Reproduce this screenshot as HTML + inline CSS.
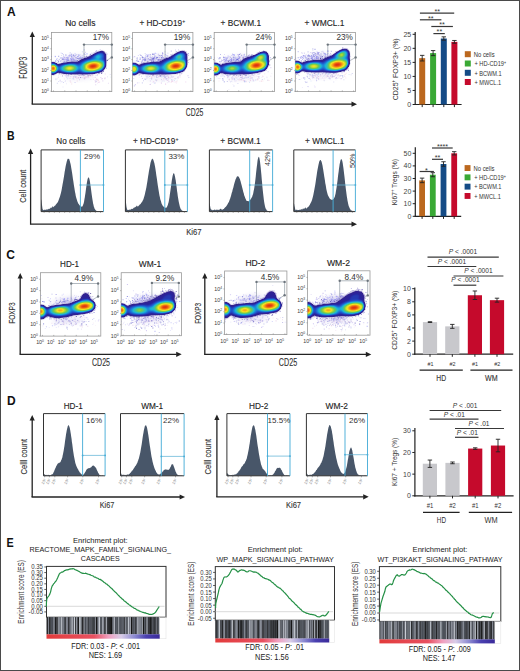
<!DOCTYPE html>
<html><head><meta charset="utf-8"><title>Figure</title>
<style>html,body{margin:0;padding:0;background:#fff;}body{width:520px;height:671px;overflow:hidden;font-family:"Liberation Sans",sans-serif;}svg{display:block;}</style>
</head><body>
<svg width="520" height="671" viewBox="0 0 520 671" font-family='"Liberation Sans", sans-serif'>
<defs>
<filter id="jet" x="-20%" y="-20%" width="140%" height="140%" color-interpolation-filters="sRGB">
<feGaussianBlur stdDeviation="1.1"/>
<feColorMatrix type="matrix" values="1 0 0 0 0 0 1 0 0 0 0 0 1 0 0 1 0 0 0 0"/>
<feComponentTransfer>
<feFuncR type="table" tableValues="1 0.2 0.16 0.12 0.1 0.45 0.97 0.96 0.86"/>
<feFuncG type="table" tableValues="1 0.13 0.14 0.35 0.72 0.8 0.9 0.5 0.14"/>
<feFuncB type="table" tableValues="1 0.56 0.62 0.82 0.86 0.3 0.12 0.08 0.06"/>
<feFuncA type="table" tableValues="0 1 1 1 1 1 1 1 1"/>
</feComponentTransfer>
</filter>
<filter id="soft" color-interpolation-filters="sRGB"><feGaussianBlur stdDeviation="0.35"/></filter>
<filter id="hz" x="-50%" y="-50%" width="200%" height="200%"><feGaussianBlur stdDeviation="2.5"/></filter>
<linearGradient id="rb" x1="0" x2="1" y1="0" y2="0">
<stop offset="0" stop-color="#e23b3b"/>
<stop offset="0.42" stop-color="#e85060"/>
<stop offset="0.55" stop-color="#f0a0c0"/>
<stop offset="0.66" stop-color="#d8cce8"/>
<stop offset="0.78" stop-color="#8a88d0"/>
<stop offset="0.88" stop-color="#4a40b0"/>
<stop offset="1" stop-color="#3a2a9a"/>
</linearGradient>
</defs>
<rect x="0" y="0" width="520" height="671" fill="#fff"/>
<text x="7" y="16.2" font-size="12" text-anchor="start" fill="#111" font-weight="bold">A</text>
<line x1="32.3" y1="104.2" x2="32.3" y2="36.5" stroke="#222" stroke-width="1.3"/>
<polygon points="32.3,31.5 29.7,37 34.9,37" fill="#222"/>
<line x1="31.65" y1="104.2" x2="352" y2="104.2" stroke="#222" stroke-width="1.3"/>
<polygon points="357,104.2 351.5,101.6 351.5,106.8" fill="#222"/>
<text x="26.6" y="67.7" font-size="10" text-anchor="middle" fill="#333" transform="rotate(-90 26.6 67.7)" textLength="22" lengthAdjust="spacingAndGlyphs" stroke="#333" stroke-width="0.12">FOXP3</text>
<text x="194.5" y="115.9" font-size="10.1" text-anchor="middle" fill="#333" textLength="17.6" lengthAdjust="spacingAndGlyphs" stroke="#333" stroke-width="0.12">CD25</text>
<rect x="51.5" y="32.4" width="60.3" height="59.2" fill="none" stroke="#9a9a9a" stroke-width="0.8"/>
<text x="48.9" y="40.2" font-size="5.3" text-anchor="end" fill="#3a3a3a">10<tspan font-size="3.29" dy="-2">5</tspan></text>
<line x1="50.3" y1="38.5" x2="51.5" y2="38.5" stroke="#888" stroke-width="0.6"/>
<text x="48.9" y="50.5" font-size="5.3" text-anchor="end" fill="#3a3a3a">10<tspan font-size="3.29" dy="-2">4</tspan></text>
<line x1="50.3" y1="48.8" x2="51.5" y2="48.8" stroke="#888" stroke-width="0.6"/>
<text x="48.9" y="61.3" font-size="5.3" text-anchor="end" fill="#3a3a3a">10<tspan font-size="3.29" dy="-2">3</tspan></text>
<line x1="50.3" y1="59.6" x2="51.5" y2="59.6" stroke="#888" stroke-width="0.6"/>
<text x="48.9" y="72.1" font-size="5.3" text-anchor="end" fill="#3a3a3a">10<tspan font-size="3.29" dy="-2">2</tspan></text>
<line x1="50.3" y1="70.4" x2="51.5" y2="70.4" stroke="#888" stroke-width="0.6"/>
<text x="48.9" y="82.7" font-size="5.3" text-anchor="end" fill="#3a3a3a">10<tspan font-size="3.29" dy="-2">1</tspan></text>
<line x1="50.3" y1="81" x2="51.5" y2="81" stroke="#888" stroke-width="0.6"/>
<text x="48.9" y="92.9" font-size="5.3" text-anchor="end" fill="#3a3a3a">10<tspan font-size="3.29" dy="-2">0</tspan></text>
<line x1="50.3" y1="91.2" x2="51.5" y2="91.2" stroke="#888" stroke-width="0.6"/>
<line x1="53.5" y1="91.6" x2="53.5" y2="90.4" stroke="#888" stroke-width="0.6"/>
<line x1="64.76" y1="91.6" x2="64.76" y2="90.4" stroke="#888" stroke-width="0.6"/>
<line x1="76.02" y1="91.6" x2="76.02" y2="90.4" stroke="#888" stroke-width="0.6"/>
<line x1="87.28" y1="91.6" x2="87.28" y2="90.4" stroke="#888" stroke-width="0.6"/>
<line x1="98.54" y1="91.6" x2="98.54" y2="90.4" stroke="#888" stroke-width="0.6"/>
<line x1="109.8" y1="91.6" x2="109.8" y2="90.4" stroke="#888" stroke-width="0.6"/>
<polyline points="84,62 84,44.6 111.8,44.6 111.8,57.4" fill="none" stroke="#a4acb4" stroke-width="0.85"/>
<line x1="111.8" y1="57.4" x2="105.8" y2="60.9" stroke="#a4acb4" stroke-width="0.8"/>
<circle cx="84" cy="44.6" r="1.2" fill="#6c747c"/>
<circle cx="111.8" cy="44.6" r="1.2" fill="#6c747c"/>
<circle cx="111.8" cy="57.4" r="1.2" fill="#6c747c"/>
<text x="109.1" y="40.2" font-size="8.2" text-anchor="end" fill="#333">17%</text>
<text x="80.3" y="26.2" font-size="8.8" text-anchor="middle" fill="#222" textLength="30.3" lengthAdjust="spacingAndGlyphs" stroke="#222" stroke-width="0.12">No cells</text>
<clipPath id="ca0"><rect x="51.5" y="32.4" width="60.3" height="59.2"/></clipPath>
<clipPath id="ca0e"><polygon points="48.5,62.8 54.5,63.3 57.8,65.6 60.5,64.4 69.7,63.1 77.7,62.6 81.1,59.9 88.1,57.7 93.1,55.5 98.1,52.8 102.6,51.5 105.1,53.8 105.3,59 104.9,66.2 102.1,70.7 93.1,72.7 81.7,73.5 69.7,73.2 60.5,72.2 57.8,71.2 54.5,73.5 48.5,74.2"/></clipPath>
<g clip-path="url(#ca0)">
<ellipse cx="73.5" cy="60.2" rx="13" ry="4" fill="#b8b0e0" opacity="0.45" filter="url(#hz)" transform="rotate(-8 73.5 60.2)"/>
<ellipse cx="79.5" cy="76.7" rx="15" ry="3" fill="#d0c8ec" opacity="0.35" filter="url(#hz)" transform="rotate(-3 79.5 76.7)"/>
<path d="M70.4 60.8h1.0v1.0h-1.0zM50.7 56.1h1.0v1.0h-1.0zM67.3 58.4h0.7v0.7h-0.7zM60.3 65.5h0.9v0.9h-0.9zM64.1 62.1h1.2v1.2h-1.2zM70.8 59.0h1.0v1.0h-1.0zM44.1 60.2h1.0v1.0h-1.0zM65.7 62.6h0.8v0.8h-0.8zM76.9 58.1h0.8v0.8h-0.8zM70.1 64.6h1.0v1.0h-1.0zM76.4 60.5h0.9v0.9h-0.9zM83.8 49.6h0.7v0.7h-0.7zM66.4 60.9h1.0v1.0h-1.0zM73.2 55.0h1.1v1.1h-1.1zM90.8 59.3h1.1v1.1h-1.1zM88.0 61.4h0.8v0.8h-0.8zM64.5 61.6h1.0v1.0h-1.0zM56.0 63.8h1.2v1.2h-1.2zM60.8 63.6h0.8v0.8h-0.8zM73.2 59.2h0.8v0.8h-0.8zM61.8 53.0h0.8v0.8h-0.8zM71.2 56.3h0.9v0.9h-0.9zM71.3 56.6h0.8v0.8h-0.8zM68.9 61.7h0.9v0.9h-0.9zM68.5 60.4h0.9v0.9h-0.9zM65.3 54.4h1.1v1.1h-1.1zM71.8 64.7h1.2v1.2h-1.2zM63.0 61.7h1.0v1.0h-1.0zM69.8 52.6h0.7v0.7h-0.7zM71.2 53.7h1.0v1.0h-1.0zM84.4 56.3h1.1v1.1h-1.1zM77.8 58.0h1.1v1.1h-1.1zM70.5 61.3h1.0v1.0h-1.0zM74.7 59.9h0.7v0.7h-0.7zM74.5 60.8h0.7v0.7h-0.7zM67.5 57.4h0.7v0.7h-0.7zM69.6 55.5h0.8v0.8h-0.8zM84.1 62.2h0.7v0.7h-0.7z" fill="#5a5ad0" opacity="0.6"/>
<path d="M83.9 61.5h1.2v1.2h-1.2zM51.4 64.6h0.7v0.7h-0.7zM76.2 60.5h0.9v0.9h-0.9zM76.7 60.9h0.8v0.8h-0.8zM76.2 57.5h0.8v0.8h-0.8zM64.0 61.5h0.9v0.9h-0.9zM68.4 61.0h0.8v0.8h-0.8zM76.4 54.0h0.9v0.9h-0.9zM72.9 58.0h0.8v0.8h-0.8zM72.3 57.7h1.1v1.1h-1.1zM75.2 54.8h1.1v1.1h-1.1zM82.0 63.4h1.0v1.0h-1.0zM61.2 55.0h0.7v0.7h-0.7zM66.4 58.8h0.9v0.9h-0.9zM70.9 55.6h0.8v0.8h-0.8zM54.7 55.8h1.0v1.0h-1.0zM72.2 60.1h1.2v1.2h-1.2zM58.8 59.0h1.1v1.1h-1.1zM75.9 60.0h1.0v1.0h-1.0zM72.3 55.5h0.8v0.8h-0.8zM75.5 61.6h0.8v0.8h-0.8zM95.2 51.1h0.9v0.9h-0.9zM53.3 63.5h0.9v0.9h-0.9zM66.1 57.1h1.0v1.0h-1.0zM68.1 57.8h0.9v0.9h-0.9zM78.5 58.6h0.9v0.9h-0.9zM62.0 60.7h0.7v0.7h-0.7zM89.2 59.0h1.1v1.1h-1.1zM79.3 57.6h1.1v1.1h-1.1zM84.2 58.4h1.0v1.0h-1.0zM66.3 61.5h0.9v0.9h-0.9zM85.0 65.3h0.8v0.8h-0.8zM63.5 65.1h0.9v0.9h-0.9zM74.3 60.1h0.8v0.8h-0.8z" fill="#8080e0" opacity="0.4"/>
<path d="M69.6 59.8h0.7v0.7h-0.7zM66.5 68.0h0.8v0.8h-0.8zM71.2 58.2h1.1v1.1h-1.1zM61.9 62.5h0.7v0.7h-0.7zM90.0 53.5h1.0v1.0h-1.0zM79.9 54.5h0.8v0.8h-0.8zM81.7 55.2h1.2v1.2h-1.2zM66.9 58.6h0.9v0.9h-0.9zM68.2 55.1h0.8v0.8h-0.8zM71.2 63.9h1.0v1.0h-1.0zM64.9 58.5h0.7v0.7h-0.7zM68.7 56.2h1.1v1.1h-1.1zM64.4 60.0h1.1v1.1h-1.1zM64.2 60.9h1.0v1.0h-1.0zM74.5 53.3h1.2v1.2h-1.2zM70.4 54.6h1.1v1.1h-1.1zM63.1 56.0h1.1v1.1h-1.1zM60.7 52.6h0.8v0.8h-0.8zM81.2 58.1h0.8v0.8h-0.8zM66.6 64.7h0.7v0.7h-0.7zM62.6 58.4h0.9v0.9h-0.9zM88.8 56.3h0.8v0.8h-0.8zM84.5 60.0h0.9v0.9h-0.9zM88.6 60.8h1.1v1.1h-1.1zM75.3 60.1h0.8v0.8h-0.8zM94.3 61.2h0.9v0.9h-0.9zM72.9 57.0h0.8v0.8h-0.8zM61.1 57.2h1.0v1.0h-1.0zM75.5 58.7h1.0v1.0h-1.0zM72.6 55.6h1.1v1.1h-1.1zM84.8 58.1h1.0v1.0h-1.0z" fill="#9090ff" opacity="0.4"/>
<path d="M64.4 56.7h1.0v1.0h-1.0zM73.5 63.4h1.0v1.0h-1.0zM54.8 56.4h0.9v0.9h-0.9zM63.3 57.4h1.1v1.1h-1.1zM75.5 62.2h1.0v1.0h-1.0zM70.8 60.8h1.1v1.1h-1.1zM57.2 60.1h1.0v1.0h-1.0zM80.8 58.8h0.8v0.8h-0.8zM87.0 60.9h0.9v0.9h-0.9zM72.0 58.4h0.8v0.8h-0.8zM70.6 58.3h0.8v0.8h-0.8zM65.4 65.0h0.7v0.7h-0.7zM91.5 65.1h0.8v0.8h-0.8zM70.9 61.8h0.8v0.8h-0.8zM68.6 62.1h0.9v0.9h-0.9zM70.3 61.5h0.9v0.9h-0.9zM79.3 59.8h0.8v0.8h-0.8zM64.3 58.8h1.2v1.2h-1.2zM82.5 59.4h0.8v0.8h-0.8zM65.9 60.7h0.8v0.8h-0.8zM72.9 59.7h1.0v1.0h-1.0zM74.7 54.9h0.9v0.9h-0.9zM70.5 62.6h1.0v1.0h-1.0zM84.9 51.8h1.0v1.0h-1.0z" fill="#b0a0e8" opacity="0.6"/>
<path d="M81.5 57.9h0.8v0.8h-0.8zM72.4 62.4h0.8v0.8h-0.8zM74.7 56.5h0.8v0.8h-0.8zM82.2 57.4h1.0v1.0h-1.0zM61.2 60.4h0.9v0.9h-0.9zM90.1 53.9h0.8v0.8h-0.8zM42.7 59.9h1.1v1.1h-1.1zM89.9 60.7h0.8v0.8h-0.8zM70.6 61.4h0.8v0.8h-0.8zM80.0 60.5h1.0v1.0h-1.0zM59.9 57.6h1.0v1.0h-1.0zM80.6 62.1h1.2v1.2h-1.2zM78.3 54.9h1.2v1.2h-1.2zM88.5 60.8h0.9v0.9h-0.9zM71.4 61.9h1.1v1.1h-1.1zM55.6 60.6h0.7v0.7h-0.7zM78.3 54.2h1.1v1.1h-1.1zM81.2 60.0h0.8v0.8h-0.8zM76.2 57.5h0.7v0.7h-0.7zM75.2 61.6h1.0v1.0h-1.0zM81.9 51.4h0.8v0.8h-0.8zM69.3 54.4h1.1v1.1h-1.1zM59.8 60.6h1.1v1.1h-1.1zM79.2 57.4h1.1v1.1h-1.1zM67.6 59.4h1.2v1.2h-1.2zM89.0 55.8h0.8v0.8h-0.8zM72.0 59.3h0.7v0.7h-0.7zM82.9 64.1h1.2v1.2h-1.2z" fill="#8080e0" opacity="0.6"/>
<path d="M64.1 56.9h0.8v0.8h-0.8zM68.8 55.7h0.8v0.8h-0.8zM75.4 59.4h0.8v0.8h-0.8zM86.1 55.0h0.8v0.8h-0.8zM83.2 59.1h0.9v0.9h-0.9zM73.9 58.7h1.0v1.0h-1.0zM70.8 67.3h1.2v1.2h-1.2zM67.6 57.4h0.8v0.8h-0.8zM89.6 64.2h1.1v1.1h-1.1zM65.7 55.4h0.8v0.8h-0.8zM66.1 60.6h0.8v0.8h-0.8zM73.2 55.4h1.0v1.0h-1.0zM73.6 61.5h1.2v1.2h-1.2zM76.2 57.2h0.8v0.8h-0.8zM68.1 56.6h0.9v0.9h-0.9zM70.8 56.5h0.7v0.7h-0.7zM77.4 56.3h0.9v0.9h-0.9zM66.5 60.6h1.2v1.2h-1.2zM70.0 60.0h0.9v0.9h-0.9zM71.7 56.9h1.1v1.1h-1.1zM69.7 59.7h0.8v0.8h-0.8zM62.9 58.0h1.1v1.1h-1.1zM72.7 58.0h1.0v1.0h-1.0zM68.0 57.1h0.9v0.9h-0.9zM70.2 60.8h1.1v1.1h-1.1z" fill="#b0a0e8" opacity="0.4"/>
<path d="M73.1 62.3h1.1v1.1h-1.1zM74.6 61.1h0.9v0.9h-0.9zM61.6 57.5h1.2v1.2h-1.2zM61.7 58.5h1.1v1.1h-1.1zM80.3 61.9h1.1v1.1h-1.1zM64.1 61.8h0.8v0.8h-0.8zM79.2 58.0h1.1v1.1h-1.1zM84.3 57.2h1.1v1.1h-1.1zM81.5 58.7h0.9v0.9h-0.9zM82.1 60.4h1.1v1.1h-1.1zM65.9 60.5h0.7v0.7h-0.7zM73.8 62.9h1.0v1.0h-1.0zM74.6 60.6h0.9v0.9h-0.9zM84.9 54.1h0.7v0.7h-0.7zM80.1 65.4h1.0v1.0h-1.0zM86.4 59.9h0.9v0.9h-0.9zM57.5 62.3h1.1v1.1h-1.1zM80.4 57.5h0.8v0.8h-0.8zM58.0 55.8h1.2v1.2h-1.2zM74.1 55.9h0.8v0.8h-0.8zM71.0 60.0h0.9v0.9h-0.9zM80.8 59.1h1.0v1.0h-1.0zM72.9 54.2h1.1v1.1h-1.1zM92.2 56.4h0.7v0.7h-0.7zM83.2 59.9h0.9v0.9h-0.9zM66.8 61.8h0.9v0.9h-0.9zM82.4 62.3h1.0v1.0h-1.0z" fill="#5a5ad0" opacity="0.4"/>
<path d="M66.5 60.8h0.8v0.8h-0.8zM68.1 59.5h0.9v0.9h-0.9zM70.1 58.1h1.2v1.2h-1.2zM63.6 57.3h1.0v1.0h-1.0zM56.1 59.2h0.9v0.9h-0.9zM88.2 61.1h1.1v1.1h-1.1zM72.7 58.6h1.0v1.0h-1.0zM81.0 59.4h0.7v0.7h-0.7zM56.6 58.2h1.0v1.0h-1.0zM86.7 60.3h1.2v1.2h-1.2zM74.7 64.6h0.8v0.8h-0.8zM66.1 64.2h1.1v1.1h-1.1zM76.5 61.0h1.2v1.2h-1.2zM71.4 60.9h0.8v0.8h-0.8zM74.1 62.7h1.2v1.2h-1.2zM79.2 59.0h0.8v0.8h-0.8zM77.3 56.2h1.1v1.1h-1.1zM76.4 61.0h0.7v0.7h-0.7zM71.0 59.5h1.0v1.0h-1.0zM91.8 61.0h1.2v1.2h-1.2zM55.0 56.1h0.8v0.8h-0.8zM77.3 63.4h1.0v1.0h-1.0zM71.2 55.6h1.0v1.0h-1.0zM86.4 53.3h1.2v1.2h-1.2zM74.0 59.2h0.9v0.9h-0.9z" fill="#9090ff" opacity="0.6"/>
<path d="M71.2 62.5h0.9v0.9h-0.9zM80.2 56.6h0.9v0.9h-0.9zM77.5 56.1h0.9v0.9h-0.9zM55.0 60.6h1.2v1.2h-1.2zM80.8 57.3h1.0v1.0h-1.0zM55.2 63.8h1.1v1.1h-1.1zM76.3 60.1h0.7v0.7h-0.7zM72.7 60.7h0.7v0.7h-0.7zM65.7 59.0h1.1v1.1h-1.1zM82.0 61.3h1.1v1.1h-1.1zM67.2 56.8h0.9v0.9h-0.9z" fill="#9090ff" opacity="0.8"/>
<path d="M65.7 57.3h1.1v1.1h-1.1zM74.9 57.2h1.1v1.1h-1.1zM69.2 54.9h0.9v0.9h-0.9zM75.4 63.6h0.7v0.7h-0.7zM78.5 58.2h0.7v0.7h-0.7zM72.6 61.8h1.1v1.1h-1.1z" fill="#b0a0e8" opacity="0.8"/>
<path d="M62.9 54.6h0.7v0.7h-0.7zM66.8 60.2h0.9v0.9h-0.9zM61.9 58.9h0.9v0.9h-0.9zM82.4 57.1h0.7v0.7h-0.7zM73.2 60.8h0.8v0.8h-0.8zM58.1 60.8h0.9v0.9h-0.9zM67.4 58.7h0.9v0.9h-0.9zM77.0 61.7h0.9v0.9h-0.9z" fill="#5a5ad0" opacity="0.8"/>
<path d="M72.4 60.9h1.0v1.0h-1.0zM83.8 53.4h1.0v1.0h-1.0zM63.2 59.1h1.1v1.1h-1.1z" fill="#8080e0" opacity="0.8"/>
<path d="M63.8 78.6h1.0v1.0h-1.0zM80.3 72.7h0.9v0.9h-0.9zM66.1 76.7h0.9v0.9h-0.9zM76.1 76.2h1.1v1.1h-1.1zM97.3 82.8h0.7v0.7h-0.7zM70.7 72.5h0.9v0.9h-0.9zM76.5 78.4h0.9v0.9h-0.9zM97.9 82.0h1.1v1.1h-1.1zM98.5 74.2h0.8v0.8h-0.8zM73.5 76.7h1.0v1.0h-1.0zM94.8 77.0h1.0v1.0h-1.0zM96.2 81.0h0.9v0.9h-0.9zM98.9 81.5h1.2v1.2h-1.2zM96.3 79.3h1.1v1.1h-1.1zM76.2 77.2h1.2v1.2h-1.2zM100.8 78.4h1.0v1.0h-1.0zM104.7 77.3h0.9v0.9h-0.9zM94.6 80.1h1.0v1.0h-1.0zM85.2 76.5h1.2v1.2h-1.2zM91.9 73.1h0.9v0.9h-0.9zM77.6 77.6h1.0v1.0h-1.0z" fill="#e0b0e0" opacity="0.4"/>
<path d="M71.5 73.1h1.0v1.0h-1.0zM75.7 72.9h0.9v0.9h-0.9zM75.0 75.8h1.2v1.2h-1.2zM90.4 71.7h0.9v0.9h-0.9zM66.4 77.2h0.7v0.7h-0.7zM112.5 77.2h1.0v1.0h-1.0zM58.1 74.6h0.8v0.8h-0.8zM62.5 72.8h1.1v1.1h-1.1zM95.3 80.6h1.2v1.2h-1.2zM66.8 78.3h0.9v0.9h-0.9zM81.2 77.2h0.7v0.7h-0.7zM83.7 78.2h0.9v0.9h-0.9zM110.4 76.7h0.7v0.7h-0.7zM90.2 69.8h0.8v0.8h-0.8zM97.0 78.9h0.9v0.9h-0.9zM78.3 72.9h1.1v1.1h-1.1zM84.4 78.7h0.8v0.8h-0.8z" fill="#a0c0f0" opacity="0.4"/>
<path d="M76.4 71.3h0.8v0.8h-0.8zM78.8 75.2h0.8v0.8h-0.8zM92.1 73.9h1.0v1.0h-1.0zM78.2 77.4h1.0v1.0h-1.0zM81.3 74.5h1.1v1.1h-1.1zM69.7 80.4h1.0v1.0h-1.0zM96.1 78.6h1.1v1.1h-1.1zM92.9 79.2h0.8v0.8h-0.8zM104.8 73.5h0.9v0.9h-0.9zM94.8 81.4h1.2v1.2h-1.2zM90.2 75.6h1.0v1.0h-1.0zM69.5 78.0h0.8v0.8h-0.8zM104.5 77.7h0.8v0.8h-0.8z" fill="#e0b0e0" opacity="0.6"/>
<path d="M95.1 84.2h1.1v1.1h-1.1zM81.8 73.6h0.8v0.8h-0.8zM107.9 82.8h0.9v0.9h-0.9zM92.6 73.0h0.8v0.8h-0.8zM83.7 78.4h0.9v0.9h-0.9zM101.7 78.0h1.2v1.2h-1.2zM84.3 77.4h1.1v1.1h-1.1zM100.3 77.0h1.1v1.1h-1.1zM79.0 78.9h0.8v0.8h-0.8zM77.1 68.4h0.9v0.9h-0.9zM78.0 77.0h1.1v1.1h-1.1zM75.0 76.7h0.8v0.8h-0.8zM96.0 69.8h0.8v0.8h-0.8zM94.8 76.7h0.7v0.7h-0.7zM65.7 71.5h1.1v1.1h-1.1zM90.5 79.3h0.8v0.8h-0.8zM102.3 80.3h1.1v1.1h-1.1z" fill="#c0a0e0" opacity="0.4"/>
<path d="M93.2 74.6h0.7v0.7h-0.7zM83.0 76.5h0.8v0.8h-0.8zM75.3 70.7h0.8v0.8h-0.8zM95.6 79.0h1.0v1.0h-1.0zM80.0 77.6h0.7v0.7h-0.7zM96.7 75.4h0.8v0.8h-0.8zM62.4 74.0h0.8v0.8h-0.8zM83.8 76.4h1.1v1.1h-1.1zM73.0 76.8h0.9v0.9h-0.9zM57.6 77.5h0.7v0.7h-0.7zM61.9 74.9h0.8v0.8h-0.8zM84.8 73.6h1.0v1.0h-1.0zM97.5 78.8h1.1v1.1h-1.1zM76.7 80.4h1.2v1.2h-1.2zM71.1 83.4h1.1v1.1h-1.1zM54.8 72.6h0.8v0.8h-0.8zM95.9 72.3h1.0v1.0h-1.0zM88.5 74.9h1.2v1.2h-1.2zM90.0 74.7h1.1v1.1h-1.1zM91.1 75.3h0.8v0.8h-0.8z" fill="#f0c0d0" opacity="0.4"/>
<path d="M68.2 74.4h1.1v1.1h-1.1zM47.9 79.2h0.8v0.8h-0.8zM79.2 79.6h0.7v0.7h-0.7zM70.6 69.2h0.7v0.7h-0.7zM96.9 74.5h1.0v1.0h-1.0zM56.9 71.5h1.1v1.1h-1.1zM109.8 74.3h0.7v0.7h-0.7zM95.7 81.6h0.7v0.7h-0.7z" fill="#a0a0e0" opacity="0.6"/>
<path d="M76.8 75.1h0.9v0.9h-0.9zM88.4 75.2h0.8v0.8h-0.8zM84.9 75.9h1.1v1.1h-1.1zM88.9 74.5h0.8v0.8h-0.8zM92.4 74.2h0.7v0.7h-0.7z" fill="#f0c0d0" opacity="0.2"/>
<path d="M82.1 77.0h1.1v1.1h-1.1zM87.6 76.4h1.0v1.0h-1.0zM103.6 72.6h0.7v0.7h-0.7zM92.6 77.2h1.0v1.0h-1.0zM67.4 77.5h1.1v1.1h-1.1z" fill="#c0a0e0" opacity="0.2"/>
<path d="M68.6 72.4h1.0v1.0h-1.0zM70.4 81.8h0.9v0.9h-0.9zM88.0 76.4h1.2v1.2h-1.2zM79.6 74.0h1.0v1.0h-1.0zM91.8 75.7h0.7v0.7h-0.7zM97.2 74.1h0.8v0.8h-0.8zM97.6 80.0h1.2v1.2h-1.2zM84.3 77.7h1.1v1.1h-1.1z" fill="#f0c0d0" opacity="0.6"/>
<path d="M75.9 73.3h0.8v0.8h-0.8zM93.4 72.1h0.9v0.9h-0.9zM92.3 72.0h1.0v1.0h-1.0zM72.6 78.1h1.1v1.1h-1.1zM95.6 74.9h0.9v0.9h-0.9z" fill="#a0c0f0" opacity="0.6"/>
<path d="M84.3 75.0h1.1v1.1h-1.1zM87.2 75.0h1.0v1.0h-1.0zM69.9 77.7h0.8v0.8h-0.8zM74.5 76.5h0.8v0.8h-0.8zM73.3 78.7h1.1v1.1h-1.1z" fill="#a0a0e0" opacity="0.2"/>
<path d="M85.9 74.2h0.9v0.9h-0.9zM94.5 74.4h0.7v0.7h-0.7zM78.4 74.8h1.0v1.0h-1.0z" fill="#a0c0f0" opacity="0.2"/>
<path d="M104.4 78.3h0.9v0.9h-0.9zM86.7 76.3h1.0v1.0h-1.0zM74.3 74.6h0.7v0.7h-0.7zM75.1 77.2h0.8v0.8h-0.8zM92.0 74.2h1.2v1.2h-1.2zM88.1 75.7h0.9v0.9h-0.9zM65.3 74.6h0.8v0.8h-0.8z" fill="#c0a0e0" opacity="0.6"/>
<path d="M85.9 77.1h1.0v1.0h-1.0z" fill="#e0b0e0" opacity="0.2"/>
<path d="M84.4 77.6h0.7v0.7h-0.7zM74.0 75.8h0.7v0.7h-0.7zM60.5 73.6h1.1v1.1h-1.1zM107.0 76.4h0.9v0.9h-0.9zM67.1 74.9h1.2v1.2h-1.2z" fill="#a0a0e0" opacity="0.4"/>
<path d="M65.0 75.7h0.9v0.9h-0.9zM64.2 74.6h1.0v1.0h-1.0zM65.9 83.4h0.9v0.9h-0.9zM47.8 72.2h0.9v0.9h-0.9zM68.1 74.7h0.9v0.9h-0.9zM53.2 75.0h1.1v1.1h-1.1zM73.2 76.1h1.0v1.0h-1.0zM58.5 72.9h0.9v0.9h-0.9zM59.7 79.6h1.0v1.0h-1.0zM72.8 76.2h1.2v1.2h-1.2zM65.2 79.9h0.8v0.8h-0.8zM62.6 86.6h0.8v0.8h-0.8zM70.3 75.9h1.0v1.0h-1.0zM60.4 75.6h0.9v0.9h-0.9zM66.2 74.7h0.8v0.8h-0.8zM55.1 78.4h1.2v1.2h-1.2zM66.4 70.7h0.8v0.8h-0.8zM70.8 62.1h1.1v1.1h-1.1z" fill="#c0b0f0" opacity="0.4"/>
<path d="M59.6 80.4h1.2v1.2h-1.2zM72.5 69.1h0.7v0.7h-0.7zM58.6 73.0h1.0v1.0h-1.0zM61.5 73.6h0.8v0.8h-0.8zM57.2 70.7h1.1v1.1h-1.1zM66.4 75.7h1.1v1.1h-1.1zM63.0 73.8h0.9v0.9h-0.9z" fill="#c0b0f0" opacity="0.6"/>
<path d="M55.6 79.3h0.9v0.9h-0.9zM64.7 80.9h1.2v1.2h-1.2z" fill="#9090e0" opacity="0.2"/>
<path d="M56.7 78.5h0.7v0.7h-0.7zM56.9 70.9h1.1v1.1h-1.1zM63.0 82.0h0.9v0.9h-0.9zM61.4 81.2h1.0v1.0h-1.0zM58.0 76.8h0.8v0.8h-0.8zM68.0 75.5h1.1v1.1h-1.1zM56.8 82.7h1.0v1.0h-1.0zM58.0 81.2h0.9v0.9h-0.9z" fill="#9090e0" opacity="0.4"/>
<path d="M46.5 86.4h0.9v0.9h-0.9zM51.3 69.7h0.9v0.9h-0.9zM69.9 72.7h0.8v0.8h-0.8zM74.6 81.9h0.9v0.9h-0.9z" fill="#9090e0" opacity="0.6"/>
<path d="M60.2 82.8h0.8v0.8h-0.8z" fill="#c0b0f0" opacity="0.2"/>
<path d="M103.7 68.2h1.0v1.0h-1.0zM64.7 61.5h0.7v0.7h-0.7zM76.4 74.1h0.9v0.9h-0.9zM72.5 60.6h0.9v0.9h-0.9zM87.5 56.7h0.8v0.8h-0.8zM105.8 52.2h0.7v0.7h-0.7zM74.2 61.2h0.7v0.7h-0.7zM80.7 74.5h0.9v0.9h-0.9zM66.0 61.4h0.6v0.6h-0.6zM94.1 52.4h0.9v0.9h-0.9zM81.8 73.9h0.8v0.8h-0.8z" fill="#6a60c8" opacity="0.4"/>
<path d="M89.4 73.6h0.8v0.8h-0.8zM80.6 75.4h0.6v0.6h-0.6zM63.5 61.7h0.7v0.7h-0.7zM53.7 64.1h0.6v0.6h-0.6zM91.6 52.7h0.7v0.7h-0.7zM92.7 53.7h0.8v0.8h-0.8zM87.0 74.5h0.7v0.7h-0.7zM63.2 62.8h0.9v0.9h-0.9zM87.6 56.6h0.7v0.7h-0.7zM68.1 62.3h0.9v0.9h-0.9zM91.5 55.0h0.7v0.7h-0.7zM77.5 73.5h0.9v0.9h-0.9z" fill="#5040b0" opacity="0.6"/>
<path d="M89.3 73.3h0.6v0.6h-0.6zM76.7 73.5h0.7v0.7h-0.7zM56.7 70.6h0.7v0.7h-0.7zM101.1 72.3h0.9v0.9h-0.9zM80.0 77.2h0.8v0.8h-0.8zM60.8 63.1h0.8v0.8h-0.8zM70.8 73.9h0.6v0.6h-0.6z" fill="#2a1a8a" opacity="0.6"/>
<path d="M61.4 63.3h0.7v0.7h-0.7zM61.6 63.2h0.7v0.7h-0.7zM107.2 60.2h0.9v0.9h-0.9zM65.7 62.3h0.9v0.9h-0.9zM90.9 73.9h0.9v0.9h-0.9zM106.4 61.4h0.8v0.8h-0.8zM57.6 61.8h0.7v0.7h-0.7zM76.0 61.3h0.8v0.8h-0.8zM91.9 73.0h0.9v0.9h-0.9zM102.6 70.8h0.7v0.7h-0.7z" fill="#8078d8" opacity="0.6"/>
<path d="M54.9 72.0h1.0v1.0h-1.0zM98.1 73.3h0.6v0.6h-0.6zM55.8 66.0h0.8v0.8h-0.8zM106.5 53.6h0.8v0.8h-0.8zM101.1 71.2h0.7v0.7h-0.7z" fill="#8078d8" opacity="0.8"/>
<path d="M97.6 72.2h0.7v0.7h-0.7zM56.0 66.6h0.9v0.9h-0.9zM78.2 58.9h0.8v0.8h-0.8zM74.3 60.1h1.0v1.0h-1.0zM95.4 52.5h0.7v0.7h-0.7zM76.7 73.3h1.0v1.0h-1.0zM106.3 53.9h0.9v0.9h-0.9zM53.9 63.7h0.8v0.8h-0.8zM96.8 71.8h0.8v0.8h-0.8zM69.1 60.8h0.7v0.7h-0.7z" fill="#8078d8" opacity="0.4"/>
<path d="M77.0 74.3h0.7v0.7h-0.7zM89.7 54.8h0.9v0.9h-0.9zM86.1 56.7h0.6v0.6h-0.6zM97.6 50.8h0.9v0.9h-0.9zM90.0 72.9h0.7v0.7h-0.7zM62.0 75.6h0.8v0.8h-0.8zM60.2 63.7h0.6v0.6h-0.6zM66.9 62.7h0.6v0.6h-0.6z" fill="#3a2a9a" opacity="0.4"/>
<path d="M89.8 74.9h0.6v0.6h-0.6zM95.7 53.2h0.7v0.7h-0.7zM58.9 73.3h0.9v0.9h-0.9zM54.0 63.9h0.6v0.6h-0.6zM70.9 74.3h0.8v0.8h-0.8zM82.6 73.8h0.9v0.9h-0.9zM99.4 73.1h0.7v0.7h-0.7zM80.6 58.3h0.7v0.7h-0.7zM57.7 64.2h0.7v0.7h-0.7zM86.1 56.0h0.9v0.9h-0.9zM89.5 56.0h0.8v0.8h-0.8zM98.2 73.4h0.6v0.6h-0.6zM68.4 60.4h0.7v0.7h-0.7zM95.4 52.8h0.9v0.9h-0.9z" fill="#3a2a9a" opacity="0.6"/>
<path d="M99.8 49.1h0.6v0.6h-0.6zM87.5 56.4h0.8v0.8h-0.8zM105.9 65.6h0.7v0.7h-0.7zM78.7 75.1h0.8v0.8h-0.8zM91.6 73.0h0.7v0.7h-0.7zM93.5 52.5h0.8v0.8h-0.8zM63.4 62.6h0.7v0.7h-0.7zM105.8 56.6h0.6v0.6h-0.6zM96.9 72.4h0.8v0.8h-0.8zM95.5 72.8h0.7v0.7h-0.7zM92.4 54.6h0.9v0.9h-0.9zM66.1 74.7h0.6v0.6h-0.6zM95.5 53.0h0.7v0.7h-0.7z" fill="#6a60c8" opacity="0.6"/>
<path d="M95.8 72.7h0.7v0.7h-0.7zM71.6 61.2h0.8v0.8h-0.8zM53.8 71.5h0.8v0.8h-0.8zM78.2 61.0h0.7v0.7h-0.7zM68.1 73.9h0.7v0.7h-0.7zM101.2 72.9h0.8v0.8h-0.8zM107.0 60.2h0.9v0.9h-0.9zM54.9 64.4h0.9v0.9h-0.9z" fill="#2a1a8a" opacity="0.8"/>
<path d="M62.3 72.8h1.0v1.0h-1.0zM86.3 73.2h1.0v1.0h-1.0zM59.4 63.6h0.9v0.9h-0.9zM89.8 75.5h0.6v0.6h-0.6zM71.5 61.4h0.8v0.8h-0.8zM62.5 62.9h0.9v0.9h-0.9zM63.3 73.2h0.9v0.9h-0.9zM71.5 62.1h0.7v0.7h-0.7z" fill="#6a60c8" opacity="0.8"/>
<path d="M77.0 60.1h0.8v0.8h-0.8zM105.7 55.4h0.6v0.6h-0.6zM82.0 74.4h0.9v0.9h-0.9zM88.4 74.7h0.7v0.7h-0.7zM75.2 74.4h0.7v0.7h-0.7zM105.9 67.7h0.8v0.8h-0.8zM95.9 50.6h0.8v0.8h-0.8zM54.2 71.0h0.8v0.8h-0.8zM66.0 73.6h0.8v0.8h-0.8z" fill="#5040b0" opacity="0.8"/>
<path d="M103.0 51.4h0.8v0.8h-0.8zM103.3 50.9h1.0v1.0h-1.0zM89.5 73.0h1.0v1.0h-1.0zM101.8 72.4h0.8v0.8h-0.8zM89.8 54.5h0.9v0.9h-0.9zM103.2 71.1h0.8v0.8h-0.8zM98.7 72.4h0.9v0.9h-0.9zM83.5 74.9h0.8v0.8h-0.8zM70.5 73.7h1.0v1.0h-1.0zM54.5 69.5h0.7v0.7h-0.7z" fill="#3a2a9a" opacity="0.8"/>
<path d="M59.1 62.9h0.7v0.7h-0.7zM71.4 61.9h0.7v0.7h-0.7zM86.2 73.1h0.7v0.7h-0.7zM88.9 73.4h0.9v0.9h-0.9zM94.3 53.6h0.9v0.9h-0.9zM94.0 52.9h0.9v0.9h-0.9zM75.5 61.7h0.8v0.8h-0.8zM85.0 57.7h0.7v0.7h-0.7zM82.4 73.6h0.8v0.8h-0.8zM88.3 55.9h1.0v1.0h-1.0z" fill="#2a1a8a" opacity="0.4"/>
<path d="M87.3 74.4h0.9v0.9h-0.9zM101.5 50.1h0.7v0.7h-0.7zM105.2 60.1h1.0v1.0h-1.0zM95.8 72.4h0.7v0.7h-0.7zM91.7 72.8h0.9v0.9h-0.9zM77.9 74.0h0.7v0.7h-0.7zM89.3 56.1h0.8v0.8h-0.8z" fill="#5040b0" opacity="0.4"/>
<g filter="url(#jet)">
<rect x="47.5" y="28.4" width="68.3" height="67.2" fill="#000"/>
<polygon points="48.5,62.8 54.5,63.3 57.8,65.6 60.5,64.4 69.7,63.1 77.7,62.6 81.1,59.9 88.1,57.7 93.1,55.5 98.1,52.8 102.6,51.5 105.1,53.8 105.3,59 104.9,66.2 102.1,70.7 93.1,72.7 81.7,73.5 69.7,73.2 60.5,72.2 57.8,71.2 54.5,73.5 48.5,74.2" fill="rgb(51,51,51)" stroke="rgb(51,51,51)" stroke-width="1" stroke-linejoin="round"/>
<g clip-path="url(#ca0e)">
<ellipse cx="53.2" cy="68.4" rx="6.14" ry="6.33" fill="rgb(76,76,76)" transform="rotate(0 53.2 68.4)"/>
<ellipse cx="69.7" cy="68.2" rx="13.78" ry="6.05" fill="rgb(76,76,76)" transform="rotate(-2 69.7 68.2)"/>
<ellipse cx="82.4" cy="67.2" rx="9.44" ry="4.15" fill="rgb(76,76,76)" transform="rotate(-6 82.4 67.2)"/>
<ellipse cx="93.1" cy="66.2" rx="17.69" ry="8.57" fill="rgb(76,76,76)" transform="rotate(-8 93.1 66.2)"/>
<ellipse cx="98.1" cy="57" rx="8.31" ry="5.9" fill="rgb(76,76,76)" transform="rotate(-18 98.1 57)"/>
<ellipse cx="53.2" cy="68.4" rx="5.22" ry="5.37" fill="rgb(107,107,107)" transform="rotate(0 53.2 68.4)"/>
<ellipse cx="69.7" cy="68.2" rx="11.17" ry="4.9" fill="rgb(107,107,107)" transform="rotate(-2 69.7 68.2)"/>
<ellipse cx="82.4" cy="67.2" rx="5.88" ry="2.59" fill="rgb(107,107,107)" transform="rotate(-6 82.4 67.2)"/>
<ellipse cx="93.1" cy="66.2" rx="15.02" ry="7.27" fill="rgb(107,107,107)" transform="rotate(-8 93.1 66.2)"/>
<ellipse cx="98.1" cy="57" rx="5.64" ry="4.01" fill="rgb(107,107,107)" transform="rotate(-18 98.1 57)"/>
<ellipse cx="53.2" cy="68.4" rx="4.33" ry="4.46" fill="rgb(140,140,140)" transform="rotate(0 53.2 68.4)"/>
<ellipse cx="69.7" cy="68.2" rx="8.52" ry="3.74" fill="rgb(140,140,140)" transform="rotate(-2 69.7 68.2)"/>
<ellipse cx="93.1" cy="66.2" rx="12.47" ry="6.04" fill="rgb(140,140,140)" transform="rotate(-8 93.1 66.2)"/>
<ellipse cx="53.2" cy="68.4" rx="3.48" ry="3.58" fill="rgb(173,173,173)" transform="rotate(0 53.2 68.4)"/>
<ellipse cx="69.7" cy="68.2" rx="5.61" ry="2.46" fill="rgb(173,173,173)" transform="rotate(-2 69.7 68.2)"/>
<ellipse cx="93.1" cy="66.2" rx="10.01" ry="4.85" fill="rgb(173,173,173)" transform="rotate(-8 93.1 66.2)"/>
<ellipse cx="53.2" cy="68.4" rx="2.65" ry="2.73" fill="rgb(204,204,204)" transform="rotate(0 53.2 68.4)"/>
<ellipse cx="93.1" cy="66.2" rx="7.62" ry="3.69" fill="rgb(204,204,204)" transform="rotate(-8 93.1 66.2)"/>
<ellipse cx="53.2" cy="68.4" rx="1.62" ry="1.67" fill="rgb(235,235,235)" transform="rotate(0 53.2 68.4)"/>
<ellipse cx="93.1" cy="66.2" rx="4.66" ry="2.25" fill="rgb(235,235,235)" transform="rotate(-8 93.1 66.2)"/>
<ellipse cx="53.2" cy="68.4" rx="1.19" ry="1.22" fill="rgb(255,255,255)" transform="rotate(0 53.2 68.4)"/>
<ellipse cx="69.7" cy="68.2" rx="2.95" ry="1.3" fill="rgb(204,204,204)" transform="rotate(-2 69.7 68.2)"/>
<ellipse cx="82.4" cy="67.2" rx="2.7" ry="1.19" fill="rgb(133,133,133)" transform="rotate(-6 82.4 67.2)"/>
<ellipse cx="93.1" cy="66.2" rx="3.42" ry="1.66" fill="rgb(255,255,255)" transform="rotate(-8 93.1 66.2)"/>
<ellipse cx="98.1" cy="57" rx="2.23" ry="1.58" fill="rgb(143,143,143)" transform="rotate(-18 98.1 57)"/>
</g>
</g>
</g>
<rect x="132.6" y="32.4" width="60.3" height="59.2" fill="none" stroke="#9a9a9a" stroke-width="0.8"/>
<text x="130" y="40.2" font-size="5.3" text-anchor="end" fill="#3a3a3a">10<tspan font-size="3.29" dy="-2">5</tspan></text>
<line x1="131.4" y1="38.5" x2="132.6" y2="38.5" stroke="#888" stroke-width="0.6"/>
<text x="130" y="50.5" font-size="5.3" text-anchor="end" fill="#3a3a3a">10<tspan font-size="3.29" dy="-2">4</tspan></text>
<line x1="131.4" y1="48.8" x2="132.6" y2="48.8" stroke="#888" stroke-width="0.6"/>
<text x="130" y="61.3" font-size="5.3" text-anchor="end" fill="#3a3a3a">10<tspan font-size="3.29" dy="-2">3</tspan></text>
<line x1="131.4" y1="59.6" x2="132.6" y2="59.6" stroke="#888" stroke-width="0.6"/>
<text x="130" y="72.1" font-size="5.3" text-anchor="end" fill="#3a3a3a">10<tspan font-size="3.29" dy="-2">2</tspan></text>
<line x1="131.4" y1="70.4" x2="132.6" y2="70.4" stroke="#888" stroke-width="0.6"/>
<text x="130" y="82.7" font-size="5.3" text-anchor="end" fill="#3a3a3a">10<tspan font-size="3.29" dy="-2">1</tspan></text>
<line x1="131.4" y1="81" x2="132.6" y2="81" stroke="#888" stroke-width="0.6"/>
<text x="130" y="92.9" font-size="5.3" text-anchor="end" fill="#3a3a3a">10<tspan font-size="3.29" dy="-2">0</tspan></text>
<line x1="131.4" y1="91.2" x2="132.6" y2="91.2" stroke="#888" stroke-width="0.6"/>
<line x1="134.6" y1="91.6" x2="134.6" y2="90.4" stroke="#888" stroke-width="0.6"/>
<line x1="145.86" y1="91.6" x2="145.86" y2="90.4" stroke="#888" stroke-width="0.6"/>
<line x1="157.12" y1="91.6" x2="157.12" y2="90.4" stroke="#888" stroke-width="0.6"/>
<line x1="168.38" y1="91.6" x2="168.38" y2="90.4" stroke="#888" stroke-width="0.6"/>
<line x1="179.64" y1="91.6" x2="179.64" y2="90.4" stroke="#888" stroke-width="0.6"/>
<line x1="190.9" y1="91.6" x2="190.9" y2="90.4" stroke="#888" stroke-width="0.6"/>
<polyline points="165.1,62 165.1,44.6 192.9,44.6 192.9,57.4" fill="none" stroke="#a4acb4" stroke-width="0.85"/>
<line x1="192.9" y1="57.4" x2="186.9" y2="60.9" stroke="#a4acb4" stroke-width="0.8"/>
<circle cx="165.1" cy="44.6" r="1.2" fill="#6c747c"/>
<circle cx="192.9" cy="44.6" r="1.2" fill="#6c747c"/>
<circle cx="192.9" cy="57.4" r="1.2" fill="#6c747c"/>
<text x="190.2" y="40.2" font-size="8.2" text-anchor="end" fill="#333">19%</text>
<text x="162.3" y="26.2" font-size="8.8" text-anchor="middle" fill="#222" textLength="45.8" lengthAdjust="spacingAndGlyphs" stroke="#222" stroke-width="0.12">+ HD-CD19<tspan font-size="5.5" dy="-3">+</tspan></text>
<clipPath id="ca1"><rect x="132.6" y="32.4" width="60.3" height="59.2"/></clipPath>
<clipPath id="ca1e"><polygon points="129.6,63.4 135.6,63.9 138.9,66.2 141.6,64.6 150.9,63.3 158.9,62.8 163.8,59.7 170.8,57.5 174.1,55.4 179.1,52.7 183.6,51.4 186.1,53.7 186.3,58.9 185.9,66 183.1,70.5 175.8,72.5 162.9,73.7 150.9,73.4 141.6,72.8 138.9,71.8 135.6,74.1 129.6,74.8"/></clipPath>
<g clip-path="url(#ca1)">
<ellipse cx="154.6" cy="60.4" rx="13" ry="4" fill="#b8b0e0" opacity="0.45" filter="url(#hz)" transform="rotate(-8 154.6 60.4)"/>
<ellipse cx="160.6" cy="76.9" rx="15" ry="3" fill="#d0c8ec" opacity="0.35" filter="url(#hz)" transform="rotate(-3 160.6 76.9)"/>
<path d="M153.0 59.1h0.8v0.8h-0.8zM167.6 52.7h0.7v0.7h-0.7zM152.4 59.4h1.1v1.1h-1.1zM147.3 55.2h0.8v0.8h-0.8zM155.5 60.9h0.7v0.7h-0.7zM153.0 66.3h1.0v1.0h-1.0zM163.7 60.0h1.0v1.0h-1.0zM137.3 60.4h1.1v1.1h-1.1zM153.9 61.0h0.8v0.8h-0.8zM149.3 59.1h0.9v0.9h-0.9zM178.0 60.2h0.9v0.9h-0.9zM162.4 60.8h0.7v0.7h-0.7zM151.1 61.0h0.8v0.8h-0.8zM173.8 59.9h0.8v0.8h-0.8zM145.0 59.3h1.1v1.1h-1.1zM145.8 53.9h0.8v0.8h-0.8zM160.3 55.2h1.1v1.1h-1.1zM143.5 59.2h0.8v0.8h-0.8zM139.7 54.0h0.8v0.8h-0.8zM158.2 59.6h0.8v0.8h-0.8zM160.4 59.3h0.9v0.9h-0.9zM170.9 62.9h1.0v1.0h-1.0zM161.0 61.0h0.9v0.9h-0.9zM141.7 63.2h0.8v0.8h-0.8zM165.6 58.1h0.8v0.8h-0.8z" fill="#8080e0" opacity="0.6"/>
<path d="M149.1 54.6h0.7v0.7h-0.7zM141.9 58.3h1.0v1.0h-1.0zM179.3 62.9h0.8v0.8h-0.8zM158.3 54.8h1.2v1.2h-1.2zM134.2 56.0h0.8v0.8h-0.8zM143.8 59.3h0.7v0.7h-0.7zM146.3 61.8h1.0v1.0h-1.0zM152.6 57.6h1.2v1.2h-1.2zM165.4 57.6h0.7v0.7h-0.7zM168.0 57.9h0.7v0.7h-0.7zM161.4 60.0h1.2v1.2h-1.2zM165.9 56.6h0.7v0.7h-0.7zM151.5 60.9h1.2v1.2h-1.2zM154.4 58.4h1.1v1.1h-1.1zM135.3 64.0h1.1v1.1h-1.1zM152.8 58.2h1.1v1.1h-1.1zM145.2 56.5h0.9v0.9h-0.9zM165.6 54.5h0.8v0.8h-0.8zM154.0 62.2h0.9v0.9h-0.9zM149.4 59.0h1.1v1.1h-1.1zM153.4 57.9h1.2v1.2h-1.2zM151.4 66.7h1.2v1.2h-1.2zM153.1 57.6h1.1v1.1h-1.1zM158.7 59.5h0.9v0.9h-0.9zM151.0 60.0h0.8v0.8h-0.8zM155.3 63.1h1.0v1.0h-1.0zM165.2 59.5h0.8v0.8h-0.8zM141.7 60.1h0.9v0.9h-0.9z" fill="#b0a0e8" opacity="0.4"/>
<path d="M173.3 64.4h1.2v1.2h-1.2zM127.1 53.8h0.8v0.8h-0.8zM141.2 64.3h0.9v0.9h-0.9zM160.0 65.6h0.7v0.7h-0.7zM132.5 56.5h1.1v1.1h-1.1zM133.4 60.6h0.9v0.9h-0.9zM156.4 56.8h1.1v1.1h-1.1zM159.0 58.7h0.8v0.8h-0.8zM152.0 58.4h0.7v0.7h-0.7zM157.6 61.9h1.2v1.2h-1.2zM153.3 58.4h0.7v0.7h-0.7zM158.9 59.5h1.1v1.1h-1.1zM137.9 55.1h0.9v0.9h-0.9zM155.4 58.3h1.0v1.0h-1.0zM138.2 61.0h1.1v1.1h-1.1zM143.1 57.3h0.7v0.7h-0.7zM162.9 57.1h1.0v1.0h-1.0zM150.2 56.7h0.9v0.9h-0.9zM160.2 56.8h0.7v0.7h-0.7zM142.9 57.2h0.7v0.7h-0.7zM145.4 57.8h1.0v1.0h-1.0zM153.1 57.5h1.1v1.1h-1.1zM161.0 59.6h1.0v1.0h-1.0zM148.6 59.6h1.2v1.2h-1.2zM159.8 58.4h0.7v0.7h-0.7zM155.8 61.4h1.0v1.0h-1.0zM152.3 60.5h0.8v0.8h-0.8zM146.9 56.3h1.1v1.1h-1.1zM155.7 53.2h0.8v0.8h-0.8zM147.2 59.6h1.0v1.0h-1.0zM141.9 62.3h0.7v0.7h-0.7zM159.3 66.3h0.8v0.8h-0.8zM160.7 63.1h0.9v0.9h-0.9z" fill="#9090ff" opacity="0.4"/>
<path d="M156.1 63.3h1.0v1.0h-1.0zM145.4 58.5h0.7v0.7h-0.7zM162.5 61.0h1.2v1.2h-1.2zM156.5 57.1h1.0v1.0h-1.0zM168.3 62.2h1.0v1.0h-1.0zM152.0 58.6h1.1v1.1h-1.1zM163.5 64.0h1.1v1.1h-1.1zM151.9 57.9h1.1v1.1h-1.1zM145.3 59.8h0.9v0.9h-0.9zM153.0 60.6h1.0v1.0h-1.0zM147.7 58.3h1.0v1.0h-1.0zM140.4 55.0h1.1v1.1h-1.1zM157.4 59.2h1.1v1.1h-1.1zM144.0 58.4h1.2v1.2h-1.2zM153.1 61.3h1.0v1.0h-1.0zM153.7 57.5h0.9v0.9h-0.9zM161.5 58.6h0.8v0.8h-0.8zM157.2 61.1h1.1v1.1h-1.1zM144.8 52.9h0.7v0.7h-0.7zM154.3 55.6h1.1v1.1h-1.1zM161.0 57.1h1.1v1.1h-1.1zM158.7 60.6h1.1v1.1h-1.1zM160.1 60.0h0.9v0.9h-0.9zM135.8 60.4h0.8v0.8h-0.8zM156.7 62.2h1.1v1.1h-1.1zM156.2 57.6h1.0v1.0h-1.0zM163.5 58.5h1.1v1.1h-1.1zM136.7 57.4h1.0v1.0h-1.0zM146.8 55.7h0.9v0.9h-0.9zM149.8 54.3h1.0v1.0h-1.0zM164.5 61.4h1.0v1.0h-1.0zM152.1 53.6h1.2v1.2h-1.2zM141.6 56.6h0.9v0.9h-0.9zM150.4 59.3h0.7v0.7h-0.7zM156.8 62.4h1.1v1.1h-1.1zM159.0 55.0h0.8v0.8h-0.8zM131.1 60.9h1.0v1.0h-1.0zM165.6 59.1h0.8v0.8h-0.8zM162.2 53.0h1.0v1.0h-1.0z" fill="#5a5ad0" opacity="0.6"/>
<path d="M161.2 59.1h0.7v0.7h-0.7zM136.1 58.5h0.8v0.8h-0.8zM136.3 60.1h1.1v1.1h-1.1zM141.8 61.3h0.8v0.8h-0.8zM154.2 59.0h0.8v0.8h-0.8zM160.7 62.1h0.7v0.7h-0.7zM153.3 57.4h0.8v0.8h-0.8zM155.6 63.7h0.9v0.9h-0.9zM153.6 63.5h0.8v0.8h-0.8zM151.9 57.5h0.8v0.8h-0.8zM149.6 59.3h1.0v1.0h-1.0zM156.1 58.3h1.1v1.1h-1.1zM155.5 57.7h1.0v1.0h-1.0zM153.5 53.3h1.1v1.1h-1.1zM155.8 57.0h1.1v1.1h-1.1zM162.2 65.7h0.9v0.9h-0.9zM152.9 58.5h1.1v1.1h-1.1zM166.7 55.4h1.0v1.0h-1.0zM130.1 54.5h1.0v1.0h-1.0zM171.2 58.5h0.9v0.9h-0.9zM139.3 58.7h1.2v1.2h-1.2zM144.7 57.1h1.0v1.0h-1.0zM158.7 55.8h0.7v0.7h-0.7zM149.8 59.9h0.8v0.8h-0.8zM162.7 57.0h1.0v1.0h-1.0zM139.6 57.2h1.1v1.1h-1.1zM136.9 58.7h1.0v1.0h-1.0zM161.4 63.4h1.1v1.1h-1.1zM159.9 61.5h1.1v1.1h-1.1z" fill="#8080e0" opacity="0.4"/>
<path d="M151.1 67.8h0.8v0.8h-0.8zM167.3 55.4h1.1v1.1h-1.1zM150.7 57.6h1.2v1.2h-1.2zM142.5 58.7h1.2v1.2h-1.2zM159.4 61.1h0.7v0.7h-0.7zM176.5 62.6h1.1v1.1h-1.1zM157.7 64.0h1.0v1.0h-1.0zM144.5 63.8h0.9v0.9h-0.9zM152.5 62.1h1.0v1.0h-1.0zM150.2 63.5h0.8v0.8h-0.8zM158.7 60.7h0.9v0.9h-0.9zM141.8 61.6h0.8v0.8h-0.8zM145.4 59.1h0.7v0.7h-0.7zM143.1 57.2h1.1v1.1h-1.1zM152.4 61.1h1.0v1.0h-1.0zM151.0 60.9h1.0v1.0h-1.0zM164.8 57.5h0.8v0.8h-0.8zM145.8 62.5h1.1v1.1h-1.1zM175.4 57.1h1.1v1.1h-1.1zM164.6 51.6h0.7v0.7h-0.7zM153.9 57.1h1.1v1.1h-1.1zM129.2 60.4h1.1v1.1h-1.1zM156.6 61.1h0.7v0.7h-0.7zM146.7 56.1h0.8v0.8h-0.8zM160.7 60.9h1.1v1.1h-1.1z" fill="#5a5ad0" opacity="0.4"/>
<path d="M149.7 62.3h1.2v1.2h-1.2zM168.8 61.0h0.9v0.9h-0.9zM143.6 67.4h0.7v0.7h-0.7zM164.9 54.1h0.9v0.9h-0.9zM153.9 62.0h0.9v0.9h-0.9zM168.7 60.6h1.0v1.0h-1.0zM156.8 62.1h1.1v1.1h-1.1zM165.9 60.7h0.9v0.9h-0.9zM147.6 54.0h0.9v0.9h-0.9zM167.1 58.6h1.1v1.1h-1.1zM160.4 66.1h0.9v0.9h-0.9zM155.8 56.8h0.8v0.8h-0.8zM153.9 64.0h1.0v1.0h-1.0zM156.9 61.8h1.1v1.1h-1.1zM158.8 61.0h0.9v0.9h-0.9zM146.8 55.0h0.8v0.8h-0.8zM156.3 68.9h0.8v0.8h-0.8zM168.9 60.3h1.1v1.1h-1.1zM157.1 60.9h1.2v1.2h-1.2zM154.7 52.7h1.1v1.1h-1.1zM164.8 60.2h0.8v0.8h-0.8zM138.5 60.8h0.7v0.7h-0.7zM142.2 59.9h1.2v1.2h-1.2z" fill="#9090ff" opacity="0.6"/>
<path d="M124.2 59.3h1.0v1.0h-1.0zM163.2 58.6h1.0v1.0h-1.0zM139.9 58.5h1.0v1.0h-1.0zM152.3 60.8h0.9v0.9h-0.9zM145.2 55.5h0.7v0.7h-0.7zM160.3 60.6h0.7v0.7h-0.7z" fill="#9090ff" opacity="0.8"/>
<path d="M161.0 55.3h0.7v0.7h-0.7zM142.0 56.8h1.0v1.0h-1.0zM162.0 55.8h0.8v0.8h-0.8zM156.9 57.2h0.9v0.9h-0.9zM165.2 61.8h1.1v1.1h-1.1zM137.7 60.9h0.9v0.9h-0.9zM154.1 62.6h0.9v0.9h-0.9zM155.6 66.9h0.8v0.8h-0.8zM153.1 58.1h0.9v0.9h-0.9z" fill="#5a5ad0" opacity="0.8"/>
<path d="M157.8 59.4h1.1v1.1h-1.1zM154.1 61.0h0.9v0.9h-0.9zM162.0 62.1h1.0v1.0h-1.0zM164.6 68.0h0.8v0.8h-0.8zM162.5 61.0h1.0v1.0h-1.0zM162.0 54.3h1.1v1.1h-1.1zM157.8 53.8h1.0v1.0h-1.0zM150.5 60.1h1.0v1.0h-1.0zM162.9 57.6h0.9v0.9h-0.9zM149.6 56.5h1.2v1.2h-1.2zM147.7 55.8h0.9v0.9h-0.9zM156.4 63.9h0.9v0.9h-0.9zM155.6 63.4h1.1v1.1h-1.1zM143.7 59.4h0.7v0.7h-0.7zM176.3 51.5h1.1v1.1h-1.1zM147.7 54.9h0.9v0.9h-0.9zM159.1 64.5h1.1v1.1h-1.1zM154.5 59.8h1.1v1.1h-1.1zM162.8 57.1h0.7v0.7h-0.7zM134.2 56.2h1.1v1.1h-1.1zM151.1 61.9h0.9v0.9h-0.9zM167.2 61.0h0.8v0.8h-0.8zM170.7 50.6h1.1v1.1h-1.1zM145.9 64.2h1.1v1.1h-1.1zM157.9 60.0h1.1v1.1h-1.1zM162.0 52.1h1.1v1.1h-1.1zM158.6 62.3h1.1v1.1h-1.1zM155.6 65.6h0.8v0.8h-0.8z" fill="#b0a0e8" opacity="0.6"/>
<path d="M159.9 60.1h1.1v1.1h-1.1zM157.2 62.6h1.1v1.1h-1.1zM152.3 56.5h0.7v0.7h-0.7zM156.4 64.8h0.8v0.8h-0.8zM153.9 57.6h1.1v1.1h-1.1zM151.4 61.1h0.8v0.8h-0.8zM166.5 59.8h0.9v0.9h-0.9zM153.8 54.1h0.8v0.8h-0.8zM147.8 58.5h0.8v0.8h-0.8z" fill="#b0a0e8" opacity="0.8"/>
<path d="M155.7 61.1h0.8v0.8h-0.8zM152.5 54.1h1.0v1.0h-1.0zM144.3 60.3h1.0v1.0h-1.0zM144.0 59.6h0.9v0.9h-0.9zM158.7 57.2h0.9v0.9h-0.9zM172.7 65.1h0.8v0.8h-0.8z" fill="#8080e0" opacity="0.8"/>
<path d="M167.8 76.2h1.1v1.1h-1.1zM178.4 71.9h1.0v1.0h-1.0zM165.0 83.6h1.1v1.1h-1.1zM177.0 72.0h1.1v1.1h-1.1zM168.1 77.3h1.1v1.1h-1.1zM171.4 80.5h1.2v1.2h-1.2zM165.1 74.8h0.8v0.8h-0.8zM151.3 73.6h0.8v0.8h-0.8z" fill="#e0b0e0" opacity="0.6"/>
<path d="M151.1 78.6h1.1v1.1h-1.1zM176.7 79.8h0.8v0.8h-0.8zM164.7 78.2h1.0v1.0h-1.0zM171.3 72.6h1.2v1.2h-1.2zM149.6 72.1h0.8v0.8h-0.8zM163.1 75.5h0.9v0.9h-0.9zM188.2 76.9h1.1v1.1h-1.1zM172.4 79.5h1.0v1.0h-1.0zM161.7 80.5h0.9v0.9h-0.9zM159.2 74.4h1.2v1.2h-1.2zM152.3 75.3h1.1v1.1h-1.1zM165.1 72.9h1.2v1.2h-1.2z" fill="#a0a0e0" opacity="0.4"/>
<path d="M150.8 78.1h1.0v1.0h-1.0zM164.3 71.2h0.9v0.9h-0.9zM174.9 78.2h0.9v0.9h-0.9zM147.0 72.2h0.9v0.9h-0.9zM168.7 73.1h0.7v0.7h-0.7zM161.3 76.1h1.1v1.1h-1.1zM156.3 75.2h0.9v0.9h-0.9zM160.1 74.4h1.1v1.1h-1.1zM156.0 80.3h1.0v1.0h-1.0z" fill="#a0c0f0" opacity="0.6"/>
<path d="M171.9 76.6h0.7v0.7h-0.7zM151.0 73.7h0.8v0.8h-0.8zM176.5 78.2h0.9v0.9h-0.9zM155.0 79.2h1.2v1.2h-1.2zM156.8 75.3h0.7v0.7h-0.7zM168.4 74.5h0.8v0.8h-0.8zM165.4 72.7h1.1v1.1h-1.1zM153.8 82.5h1.2v1.2h-1.2zM169.1 71.1h0.8v0.8h-0.8zM177.2 74.0h0.8v0.8h-0.8zM174.2 80.1h0.8v0.8h-0.8zM171.0 79.1h1.1v1.1h-1.1z" fill="#a0c0f0" opacity="0.4"/>
<path d="M171.9 81.2h0.8v0.8h-0.8zM153.1 81.1h1.2v1.2h-1.2zM167.3 79.8h1.2v1.2h-1.2zM171.0 72.6h1.0v1.0h-1.0zM151.6 73.3h1.2v1.2h-1.2zM185.1 81.4h1.2v1.2h-1.2zM177.9 78.1h0.8v0.8h-0.8zM171.0 73.2h0.9v0.9h-0.9zM173.4 81.4h0.9v0.9h-0.9zM167.2 79.4h0.9v0.9h-0.9zM174.7 81.4h1.0v1.0h-1.0zM156.2 79.5h0.9v0.9h-0.9zM165.5 77.8h1.1v1.1h-1.1zM138.5 74.9h0.7v0.7h-0.7zM202.6 75.3h1.1v1.1h-1.1zM170.4 74.5h1.1v1.1h-1.1z" fill="#e0b0e0" opacity="0.4"/>
<path d="M173.0 76.2h1.1v1.1h-1.1zM146.4 77.6h1.1v1.1h-1.1zM165.6 79.0h0.8v0.8h-0.8zM174.4 73.5h0.8v0.8h-0.8zM171.5 76.9h1.0v1.0h-1.0zM182.2 71.3h1.0v1.0h-1.0zM179.2 74.5h1.0v1.0h-1.0zM161.0 79.0h1.1v1.1h-1.1zM169.6 77.4h1.1v1.1h-1.1zM154.9 82.6h1.0v1.0h-1.0zM157.9 76.3h1.0v1.0h-1.0zM160.8 82.5h1.2v1.2h-1.2zM166.4 77.9h1.1v1.1h-1.1zM158.5 75.0h0.8v0.8h-0.8zM168.2 77.3h0.8v0.8h-0.8zM161.6 75.2h0.9v0.9h-0.9zM180.8 73.6h1.0v1.0h-1.0zM178.0 76.6h1.1v1.1h-1.1z" fill="#c0a0e0" opacity="0.4"/>
<path d="M149.6 83.9h1.2v1.2h-1.2zM165.4 73.8h0.9v0.9h-0.9zM187.5 75.2h1.0v1.0h-1.0zM176.9 76.8h0.9v0.9h-0.9zM141.9 78.1h1.0v1.0h-1.0zM159.0 75.7h1.0v1.0h-1.0zM166.7 80.2h0.8v0.8h-0.8zM156.5 74.0h0.8v0.8h-0.8zM168.4 81.2h1.0v1.0h-1.0z" fill="#c0a0e0" opacity="0.6"/>
<path d="M161.1 74.1h0.9v0.9h-0.9zM150.5 82.9h0.8v0.8h-0.8zM170.8 75.8h0.9v0.9h-0.9zM153.9 76.5h1.1v1.1h-1.1zM174.6 78.9h1.0v1.0h-1.0zM164.4 77.0h0.8v0.8h-0.8zM168.1 79.2h1.0v1.0h-1.0zM163.6 81.0h1.0v1.0h-1.0zM150.1 74.0h1.2v1.2h-1.2zM165.9 75.8h0.9v0.9h-0.9z" fill="#a0c0f0" opacity="0.2"/>
<path d="M176.5 74.1h1.0v1.0h-1.0zM178.9 75.6h0.9v0.9h-0.9zM192.0 77.6h0.8v0.8h-0.8zM162.8 74.9h0.8v0.8h-0.8zM149.5 78.0h0.7v0.7h-0.7zM179.9 75.9h0.8v0.8h-0.8zM167.6 74.8h1.0v1.0h-1.0zM157.5 74.9h0.9v0.9h-0.9zM189.8 76.9h0.7v0.7h-0.7zM156.7 75.6h0.8v0.8h-0.8zM151.2 77.2h1.2v1.2h-1.2zM156.5 79.5h0.9v0.9h-0.9zM171.0 81.5h1.1v1.1h-1.1zM170.8 74.9h0.9v0.9h-0.9zM158.0 76.4h0.8v0.8h-0.8z" fill="#f0c0d0" opacity="0.4"/>
<path d="M153.9 75.2h1.0v1.0h-1.0zM166.8 82.2h1.1v1.1h-1.1zM163.4 80.1h1.0v1.0h-1.0zM158.8 73.8h0.9v0.9h-0.9zM174.5 78.6h0.7v0.7h-0.7z" fill="#c0a0e0" opacity="0.2"/>
<path d="M175.8 82.6h1.1v1.1h-1.1zM157.2 79.4h0.8v0.8h-0.8zM179.5 76.9h1.1v1.1h-1.1zM163.8 76.6h1.0v1.0h-1.0z" fill="#e0b0e0" opacity="0.2"/>
<path d="M174.1 78.2h0.8v0.8h-0.8zM176.4 81.3h0.9v0.9h-0.9zM151.0 76.6h1.1v1.1h-1.1zM182.4 69.8h1.2v1.2h-1.2zM153.3 75.1h1.1v1.1h-1.1zM160.0 72.4h0.8v0.8h-0.8zM162.6 74.1h1.0v1.0h-1.0zM163.1 78.3h1.1v1.1h-1.1z" fill="#f0c0d0" opacity="0.6"/>
<path d="M156.3 76.9h1.2v1.2h-1.2zM166.1 78.4h1.0v1.0h-1.0zM155.0 72.4h1.1v1.1h-1.1zM164.1 76.4h1.1v1.1h-1.1zM171.5 76.1h0.7v0.7h-0.7zM168.7 73.9h0.8v0.8h-0.8zM145.3 72.3h1.1v1.1h-1.1zM155.4 74.0h1.2v1.2h-1.2zM162.3 73.8h1.2v1.2h-1.2z" fill="#a0a0e0" opacity="0.6"/>
<path d="M170.4 81.9h1.1v1.1h-1.1zM155.3 79.8h1.2v1.2h-1.2zM171.8 75.4h0.9v0.9h-0.9z" fill="#f0c0d0" opacity="0.2"/>
<path d="M179.8 74.9h1.1v1.1h-1.1zM165.4 75.8h1.1v1.1h-1.1z" fill="#a0a0e0" opacity="0.2"/>
<path d="M134.6 76.3h0.8v0.8h-0.8zM141.1 69.2h0.8v0.8h-0.8zM134.3 70.0h0.7v0.7h-0.7zM139.1 76.9h0.7v0.7h-0.7zM133.1 77.9h1.2v1.2h-1.2zM148.2 76.6h0.8v0.8h-0.8zM136.9 82.2h1.2v1.2h-1.2zM149.8 80.5h1.1v1.1h-1.1zM145.6 76.2h0.7v0.7h-0.7zM152.5 81.7h0.8v0.8h-0.8zM146.2 72.7h0.7v0.7h-0.7z" fill="#c0b0f0" opacity="0.4"/>
<path d="M134.8 84.0h1.2v1.2h-1.2zM128.0 76.2h0.9v0.9h-0.9zM144.1 72.0h0.8v0.8h-0.8z" fill="#c0b0f0" opacity="0.6"/>
<path d="M150.7 74.3h0.8v0.8h-0.8zM141.1 70.1h0.9v0.9h-0.9zM137.3 73.1h0.9v0.9h-0.9z" fill="#9090e0" opacity="0.6"/>
<path d="M141.8 82.3h1.1v1.1h-1.1zM151.2 68.0h0.8v0.8h-0.8zM146.5 76.2h1.1v1.1h-1.1zM147.7 74.7h0.8v0.8h-0.8zM146.7 72.7h0.8v0.8h-0.8zM145.0 72.1h1.2v1.2h-1.2zM149.1 75.7h1.2v1.2h-1.2zM132.6 73.9h0.9v0.9h-0.9zM133.8 85.2h1.2v1.2h-1.2zM143.0 80.3h1.0v1.0h-1.0zM147.6 74.4h1.2v1.2h-1.2zM140.0 73.2h1.2v1.2h-1.2zM138.8 73.3h0.8v0.8h-0.8zM141.0 75.7h1.1v1.1h-1.1zM160.8 69.0h1.0v1.0h-1.0zM146.7 75.6h0.8v0.8h-0.8zM145.1 78.8h1.1v1.1h-1.1zM142.0 73.4h1.1v1.1h-1.1zM147.9 73.8h0.8v0.8h-0.8zM144.3 78.6h1.2v1.2h-1.2z" fill="#9090e0" opacity="0.4"/>
<path d="M149.5 72.5h1.2v1.2h-1.2zM130.2 86.5h0.7v0.7h-0.7z" fill="#c0b0f0" opacity="0.2"/>
<path d="M138.6 82.3h1.0v1.0h-1.0z" fill="#9090e0" opacity="0.2"/>
<path d="M186.3 54.1h1.0v1.0h-1.0zM186.8 54.2h0.7v0.7h-0.7zM155.7 61.0h0.7v0.7h-0.7zM161.4 73.7h0.7v0.7h-0.7zM175.7 72.4h0.7v0.7h-0.7zM177.1 73.2h0.8v0.8h-0.8zM152.6 74.2h1.0v1.0h-1.0zM143.2 62.5h0.8v0.8h-0.8zM141.8 72.8h0.8v0.8h-0.8zM141.6 63.3h0.7v0.7h-0.7zM133.8 74.3h0.9v0.9h-0.9zM152.8 61.4h0.7v0.7h-0.7zM152.4 74.8h0.7v0.7h-0.7zM149.5 62.5h0.6v0.6h-0.6zM142.8 73.7h0.7v0.7h-0.7z" fill="#2a1a8a" opacity="0.6"/>
<path d="M185.8 64.9h1.0v1.0h-1.0zM188.3 53.3h0.7v0.7h-0.7zM134.8 66.0h0.6v0.6h-0.6zM163.2 73.5h1.0v1.0h-1.0zM166.2 57.1h0.9v0.9h-0.9zM169.9 55.8h0.9v0.9h-0.9zM158.3 60.4h0.7v0.7h-0.7zM136.4 71.9h0.7v0.7h-0.7zM137.2 66.8h0.7v0.7h-0.7zM145.7 74.6h0.6v0.6h-0.6zM142.9 73.0h0.7v0.7h-0.7zM175.1 72.5h0.8v0.8h-0.8zM161.9 59.7h0.9v0.9h-0.9z" fill="#8078d8" opacity="0.8"/>
<path d="M156.6 62.0h0.9v0.9h-0.9zM184.2 68.9h0.9v0.9h-0.9zM183.6 70.7h0.6v0.6h-0.6zM146.8 62.3h1.0v1.0h-1.0zM154.9 62.0h0.6v0.6h-0.6zM164.8 76.7h0.9v0.9h-0.9zM157.2 60.8h1.0v1.0h-1.0zM152.5 74.7h0.9v0.9h-0.9zM174.7 72.9h0.9v0.9h-0.9zM160.0 59.7h0.8v0.8h-0.8zM185.4 51.2h1.0v1.0h-1.0zM181.5 73.2h0.7v0.7h-0.7zM187.4 53.5h0.9v0.9h-0.9z" fill="#5040b0" opacity="0.6"/>
<path d="M186.5 56.8h0.8v0.8h-0.8zM144.6 62.1h0.6v0.6h-0.6zM175.8 51.5h0.7v0.7h-0.7zM179.8 50.9h0.8v0.8h-0.8zM146.1 73.3h0.8v0.8h-0.8zM148.2 61.7h0.8v0.8h-0.8z" fill="#2a1a8a" opacity="0.8"/>
<path d="M157.9 74.2h0.9v0.9h-0.9zM186.3 57.8h0.7v0.7h-0.7zM168.8 56.6h1.0v1.0h-1.0zM178.8 51.5h0.7v0.7h-0.7zM179.7 74.0h0.6v0.6h-0.6zM186.5 55.8h0.7v0.7h-0.7zM154.5 61.9h0.6v0.6h-0.6zM184.1 69.2h0.7v0.7h-0.7zM157.4 74.4h0.7v0.7h-0.7z" fill="#6a60c8" opacity="0.4"/>
<path d="M159.5 60.7h0.6v0.6h-0.6zM169.7 73.6h0.7v0.7h-0.7zM173.6 72.9h1.0v1.0h-1.0zM184.8 68.6h0.6v0.6h-0.6zM160.1 75.6h0.9v0.9h-0.9zM133.9 66.2h0.8v0.8h-0.8z" fill="#5040b0" opacity="0.8"/>
<path d="M174.2 53.9h0.7v0.7h-0.7zM171.9 53.8h0.9v0.9h-0.9zM141.5 73.3h0.8v0.8h-0.8zM170.2 54.0h0.7v0.7h-0.7zM177.0 72.4h0.8v0.8h-0.8zM178.5 50.5h0.8v0.8h-0.8zM152.7 59.5h1.0v1.0h-1.0zM151.3 60.9h1.0v1.0h-1.0z" fill="#5040b0" opacity="0.4"/>
<path d="M184.0 50.6h0.7v0.7h-0.7zM134.7 72.5h0.9v0.9h-0.9zM159.6 74.9h0.9v0.9h-0.9zM161.9 74.3h0.9v0.9h-0.9zM146.9 61.2h0.6v0.6h-0.6zM187.6 55.3h0.7v0.7h-0.7zM136.2 64.5h0.7v0.7h-0.7zM161.7 58.8h0.9v0.9h-0.9zM185.0 67.4h0.6v0.6h-0.6zM181.6 70.9h0.8v0.8h-0.8z" fill="#2a1a8a" opacity="0.4"/>
<path d="M137.2 67.4h0.6v0.6h-0.6zM160.4 60.4h0.9v0.9h-0.9zM135.8 66.0h0.8v0.8h-0.8zM164.4 74.8h0.6v0.6h-0.6zM186.8 64.2h0.7v0.7h-0.7zM141.0 62.4h0.8v0.8h-0.8zM150.9 59.6h1.0v1.0h-1.0zM170.1 56.3h0.9v0.9h-0.9zM151.3 62.1h0.8v0.8h-0.8zM185.9 65.0h1.0v1.0h-1.0zM156.9 74.5h0.7v0.7h-0.7zM136.4 66.0h0.8v0.8h-0.8zM179.6 72.7h0.8v0.8h-0.8zM164.9 73.7h0.8v0.8h-0.8z" fill="#3a2a9a" opacity="0.6"/>
<path d="M186.4 55.4h0.8v0.8h-0.8zM155.9 75.8h0.7v0.7h-0.7zM158.5 61.8h0.7v0.7h-0.7zM182.0 71.0h0.9v0.9h-0.9zM143.1 62.8h0.7v0.7h-0.7zM183.7 70.5h0.8v0.8h-0.8zM150.2 62.5h1.0v1.0h-1.0zM141.7 63.2h1.0v1.0h-1.0zM153.2 74.3h0.8v0.8h-0.8zM186.2 61.1h0.7v0.7h-0.7zM166.8 75.6h0.6v0.6h-0.6zM167.5 73.4h0.7v0.7h-0.7z" fill="#6a60c8" opacity="0.8"/>
<path d="M139.6 63.3h0.7v0.7h-0.7zM161.8 57.2h1.0v1.0h-1.0zM148.2 73.8h0.7v0.7h-0.7zM158.3 61.3h0.7v0.7h-0.7zM147.2 73.6h0.7v0.7h-0.7zM168.8 73.3h0.6v0.6h-0.6zM141.9 63.5h0.8v0.8h-0.8z" fill="#8078d8" opacity="0.6"/>
<path d="M175.2 49.6h0.8v0.8h-0.8zM150.1 74.7h0.7v0.7h-0.7zM166.0 55.2h0.7v0.7h-0.7zM179.0 73.0h0.7v0.7h-0.7z" fill="#8078d8" opacity="0.4"/>
<path d="M159.1 74.1h0.7v0.7h-0.7zM171.1 54.8h1.0v1.0h-1.0zM153.2 61.1h1.0v1.0h-1.0zM164.4 58.5h0.9v0.9h-0.9zM159.6 58.9h0.8v0.8h-0.8zM159.0 61.4h0.9v0.9h-0.9zM138.8 74.4h0.8v0.8h-0.8zM147.3 61.6h0.8v0.8h-0.8zM174.7 73.1h1.0v1.0h-1.0zM136.4 71.7h0.8v0.8h-0.8z" fill="#3a2a9a" opacity="0.8"/>
<path d="M133.8 74.9h0.8v0.8h-0.8zM163.6 75.6h0.8v0.8h-0.8zM178.1 72.6h0.6v0.6h-0.6zM187.3 58.0h0.7v0.7h-0.7zM187.2 56.7h0.8v0.8h-0.8zM188.2 62.2h0.8v0.8h-0.8zM161.1 74.6h0.8v0.8h-0.8z" fill="#3a2a9a" opacity="0.4"/>
<path d="M140.9 61.5h0.7v0.7h-0.7zM158.0 59.2h1.0v1.0h-1.0zM178.2 49.5h0.6v0.6h-0.6zM188.1 54.9h0.7v0.7h-0.7zM169.7 73.2h0.6v0.6h-0.6zM180.2 51.0h0.9v0.9h-0.9zM186.1 55.7h0.9v0.9h-0.9zM158.2 74.2h0.6v0.6h-0.6zM135.0 64.4h0.7v0.7h-0.7zM140.6 73.3h0.9v0.9h-0.9z" fill="#6a60c8" opacity="0.6"/>
<g filter="url(#jet)">
<rect x="128.6" y="28.4" width="68.3" height="67.2" fill="#000"/>
<polygon points="129.6,63.4 135.6,63.9 138.9,66.2 141.6,64.6 150.9,63.3 158.9,62.8 163.8,59.7 170.8,57.5 174.1,55.4 179.1,52.7 183.6,51.4 186.1,53.7 186.3,58.9 185.9,66 183.1,70.5 175.8,72.5 162.9,73.7 150.9,73.4 141.6,72.8 138.9,71.8 135.6,74.1 129.6,74.8" fill="rgb(51,51,51)" stroke="rgb(51,51,51)" stroke-width="1" stroke-linejoin="round"/>
<g clip-path="url(#ca1e)">
<ellipse cx="134" cy="69" rx="5.81" ry="5.99" fill="rgb(76,76,76)" transform="rotate(0 134 69)"/>
<ellipse cx="150.9" cy="68.4" rx="13.6" ry="5.97" fill="rgb(76,76,76)" transform="rotate(-2 150.9 68.4)"/>
<ellipse cx="164.35" cy="67.2" rx="9.44" ry="4.15" fill="rgb(76,76,76)" transform="rotate(-6 164.35 67.2)"/>
<ellipse cx="175.8" cy="66" rx="17.69" ry="8.57" fill="rgb(76,76,76)" transform="rotate(-8 175.8 66)"/>
<ellipse cx="179.1" cy="56.9" rx="8.76" ry="6.22" fill="rgb(76,76,76)" transform="rotate(-18 179.1 56.9)"/>
<ellipse cx="134" cy="69" rx="4.82" ry="4.96" fill="rgb(107,107,107)" transform="rotate(0 134 69)"/>
<ellipse cx="150.9" cy="68.4" rx="10.95" ry="4.81" fill="rgb(107,107,107)" transform="rotate(-2 150.9 68.4)"/>
<ellipse cx="164.35" cy="67.2" rx="5.88" ry="2.59" fill="rgb(107,107,107)" transform="rotate(-6 164.35 67.2)"/>
<ellipse cx="175.8" cy="66" rx="15.02" ry="7.27" fill="rgb(107,107,107)" transform="rotate(-8 175.8 66)"/>
<ellipse cx="179.1" cy="56.9" rx="6.28" ry="4.46" fill="rgb(107,107,107)" transform="rotate(-18 179.1 56.9)"/>
<ellipse cx="134" cy="69" rx="3.84" ry="3.96" fill="rgb(140,140,140)" transform="rotate(0 134 69)"/>
<ellipse cx="150.9" cy="68.4" rx="8.23" ry="3.61" fill="rgb(140,140,140)" transform="rotate(-2 150.9 68.4)"/>
<ellipse cx="175.8" cy="66" rx="12.47" ry="6.04" fill="rgb(140,140,140)" transform="rotate(-8 175.8 66)"/>
<ellipse cx="179.1" cy="56.9" rx="3.1" ry="2.2" fill="rgb(140,140,140)" transform="rotate(-18 179.1 56.9)"/>
<ellipse cx="134" cy="69" rx="2.84" ry="2.93" fill="rgb(173,173,173)" transform="rotate(0 134 69)"/>
<ellipse cx="150.9" cy="68.4" rx="5.15" ry="2.26" fill="rgb(173,173,173)" transform="rotate(-2 150.9 68.4)"/>
<ellipse cx="175.8" cy="66" rx="10.01" ry="4.85" fill="rgb(173,173,173)" transform="rotate(-8 175.8 66)"/>
<ellipse cx="134" cy="69" rx="1.73" ry="1.78" fill="rgb(204,204,204)" transform="rotate(0 134 69)"/>
<ellipse cx="175.8" cy="66" rx="7.62" ry="3.69" fill="rgb(204,204,204)" transform="rotate(-8 175.8 66)"/>
<ellipse cx="175.8" cy="66" rx="4.66" ry="2.25" fill="rgb(235,235,235)" transform="rotate(-8 175.8 66)"/>
<ellipse cx="134" cy="69" rx="1.19" ry="1.22" fill="rgb(224,224,224)" transform="rotate(0 134 69)"/>
<ellipse cx="150.9" cy="68.4" rx="2.95" ry="1.3" fill="rgb(199,199,199)" transform="rotate(-2 150.9 68.4)"/>
<ellipse cx="164.35" cy="67.2" rx="2.7" ry="1.19" fill="rgb(133,133,133)" transform="rotate(-6 164.35 67.2)"/>
<ellipse cx="175.8" cy="66" rx="3.42" ry="1.66" fill="rgb(255,255,255)" transform="rotate(-8 175.8 66)"/>
<ellipse cx="179.1" cy="56.9" rx="2.23" ry="1.58" fill="rgb(153,153,153)" transform="rotate(-18 179.1 56.9)"/>
</g>
</g>
</g>
<rect x="214.2" y="32.4" width="60.3" height="59.2" fill="none" stroke="#9a9a9a" stroke-width="0.8"/>
<text x="211.6" y="40.2" font-size="5.3" text-anchor="end" fill="#3a3a3a">10<tspan font-size="3.29" dy="-2">5</tspan></text>
<line x1="213" y1="38.5" x2="214.2" y2="38.5" stroke="#888" stroke-width="0.6"/>
<text x="211.6" y="50.5" font-size="5.3" text-anchor="end" fill="#3a3a3a">10<tspan font-size="3.29" dy="-2">4</tspan></text>
<line x1="213" y1="48.8" x2="214.2" y2="48.8" stroke="#888" stroke-width="0.6"/>
<text x="211.6" y="61.3" font-size="5.3" text-anchor="end" fill="#3a3a3a">10<tspan font-size="3.29" dy="-2">3</tspan></text>
<line x1="213" y1="59.6" x2="214.2" y2="59.6" stroke="#888" stroke-width="0.6"/>
<text x="211.6" y="72.1" font-size="5.3" text-anchor="end" fill="#3a3a3a">10<tspan font-size="3.29" dy="-2">2</tspan></text>
<line x1="213" y1="70.4" x2="214.2" y2="70.4" stroke="#888" stroke-width="0.6"/>
<text x="211.6" y="82.7" font-size="5.3" text-anchor="end" fill="#3a3a3a">10<tspan font-size="3.29" dy="-2">1</tspan></text>
<line x1="213" y1="81" x2="214.2" y2="81" stroke="#888" stroke-width="0.6"/>
<text x="211.6" y="92.9" font-size="5.3" text-anchor="end" fill="#3a3a3a">10<tspan font-size="3.29" dy="-2">0</tspan></text>
<line x1="213" y1="91.2" x2="214.2" y2="91.2" stroke="#888" stroke-width="0.6"/>
<line x1="216.2" y1="91.6" x2="216.2" y2="90.4" stroke="#888" stroke-width="0.6"/>
<line x1="227.46" y1="91.6" x2="227.46" y2="90.4" stroke="#888" stroke-width="0.6"/>
<line x1="238.72" y1="91.6" x2="238.72" y2="90.4" stroke="#888" stroke-width="0.6"/>
<line x1="249.98" y1="91.6" x2="249.98" y2="90.4" stroke="#888" stroke-width="0.6"/>
<line x1="261.24" y1="91.6" x2="261.24" y2="90.4" stroke="#888" stroke-width="0.6"/>
<line x1="272.5" y1="91.6" x2="272.5" y2="90.4" stroke="#888" stroke-width="0.6"/>
<polyline points="246.7,62 246.7,44.6 274.5,44.6 274.5,57.4" fill="none" stroke="#a4acb4" stroke-width="0.85"/>
<line x1="274.5" y1="57.4" x2="268.5" y2="60.9" stroke="#a4acb4" stroke-width="0.8"/>
<circle cx="246.7" cy="44.6" r="1.2" fill="#6c747c"/>
<circle cx="274.5" cy="44.6" r="1.2" fill="#6c747c"/>
<circle cx="274.5" cy="57.4" r="1.2" fill="#6c747c"/>
<text x="271.8" y="40.2" font-size="8.2" text-anchor="end" fill="#333">24%</text>
<text x="240.8" y="26.2" font-size="8.8" text-anchor="middle" fill="#222" textLength="40.5" lengthAdjust="spacingAndGlyphs" stroke="#222" stroke-width="0.12">+ BCWM.1</text>
<clipPath id="ca2"><rect x="214.2" y="32.4" width="60.3" height="59.2"/></clipPath>
<clipPath id="ca2e"><polygon points="211.2,63.4 217.2,63.9 220.5,66.2 223.2,64.6 232.2,63.3 240.2,62.8 244.4,59 251.4,56.8 255.5,56.1 260.5,53.4 265,52.1 267.5,54.4 267.7,59.6 267.3,65.3 264.5,69.8 256.4,71.8 244.2,73.7 232.2,73.4 223.2,72.8 220.5,71.8 217.2,74.1 211.2,74.8"/></clipPath>
<g clip-path="url(#ca2)">
<ellipse cx="236.2" cy="60.4" rx="13" ry="4" fill="#b8b0e0" opacity="0.45" filter="url(#hz)" transform="rotate(-8 236.2 60.4)"/>
<ellipse cx="242.2" cy="76.9" rx="15" ry="3" fill="#d0c8ec" opacity="0.35" filter="url(#hz)" transform="rotate(-3 242.2 76.9)"/>
<path d="M239.0 65.6h0.9v0.9h-0.9zM237.9 57.7h1.0v1.0h-1.0zM251.8 56.6h1.0v1.0h-1.0zM237.8 60.2h0.9v0.9h-0.9zM254.3 58.1h1.0v1.0h-1.0zM236.6 66.5h0.8v0.8h-0.8zM213.9 57.4h0.7v0.7h-0.7zM235.7 59.5h1.1v1.1h-1.1zM226.6 61.4h0.7v0.7h-0.7zM234.1 57.9h0.9v0.9h-0.9zM236.0 59.7h1.1v1.1h-1.1zM227.3 56.6h1.2v1.2h-1.2zM236.7 60.5h0.8v0.8h-0.8zM241.9 60.5h0.9v0.9h-0.9zM237.0 60.9h0.8v0.8h-0.8zM233.0 59.4h1.1v1.1h-1.1zM229.3 59.4h1.2v1.2h-1.2zM232.2 64.6h1.0v1.0h-1.0zM259.6 57.0h0.7v0.7h-0.7zM239.1 53.9h0.8v0.8h-0.8zM240.3 57.2h0.7v0.7h-0.7zM239.5 61.1h1.0v1.0h-1.0zM222.2 63.3h0.9v0.9h-0.9zM245.2 57.8h1.0v1.0h-1.0zM249.6 64.3h0.9v0.9h-0.9zM240.4 60.7h1.1v1.1h-1.1zM241.2 62.1h0.7v0.7h-0.7zM231.2 58.4h1.0v1.0h-1.0zM233.2 56.2h0.7v0.7h-0.7zM254.4 57.5h1.0v1.0h-1.0zM235.8 61.3h1.0v1.0h-1.0zM247.2 65.0h1.0v1.0h-1.0zM240.5 56.1h0.8v0.8h-0.8zM222.9 62.8h1.2v1.2h-1.2zM232.1 55.0h0.7v0.7h-0.7zM249.0 62.3h0.8v0.8h-0.8z" fill="#b0a0e8" opacity="0.4"/>
<path d="M234.7 62.7h0.7v0.7h-0.7zM222.9 61.8h0.7v0.7h-0.7zM225.4 59.7h1.2v1.2h-1.2zM225.9 59.1h0.9v0.9h-0.9zM234.4 61.0h0.9v0.9h-0.9zM237.9 59.3h1.1v1.1h-1.1zM242.8 59.1h0.9v0.9h-0.9zM227.7 55.3h0.9v0.9h-0.9zM226.4 59.8h1.0v1.0h-1.0zM230.4 59.1h1.0v1.0h-1.0zM227.6 56.7h0.8v0.8h-0.8zM239.2 64.8h0.9v0.9h-0.9zM237.1 64.2h0.9v0.9h-0.9zM217.5 56.9h0.7v0.7h-0.7zM223.1 59.6h1.1v1.1h-1.1zM231.3 58.3h0.9v0.9h-0.9zM227.8 62.6h1.0v1.0h-1.0zM234.5 59.3h0.9v0.9h-0.9zM235.1 65.5h0.7v0.7h-0.7zM237.8 58.5h1.1v1.1h-1.1zM248.7 61.9h0.9v0.9h-0.9zM248.8 64.3h0.9v0.9h-0.9zM243.9 53.7h1.0v1.0h-1.0zM261.9 57.3h1.1v1.1h-1.1zM236.7 58.9h1.0v1.0h-1.0zM254.1 60.7h1.0v1.0h-1.0z" fill="#9090ff" opacity="0.4"/>
<path d="M225.2 60.1h1.0v1.0h-1.0zM246.0 60.8h0.7v0.7h-0.7zM225.7 59.6h1.0v1.0h-1.0zM231.1 59.7h1.0v1.0h-1.0zM213.6 57.4h1.0v1.0h-1.0zM247.0 63.8h1.1v1.1h-1.1zM236.8 58.5h0.8v0.8h-0.8zM231.3 58.1h0.8v0.8h-0.8zM233.6 54.5h1.0v1.0h-1.0zM223.8 58.6h0.7v0.7h-0.7zM241.3 61.6h0.9v0.9h-0.9zM254.2 63.6h1.1v1.1h-1.1zM242.1 59.1h1.1v1.1h-1.1zM210.6 61.5h0.8v0.8h-0.8zM233.6 59.2h0.9v0.9h-0.9zM258.1 60.8h0.8v0.8h-0.8zM247.4 59.1h1.0v1.0h-1.0zM241.9 60.8h0.8v0.8h-0.8zM225.8 57.4h1.1v1.1h-1.1zM240.5 61.5h0.8v0.8h-0.8zM229.1 60.2h1.1v1.1h-1.1zM235.1 58.2h1.1v1.1h-1.1zM246.7 56.4h0.8v0.8h-0.8zM243.3 59.1h1.1v1.1h-1.1zM235.0 60.7h1.2v1.2h-1.2zM225.7 58.6h1.0v1.0h-1.0zM241.0 54.7h1.2v1.2h-1.2zM230.3 64.3h0.9v0.9h-0.9zM236.2 60.2h0.8v0.8h-0.8zM235.3 60.1h0.7v0.7h-0.7zM254.8 60.5h0.9v0.9h-0.9zM231.2 57.7h0.8v0.8h-0.8zM220.0 54.0h1.0v1.0h-1.0zM251.5 57.9h1.1v1.1h-1.1zM231.5 63.5h1.1v1.1h-1.1zM233.3 66.6h1.0v1.0h-1.0z" fill="#5a5ad0" opacity="0.4"/>
<path d="M245.4 58.4h0.8v0.8h-0.8zM245.1 58.7h1.2v1.2h-1.2zM229.9 61.1h1.0v1.0h-1.0zM231.2 59.3h0.7v0.7h-0.7zM244.4 59.6h1.1v1.1h-1.1zM219.5 57.3h1.2v1.2h-1.2zM218.9 64.5h1.0v1.0h-1.0zM231.5 60.4h0.9v0.9h-0.9zM230.6 61.4h0.8v0.8h-0.8zM225.4 62.4h0.9v0.9h-0.9zM239.5 63.1h1.2v1.2h-1.2zM221.9 64.7h0.9v0.9h-0.9zM237.9 55.6h1.0v1.0h-1.0zM226.9 57.7h0.8v0.8h-0.8zM243.6 54.4h1.0v1.0h-1.0zM239.0 53.9h1.0v1.0h-1.0zM232.8 59.5h1.1v1.1h-1.1zM230.3 65.4h1.0v1.0h-1.0zM243.2 60.8h1.2v1.2h-1.2zM218.5 58.2h1.0v1.0h-1.0zM239.2 56.8h0.9v0.9h-0.9zM249.2 55.7h0.9v0.9h-0.9zM250.3 59.4h0.7v0.7h-0.7zM229.5 63.5h1.0v1.0h-1.0zM232.1 53.7h0.8v0.8h-0.8zM232.8 56.7h0.8v0.8h-0.8zM219.3 56.9h0.7v0.7h-0.7zM236.1 59.2h0.9v0.9h-0.9z" fill="#5a5ad0" opacity="0.6"/>
<path d="M223.9 57.0h1.0v1.0h-1.0zM248.8 57.5h1.0v1.0h-1.0zM254.6 60.4h1.1v1.1h-1.1zM225.0 61.1h0.7v0.7h-0.7zM252.6 59.1h0.7v0.7h-0.7zM240.1 60.9h1.1v1.1h-1.1zM234.2 60.8h0.8v0.8h-0.8zM225.4 58.7h0.7v0.7h-0.7zM226.7 57.7h0.9v0.9h-0.9zM245.1 56.0h0.9v0.9h-0.9zM240.1 60.4h0.7v0.7h-0.7zM245.8 62.6h1.1v1.1h-1.1zM231.5 63.1h0.8v0.8h-0.8zM230.9 65.7h1.1v1.1h-1.1zM238.7 60.2h1.0v1.0h-1.0zM231.1 62.9h0.9v0.9h-0.9zM244.3 56.2h1.1v1.1h-1.1zM252.5 60.7h0.8v0.8h-0.8zM247.1 63.7h0.8v0.8h-0.8zM230.6 64.4h0.8v0.8h-0.8zM246.1 58.8h0.8v0.8h-0.8zM250.9 64.4h1.2v1.2h-1.2zM240.8 60.5h1.2v1.2h-1.2zM229.5 61.6h0.8v0.8h-0.8zM242.6 57.4h1.0v1.0h-1.0zM235.7 64.1h1.2v1.2h-1.2zM232.8 54.0h1.2v1.2h-1.2zM257.0 59.7h1.1v1.1h-1.1zM244.4 61.2h0.8v0.8h-0.8zM223.9 60.7h1.1v1.1h-1.1zM216.1 62.9h1.1v1.1h-1.1zM240.1 58.9h0.9v0.9h-0.9zM233.2 58.4h1.0v1.0h-1.0zM233.8 54.6h1.1v1.1h-1.1zM239.0 56.0h0.8v0.8h-0.8zM237.5 60.7h1.0v1.0h-1.0z" fill="#9090ff" opacity="0.6"/>
<path d="M237.9 60.5h1.2v1.2h-1.2zM224.0 59.5h0.7v0.7h-0.7zM230.4 60.9h1.1v1.1h-1.1zM243.3 56.1h0.8v0.8h-0.8zM231.0 55.0h0.8v0.8h-0.8zM247.5 55.3h1.1v1.1h-1.1zM229.5 58.5h0.8v0.8h-0.8zM255.2 63.2h0.9v0.9h-0.9zM238.2 54.4h0.9v0.9h-0.9zM227.0 60.0h0.8v0.8h-0.8zM240.9 61.0h0.8v0.8h-0.8zM226.4 60.9h0.9v0.9h-0.9zM223.9 61.8h1.0v1.0h-1.0zM227.4 60.4h0.8v0.8h-0.8zM252.4 66.7h0.8v0.8h-0.8zM243.6 58.1h0.8v0.8h-0.8zM241.6 61.6h0.8v0.8h-0.8zM242.2 57.6h0.8v0.8h-0.8zM230.0 56.7h0.7v0.7h-0.7zM243.2 58.9h0.7v0.7h-0.7zM231.9 59.5h0.8v0.8h-0.8zM224.2 54.3h0.8v0.8h-0.8zM242.0 56.7h1.2v1.2h-1.2z" fill="#b0a0e8" opacity="0.6"/>
<path d="M225.2 60.6h1.1v1.1h-1.1zM239.6 64.1h0.8v0.8h-0.8zM209.4 52.8h0.8v0.8h-0.8zM221.7 60.0h1.0v1.0h-1.0zM237.5 53.9h1.0v1.0h-1.0zM239.9 60.1h1.0v1.0h-1.0zM240.2 61.9h1.1v1.1h-1.1zM238.1 57.5h1.1v1.1h-1.1zM226.1 62.2h1.0v1.0h-1.0zM246.9 56.1h0.9v0.9h-0.9zM225.4 56.7h0.9v0.9h-0.9zM237.4 58.4h1.0v1.0h-1.0zM246.8 57.7h0.8v0.8h-0.8z" fill="#b0a0e8" opacity="0.8"/>
<path d="M233.5 57.7h0.8v0.8h-0.8zM231.9 66.4h1.1v1.1h-1.1zM241.4 63.5h0.9v0.9h-0.9zM249.3 57.6h1.0v1.0h-1.0zM230.0 56.8h1.0v1.0h-1.0zM220.5 61.2h1.0v1.0h-1.0zM226.3 62.9h0.9v0.9h-0.9zM221.0 59.6h0.8v0.8h-0.8zM249.2 61.8h1.1v1.1h-1.1zM229.0 59.9h1.1v1.1h-1.1zM223.6 59.0h1.2v1.2h-1.2zM214.8 60.4h1.2v1.2h-1.2zM239.2 58.4h0.8v0.8h-0.8zM237.0 58.9h0.7v0.7h-0.7zM239.8 60.9h0.9v0.9h-0.9zM248.8 57.2h0.8v0.8h-0.8zM219.5 62.9h0.8v0.8h-0.8zM246.8 61.8h1.1v1.1h-1.1zM225.2 57.6h0.8v0.8h-0.8z" fill="#8080e0" opacity="0.4"/>
<path d="M219.0 61.3h1.0v1.0h-1.0zM246.2 56.4h1.0v1.0h-1.0zM248.7 63.4h1.0v1.0h-1.0zM238.3 57.9h1.1v1.1h-1.1zM235.5 62.0h0.8v0.8h-0.8zM243.6 59.2h0.9v0.9h-0.9zM220.6 60.9h0.9v0.9h-0.9zM228.7 56.4h0.9v0.9h-0.9zM232.9 56.9h1.0v1.0h-1.0zM243.9 59.7h1.2v1.2h-1.2zM247.5 56.6h1.0v1.0h-1.0zM257.7 61.0h0.9v0.9h-0.9zM233.5 60.8h0.9v0.9h-0.9zM239.1 61.3h0.8v0.8h-0.8zM236.0 59.1h1.1v1.1h-1.1zM223.5 58.7h0.9v0.9h-0.9zM240.3 60.2h0.9v0.9h-0.9zM230.7 64.3h1.0v1.0h-1.0zM238.1 63.8h1.1v1.1h-1.1zM233.9 60.6h0.8v0.8h-0.8z" fill="#8080e0" opacity="0.6"/>
<path d="M237.7 60.4h1.1v1.1h-1.1zM228.4 63.0h0.8v0.8h-0.8zM252.9 64.3h0.9v0.9h-0.9zM230.9 61.3h0.7v0.7h-0.7zM233.3 63.0h0.9v0.9h-0.9zM223.1 56.7h1.1v1.1h-1.1zM244.0 66.4h0.8v0.8h-0.8zM237.1 59.0h1.1v1.1h-1.1z" fill="#5a5ad0" opacity="0.8"/>
<path d="M239.0 57.4h1.1v1.1h-1.1zM230.2 64.6h0.9v0.9h-0.9zM215.6 64.3h0.9v0.9h-0.9zM211.5 54.2h1.1v1.1h-1.1zM244.3 64.7h0.9v0.9h-0.9zM230.2 59.2h1.2v1.2h-1.2zM236.5 57.6h1.0v1.0h-1.0zM227.8 60.1h0.7v0.7h-0.7zM244.6 59.2h0.9v0.9h-0.9z" fill="#9090ff" opacity="0.8"/>
<path d="M243.4 64.1h0.8v0.8h-0.8zM229.0 62.4h1.0v1.0h-1.0zM234.4 56.7h1.1v1.1h-1.1zM242.2 61.1h0.9v0.9h-0.9zM239.8 53.4h0.9v0.9h-0.9zM236.7 63.6h1.2v1.2h-1.2z" fill="#8080e0" opacity="0.8"/>
<path d="M223.1 77.8h0.7v0.7h-0.7zM256.0 72.7h0.9v0.9h-0.9zM233.4 78.3h1.1v1.1h-1.1zM244.2 81.4h0.9v0.9h-0.9zM240.9 71.8h0.8v0.8h-0.8zM270.4 75.7h0.9v0.9h-0.9zM280.0 81.9h0.8v0.8h-0.8zM241.0 78.7h1.2v1.2h-1.2zM248.8 81.3h0.7v0.7h-0.7zM238.0 75.8h1.0v1.0h-1.0zM250.8 77.8h0.8v0.8h-0.8zM256.9 78.6h1.1v1.1h-1.1zM227.2 77.4h0.9v0.9h-0.9zM232.6 83.9h0.7v0.7h-0.7zM218.5 77.9h1.1v1.1h-1.1zM270.2 67.1h1.2v1.2h-1.2zM232.8 76.8h0.7v0.7h-0.7zM240.2 76.8h0.9v0.9h-0.9z" fill="#c0a0e0" opacity="0.4"/>
<path d="M226.8 80.9h1.0v1.0h-1.0zM252.7 74.8h1.0v1.0h-1.0zM248.4 74.3h0.7v0.7h-0.7zM242.6 77.8h0.7v0.7h-0.7zM257.9 73.0h0.8v0.8h-0.8zM244.0 77.5h0.9v0.9h-0.9zM222.0 78.0h1.2v1.2h-1.2zM227.2 73.0h1.2v1.2h-1.2zM245.4 76.7h0.7v0.7h-0.7zM262.1 79.3h0.8v0.8h-0.8zM245.1 74.5h1.1v1.1h-1.1z" fill="#a0a0e0" opacity="0.6"/>
<path d="M238.9 78.2h1.0v1.0h-1.0zM241.9 77.9h0.8v0.8h-0.8zM263.8 78.3h1.1v1.1h-1.1zM240.3 76.7h1.0v1.0h-1.0zM266.5 77.2h1.0v1.0h-1.0z" fill="#a0a0e0" opacity="0.2"/>
<path d="M258.0 76.5h1.1v1.1h-1.1zM251.7 77.2h1.1v1.1h-1.1zM241.6 76.9h0.9v0.9h-0.9zM237.4 83.1h1.0v1.0h-1.0zM251.8 80.4h0.8v0.8h-0.8zM247.7 76.6h1.0v1.0h-1.0zM242.6 78.3h1.0v1.0h-1.0zM275.1 78.6h1.0v1.0h-1.0zM245.6 77.6h1.0v1.0h-1.0zM237.6 79.1h0.8v0.8h-0.8zM258.5 77.6h1.1v1.1h-1.1zM247.7 73.6h1.2v1.2h-1.2zM236.4 77.5h0.9v0.9h-0.9zM231.3 80.8h0.9v0.9h-0.9zM253.0 69.8h1.1v1.1h-1.1zM267.6 71.2h1.1v1.1h-1.1z" fill="#a0a0e0" opacity="0.4"/>
<path d="M266.3 76.4h1.2v1.2h-1.2zM255.9 79.4h1.0v1.0h-1.0zM271.4 73.2h0.8v0.8h-0.8zM247.5 76.9h1.0v1.0h-1.0zM259.3 80.7h1.0v1.0h-1.0zM252.9 80.5h0.8v0.8h-0.8zM249.9 79.9h1.0v1.0h-1.0z" fill="#c0a0e0" opacity="0.2"/>
<path d="M245.8 74.8h0.9v0.9h-0.9zM249.5 78.4h1.0v1.0h-1.0zM259.2 76.3h0.8v0.8h-0.8zM247.3 77.3h1.0v1.0h-1.0zM248.5 75.3h1.2v1.2h-1.2zM249.1 82.0h0.9v0.9h-0.9zM252.3 78.8h1.0v1.0h-1.0zM261.1 78.9h0.7v0.7h-0.7zM228.8 78.6h0.8v0.8h-0.8zM267.2 79.7h1.0v1.0h-1.0zM255.1 79.9h0.8v0.8h-0.8zM253.4 81.2h0.8v0.8h-0.8zM234.5 79.6h0.7v0.7h-0.7zM245.2 80.6h0.7v0.7h-0.7zM250.7 75.3h0.7v0.7h-0.7zM248.1 77.1h1.0v1.0h-1.0zM261.5 77.3h0.8v0.8h-0.8z" fill="#a0c0f0" opacity="0.4"/>
<path d="M227.1 77.0h1.0v1.0h-1.0zM228.7 79.4h1.1v1.1h-1.1zM234.7 75.8h0.8v0.8h-0.8zM249.6 76.2h1.1v1.1h-1.1zM241.6 77.8h1.1v1.1h-1.1zM250.2 75.6h1.0v1.0h-1.0zM241.6 80.3h0.7v0.7h-0.7zM262.4 75.9h1.0v1.0h-1.0zM255.8 75.6h0.8v0.8h-0.8zM261.6 71.7h0.8v0.8h-0.8zM249.9 80.3h1.0v1.0h-1.0zM240.2 77.3h0.8v0.8h-0.8zM245.6 81.1h1.2v1.2h-1.2zM250.3 71.0h0.8v0.8h-0.8zM240.6 79.6h0.8v0.8h-0.8zM235.7 80.8h0.7v0.7h-0.7zM240.9 72.9h0.9v0.9h-0.9zM251.7 74.9h1.1v1.1h-1.1zM240.0 79.1h1.1v1.1h-1.1z" fill="#e0b0e0" opacity="0.4"/>
<path d="M257.1 72.9h1.0v1.0h-1.0zM257.6 78.5h1.0v1.0h-1.0zM246.2 74.8h1.0v1.0h-1.0zM228.8 79.0h1.1v1.1h-1.1zM250.7 77.4h0.7v0.7h-0.7zM260.8 80.6h1.1v1.1h-1.1zM244.4 74.0h0.9v0.9h-0.9zM235.3 76.8h1.0v1.0h-1.0zM268.6 79.9h0.9v0.9h-0.9z" fill="#f0c0d0" opacity="0.6"/>
<path d="M238.5 79.6h1.2v1.2h-1.2zM257.1 79.4h1.2v1.2h-1.2zM249.8 79.9h0.8v0.8h-0.8zM247.8 78.8h0.9v0.9h-0.9zM218.6 80.6h0.9v0.9h-0.9zM239.4 79.0h1.1v1.1h-1.1zM254.1 75.4h0.9v0.9h-0.9zM250.9 73.7h1.1v1.1h-1.1zM250.3 76.8h0.9v0.9h-0.9zM231.2 78.4h1.2v1.2h-1.2zM243.0 80.1h1.2v1.2h-1.2zM250.3 79.5h0.8v0.8h-0.8zM262.3 80.5h1.1v1.1h-1.1zM267.4 79.7h1.0v1.0h-1.0zM262.2 75.6h0.9v0.9h-0.9z" fill="#f0c0d0" opacity="0.4"/>
<path d="M249.9 78.0h0.8v0.8h-0.8zM246.0 77.2h0.8v0.8h-0.8zM241.7 76.1h1.1v1.1h-1.1zM207.1 73.0h1.0v1.0h-1.0zM257.7 76.1h1.0v1.0h-1.0zM264.4 73.4h0.8v0.8h-0.8zM232.0 76.2h0.8v0.8h-0.8z" fill="#e0b0e0" opacity="0.6"/>
<path d="M252.0 78.7h0.9v0.9h-0.9zM259.1 74.2h0.7v0.7h-0.7zM246.4 80.5h0.8v0.8h-0.8zM236.5 75.6h0.9v0.9h-0.9zM258.4 73.3h1.0v1.0h-1.0z" fill="#e0b0e0" opacity="0.2"/>
<path d="M227.2 75.7h1.0v1.0h-1.0zM243.8 80.2h1.2v1.2h-1.2zM242.8 73.3h0.9v0.9h-0.9zM253.2 79.8h1.0v1.0h-1.0z" fill="#c0a0e0" opacity="0.6"/>
<path d="M232.1 76.7h1.1v1.1h-1.1zM243.4 78.1h0.9v0.9h-0.9zM241.5 77.0h1.1v1.1h-1.1zM251.2 77.8h1.2v1.2h-1.2z" fill="#a0c0f0" opacity="0.2"/>
<path d="M244.2 81.1h1.2v1.2h-1.2zM255.4 79.3h0.8v0.8h-0.8zM245.2 75.1h1.1v1.1h-1.1z" fill="#a0c0f0" opacity="0.6"/>
<path d="M227.9 76.0h0.7v0.7h-0.7zM222.3 74.3h1.2v1.2h-1.2zM217.5 74.5h0.9v0.9h-0.9zM231.9 78.4h1.1v1.1h-1.1zM229.1 73.5h0.9v0.9h-0.9zM226.5 75.1h0.8v0.8h-0.8zM222.3 70.9h0.8v0.8h-0.8zM235.3 72.7h1.0v1.0h-1.0z" fill="#c0b0f0" opacity="0.6"/>
<path d="M217.4 73.5h1.0v1.0h-1.0zM223.8 81.0h0.9v0.9h-0.9zM229.6 71.2h1.2v1.2h-1.2zM233.4 85.5h1.1v1.1h-1.1zM221.9 75.8h0.7v0.7h-0.7zM220.4 75.4h1.2v1.2h-1.2zM240.8 77.0h0.9v0.9h-0.9zM228.2 75.3h0.8v0.8h-0.8zM231.3 77.2h1.0v1.0h-1.0z" fill="#9090e0" opacity="0.4"/>
<path d="M223.3 75.6h0.9v0.9h-0.9zM244.2 75.4h0.7v0.7h-0.7z" fill="#9090e0" opacity="0.2"/>
<path d="M228.6 74.7h1.1v1.1h-1.1zM214.5 72.9h1.0v1.0h-1.0zM222.5 79.6h1.1v1.1h-1.1zM223.8 81.5h0.9v0.9h-0.9zM225.7 72.2h1.1v1.1h-1.1zM234.1 78.4h1.0v1.0h-1.0zM229.9 81.6h0.7v0.7h-0.7z" fill="#9090e0" opacity="0.6"/>
<path d="M220.0 78.0h0.9v0.9h-0.9zM216.6 77.6h1.1v1.1h-1.1zM214.8 71.4h0.8v0.8h-0.8zM236.0 80.3h0.8v0.8h-0.8zM223.8 75.8h1.1v1.1h-1.1z" fill="#c0b0f0" opacity="0.2"/>
<path d="M216.3 75.2h1.1v1.1h-1.1zM222.7 71.4h1.1v1.1h-1.1zM220.8 73.5h1.0v1.0h-1.0zM234.4 80.4h1.1v1.1h-1.1zM219.5 71.3h0.9v0.9h-0.9zM228.1 76.3h1.1v1.1h-1.1zM228.5 88.9h0.8v0.8h-0.8zM224.0 76.3h0.9v0.9h-0.9zM218.6 70.5h1.2v1.2h-1.2z" fill="#c0b0f0" opacity="0.4"/>
<path d="M221.2 72.7h0.9v0.9h-0.9zM243.0 74.3h0.6v0.6h-0.6zM268.4 55.2h0.8v0.8h-0.8zM266.5 52.7h0.7v0.7h-0.7zM268.1 63.0h0.7v0.7h-0.7zM256.7 52.7h0.8v0.8h-0.8zM265.7 51.1h0.6v0.6h-0.6zM260.4 71.5h0.9v0.9h-0.9zM235.5 62.0h0.8v0.8h-0.8z" fill="#6a60c8" opacity="0.8"/>
<path d="M248.8 54.4h0.8v0.8h-0.8zM234.3 73.8h0.9v0.9h-0.9zM239.0 61.0h0.7v0.7h-0.7zM230.4 74.6h0.6v0.6h-0.6zM261.3 70.7h0.9v0.9h-0.9zM220.6 64.6h0.7v0.7h-0.7zM247.1 57.0h0.9v0.9h-0.9zM216.2 65.3h1.0v1.0h-1.0zM225.2 74.1h0.9v0.9h-0.9zM219.9 64.3h0.7v0.7h-0.7zM233.5 74.8h0.9v0.9h-0.9zM233.7 74.5h0.6v0.6h-0.6zM229.8 73.9h0.7v0.7h-0.7z" fill="#3a2a9a" opacity="0.4"/>
<path d="M227.7 61.6h0.6v0.6h-0.6zM231.0 60.5h0.6v0.6h-0.6zM246.3 73.5h0.7v0.7h-0.7zM263.3 51.6h0.7v0.7h-0.7zM257.7 73.9h0.7v0.7h-0.7z" fill="#5040b0" opacity="0.8"/>
<path d="M244.8 73.9h0.8v0.8h-0.8zM233.7 73.6h0.9v0.9h-0.9zM221.6 73.9h0.6v0.6h-0.6zM263.3 71.2h0.7v0.7h-0.7zM240.5 60.2h0.7v0.7h-0.7zM243.1 74.0h0.8v0.8h-0.8zM216.9 72.1h1.0v1.0h-1.0zM238.8 61.1h0.9v0.9h-0.9zM255.0 53.9h0.8v0.8h-0.8zM224.2 73.7h0.9v0.9h-0.9zM266.7 52.7h0.9v0.9h-0.9zM255.8 54.4h0.8v0.8h-0.8z" fill="#8078d8" opacity="0.4"/>
<path d="M258.7 53.4h0.8v0.8h-0.8zM254.3 73.3h1.0v1.0h-1.0zM220.0 64.9h0.9v0.9h-0.9zM256.4 71.8h0.7v0.7h-0.7zM216.1 64.3h0.9v0.9h-0.9zM233.5 75.4h0.7v0.7h-0.7zM259.4 71.3h0.8v0.8h-0.8zM216.6 71.8h0.8v0.8h-0.8zM244.8 75.1h0.7v0.7h-0.7z" fill="#3a2a9a" opacity="0.6"/>
<path d="M232.8 74.6h0.6v0.6h-0.6zM266.7 66.2h0.8v0.8h-0.8zM215.7 63.7h0.9v0.9h-0.9zM231.6 61.9h0.6v0.6h-0.6zM239.6 74.0h0.7v0.7h-0.7zM243.6 58.3h1.0v1.0h-1.0zM244.0 74.0h0.7v0.7h-0.7zM239.8 61.5h0.8v0.8h-0.8zM220.8 64.9h0.8v0.8h-0.8zM247.8 56.5h0.8v0.8h-0.8zM269.3 64.5h0.9v0.9h-0.9zM265.5 51.3h0.8v0.8h-0.8z" fill="#2a1a8a" opacity="0.6"/>
<path d="M250.9 55.3h0.8v0.8h-0.8zM218.2 67.1h0.7v0.7h-0.7zM258.6 52.7h0.7v0.7h-0.7zM242.9 57.6h1.0v1.0h-1.0zM225.6 73.4h0.8v0.8h-0.8zM236.2 74.7h0.9v0.9h-0.9zM239.9 74.2h0.6v0.6h-0.6zM268.3 58.7h0.6v0.6h-0.6zM268.5 61.3h1.0v1.0h-1.0z" fill="#3a2a9a" opacity="0.8"/>
<path d="M221.8 62.9h1.0v1.0h-1.0zM239.9 75.3h0.6v0.6h-0.6zM259.0 73.4h0.9v0.9h-0.9zM242.8 58.5h0.8v0.8h-0.8z" fill="#5040b0" opacity="0.4"/>
<path d="M251.3 54.4h1.0v1.0h-1.0zM226.7 75.0h0.9v0.9h-0.9zM246.0 74.9h0.8v0.8h-0.8zM227.3 73.8h0.7v0.7h-0.7zM218.5 66.3h0.8v0.8h-0.8zM249.6 54.8h0.8v0.8h-0.8zM251.7 73.8h1.0v1.0h-1.0zM252.8 54.9h1.0v1.0h-1.0zM217.8 64.6h0.7v0.7h-0.7zM235.0 74.2h0.9v0.9h-0.9zM247.5 55.9h0.7v0.7h-0.7zM261.0 70.8h0.7v0.7h-0.7zM241.6 75.2h0.8v0.8h-0.8zM216.0 76.5h0.6v0.6h-0.6z" fill="#6a60c8" opacity="0.6"/>
<path d="M260.6 52.4h0.8v0.8h-0.8zM254.0 54.9h0.9v0.9h-0.9zM258.4 51.9h0.7v0.7h-0.7zM258.3 52.8h1.0v1.0h-1.0zM237.8 74.9h0.7v0.7h-0.7zM215.3 71.0h1.0v1.0h-1.0zM224.0 73.0h0.9v0.9h-0.9z" fill="#8078d8" opacity="0.8"/>
<path d="M239.3 61.5h0.7v0.7h-0.7zM220.4 62.8h0.6v0.6h-0.6zM234.4 74.8h0.7v0.7h-0.7zM269.9 57.2h1.0v1.0h-1.0zM259.8 73.1h0.6v0.6h-0.6zM255.6 72.1h0.9v0.9h-0.9zM238.9 60.8h0.6v0.6h-0.6zM225.2 62.4h0.8v0.8h-0.8zM258.5 52.6h0.9v0.9h-0.9zM266.1 67.1h0.9v0.9h-0.9zM227.6 73.6h0.6v0.6h-0.6zM263.3 51.5h0.6v0.6h-0.6z" fill="#8078d8" opacity="0.6"/>
<path d="M256.8 54.2h1.0v1.0h-1.0zM218.1 72.0h0.7v0.7h-0.7zM268.9 61.1h0.6v0.6h-0.6zM243.0 73.7h0.9v0.9h-0.9zM256.4 72.6h0.7v0.7h-0.7zM261.6 52.2h0.6v0.6h-0.6zM251.6 54.2h1.0v1.0h-1.0zM218.6 67.2h0.8v0.8h-0.8zM229.8 74.6h0.7v0.7h-0.7z" fill="#2a1a8a" opacity="0.4"/>
<path d="M232.0 62.4h0.9v0.9h-0.9zM265.7 70.2h0.7v0.7h-0.7zM266.8 67.5h0.8v0.8h-0.8zM259.0 51.4h0.9v0.9h-0.9zM266.6 66.9h0.6v0.6h-0.6zM248.3 55.0h0.7v0.7h-0.7zM235.6 60.8h0.9v0.9h-0.9zM230.3 73.3h1.0v1.0h-1.0z" fill="#5040b0" opacity="0.6"/>
<path d="M239.8 74.9h0.9v0.9h-0.9zM232.3 61.7h0.9v0.9h-0.9zM252.3 72.8h0.8v0.8h-0.8zM228.1 60.8h0.9v0.9h-0.9z" fill="#2a1a8a" opacity="0.8"/>
<path d="M228.3 62.9h0.9v0.9h-0.9zM226.5 74.0h0.7v0.7h-0.7zM267.0 67.2h0.6v0.6h-0.6zM267.9 55.4h0.8v0.8h-0.8zM263.1 49.9h0.8v0.8h-0.8zM257.5 52.3h1.0v1.0h-1.0z" fill="#6a60c8" opacity="0.4"/>
<g filter="url(#jet)">
<rect x="210.2" y="28.4" width="68.3" height="67.2" fill="#000"/>
<polygon points="211.2,63.4 217.2,63.9 220.5,66.2 223.2,64.6 232.2,63.3 240.2,62.8 244.4,59 251.4,56.8 255.5,56.1 260.5,53.4 265,52.1 267.5,54.4 267.7,59.6 267.3,65.3 264.5,69.8 256.4,71.8 244.2,73.7 232.2,73.4 223.2,72.8 220.5,71.8 217.2,74.1 211.2,74.8" fill="rgb(51,51,51)" stroke="rgb(51,51,51)" stroke-width="1" stroke-linejoin="round"/>
<g clip-path="url(#ca2e)">
<ellipse cx="215.4" cy="69" rx="6.14" ry="6.33" fill="rgb(76,76,76)" transform="rotate(0 215.4 69)"/>
<ellipse cx="232.2" cy="68.4" rx="13.02" ry="5.72" fill="rgb(76,76,76)" transform="rotate(-2 232.2 68.4)"/>
<ellipse cx="245.3" cy="66.85" rx="9.44" ry="4.15" fill="rgb(76,76,76)" transform="rotate(-6 245.3 66.85)"/>
<ellipse cx="256.4" cy="65.3" rx="17.69" ry="8.57" fill="rgb(76,76,76)" transform="rotate(-8 256.4 65.3)"/>
<ellipse cx="260.5" cy="57.6" rx="10.07" ry="7.15" fill="rgb(76,76,76)" transform="rotate(-18 260.5 57.6)"/>
<ellipse cx="215.4" cy="69" rx="5.22" ry="5.37" fill="rgb(107,107,107)" transform="rotate(0 215.4 69)"/>
<ellipse cx="232.2" cy="68.4" rx="10.22" ry="4.49" fill="rgb(107,107,107)" transform="rotate(-2 232.2 68.4)"/>
<ellipse cx="245.3" cy="66.85" rx="5.88" ry="2.59" fill="rgb(107,107,107)" transform="rotate(-6 245.3 66.85)"/>
<ellipse cx="256.4" cy="65.3" rx="15.02" ry="7.27" fill="rgb(107,107,107)" transform="rotate(-8 256.4 65.3)"/>
<ellipse cx="260.5" cy="57.6" rx="8.01" ry="5.69" fill="rgb(107,107,107)" transform="rotate(-18 260.5 57.6)"/>
<ellipse cx="215.4" cy="69" rx="4.33" ry="4.46" fill="rgb(140,140,140)" transform="rotate(0 215.4 69)"/>
<ellipse cx="232.2" cy="68.4" rx="7.22" ry="3.17" fill="rgb(140,140,140)" transform="rotate(-2 232.2 68.4)"/>
<ellipse cx="256.4" cy="65.3" rx="12.47" ry="6.04" fill="rgb(140,140,140)" transform="rotate(-8 256.4 65.3)"/>
<ellipse cx="260.5" cy="57.6" rx="5.86" ry="4.16" fill="rgb(140,140,140)" transform="rotate(-18 260.5 57.6)"/>
<ellipse cx="215.4" cy="69" rx="3.48" ry="3.58" fill="rgb(173,173,173)" transform="rotate(0 215.4 69)"/>
<ellipse cx="232.2" cy="68.4" rx="3.33" ry="1.46" fill="rgb(173,173,173)" transform="rotate(-2 232.2 68.4)"/>
<ellipse cx="256.4" cy="65.3" rx="10.01" ry="4.85" fill="rgb(173,173,173)" transform="rotate(-8 256.4 65.3)"/>
<ellipse cx="260.5" cy="57.6" rx="3.29" ry="2.34" fill="rgb(173,173,173)" transform="rotate(-18 260.5 57.6)"/>
<ellipse cx="215.4" cy="69" rx="2.65" ry="2.73" fill="rgb(204,204,204)" transform="rotate(0 215.4 69)"/>
<ellipse cx="256.4" cy="65.3" rx="7.62" ry="3.69" fill="rgb(204,204,204)" transform="rotate(-8 256.4 65.3)"/>
<ellipse cx="215.4" cy="69" rx="1.62" ry="1.67" fill="rgb(235,235,235)" transform="rotate(0 215.4 69)"/>
<ellipse cx="256.4" cy="65.3" rx="4.66" ry="2.25" fill="rgb(235,235,235)" transform="rotate(-8 256.4 65.3)"/>
<ellipse cx="215.4" cy="69" rx="1.19" ry="1.22" fill="rgb(255,255,255)" transform="rotate(0 215.4 69)"/>
<ellipse cx="232.2" cy="68.4" rx="2.95" ry="1.3" fill="rgb(184,184,184)" transform="rotate(-2 232.2 68.4)"/>
<ellipse cx="245.3" cy="66.85" rx="2.7" ry="1.19" fill="rgb(133,133,133)" transform="rotate(-6 245.3 66.85)"/>
<ellipse cx="256.4" cy="65.3" rx="3.42" ry="1.66" fill="rgb(255,255,255)" transform="rotate(-8 256.4 65.3)"/>
<ellipse cx="260.5" cy="57.6" rx="2.23" ry="1.58" fill="rgb(191,191,191)" transform="rotate(-18 260.5 57.6)"/>
</g>
</g>
</g>
<rect x="295.3" y="32.4" width="60.3" height="59.2" fill="none" stroke="#9a9a9a" stroke-width="0.8"/>
<text x="292.7" y="40.2" font-size="5.3" text-anchor="end" fill="#3a3a3a">10<tspan font-size="3.29" dy="-2">5</tspan></text>
<line x1="294.1" y1="38.5" x2="295.3" y2="38.5" stroke="#888" stroke-width="0.6"/>
<text x="292.7" y="50.5" font-size="5.3" text-anchor="end" fill="#3a3a3a">10<tspan font-size="3.29" dy="-2">4</tspan></text>
<line x1="294.1" y1="48.8" x2="295.3" y2="48.8" stroke="#888" stroke-width="0.6"/>
<text x="292.7" y="61.3" font-size="5.3" text-anchor="end" fill="#3a3a3a">10<tspan font-size="3.29" dy="-2">3</tspan></text>
<line x1="294.1" y1="59.6" x2="295.3" y2="59.6" stroke="#888" stroke-width="0.6"/>
<text x="292.7" y="72.1" font-size="5.3" text-anchor="end" fill="#3a3a3a">10<tspan font-size="3.29" dy="-2">2</tspan></text>
<line x1="294.1" y1="70.4" x2="295.3" y2="70.4" stroke="#888" stroke-width="0.6"/>
<text x="292.7" y="82.7" font-size="5.3" text-anchor="end" fill="#3a3a3a">10<tspan font-size="3.29" dy="-2">1</tspan></text>
<line x1="294.1" y1="81" x2="295.3" y2="81" stroke="#888" stroke-width="0.6"/>
<text x="292.7" y="92.9" font-size="5.3" text-anchor="end" fill="#3a3a3a">10<tspan font-size="3.29" dy="-2">0</tspan></text>
<line x1="294.1" y1="91.2" x2="295.3" y2="91.2" stroke="#888" stroke-width="0.6"/>
<line x1="297.3" y1="91.6" x2="297.3" y2="90.4" stroke="#888" stroke-width="0.6"/>
<line x1="308.56" y1="91.6" x2="308.56" y2="90.4" stroke="#888" stroke-width="0.6"/>
<line x1="319.82" y1="91.6" x2="319.82" y2="90.4" stroke="#888" stroke-width="0.6"/>
<line x1="331.08" y1="91.6" x2="331.08" y2="90.4" stroke="#888" stroke-width="0.6"/>
<line x1="342.34" y1="91.6" x2="342.34" y2="90.4" stroke="#888" stroke-width="0.6"/>
<line x1="353.6" y1="91.6" x2="353.6" y2="90.4" stroke="#888" stroke-width="0.6"/>
<polyline points="327.8,62 327.8,44.6 355.6,44.6 355.6,57.4" fill="none" stroke="#a4acb4" stroke-width="0.85"/>
<line x1="355.6" y1="57.4" x2="349.6" y2="60.9" stroke="#a4acb4" stroke-width="0.8"/>
<circle cx="327.8" cy="44.6" r="1.2" fill="#6c747c"/>
<circle cx="355.6" cy="44.6" r="1.2" fill="#6c747c"/>
<circle cx="355.6" cy="57.4" r="1.2" fill="#6c747c"/>
<text x="352.9" y="40.2" font-size="8.2" text-anchor="end" fill="#333">23%</text>
<text x="324.5" y="26.2" font-size="8.8" text-anchor="middle" fill="#222" textLength="40" lengthAdjust="spacingAndGlyphs" stroke="#222" stroke-width="0.12">+ WMCL.1</text>
<clipPath id="ca3"><rect x="295.3" y="32.4" width="60.3" height="59.2"/></clipPath>
<clipPath id="ca3e"><polygon points="292.3,61.4 298.3,61.9 301.6,64.2 304.3,62.5 313.9,61.2 321.9,60.7 325.4,58.4 332.4,56.2 336.5,53.4 341.5,50.7 346,49.4 348.5,51.7 348.7,56.9 348.3,64.7 345.5,69.2 337.4,71.2 325.9,71.6 313.9,71.3 304.3,70.8 301.6,69.8 298.3,72.1 292.3,72.8"/></clipPath>
<g clip-path="url(#ca3)">
<ellipse cx="317.3" cy="58.3" rx="13" ry="4" fill="#b8b0e0" opacity="0.45" filter="url(#hz)" transform="rotate(-8 317.3 58.3)"/>
<ellipse cx="323.3" cy="74.8" rx="15" ry="3" fill="#d0c8ec" opacity="0.35" filter="url(#hz)" transform="rotate(-3 323.3 74.8)"/>
<path d="M312.2 56.6h0.8v0.8h-0.8zM315.4 60.2h1.0v1.0h-1.0zM319.4 61.8h0.9v0.9h-0.9zM305.3 62.4h0.8v0.8h-0.8zM297.7 57.2h1.0v1.0h-1.0zM313.5 56.0h1.0v1.0h-1.0zM320.6 58.7h1.2v1.2h-1.2zM317.6 52.4h0.8v0.8h-0.8zM322.2 61.7h0.8v0.8h-0.8zM314.6 52.8h0.8v0.8h-0.8zM337.0 56.6h0.9v0.9h-0.9zM311.2 57.8h1.1v1.1h-1.1zM313.0 55.5h0.7v0.7h-0.7zM338.5 54.8h0.9v0.9h-0.9zM315.8 57.9h1.0v1.0h-1.0zM326.8 57.5h1.1v1.1h-1.1zM288.3 55.1h1.2v1.2h-1.2zM327.4 50.5h1.0v1.0h-1.0zM320.5 53.4h1.0v1.0h-1.0zM295.4 57.8h0.8v0.8h-0.8zM316.4 60.3h0.9v0.9h-0.9zM317.9 53.5h0.9v0.9h-0.9zM307.5 55.2h1.1v1.1h-1.1zM325.1 55.4h0.8v0.8h-0.8zM302.9 58.0h0.8v0.8h-0.8zM305.6 57.5h0.8v0.8h-0.8zM320.4 55.6h1.1v1.1h-1.1zM323.2 62.0h0.9v0.9h-0.9zM331.2 59.2h1.0v1.0h-1.0zM290.3 60.2h0.9v0.9h-0.9zM319.7 61.7h1.0v1.0h-1.0zM343.9 53.6h1.0v1.0h-1.0z" fill="#5a5ad0" opacity="0.6"/>
<path d="M334.4 55.8h0.7v0.7h-0.7zM312.0 59.6h1.1v1.1h-1.1zM325.6 60.1h1.0v1.0h-1.0zM330.4 56.5h0.9v0.9h-0.9zM313.0 59.4h1.2v1.2h-1.2zM300.5 56.8h0.8v0.8h-0.8zM319.0 54.7h0.8v0.8h-0.8z" fill="#8080e0" opacity="0.8"/>
<path d="M319.0 59.8h0.8v0.8h-0.8zM316.6 51.4h0.9v0.9h-0.9zM311.1 56.7h1.1v1.1h-1.1zM312.5 54.5h1.1v1.1h-1.1zM302.5 56.5h1.1v1.1h-1.1zM339.6 58.8h1.2v1.2h-1.2zM311.1 56.3h1.0v1.0h-1.0zM322.5 60.9h0.9v0.9h-0.9zM334.8 61.0h1.0v1.0h-1.0zM293.2 57.2h0.9v0.9h-0.9zM306.3 57.4h1.1v1.1h-1.1zM313.0 56.6h0.7v0.7h-0.7zM309.3 60.8h0.8v0.8h-0.8zM308.2 61.3h1.2v1.2h-1.2zM298.9 59.0h1.1v1.1h-1.1zM315.0 59.4h0.8v0.8h-0.8zM309.9 56.1h0.9v0.9h-0.9zM325.3 58.5h1.1v1.1h-1.1zM313.4 54.2h1.2v1.2h-1.2zM324.3 53.2h0.8v0.8h-0.8zM317.4 56.6h1.0v1.0h-1.0zM311.5 58.0h0.9v0.9h-0.9zM309.7 61.2h0.9v0.9h-0.9zM302.0 59.0h0.9v0.9h-0.9zM316.2 58.0h1.0v1.0h-1.0zM303.7 60.1h0.8v0.8h-0.8z" fill="#9090ff" opacity="0.6"/>
<path d="M299.7 56.7h1.0v1.0h-1.0zM316.5 53.8h1.1v1.1h-1.1zM315.2 61.8h1.1v1.1h-1.1zM329.5 59.7h0.9v0.9h-0.9zM326.9 54.7h1.1v1.1h-1.1zM316.7 55.9h0.8v0.8h-0.8zM313.8 55.7h0.7v0.7h-0.7zM313.2 59.5h1.1v1.1h-1.1zM307.6 58.7h0.8v0.8h-0.8zM304.0 52.7h0.9v0.9h-0.9zM301.0 52.5h0.7v0.7h-0.7zM336.3 53.6h1.0v1.0h-1.0zM329.1 57.4h0.8v0.8h-0.8zM295.3 59.1h0.8v0.8h-0.8zM325.4 55.9h0.8v0.8h-0.8zM300.1 64.0h0.9v0.9h-0.9zM319.8 58.5h0.9v0.9h-0.9z" fill="#b0a0e8" opacity="0.8"/>
<path d="M317.6 57.1h1.1v1.1h-1.1zM331.3 59.8h0.9v0.9h-0.9zM317.4 53.1h1.2v1.2h-1.2zM318.1 57.0h0.8v0.8h-0.8zM341.7 59.1h1.1v1.1h-1.1zM324.3 56.3h0.8v0.8h-0.8zM306.2 61.1h1.2v1.2h-1.2zM312.4 48.3h0.9v0.9h-0.9zM334.6 57.7h0.9v0.9h-0.9zM313.6 52.1h0.9v0.9h-0.9zM327.0 53.7h0.9v0.9h-0.9zM306.5 59.1h0.8v0.8h-0.8zM312.8 59.6h0.8v0.8h-0.8zM314.2 58.3h1.0v1.0h-1.0zM312.9 54.4h1.1v1.1h-1.1zM327.5 53.2h0.9v0.9h-0.9zM285.3 56.4h1.0v1.0h-1.0zM311.6 57.6h0.7v0.7h-0.7zM319.9 58.0h1.0v1.0h-1.0zM304.9 56.1h0.9v0.9h-0.9zM309.0 58.8h0.9v0.9h-0.9zM329.7 54.8h0.8v0.8h-0.8zM311.0 60.7h1.1v1.1h-1.1zM312.5 59.7h0.8v0.8h-0.8zM317.1 57.8h0.9v0.9h-0.9zM302.3 52.7h0.9v0.9h-0.9zM326.9 57.9h0.9v0.9h-0.9zM306.7 58.5h1.1v1.1h-1.1zM295.9 61.0h0.7v0.7h-0.7zM304.2 55.6h0.8v0.8h-0.8zM308.4 55.2h1.1v1.1h-1.1zM312.0 52.6h1.1v1.1h-1.1zM315.0 54.8h1.0v1.0h-1.0zM307.8 58.8h0.8v0.8h-0.8z" fill="#5a5ad0" opacity="0.4"/>
<path d="M304.9 55.1h1.2v1.2h-1.2zM329.7 55.9h1.1v1.1h-1.1zM315.3 60.4h1.0v1.0h-1.0zM321.0 56.4h1.1v1.1h-1.1zM323.6 60.9h1.1v1.1h-1.1zM310.1 57.9h0.9v0.9h-0.9zM316.4 57.5h1.1v1.1h-1.1zM330.1 58.4h1.1v1.1h-1.1zM316.9 58.3h0.8v0.8h-0.8zM322.4 50.8h1.0v1.0h-1.0zM335.3 55.5h1.2v1.2h-1.2zM313.9 52.2h0.8v0.8h-0.8zM318.3 58.9h1.2v1.2h-1.2zM322.8 51.8h1.0v1.0h-1.0zM327.2 58.1h0.8v0.8h-0.8zM317.9 52.1h1.1v1.1h-1.1zM300.8 61.2h1.0v1.0h-1.0zM329.3 55.4h1.1v1.1h-1.1zM319.8 60.1h0.7v0.7h-0.7zM319.6 56.8h0.7v0.7h-0.7zM304.3 56.0h0.8v0.8h-0.8zM319.4 56.2h1.1v1.1h-1.1zM332.9 55.3h1.0v1.0h-1.0zM323.1 61.2h0.8v0.8h-0.8zM345.4 61.9h1.0v1.0h-1.0zM310.0 61.7h1.0v1.0h-1.0zM324.6 59.4h1.1v1.1h-1.1zM308.4 61.3h0.9v0.9h-0.9zM330.4 55.0h1.2v1.2h-1.2zM323.9 58.9h0.8v0.8h-0.8zM301.7 57.2h1.0v1.0h-1.0zM318.6 58.5h0.8v0.8h-0.8z" fill="#b0a0e8" opacity="0.4"/>
<path d="M325.2 59.6h0.9v0.9h-0.9zM315.3 55.3h0.7v0.7h-0.7zM301.1 66.4h1.1v1.1h-1.1zM302.8 55.4h1.0v1.0h-1.0zM329.6 59.3h0.7v0.7h-0.7zM308.0 62.4h1.2v1.2h-1.2zM300.8 59.9h1.2v1.2h-1.2zM308.8 64.4h0.7v0.7h-0.7zM311.4 52.5h0.8v0.8h-0.8zM336.2 60.0h1.0v1.0h-1.0zM314.1 58.0h0.7v0.7h-0.7zM311.5 58.5h1.1v1.1h-1.1zM323.2 52.7h1.1v1.1h-1.1zM313.4 62.7h0.8v0.8h-0.8zM312.8 63.3h0.9v0.9h-0.9zM317.2 52.5h0.8v0.8h-0.8zM310.2 52.0h0.8v0.8h-0.8zM310.5 56.2h1.1v1.1h-1.1zM327.3 56.8h1.0v1.0h-1.0zM315.9 55.7h1.2v1.2h-1.2zM329.6 58.7h0.7v0.7h-0.7zM304.6 59.5h0.9v0.9h-0.9z" fill="#b0a0e8" opacity="0.6"/>
<path d="M318.1 60.3h0.7v0.7h-0.7zM315.9 59.1h1.2v1.2h-1.2zM291.7 62.0h1.0v1.0h-1.0zM309.3 60.9h1.1v1.1h-1.1zM316.3 56.9h0.8v0.8h-0.8zM319.0 52.1h0.9v0.9h-0.9zM321.8 62.1h1.0v1.0h-1.0zM327.2 50.9h1.2v1.2h-1.2zM305.5 57.5h0.9v0.9h-0.9zM318.4 54.2h1.0v1.0h-1.0zM308.5 58.8h0.9v0.9h-0.9zM303.5 55.0h1.0v1.0h-1.0zM310.4 57.9h0.9v0.9h-0.9zM329.2 60.2h0.9v0.9h-0.9zM312.2 56.8h0.9v0.9h-0.9zM311.7 58.8h1.1v1.1h-1.1zM314.2 57.0h0.8v0.8h-0.8zM330.5 54.9h0.9v0.9h-0.9zM342.1 52.9h1.1v1.1h-1.1zM334.7 57.7h1.1v1.1h-1.1zM326.6 56.5h1.2v1.2h-1.2zM300.1 58.0h0.9v0.9h-0.9zM316.0 57.0h0.9v0.9h-0.9zM296.4 61.6h0.9v0.9h-0.9zM326.4 60.4h0.8v0.8h-0.8zM316.2 60.7h0.7v0.7h-0.7zM323.3 54.8h0.9v0.9h-0.9zM329.1 56.5h1.2v1.2h-1.2zM313.2 59.1h0.8v0.8h-0.8z" fill="#9090ff" opacity="0.4"/>
<path d="M312.4 49.5h0.9v0.9h-0.9zM322.2 56.7h0.8v0.8h-0.8zM343.9 54.5h0.8v0.8h-0.8zM327.5 57.7h0.9v0.9h-0.9zM297.6 51.0h1.2v1.2h-1.2zM308.3 59.4h1.2v1.2h-1.2zM321.4 51.3h0.9v0.9h-0.9zM310.8 55.0h1.0v1.0h-1.0zM317.6 55.8h0.9v0.9h-0.9zM330.8 50.7h1.2v1.2h-1.2zM315.6 56.7h1.0v1.0h-1.0zM321.2 56.7h1.0v1.0h-1.0zM319.4 61.2h0.8v0.8h-0.8zM312.9 52.1h0.8v0.8h-0.8zM321.7 57.6h1.1v1.1h-1.1zM320.5 56.5h1.0v1.0h-1.0zM325.8 55.7h0.7v0.7h-0.7zM307.1 56.0h0.7v0.7h-0.7zM304.6 57.2h1.1v1.1h-1.1zM323.8 52.7h0.9v0.9h-0.9zM333.6 54.8h1.0v1.0h-1.0zM324.5 56.4h0.9v0.9h-0.9zM313.9 56.1h0.9v0.9h-0.9zM304.7 57.1h1.1v1.1h-1.1zM303.0 55.2h0.9v0.9h-0.9zM300.4 56.9h0.9v0.9h-0.9zM307.5 51.3h1.1v1.1h-1.1zM318.2 52.2h0.9v0.9h-0.9zM305.7 54.5h0.8v0.8h-0.8zM330.0 53.0h1.1v1.1h-1.1z" fill="#8080e0" opacity="0.4"/>
<path d="M308.4 56.4h0.8v0.8h-0.8zM307.5 55.6h0.7v0.7h-0.7zM302.8 55.2h1.1v1.1h-1.1zM328.8 61.6h1.2v1.2h-1.2zM314.4 48.8h1.2v1.2h-1.2zM330.8 58.8h1.1v1.1h-1.1zM324.5 53.1h1.2v1.2h-1.2zM311.0 55.3h1.0v1.0h-1.0zM330.9 55.8h0.7v0.7h-0.7zM308.0 54.4h1.0v1.0h-1.0zM317.4 52.3h0.9v0.9h-0.9zM316.2 55.8h1.1v1.1h-1.1zM286.6 60.7h1.1v1.1h-1.1zM309.9 60.6h1.2v1.2h-1.2zM306.1 58.9h0.7v0.7h-0.7zM318.1 58.0h0.9v0.9h-0.9zM301.4 58.1h0.7v0.7h-0.7zM317.5 61.7h0.9v0.9h-0.9zM315.3 53.0h0.9v0.9h-0.9z" fill="#8080e0" opacity="0.6"/>
<path d="M328.5 56.8h1.1v1.1h-1.1zM334.1 56.4h1.1v1.1h-1.1zM315.7 57.0h1.0v1.0h-1.0zM302.3 57.0h0.9v0.9h-0.9zM312.5 58.3h0.7v0.7h-0.7zM325.4 54.0h1.0v1.0h-1.0zM303.6 63.2h1.2v1.2h-1.2zM301.0 56.2h0.9v0.9h-0.9z" fill="#9090ff" opacity="0.8"/>
<path d="M336.3 55.1h1.1v1.1h-1.1zM308.8 55.5h1.0v1.0h-1.0zM327.5 56.6h0.7v0.7h-0.7zM314.5 53.7h0.9v0.9h-0.9z" fill="#5a5ad0" opacity="0.8"/>
<path d="M328.6 77.8h1.1v1.1h-1.1zM331.8 76.7h0.8v0.8h-0.8zM325.4 72.8h1.1v1.1h-1.1zM336.4 78.0h1.0v1.0h-1.0zM302.7 71.0h0.9v0.9h-0.9zM329.5 77.7h1.1v1.1h-1.1zM340.1 75.3h1.0v1.0h-1.0zM342.6 77.2h0.9v0.9h-0.9zM333.4 81.6h0.8v0.8h-0.8zM298.6 78.9h1.0v1.0h-1.0zM340.5 75.0h1.0v1.0h-1.0zM328.4 77.5h1.0v1.0h-1.0zM331.2 74.0h0.8v0.8h-0.8zM320.0 74.1h1.1v1.1h-1.1zM318.0 78.4h0.9v0.9h-0.9zM333.8 75.6h0.7v0.7h-0.7zM324.8 74.0h0.9v0.9h-0.9zM303.3 77.3h1.0v1.0h-1.0zM314.6 74.6h1.0v1.0h-1.0zM325.9 69.7h1.0v1.0h-1.0zM343.4 79.3h1.0v1.0h-1.0zM317.9 73.1h1.0v1.0h-1.0zM323.3 75.7h0.8v0.8h-0.8zM317.1 75.4h0.8v0.8h-0.8zM289.7 74.0h0.9v0.9h-0.9zM333.1 69.1h0.8v0.8h-0.8zM331.6 75.2h1.1v1.1h-1.1z" fill="#a0a0e0" opacity="0.4"/>
<path d="M324.8 72.7h1.0v1.0h-1.0zM309.2 70.4h1.0v1.0h-1.0zM320.6 78.1h1.2v1.2h-1.2zM326.1 75.7h1.1v1.1h-1.1zM310.8 75.8h0.9v0.9h-0.9z" fill="#f0c0d0" opacity="0.2"/>
<path d="M322.0 73.4h1.0v1.0h-1.0zM329.0 77.3h0.7v0.7h-0.7zM332.8 76.1h0.8v0.8h-0.8zM311.4 75.4h0.8v0.8h-0.8zM317.9 76.1h1.0v1.0h-1.0zM306.4 72.7h1.0v1.0h-1.0z" fill="#e0b0e0" opacity="0.6"/>
<path d="M314.7 76.2h0.8v0.8h-0.8zM332.3 70.8h1.1v1.1h-1.1zM322.1 77.4h0.9v0.9h-0.9zM310.1 69.5h0.8v0.8h-0.8zM324.4 77.5h1.0v1.0h-1.0zM315.3 74.5h1.2v1.2h-1.2zM343.6 72.1h0.9v0.9h-0.9zM317.6 76.7h0.8v0.8h-0.8zM315.2 75.7h0.8v0.8h-0.8zM315.8 74.1h0.9v0.9h-0.9zM326.0 69.5h1.0v1.0h-1.0zM316.8 77.1h0.9v0.9h-0.9z" fill="#e0b0e0" opacity="0.4"/>
<path d="M324.1 75.1h0.7v0.7h-0.7zM315.6 76.4h0.7v0.7h-0.7zM326.8 75.8h0.9v0.9h-0.9zM346.1 69.9h1.0v1.0h-1.0zM331.3 70.2h0.9v0.9h-0.9zM317.8 73.7h1.2v1.2h-1.2zM321.0 71.9h1.0v1.0h-1.0zM337.8 74.8h0.8v0.8h-0.8zM322.3 72.5h1.1v1.1h-1.1zM304.1 78.7h1.2v1.2h-1.2zM317.0 74.9h0.7v0.7h-0.7zM320.8 72.2h1.1v1.1h-1.1zM332.5 71.0h1.0v1.0h-1.0zM329.2 72.6h1.1v1.1h-1.1zM348.6 73.9h1.0v1.0h-1.0zM316.5 73.7h1.0v1.0h-1.0zM318.7 73.0h0.8v0.8h-0.8zM323.7 80.2h1.0v1.0h-1.0zM328.2 72.8h0.7v0.7h-0.7zM310.5 80.5h0.9v0.9h-0.9z" fill="#a0c0f0" opacity="0.4"/>
<path d="M335.9 76.9h1.0v1.0h-1.0zM344.5 76.1h0.7v0.7h-0.7zM331.8 74.4h1.2v1.2h-1.2zM313.7 75.1h0.8v0.8h-0.8zM333.8 72.7h1.2v1.2h-1.2zM327.2 75.5h1.2v1.2h-1.2zM313.1 72.8h0.7v0.7h-0.7zM340.6 78.1h1.1v1.1h-1.1zM337.4 68.3h1.0v1.0h-1.0zM334.6 69.8h1.0v1.0h-1.0z" fill="#c0a0e0" opacity="0.6"/>
<path d="M332.2 76.1h1.1v1.1h-1.1zM351.8 73.1h0.8v0.8h-0.8zM342.0 75.5h1.2v1.2h-1.2zM322.1 73.0h0.8v0.8h-0.8zM330.0 75.4h1.2v1.2h-1.2zM350.7 74.4h0.8v0.8h-0.8zM335.2 74.7h0.7v0.7h-0.7z" fill="#a0a0e0" opacity="0.6"/>
<path d="M335.6 79.4h0.8v0.8h-0.8zM317.6 72.7h1.1v1.1h-1.1zM338.8 77.6h0.9v0.9h-0.9z" fill="#a0a0e0" opacity="0.2"/>
<path d="M312.1 74.1h0.8v0.8h-0.8zM326.5 73.4h0.9v0.9h-0.9zM357.5 72.4h1.0v1.0h-1.0zM317.8 70.0h1.2v1.2h-1.2zM316.3 77.3h0.9v0.9h-0.9zM312.9 69.3h0.9v0.9h-0.9zM327.5 73.7h1.0v1.0h-1.0zM309.5 73.8h0.9v0.9h-0.9zM341.7 75.0h1.0v1.0h-1.0z" fill="#a0c0f0" opacity="0.6"/>
<path d="M337.5 77.7h0.8v0.8h-0.8zM324.5 72.2h0.8v0.8h-0.8zM313.6 73.3h0.9v0.9h-0.9z" fill="#c0a0e0" opacity="0.2"/>
<path d="M320.8 72.2h0.9v0.9h-0.9zM317.4 78.1h0.8v0.8h-0.8zM320.3 75.5h0.9v0.9h-0.9zM326.7 75.1h0.8v0.8h-0.8zM338.1 74.3h1.0v1.0h-1.0zM311.6 72.6h0.9v0.9h-0.9zM326.4 76.7h0.7v0.7h-0.7zM325.5 73.7h0.8v0.8h-0.8zM345.9 72.7h0.8v0.8h-0.8zM344.7 73.8h1.0v1.0h-1.0zM313.6 77.2h1.0v1.0h-1.0z" fill="#f0c0d0" opacity="0.6"/>
<path d="M309.8 78.8h1.1v1.1h-1.1zM336.2 74.1h1.2v1.2h-1.2zM337.9 77.5h0.8v0.8h-0.8zM312.7 76.9h1.1v1.1h-1.1zM323.6 79.4h1.1v1.1h-1.1zM324.9 75.6h0.8v0.8h-0.8zM332.8 71.6h1.1v1.1h-1.1zM300.8 69.0h1.0v1.0h-1.0zM331.2 76.3h1.1v1.1h-1.1zM343.7 74.7h1.1v1.1h-1.1zM330.6 76.8h1.0v1.0h-1.0zM315.8 71.9h0.9v0.9h-0.9zM345.3 77.6h1.0v1.0h-1.0z" fill="#f0c0d0" opacity="0.4"/>
<path d="M298.1 74.0h0.9v0.9h-0.9zM339.5 75.3h1.2v1.2h-1.2zM334.1 76.0h0.9v0.9h-0.9zM333.3 73.1h1.1v1.1h-1.1zM337.3 75.5h0.8v0.8h-0.8zM342.2 77.5h0.8v0.8h-0.8zM338.8 75.6h1.0v1.0h-1.0zM318.9 69.6h1.2v1.2h-1.2zM335.1 77.7h1.2v1.2h-1.2zM328.5 76.3h0.7v0.7h-0.7zM329.4 78.2h1.2v1.2h-1.2zM348.8 71.4h0.8v0.8h-0.8z" fill="#c0a0e0" opacity="0.4"/>
<path d="M308.7 74.1h1.0v1.0h-1.0z" fill="#a0c0f0" opacity="0.2"/>
<path d="M322.6 78.0h1.1v1.1h-1.1z" fill="#e0b0e0" opacity="0.2"/>
<path d="M298.6 75.0h0.9v0.9h-0.9zM318.2 78.6h0.8v0.8h-0.8zM306.6 75.7h1.2v1.2h-1.2zM305.0 81.6h1.2v1.2h-1.2zM304.5 77.6h0.9v0.9h-0.9zM307.3 74.4h0.7v0.7h-0.7zM315.9 78.5h0.9v0.9h-0.9zM299.3 79.0h1.0v1.0h-1.0zM316.0 80.1h1.1v1.1h-1.1zM309.4 74.3h1.1v1.1h-1.1z" fill="#9090e0" opacity="0.4"/>
<path d="M312.5 76.8h1.0v1.0h-1.0zM312.2 75.3h1.2v1.2h-1.2zM308.5 77.9h1.2v1.2h-1.2zM306.4 82.1h0.7v0.7h-0.7zM307.2 76.7h0.9v0.9h-0.9zM308.2 72.4h1.0v1.0h-1.0z" fill="#9090e0" opacity="0.6"/>
<path d="M301.0 78.1h0.7v0.7h-0.7zM309.0 76.3h0.9v0.9h-0.9zM305.3 81.8h0.9v0.9h-0.9zM307.5 74.0h1.2v1.2h-1.2zM313.9 85.2h1.1v1.1h-1.1z" fill="#c0b0f0" opacity="0.2"/>
<path d="M301.9 87.2h0.8v0.8h-0.8zM299.9 71.4h0.9v0.9h-0.9zM307.2 85.9h1.0v1.0h-1.0zM315.9 64.7h0.9v0.9h-0.9zM310.4 74.4h1.2v1.2h-1.2zM306.0 68.5h0.8v0.8h-0.8zM312.3 77.9h0.8v0.8h-0.8zM302.8 77.5h0.8v0.8h-0.8zM318.5 78.5h1.0v1.0h-1.0zM291.4 72.5h1.1v1.1h-1.1zM296.2 78.1h0.8v0.8h-0.8z" fill="#c0b0f0" opacity="0.4"/>
<path d="M304.5 81.1h0.7v0.7h-0.7zM307.8 86.1h1.2v1.2h-1.2zM304.5 71.6h0.8v0.8h-0.8zM306.6 81.5h1.2v1.2h-1.2zM303.0 77.8h0.9v0.9h-0.9z" fill="#9090e0" opacity="0.2"/>
<path d="M303.4 77.2h1.2v1.2h-1.2zM314.5 86.4h1.0v1.0h-1.0zM301.2 70.4h0.8v0.8h-0.8z" fill="#c0b0f0" opacity="0.6"/>
<path d="M324.5 54.2h1.0v1.0h-1.0zM329.7 73.1h0.8v0.8h-0.8zM349.1 51.7h0.7v0.7h-0.7zM335.3 51.0h1.0v1.0h-1.0zM349.4 58.7h0.9v0.9h-0.9zM322.5 58.4h0.8v0.8h-0.8z" fill="#6a60c8" opacity="0.4"/>
<path d="M314.9 72.6h1.0v1.0h-1.0zM315.7 58.7h0.6v0.6h-0.6zM329.1 54.7h0.9v0.9h-0.9zM336.3 71.8h0.7v0.7h-0.7zM324.8 72.8h0.9v0.9h-0.9zM332.3 72.1h0.9v0.9h-0.9zM336.8 72.2h0.6v0.6h-0.6zM348.7 59.3h0.9v0.9h-0.9z" fill="#8078d8" opacity="0.4"/>
<path d="M315.4 60.2h0.6v0.6h-0.6zM318.4 59.9h1.0v1.0h-1.0zM297.6 62.0h0.9v0.9h-0.9zM296.0 63.5h0.9v0.9h-0.9zM347.9 67.9h0.7v0.7h-0.7zM339.3 70.8h0.7v0.7h-0.7zM348.3 63.1h0.8v0.8h-0.8zM308.3 58.3h0.8v0.8h-0.8zM319.9 56.9h0.7v0.7h-0.7zM328.3 56.5h0.8v0.8h-0.8zM341.0 49.2h0.9v0.9h-0.9zM301.1 60.9h0.6v0.6h-0.6z" fill="#3a2a9a" opacity="0.6"/>
<path d="M348.9 57.7h0.8v0.8h-0.8zM330.6 54.4h1.0v1.0h-1.0zM343.3 48.2h0.8v0.8h-0.8zM316.5 59.3h0.6v0.6h-0.6zM344.2 48.2h0.6v0.6h-0.6zM348.1 49.8h0.7v0.7h-0.7zM307.3 60.0h0.9v0.9h-0.9zM331.8 72.2h1.0v1.0h-1.0zM324.4 57.7h0.8v0.8h-0.8zM346.8 69.2h0.7v0.7h-0.7zM304.8 61.3h0.8v0.8h-0.8zM298.4 63.0h0.9v0.9h-0.9z" fill="#3a2a9a" opacity="0.4"/>
<path d="M349.3 63.0h0.9v0.9h-0.9zM328.4 72.2h0.9v0.9h-0.9zM329.9 55.4h0.9v0.9h-0.9zM299.4 67.8h0.8v0.8h-0.8zM326.1 72.7h0.9v0.9h-0.9zM330.4 54.9h1.0v1.0h-1.0zM317.4 58.1h0.8v0.8h-0.8zM316.3 57.8h0.6v0.6h-0.6z" fill="#8078d8" opacity="0.6"/>
<path d="M337.4 71.5h1.0v1.0h-1.0zM317.6 59.3h1.0v1.0h-1.0zM307.6 71.1h0.6v0.6h-0.6zM346.1 48.9h0.6v0.6h-0.6zM336.3 54.4h0.7v0.7h-0.7zM305.3 71.0h0.6v0.6h-0.6z" fill="#5040b0" opacity="0.6"/>
<path d="M316.4 60.4h0.7v0.7h-0.7zM335.0 72.4h0.6v0.6h-0.6zM296.5 74.1h0.7v0.7h-0.7zM301.3 63.2h0.7v0.7h-0.7zM304.9 60.2h1.0v1.0h-1.0zM320.0 57.9h0.9v0.9h-0.9zM311.1 72.0h0.7v0.7h-0.7zM333.9 71.4h0.9v0.9h-0.9zM320.7 59.2h0.7v0.7h-0.7zM332.7 72.0h0.6v0.6h-0.6z" fill="#2a1a8a" opacity="0.8"/>
<path d="M336.4 51.5h0.9v0.9h-0.9zM318.3 72.1h0.7v0.7h-0.7zM335.9 72.7h0.9v0.9h-0.9zM323.3 72.5h0.8v0.8h-0.8zM312.1 59.0h1.0v1.0h-1.0zM301.9 70.2h0.7v0.7h-0.7zM296.9 72.3h0.9v0.9h-0.9zM349.4 55.2h0.7v0.7h-0.7z" fill="#2a1a8a" opacity="0.4"/>
<path d="M311.1 60.6h0.8v0.8h-0.8zM320.6 58.8h0.9v0.9h-0.9zM314.2 73.0h0.7v0.7h-0.7zM340.5 70.7h0.6v0.6h-0.6zM340.6 49.7h1.0v1.0h-1.0zM348.7 62.3h0.8v0.8h-0.8zM299.5 69.8h0.9v0.9h-0.9zM323.2 71.5h0.8v0.8h-0.8zM329.1 55.9h0.8v0.8h-0.8zM298.5 69.2h1.0v1.0h-1.0zM296.6 72.3h0.8v0.8h-0.8zM324.0 57.7h1.0v1.0h-1.0zM321.9 59.5h0.7v0.7h-0.7zM342.2 48.2h0.7v0.7h-0.7zM307.5 59.6h0.7v0.7h-0.7z" fill="#5040b0" opacity="0.8"/>
<path d="M308.0 60.2h0.8v0.8h-0.8zM348.9 54.3h0.9v0.9h-0.9zM343.9 70.9h1.0v1.0h-1.0zM337.9 71.1h0.7v0.7h-0.7zM347.7 50.1h0.8v0.8h-0.8zM314.5 72.3h0.8v0.8h-0.8zM304.0 72.4h0.7v0.7h-0.7zM347.9 69.7h1.0v1.0h-1.0zM334.3 71.9h0.9v0.9h-0.9zM325.7 72.1h1.0v1.0h-1.0z" fill="#6a60c8" opacity="0.8"/>
<path d="M348.3 64.7h1.0v1.0h-1.0zM320.1 58.3h0.9v0.9h-0.9zM310.1 60.6h0.8v0.8h-0.8zM348.9 51.5h0.7v0.7h-0.7zM321.9 58.0h0.8v0.8h-0.8zM325.1 57.0h0.9v0.9h-0.9zM333.2 72.5h0.9v0.9h-0.9zM296.8 64.7h0.8v0.8h-0.8zM322.0 56.0h0.8v0.8h-0.8zM342.8 71.2h0.9v0.9h-0.9z" fill="#3a2a9a" opacity="0.8"/>
<path d="M328.5 73.4h0.9v0.9h-0.9zM342.8 70.2h0.9v0.9h-0.9zM341.6 72.4h0.8v0.8h-0.8zM302.7 70.3h0.8v0.8h-0.8zM322.5 58.3h0.7v0.7h-0.7zM296.9 72.9h0.9v0.9h-0.9zM314.5 59.1h0.9v0.9h-0.9zM340.5 50.1h0.7v0.7h-0.7zM311.7 60.3h0.7v0.7h-0.7zM341.9 49.5h0.8v0.8h-0.8zM306.5 72.4h0.7v0.7h-0.7z" fill="#8078d8" opacity="0.8"/>
<path d="M346.6 48.3h0.9v0.9h-0.9zM328.4 55.8h1.0v1.0h-1.0zM346.9 67.5h1.0v1.0h-1.0zM301.6 71.2h0.6v0.6h-0.6zM325.7 56.5h0.6v0.6h-0.6zM303.2 61.5h0.8v0.8h-0.8zM343.5 70.2h1.0v1.0h-1.0zM327.6 73.4h0.7v0.7h-0.7zM295.2 63.1h0.9v0.9h-0.9z" fill="#5040b0" opacity="0.4"/>
<path d="M342.5 47.0h0.7v0.7h-0.7zM302.2 62.7h0.7v0.7h-0.7zM335.2 72.6h0.7v0.7h-0.7zM312.0 60.5h1.0v1.0h-1.0zM336.8 55.0h1.0v1.0h-1.0zM342.6 49.1h0.8v0.8h-0.8z" fill="#2a1a8a" opacity="0.6"/>
<path d="M349.4 56.0h1.0v1.0h-1.0zM305.4 71.1h0.8v0.8h-0.8zM337.8 70.9h1.0v1.0h-1.0zM307.4 72.7h0.9v0.9h-0.9zM328.7 55.9h0.9v0.9h-0.9zM311.4 58.7h0.6v0.6h-0.6z" fill="#6a60c8" opacity="0.6"/>
<g filter="url(#jet)">
<rect x="291.3" y="28.4" width="68.3" height="67.2" fill="#000"/>
<polygon points="292.3,61.4 298.3,61.9 301.6,64.2 304.3,62.5 313.9,61.2 321.9,60.7 325.4,58.4 332.4,56.2 336.5,53.4 341.5,50.7 346,49.4 348.5,51.7 348.7,56.9 348.3,64.7 345.5,69.2 337.4,71.2 325.9,71.6 313.9,71.3 304.3,70.8 301.6,69.8 298.3,72.1 292.3,72.8" fill="rgb(51,51,51)" stroke="rgb(51,51,51)" stroke-width="1" stroke-linejoin="round"/>
<g clip-path="url(#ca3e)">
<ellipse cx="297.7" cy="67" rx="6.14" ry="6.33" fill="rgb(76,76,76)" transform="rotate(0 297.7 67)"/>
<ellipse cx="313.9" cy="66.3" rx="13.6" ry="5.97" fill="rgb(76,76,76)" transform="rotate(-2 313.9 66.3)"/>
<ellipse cx="326.65" cy="65.5" rx="9.44" ry="4.15" fill="rgb(76,76,76)" transform="rotate(-6 326.65 65.5)"/>
<ellipse cx="337.4" cy="64.7" rx="17.69" ry="8.57" fill="rgb(76,76,76)" transform="rotate(-8 337.4 64.7)"/>
<ellipse cx="341.5" cy="54.9" rx="9.84" ry="6.99" fill="rgb(76,76,76)" transform="rotate(-18 341.5 54.9)"/>
<ellipse cx="297.7" cy="67" rx="5.22" ry="5.37" fill="rgb(107,107,107)" transform="rotate(0 297.7 67)"/>
<ellipse cx="313.9" cy="66.3" rx="10.95" ry="4.81" fill="rgb(107,107,107)" transform="rotate(-2 313.9 66.3)"/>
<ellipse cx="326.65" cy="65.5" rx="5.88" ry="2.59" fill="rgb(107,107,107)" transform="rotate(-6 326.65 65.5)"/>
<ellipse cx="337.4" cy="64.7" rx="15.02" ry="7.27" fill="rgb(107,107,107)" transform="rotate(-8 337.4 64.7)"/>
<ellipse cx="341.5" cy="54.9" rx="7.72" ry="5.48" fill="rgb(107,107,107)" transform="rotate(-18 341.5 54.9)"/>
<ellipse cx="297.7" cy="67" rx="4.33" ry="4.46" fill="rgb(140,140,140)" transform="rotate(0 297.7 67)"/>
<ellipse cx="313.9" cy="66.3" rx="8.23" ry="3.61" fill="rgb(140,140,140)" transform="rotate(-2 313.9 66.3)"/>
<ellipse cx="337.4" cy="64.7" rx="12.47" ry="6.04" fill="rgb(140,140,140)" transform="rotate(-8 337.4 64.7)"/>
<ellipse cx="341.5" cy="54.9" rx="5.46" ry="3.88" fill="rgb(140,140,140)" transform="rotate(-18 341.5 54.9)"/>
<ellipse cx="297.7" cy="67" rx="3.48" ry="3.58" fill="rgb(173,173,173)" transform="rotate(0 297.7 67)"/>
<ellipse cx="313.9" cy="66.3" rx="5.15" ry="2.26" fill="rgb(173,173,173)" transform="rotate(-2 313.9 66.3)"/>
<ellipse cx="337.4" cy="64.7" rx="10.01" ry="4.85" fill="rgb(173,173,173)" transform="rotate(-8 337.4 64.7)"/>
<ellipse cx="341.5" cy="54.9" rx="2.52" ry="1.79" fill="rgb(173,173,173)" transform="rotate(-18 341.5 54.9)"/>
<ellipse cx="297.7" cy="67" rx="2.65" ry="2.73" fill="rgb(204,204,204)" transform="rotate(0 297.7 67)"/>
<ellipse cx="337.4" cy="64.7" rx="7.62" ry="3.69" fill="rgb(204,204,204)" transform="rotate(-8 337.4 64.7)"/>
<ellipse cx="297.7" cy="67" rx="1.62" ry="1.67" fill="rgb(235,235,235)" transform="rotate(0 297.7 67)"/>
<ellipse cx="337.4" cy="64.7" rx="4.66" ry="2.25" fill="rgb(235,235,235)" transform="rotate(-8 337.4 64.7)"/>
<ellipse cx="297.7" cy="67" rx="1.19" ry="1.22" fill="rgb(255,255,255)" transform="rotate(0 297.7 67)"/>
<ellipse cx="313.9" cy="66.3" rx="2.95" ry="1.3" fill="rgb(199,199,199)" transform="rotate(-2 313.9 66.3)"/>
<ellipse cx="326.65" cy="65.5" rx="2.7" ry="1.19" fill="rgb(133,133,133)" transform="rotate(-6 326.65 65.5)"/>
<ellipse cx="337.4" cy="64.7" rx="3.42" ry="1.66" fill="rgb(255,255,255)" transform="rotate(-8 337.4 64.7)"/>
<ellipse cx="341.5" cy="54.9" rx="2.23" ry="1.58" fill="rgb(184,184,184)" transform="rotate(-18 341.5 54.9)"/>
</g>
</g>
</g>
<line x1="415.2" y1="32" x2="415.2" y2="105.1" stroke="#222" stroke-width="1.2"/>
<line x1="414.6" y1="104.5" x2="461.6" y2="104.5" stroke="#222" stroke-width="1.2"/>
<line x1="412.6" y1="104.5" x2="415.2" y2="104.5" stroke="#222" stroke-width="1"/>
<text x="411.2" y="107" font-size="7" text-anchor="end" fill="#444">0</text>
<line x1="412.6" y1="90.46" x2="415.2" y2="90.46" stroke="#222" stroke-width="1"/>
<text x="411.2" y="92.96" font-size="7" text-anchor="end" fill="#444">5</text>
<line x1="412.6" y1="76.42" x2="415.2" y2="76.42" stroke="#222" stroke-width="1"/>
<text x="411.2" y="78.92" font-size="7" text-anchor="end" fill="#444">10</text>
<line x1="412.6" y1="62.38" x2="415.2" y2="62.38" stroke="#222" stroke-width="1"/>
<text x="411.2" y="64.88" font-size="7" text-anchor="end" fill="#444">15</text>
<line x1="412.6" y1="48.34" x2="415.2" y2="48.34" stroke="#222" stroke-width="1"/>
<text x="411.2" y="50.84" font-size="7" text-anchor="end" fill="#444">20</text>
<line x1="412.6" y1="34.3" x2="415.2" y2="34.3" stroke="#222" stroke-width="1"/>
<text x="411.2" y="36.8" font-size="7" text-anchor="end" fill="#444">25</text>
<rect x="419.2" y="58.17" width="6" height="46.33" fill="#bb681e" stroke="none" stroke-width="1"/>
<line x1="422.2" y1="55.36" x2="422.2" y2="60.98" stroke="#222" stroke-width="0.9"/>
<line x1="420" y1="55.36" x2="424.4" y2="55.36" stroke="#222" stroke-width="0.9"/>
<line x1="420" y1="60.98" x2="424.4" y2="60.98" stroke="#222" stroke-width="0.9"/>
<line x1="422.2" y1="104.5" x2="422.2" y2="107.1" stroke="#222" stroke-width="1"/>
<rect x="430.1" y="53.11" width="6" height="51.39" fill="#3aa935" stroke="none" stroke-width="1"/>
<line x1="433.1" y1="50.59" x2="433.1" y2="55.64" stroke="#222" stroke-width="0.9"/>
<line x1="430.9" y1="50.59" x2="435.3" y2="50.59" stroke="#222" stroke-width="0.9"/>
<line x1="430.9" y1="55.64" x2="435.3" y2="55.64" stroke="#222" stroke-width="0.9"/>
<line x1="433.1" y1="104.5" x2="433.1" y2="107.1" stroke="#222" stroke-width="1"/>
<rect x="440.8" y="38.51" width="6" height="65.99" fill="#144b86" stroke="none" stroke-width="1"/>
<line x1="443.8" y1="36.83" x2="443.8" y2="40.2" stroke="#222" stroke-width="0.9"/>
<line x1="441.6" y1="36.83" x2="446" y2="36.83" stroke="#222" stroke-width="0.9"/>
<line x1="441.6" y1="40.2" x2="446" y2="40.2" stroke="#222" stroke-width="0.9"/>
<line x1="443.8" y1="104.5" x2="443.8" y2="107.1" stroke="#222" stroke-width="1"/>
<rect x="451.4" y="41.88" width="6" height="62.62" fill="#c50a2c" stroke="none" stroke-width="1"/>
<line x1="454.4" y1="40.48" x2="454.4" y2="43.29" stroke="#222" stroke-width="0.9"/>
<line x1="452.2" y1="40.48" x2="456.6" y2="40.48" stroke="#222" stroke-width="0.9"/>
<line x1="452.2" y1="43.29" x2="456.6" y2="43.29" stroke="#222" stroke-width="0.9"/>
<line x1="454.4" y1="104.5" x2="454.4" y2="107.1" stroke="#222" stroke-width="1"/>
<line x1="419.9" y1="13.1" x2="454.2" y2="13.1" stroke="#383838" stroke-width="1.2"/>
<text x="437.2" y="13.8" font-size="7.2" text-anchor="middle" fill="#333">**</text>
<line x1="419.9" y1="19.8" x2="441.4" y2="19.8" stroke="#383838" stroke-width="1.2"/>
<text x="430.7" y="20.5" font-size="7.2" text-anchor="middle" fill="#333">**</text>
<line x1="431.3" y1="26.5" x2="452.9" y2="26.5" stroke="#383838" stroke-width="1.2"/>
<text x="442.1" y="27.2" font-size="7.2" text-anchor="middle" fill="#333">**</text>
<line x1="433.4" y1="33.6" x2="444.8" y2="33.6" stroke="#383838" stroke-width="1.2"/>
<text x="439.4" y="34.3" font-size="7.2" text-anchor="middle" fill="#333">**</text>
<text x="397.8" y="69.3" font-size="8" text-anchor="middle" fill="#333" transform="rotate(-90 397.8 69.3)" textLength="62" lengthAdjust="spacingAndGlyphs">CD25<tspan font-size="5" dy="-3">+</tspan><tspan dy="3"> FOXP3+ (%)</tspan></text>
<rect x="464.8" y="51.2" width="6" height="6" fill="#bb681e" stroke="none" stroke-width="1"/>
<text x="473.8" y="56.9" font-size="7.2" text-anchor="start" fill="#333" textLength="20.8" lengthAdjust="spacingAndGlyphs">No cells</text>
<rect x="464.8" y="60.5" width="6" height="6" fill="#3aa935" stroke="none" stroke-width="1"/>
<text x="474.4" y="66.2" font-size="7.2" text-anchor="start" fill="#333" textLength="31.7" lengthAdjust="spacingAndGlyphs">+ HD-CD19<tspan font-size="4.5" dy="-2.5">+</tspan></text>
<rect x="464.8" y="69.8" width="6" height="6" fill="#144b86" stroke="none" stroke-width="1"/>
<text x="474.4" y="75.5" font-size="7.2" text-anchor="start" fill="#333" textLength="27.3" lengthAdjust="spacingAndGlyphs">+ BCWM.1</text>
<rect x="464.8" y="79" width="6" height="6" fill="#c50a2c" stroke="none" stroke-width="1"/>
<text x="474.4" y="84.7" font-size="7.2" text-anchor="start" fill="#333" textLength="26.7" lengthAdjust="spacingAndGlyphs">+ MWCL.1</text>
<text x="7" y="139.8" font-size="12" text-anchor="start" fill="#111" font-weight="bold" textLength="7.6" lengthAdjust="spacingAndGlyphs">B</text>
<line x1="30.6" y1="224.2" x2="30.6" y2="153.6" stroke="#222" stroke-width="1.3"/>
<polygon points="30.6,148.6 28,154.1 33.2,154.1" fill="#222"/>
<line x1="29.95" y1="224.2" x2="352" y2="224.2" stroke="#222" stroke-width="1.3"/>
<polygon points="357,224.2 351.5,221.6 351.5,226.8" fill="#222"/>
<text x="26.2" y="186.2" font-size="9.4" text-anchor="middle" fill="#333" transform="rotate(-90 26.2 186.2)" textLength="33.2" lengthAdjust="spacingAndGlyphs" stroke="#333" stroke-width="0.12">Cell count</text>
<text x="193.8" y="235" font-size="9.7" text-anchor="middle" fill="#333" textLength="15.3" lengthAdjust="spacingAndGlyphs" stroke="#333" stroke-width="0.12">Ki67</text>
<polygon points="41.1,211.6 41.1,199.31 41.45,200.26 41.79,203.2 42.14,206.04 42.49,208.8 42.83,209.55 43.18,210.14 43.53,209.85 43.87,210.16 44.22,210.01 44.57,209.47 44.91,209.7 45.26,209.64 45.61,209.65 45.95,209.92 46.3,209.48 46.65,209.19 46.99,209.82 47.34,209.14 47.69,209.44 48.03,209.45 48.38,208.97 48.73,208.68 49.07,209.08 49.42,208.9 49.77,208.49 50.11,208.54 50.46,208.1 50.81,207.51 51.15,208.05 51.5,207.49 51.85,207.42 52.19,207.18 52.54,206.57 52.89,205.99 53.23,207.37 53.58,207.01 53.93,206.6 54.27,206.17 54.62,205.76 54.97,205.78 55.31,205.5 55.66,204.67 56.01,204.44 56.35,203.83 56.7,203.81 57.05,202.91 57.39,202.77 57.74,202.16 58.09,201.52 58.43,200.65 58.78,199.83 59.13,198.81 59.47,197.68 59.82,196.92 60.17,195.67 60.51,194.49 60.86,193.13 61.21,191.7 61.55,190.24 61.9,188.37 62.25,186.27 62.59,184.31 62.94,182.39 63.29,180.47 63.63,178.39 63.98,176.39 64.33,174.23 64.67,171.68 65.02,169.89 65.37,168.04 65.71,166.11 66.06,164.44 66.41,163.03 66.75,161.62 67.1,160.51 67.45,159.36 67.79,158.76 68.14,158.79 68.49,158.63 68.83,159 69.18,159.08 69.53,160.36 69.87,161.2 70.22,162.78 70.57,164.05 70.91,165.78 71.26,167.96 71.61,169.95 71.95,171.93 72.3,174.22 72.65,176.66 72.99,179.17 73.34,181.37 73.69,183.69 74.03,186.12 74.38,188.02 74.73,190.34 75.07,192.13 75.42,193.87 75.77,195.98 76.11,197.23 76.46,198.53 76.81,199.61 77.15,200.82 77.5,201.67 77.85,202.59 78.19,203.55 78.54,203.8 78.89,204.36 79.23,204.97 79.58,205.1 79.93,205.98 80.27,205.77 80.62,206.35 80.97,206.43 81.31,206.4 81.66,206.79 82.01,206.48 82.35,206.49 82.7,206 83.05,204.76 83.39,204.25 83.74,202.9 84.09,201.58 84.43,199.31 84.78,197.52 85.13,195.04 85.47,192.94 85.82,190.28 86.17,187.86 86.51,185.17 86.86,182.81 87.21,180.88 87.55,179.23 87.9,178.21 88.25,177.16 88.59,177.6 88.94,177.94 89.29,178.61 89.63,179.88 89.98,181.83 90.33,184.41 90.67,186.44 91.02,189.33 91.37,191.91 91.71,194.47 92.06,196.97 92.41,199.14 92.75,201.23 93.1,203.45 93.45,204.72 93.79,206.43 94.14,207.35 94.49,208.6 94.83,209.05 95.18,209.83 95.53,209.85 95.87,210.38 96.22,210.8 96.57,210.63 96.91,211.27 97.26,210.98 97.61,211.1 97.95,211.52 98.3,211.28 98.65,211.5 98.99,210.98 99.34,211.53 99.69,211.21 100.03,211.27 100.38,211.52 100.73,211.04 101.07,211.25 101.42,211.23 101.77,211.44 102.11,211.51 102.46,211.4 102.81,211.58 103.15,211.48 103.5,211.3 103.5,211.6" fill="#485669"/>
<polyline points="103.5,211.6 41.1,211.6 41.1,149.9 103.5,149.9" fill="none" stroke="#333" stroke-width="1"/>
<line x1="44.1" y1="211.6" x2="44.1" y2="212.8" stroke="#555" stroke-width="0.5"/>
<line x1="49.23" y1="211.6" x2="49.23" y2="212.8" stroke="#555" stroke-width="0.5"/>
<line x1="54.35" y1="211.6" x2="54.35" y2="212.8" stroke="#555" stroke-width="0.5"/>
<line x1="59.48" y1="211.6" x2="59.48" y2="212.8" stroke="#555" stroke-width="0.5"/>
<line x1="64.61" y1="211.6" x2="64.61" y2="212.8" stroke="#555" stroke-width="0.5"/>
<line x1="69.74" y1="211.6" x2="69.74" y2="212.8" stroke="#555" stroke-width="0.5"/>
<line x1="74.86" y1="211.6" x2="74.86" y2="212.8" stroke="#555" stroke-width="0.5"/>
<line x1="79.99" y1="211.6" x2="79.99" y2="212.8" stroke="#555" stroke-width="0.5"/>
<line x1="85.12" y1="211.6" x2="85.12" y2="212.8" stroke="#555" stroke-width="0.5"/>
<line x1="90.25" y1="211.6" x2="90.25" y2="212.8" stroke="#555" stroke-width="0.5"/>
<line x1="95.37" y1="211.6" x2="95.37" y2="212.8" stroke="#555" stroke-width="0.5"/>
<line x1="100.5" y1="211.6" x2="100.5" y2="212.8" stroke="#555" stroke-width="0.5"/>
<line x1="80.4" y1="149.9" x2="80.4" y2="211.6" stroke="#4aaed8" stroke-width="0.95"/>
<line x1="103.5" y1="149.9" x2="103.5" y2="211.6" stroke="#4aaed8" stroke-width="0.95"/>
<line x1="80.4" y1="185" x2="103.5" y2="185" stroke="#62b4d6" stroke-width="0.75"/>
<circle cx="80.4" cy="185" r="0.9" fill="#4aaed8"/><circle cx="103.5" cy="185" r="0.9" fill="#4aaed8"/>
<text x="100.1" y="158.9" font-size="8" text-anchor="end" fill="#333">29%</text>
<text x="70.8" y="143.8" font-size="8.6" text-anchor="middle" fill="#222" textLength="29" lengthAdjust="spacingAndGlyphs" stroke="#222" stroke-width="0.12">No cells</text>
<polygon points="125.4,211.6 125.4,199.05 125.74,200 126.09,203.45 126.43,206.47 126.78,208.31 127.12,209.22 127.47,209.88 127.81,210.06 128.16,210.12 128.5,209.89 128.84,209.84 129.19,209.46 129.53,209.85 129.88,209.71 130.22,209.31 130.57,209.66 130.91,209.7 131.26,208.86 131.6,208.79 131.94,209.14 132.29,209.03 132.63,208.74 132.98,208.78 133.32,208.14 133.67,207.87 134.01,207.81 134.36,207.84 134.7,207.26 135.04,206.95 135.39,207.3 135.73,206.66 136.08,206.79 136.42,205.87 136.77,205.74 137.11,205.77 137.46,206.57 137.8,206.54 138.14,206.39 138.49,205.82 138.83,205.78 139.18,205.24 139.52,204.68 139.87,204.52 140.21,204.36 140.56,204.02 140.9,203.42 141.24,203.02 141.59,202.31 141.93,202.23 142.28,201.47 142.62,200.83 142.97,200.15 143.31,199.45 143.66,198.41 144,197.3 144.34,196.37 144.69,195.05 145.03,193.55 145.38,191.8 145.72,190.46 146.07,188.8 146.41,187.13 146.76,184.89 147.1,182.95 147.44,180.98 147.79,178.6 148.13,176.33 148.48,174.31 148.82,171.93 149.17,169.9 149.51,168.25 149.86,166.38 150.2,164.38 150.54,162.8 150.89,161.5 151.23,160.61 151.58,159.72 151.92,158.94 152.27,158.87 152.61,158.81 152.96,159.31 153.3,159.68 153.64,160.67 153.99,162.12 154.33,163.08 154.68,164.69 155.02,166.42 155.37,168.46 155.71,170.76 156.06,173.17 156.4,175.64 156.74,177.78 157.09,180.36 157.43,182.82 157.78,185.3 158.12,187.3 158.47,189.45 158.81,191.51 159.16,193.86 159.5,195.67 159.84,197.1 160.19,198.95 160.53,199.89 160.88,201.1 161.22,202.37 161.57,203.55 161.91,204.19 162.26,204.77 162.6,205.62 162.94,205.95 163.29,206.4 163.63,206.58 163.98,206.96 164.32,207.28 164.67,207.55 165.01,207.49 165.36,207.74 165.7,207.7 166.04,207.84 166.39,207.76 166.73,207.16 167.08,206.86 167.42,205.73 167.77,205.29 168.11,203.78 168.46,202.76 168.8,201.25 169.14,199.17 169.49,197.25 169.83,194.58 170.18,192.37 170.52,190.12 170.87,187.39 171.21,184.91 171.56,182.18 171.9,179.84 172.24,177.89 172.59,175.93 172.93,174.71 173.28,173.57 173.62,173.22 173.97,173.54 174.31,173.76 174.66,175.27 175,176.62 175.34,178.59 175.69,180.19 176.03,182.83 176.38,185.2 176.72,187.74 177.07,190.92 177.41,193.01 177.76,196 178.1,197.9 178.44,199.95 178.79,202.1 179.13,203.47 179.48,205 179.82,206.4 180.17,207.57 180.51,208.51 180.86,209.25 181.2,209.53 181.54,209.99 181.89,210.53 182.23,210.58 182.58,211.05 182.92,211.06 183.27,210.95 183.61,211.34 183.96,211.17 184.3,211.44 184.64,211.02 184.99,211.44 185.33,211.02 185.68,211.04 186.02,211.01 186.37,211.43 186.71,211.19 187.06,211.56 187.4,211.02 187.4,211.6" fill="#485669"/>
<polyline points="187.4,211.6 125.4,211.6 125.4,149.9 187.4,149.9" fill="none" stroke="#333" stroke-width="1"/>
<line x1="128.4" y1="211.6" x2="128.4" y2="212.8" stroke="#555" stroke-width="0.5"/>
<line x1="133.49" y1="211.6" x2="133.49" y2="212.8" stroke="#555" stroke-width="0.5"/>
<line x1="138.58" y1="211.6" x2="138.58" y2="212.8" stroke="#555" stroke-width="0.5"/>
<line x1="143.67" y1="211.6" x2="143.67" y2="212.8" stroke="#555" stroke-width="0.5"/>
<line x1="148.76" y1="211.6" x2="148.76" y2="212.8" stroke="#555" stroke-width="0.5"/>
<line x1="153.85" y1="211.6" x2="153.85" y2="212.8" stroke="#555" stroke-width="0.5"/>
<line x1="158.95" y1="211.6" x2="158.95" y2="212.8" stroke="#555" stroke-width="0.5"/>
<line x1="164.04" y1="211.6" x2="164.04" y2="212.8" stroke="#555" stroke-width="0.5"/>
<line x1="169.13" y1="211.6" x2="169.13" y2="212.8" stroke="#555" stroke-width="0.5"/>
<line x1="174.22" y1="211.6" x2="174.22" y2="212.8" stroke="#555" stroke-width="0.5"/>
<line x1="179.31" y1="211.6" x2="179.31" y2="212.8" stroke="#555" stroke-width="0.5"/>
<line x1="184.4" y1="211.6" x2="184.4" y2="212.8" stroke="#555" stroke-width="0.5"/>
<line x1="164.8" y1="149.9" x2="164.8" y2="211.6" stroke="#4aaed8" stroke-width="0.95"/>
<line x1="187.4" y1="149.9" x2="187.4" y2="211.6" stroke="#4aaed8" stroke-width="0.95"/>
<line x1="164.8" y1="185" x2="187.4" y2="185" stroke="#62b4d6" stroke-width="0.75"/>
<circle cx="164.8" cy="185" r="0.9" fill="#4aaed8"/><circle cx="187.4" cy="185" r="0.9" fill="#4aaed8"/>
<text x="184.4" y="158.9" font-size="8" text-anchor="end" fill="#333">33%</text>
<text x="155.7" y="143.8" font-size="8.6" text-anchor="middle" fill="#222" textLength="45.5" lengthAdjust="spacingAndGlyphs" stroke="#222" stroke-width="0.12">+ HD-CD19<tspan font-size="5.5" dy="-3">+</tspan></text>
<polygon points="209.4,211.6 209.4,202.84 209.75,204.2 210.1,206.05 210.45,208.06 210.8,209.18 211.16,209.34 211.51,209.69 211.86,210.12 212.21,209.74 212.56,210.38 212.91,209.95 213.26,210.07 213.61,210.31 213.96,209.63 214.32,209.83 214.67,209.55 215.02,209.82 215.37,209.82 215.72,210.2 216.07,209.9 216.42,209.54 216.77,209.79 217.12,209.69 217.48,209.8 217.83,209.83 218.18,210.06 218.53,209.84 218.88,209.8 219.23,209.81 219.58,209.75 219.93,209.1 220.28,208.81 220.64,208.93 220.99,208.7 221.34,209.06 221.69,209.77 222.04,209.88 222.39,209.42 222.74,209.59 223.09,209.34 223.44,208.97 223.8,208.91 224.15,208.61 224.5,208.04 224.85,207.69 225.2,207.23 225.55,207.06 225.9,206.84 226.25,206.34 226.6,205.8 226.96,205.29 227.31,204.54 227.66,204.16 228.01,203.28 228.36,202.87 228.71,202.14 229.06,201.59 229.41,200.54 229.76,199.52 230.12,198.81 230.47,197.5 230.82,196.59 231.17,195.33 231.52,193.74 231.87,192.46 232.22,191.64 232.57,190.03 232.92,188.75 233.28,187.66 233.63,186.17 233.98,184.72 234.33,183.51 234.68,182.2 235.03,181.36 235.38,179.97 235.73,179.02 236.08,178.45 236.44,177.53 236.79,176.76 237.14,176.39 237.49,176.33 237.84,176.32 238.19,176.3 238.54,176.76 238.89,177.05 239.24,177.86 239.6,178.51 239.95,179.31 240.3,180.42 240.65,181.55 241,182.91 241.35,184.24 241.7,185.42 242.05,186.94 242.4,188.35 242.76,189.8 243.11,191.23 243.46,192.38 243.81,193.51 244.16,195.13 244.51,195.99 244.86,197.09 245.21,197.95 245.56,198.75 245.92,199.6 246.27,200.41 246.62,200.66 246.97,200.91 247.32,201.08 247.67,201.03 248.02,201.22 248.37,201.16 248.72,201.21 249.08,200.73 249.43,200.85 249.78,200.07 250.13,199.93 250.48,199.52 250.83,198.89 251.18,198.44 251.53,197.55 251.88,197.38 252.24,196.59 252.59,195.31 252.94,194.4 253.29,193.06 253.64,191.01 253.99,189.45 254.34,187.47 254.69,185.03 255.04,182.44 255.4,179.51 255.75,176.49 256.1,172.79 256.45,169.73 256.8,166.85 257.15,164.13 257.5,161.09 257.85,159.1 258.2,158.11 258.56,156.85 258.91,156.98 259.26,157.4 259.61,159.15 259.96,161.27 260.31,164.26 260.66,167.16 261.01,170.99 261.36,174.49 261.72,178.9 262.07,182.51 262.42,186.74 262.77,190.15 263.12,193.61 263.47,196.56 263.82,199.5 264.17,201.98 264.52,204.04 264.88,205.72 265.23,207.16 265.58,208.13 265.93,208.97 266.28,209.33 266.63,210.32 266.98,210.4 267.33,210.67 267.68,211.07 268.04,210.89 268.39,211.28 268.74,211.03 269.09,211.42 269.44,211.02 269.79,211.38 270.14,211.52 270.49,211.5 270.84,211.47 271.2,211.52 271.55,211.41 271.9,211.02 272.25,211.37 272.6,211.36 272.6,211.6" fill="#485669"/>
<polyline points="272.6,211.6 209.4,211.6 209.4,149.9 272.6,149.9" fill="none" stroke="#333" stroke-width="1"/>
<line x1="212.4" y1="211.6" x2="212.4" y2="212.8" stroke="#555" stroke-width="0.5"/>
<line x1="217.6" y1="211.6" x2="217.6" y2="212.8" stroke="#555" stroke-width="0.5"/>
<line x1="222.8" y1="211.6" x2="222.8" y2="212.8" stroke="#555" stroke-width="0.5"/>
<line x1="228" y1="211.6" x2="228" y2="212.8" stroke="#555" stroke-width="0.5"/>
<line x1="233.2" y1="211.6" x2="233.2" y2="212.8" stroke="#555" stroke-width="0.5"/>
<line x1="238.4" y1="211.6" x2="238.4" y2="212.8" stroke="#555" stroke-width="0.5"/>
<line x1="243.6" y1="211.6" x2="243.6" y2="212.8" stroke="#555" stroke-width="0.5"/>
<line x1="248.8" y1="211.6" x2="248.8" y2="212.8" stroke="#555" stroke-width="0.5"/>
<line x1="254" y1="211.6" x2="254" y2="212.8" stroke="#555" stroke-width="0.5"/>
<line x1="259.2" y1="211.6" x2="259.2" y2="212.8" stroke="#555" stroke-width="0.5"/>
<line x1="264.4" y1="211.6" x2="264.4" y2="212.8" stroke="#555" stroke-width="0.5"/>
<line x1="269.6" y1="211.6" x2="269.6" y2="212.8" stroke="#555" stroke-width="0.5"/>
<line x1="249.7" y1="149.9" x2="249.7" y2="211.6" stroke="#4aaed8" stroke-width="0.95"/>
<line x1="272.6" y1="149.9" x2="272.6" y2="211.6" stroke="#4aaed8" stroke-width="0.95"/>
<line x1="249.7" y1="185" x2="272.6" y2="185" stroke="#62b4d6" stroke-width="0.75"/>
<circle cx="249.7" cy="185" r="0.9" fill="#4aaed8"/><circle cx="272.6" cy="185" r="0.9" fill="#4aaed8"/>
<text x="269.9" y="165.9" font-size="8.1" text-anchor="start" fill="#333" transform="rotate(-90 269.9 165.9)" textLength="14.4" lengthAdjust="spacingAndGlyphs">42%</text>
<text x="240.5" y="143.8" font-size="8.6" text-anchor="middle" fill="#222" textLength="40.5" lengthAdjust="spacingAndGlyphs" stroke="#222" stroke-width="0.12">+ BCWM.1</text>
<polygon points="293.8,211.6 293.8,202.79 294.14,204.12 294.48,205.98 294.83,207.3 295.17,209.08 295.51,209.88 295.85,210.13 296.2,209.75 296.54,209.57 296.88,210.02 297.22,209.76 297.56,209.94 297.91,210.13 298.25,210.02 298.59,209.98 298.93,210.02 299.28,209.55 299.62,210.07 299.96,209.79 300.3,209.46 300.64,209.96 300.99,209.15 301.33,209.35 301.67,209.23 302.01,209.51 302.36,209.39 302.7,208.77 303.04,208.53 303.38,209.16 303.72,208.37 304.07,208.7 304.41,208.63 304.75,208.03 305.09,208.23 305.44,207.42 305.78,207.2 306.12,208.66 306.46,208.5 306.8,208.01 307.15,207.59 307.49,207.72 307.83,207 308.17,207.01 308.52,206.49 308.86,206.22 309.2,205.84 309.54,205.1 309.88,204.72 310.23,203.78 310.57,203.15 310.91,202.55 311.25,201.89 311.6,200.93 311.94,200.14 312.28,198.98 312.62,197.73 312.96,196.48 313.31,195.02 313.65,193.2 313.99,191.42 314.33,189.74 314.68,187.73 315.02,186.02 315.36,184.03 315.7,181.74 316.04,179.33 316.39,176.91 316.73,174.67 317.07,172.35 317.41,170.3 317.76,168.57 318.1,166.84 318.44,164.9 318.78,163.51 319.12,161.96 319.47,160.97 319.81,160.52 320.15,160.01 320.49,159.98 320.84,160.37 321.18,160.98 321.52,161.54 321.86,162.79 322.2,164.33 322.55,165.71 322.89,168.05 323.23,169.67 323.57,171.91 323.92,174.25 324.26,176.6 324.6,178.57 324.94,180.61 325.28,183.17 325.63,184.79 325.97,186.67 326.31,188.95 326.65,190.38 327,191.9 327.34,193.31 327.68,194.6 328.02,195.51 328.36,195.97 328.71,196.75 329.05,197.28 329.39,198.06 329.73,198.47 330.08,199.07 330.42,199.13 330.76,199.27 331.1,199.2 331.44,199.9 331.79,199.65 332.13,200.06 332.47,199.49 332.81,199.85 333.16,199.36 333.5,199.08 333.84,198.87 334.18,198.09 334.52,197.28 334.87,196.39 335.21,194.99 335.55,193.68 335.89,191.54 336.24,189.39 336.58,187.43 336.92,185.09 337.26,182.43 337.6,179.94 337.95,176.8 338.29,174.04 338.63,171.65 338.97,168.87 339.32,166.59 339.66,164.08 340,162.65 340.34,160.67 340.68,160.11 341.03,159.07 341.37,159.35 341.71,159.53 342.05,160.28 342.4,161.46 342.74,163.24 343.08,165.79 343.42,167.88 343.76,170.74 344.11,173.79 344.45,176.62 344.79,179.41 345.13,183.04 345.48,185.65 345.82,188.67 346.16,191.24 346.5,194.08 346.84,196.62 347.19,198.45 347.53,200.86 347.87,202.26 348.21,204.03 348.56,205.5 348.9,206.57 349.24,207.12 349.58,208.34 349.92,208.55 350.27,209.56 350.61,209.53 350.95,210.41 351.29,210.32 351.64,210.62 351.98,210.75 352.32,210.68 352.66,211.2 353,210.81 353.35,211.12 353.69,211.02 354.03,211.38 354.37,210.95 354.72,211.13 355.06,211.29 355.4,211.45 355.4,211.6" fill="#485669"/>
<polyline points="355.4,211.6 293.8,211.6 293.8,149.9 355.4,149.9" fill="none" stroke="#333" stroke-width="1"/>
<line x1="296.8" y1="211.6" x2="296.8" y2="212.8" stroke="#555" stroke-width="0.5"/>
<line x1="301.85" y1="211.6" x2="301.85" y2="212.8" stroke="#555" stroke-width="0.5"/>
<line x1="306.91" y1="211.6" x2="306.91" y2="212.8" stroke="#555" stroke-width="0.5"/>
<line x1="311.96" y1="211.6" x2="311.96" y2="212.8" stroke="#555" stroke-width="0.5"/>
<line x1="317.02" y1="211.6" x2="317.02" y2="212.8" stroke="#555" stroke-width="0.5"/>
<line x1="322.07" y1="211.6" x2="322.07" y2="212.8" stroke="#555" stroke-width="0.5"/>
<line x1="327.13" y1="211.6" x2="327.13" y2="212.8" stroke="#555" stroke-width="0.5"/>
<line x1="332.18" y1="211.6" x2="332.18" y2="212.8" stroke="#555" stroke-width="0.5"/>
<line x1="337.24" y1="211.6" x2="337.24" y2="212.8" stroke="#555" stroke-width="0.5"/>
<line x1="342.29" y1="211.6" x2="342.29" y2="212.8" stroke="#555" stroke-width="0.5"/>
<line x1="347.35" y1="211.6" x2="347.35" y2="212.8" stroke="#555" stroke-width="0.5"/>
<line x1="352.4" y1="211.6" x2="352.4" y2="212.8" stroke="#555" stroke-width="0.5"/>
<line x1="333.1" y1="149.9" x2="333.1" y2="211.6" stroke="#4aaed8" stroke-width="0.95"/>
<line x1="355.4" y1="149.9" x2="355.4" y2="211.6" stroke="#4aaed8" stroke-width="0.95"/>
<line x1="333.1" y1="185" x2="355.4" y2="185" stroke="#62b4d6" stroke-width="0.75"/>
<circle cx="333.1" cy="185" r="0.9" fill="#4aaed8"/><circle cx="355.4" cy="185" r="0.9" fill="#4aaed8"/>
<text x="354.6" y="168.1" font-size="8.1" text-anchor="start" fill="#333" transform="rotate(-90 354.6 168.1)" textLength="14.4" lengthAdjust="spacingAndGlyphs">50%</text>
<text x="324.7" y="143.8" font-size="8.6" text-anchor="middle" fill="#222" textLength="39.4" lengthAdjust="spacingAndGlyphs" stroke="#222" stroke-width="0.12">+ WMCL.1</text>
<line x1="415.3" y1="147.3" x2="415.3" y2="216.9" stroke="#222" stroke-width="1.2"/>
<line x1="414.7" y1="216.3" x2="461.2" y2="216.3" stroke="#222" stroke-width="1.2"/>
<line x1="412.7" y1="216.3" x2="415.3" y2="216.3" stroke="#222" stroke-width="1"/>
<text x="411.3" y="218.8" font-size="7" text-anchor="end" fill="#444">0</text>
<line x1="412.7" y1="203.7" x2="415.3" y2="203.7" stroke="#222" stroke-width="1"/>
<text x="411.3" y="206.2" font-size="7" text-anchor="end" fill="#444">10</text>
<line x1="412.7" y1="191.1" x2="415.3" y2="191.1" stroke="#222" stroke-width="1"/>
<text x="411.3" y="193.6" font-size="7" text-anchor="end" fill="#444">20</text>
<line x1="412.7" y1="178.5" x2="415.3" y2="178.5" stroke="#222" stroke-width="1"/>
<text x="411.3" y="181" font-size="7" text-anchor="end" fill="#444">30</text>
<line x1="412.7" y1="165.9" x2="415.3" y2="165.9" stroke="#222" stroke-width="1"/>
<text x="411.3" y="168.4" font-size="7" text-anchor="end" fill="#444">40</text>
<line x1="412.7" y1="153.3" x2="415.3" y2="153.3" stroke="#222" stroke-width="1"/>
<text x="411.3" y="155.8" font-size="7" text-anchor="end" fill="#444">50</text>
<rect x="419.2" y="180.39" width="5.8" height="35.91" fill="#bb681e" stroke="none" stroke-width="1"/>
<line x1="422.1" y1="178.12" x2="422.1" y2="182.66" stroke="#222" stroke-width="0.9"/>
<line x1="419.9" y1="178.12" x2="424.3" y2="178.12" stroke="#222" stroke-width="0.9"/>
<line x1="419.9" y1="182.66" x2="424.3" y2="182.66" stroke="#222" stroke-width="0.9"/>
<line x1="422.1" y1="216.3" x2="422.1" y2="218.9" stroke="#222" stroke-width="1"/>
<rect x="429.9" y="174.72" width="5.8" height="41.58" fill="#3aa935" stroke="none" stroke-width="1"/>
<line x1="432.8" y1="172.7" x2="432.8" y2="176.74" stroke="#222" stroke-width="0.9"/>
<line x1="430.6" y1="172.7" x2="435" y2="172.7" stroke="#222" stroke-width="0.9"/>
<line x1="430.6" y1="176.74" x2="435" y2="176.74" stroke="#222" stroke-width="0.9"/>
<line x1="432.8" y1="216.3" x2="432.8" y2="218.9" stroke="#222" stroke-width="1"/>
<rect x="440.6" y="164.01" width="5.8" height="52.29" fill="#144b86" stroke="none" stroke-width="1"/>
<line x1="443.5" y1="161.74" x2="443.5" y2="166.28" stroke="#222" stroke-width="0.9"/>
<line x1="441.3" y1="161.74" x2="445.7" y2="161.74" stroke="#222" stroke-width="0.9"/>
<line x1="441.3" y1="166.28" x2="445.7" y2="166.28" stroke="#222" stroke-width="0.9"/>
<line x1="443.5" y1="216.3" x2="443.5" y2="218.9" stroke="#222" stroke-width="1"/>
<rect x="451.3" y="153.3" width="5.8" height="63" fill="#c50a2c" stroke="none" stroke-width="1"/>
<line x1="454.2" y1="151.66" x2="454.2" y2="154.94" stroke="#222" stroke-width="0.9"/>
<line x1="452" y1="151.66" x2="456.4" y2="151.66" stroke="#222" stroke-width="0.9"/>
<line x1="452" y1="154.94" x2="456.4" y2="154.94" stroke="#222" stroke-width="0.9"/>
<line x1="454.2" y1="216.3" x2="454.2" y2="218.9" stroke="#222" stroke-width="1"/>
<line x1="419.6" y1="171.5" x2="433.9" y2="171.5" stroke="#383838" stroke-width="1.2"/>
<text x="426.4" y="172.5" font-size="7.2" text-anchor="middle" fill="#333">*</text>
<line x1="432" y1="159.3" x2="443" y2="159.3" stroke="#383838" stroke-width="1.2"/>
<text x="437.5" y="160.1" font-size="7.2" text-anchor="middle" fill="#333">**</text>
<line x1="432" y1="148" x2="452.7" y2="148" stroke="#383838" stroke-width="1.2"/>
<text x="442.5" y="148.8" font-size="7.2" text-anchor="middle" fill="#333">****</text>
<text x="397" y="182.2" font-size="8" text-anchor="middle" fill="#333" transform="rotate(-90 397 182.2)" textLength="46.3" lengthAdjust="spacingAndGlyphs">Ki67<tspan font-size="5" dy="-3">+</tspan><tspan dy="3"> Tregs (%)</tspan></text>
<rect x="464.6" y="165.1" width="5.9" height="5.9" fill="#bb681e" stroke="none" stroke-width="1"/>
<text x="473.6" y="170.7" font-size="7.2" text-anchor="start" fill="#333" textLength="20.8" lengthAdjust="spacingAndGlyphs">No cells</text>
<rect x="464.6" y="174.4" width="5.9" height="5.9" fill="#3aa935" stroke="none" stroke-width="1"/>
<text x="474.2" y="180" font-size="7.2" text-anchor="start" fill="#333" textLength="31.7" lengthAdjust="spacingAndGlyphs">+ HD-CD19<tspan font-size="4.5" dy="-2.5">+</tspan></text>
<rect x="464.6" y="183.7" width="5.9" height="5.9" fill="#144b86" stroke="none" stroke-width="1"/>
<text x="474.2" y="189.3" font-size="7.2" text-anchor="start" fill="#333" textLength="27.3" lengthAdjust="spacingAndGlyphs">+ BCWM.1</text>
<rect x="464.6" y="193" width="5.9" height="5.9" fill="#c50a2c" stroke="none" stroke-width="1"/>
<text x="474.2" y="198.6" font-size="7.2" text-anchor="start" fill="#333" textLength="26.7" lengthAdjust="spacingAndGlyphs">+ MWCL.1</text>
<text x="6.2" y="259.1" font-size="12" text-anchor="start" fill="#111" font-weight="bold">C</text>
<line x1="20.2" y1="354.3" x2="20.2" y2="278" stroke="#222" stroke-width="1.3"/>
<polygon points="20.2,273 17.6,278.5 22.8,278.5" fill="#222"/>
<line x1="19.55" y1="354.3" x2="176.7" y2="354.3" stroke="#222" stroke-width="1.3"/>
<polygon points="181.7,354.3 176.2,351.7 176.2,356.9" fill="#222"/>
<line x1="204.8" y1="354.4" x2="204.8" y2="278" stroke="#222" stroke-width="1.3"/>
<polygon points="204.8,273 202.2,278.5 207.4,278.5" fill="#222"/>
<line x1="204.15" y1="354.4" x2="366.3" y2="354.4" stroke="#222" stroke-width="1.3"/>
<polygon points="371.3,354.4 365.8,351.8 365.8,357" fill="#222"/>
<text x="15" y="313.1" font-size="9.6" text-anchor="middle" fill="#333" transform="rotate(-90 15 313.1)" textLength="21.5" lengthAdjust="spacingAndGlyphs" stroke="#333" stroke-width="0.12">FOXP3</text>
<text x="201" y="313.4" font-size="9.6" text-anchor="middle" fill="#333" transform="rotate(-90 201 313.4)" textLength="20.8" lengthAdjust="spacingAndGlyphs" stroke="#333" stroke-width="0.12">FOXP3</text>
<text x="101" y="365.8" font-size="10.1" text-anchor="middle" fill="#333" textLength="18.1" lengthAdjust="spacingAndGlyphs" stroke="#333" stroke-width="0.12">CD25</text>
<text x="288" y="365.8" font-size="10.1" text-anchor="middle" fill="#333" textLength="18.3" lengthAdjust="spacingAndGlyphs" stroke="#333" stroke-width="0.12">CD25</text>
<rect x="40.5" y="272.7" width="60.3" height="63.4" fill="none" stroke="#9a9a9a" stroke-width="0.8"/>
<text x="37.9" y="281" font-size="5.3" text-anchor="end" fill="#3a3a3a">10<tspan font-size="3.29" dy="-2">5</tspan></text>
<line x1="39.3" y1="279.3" x2="40.5" y2="279.3" stroke="#888" stroke-width="0.6"/>
<text x="37.9" y="292.35" font-size="5.3" text-anchor="end" fill="#3a3a3a">10<tspan font-size="3.29" dy="-2">4</tspan></text>
<line x1="39.3" y1="290.65" x2="40.5" y2="290.65" stroke="#888" stroke-width="0.6"/>
<text x="37.9" y="303.7" font-size="5.3" text-anchor="end" fill="#3a3a3a">10<tspan font-size="3.29" dy="-2">3</tspan></text>
<line x1="39.3" y1="302" x2="40.5" y2="302" stroke="#888" stroke-width="0.6"/>
<text x="37.9" y="315.05" font-size="5.3" text-anchor="end" fill="#3a3a3a">10<tspan font-size="3.29" dy="-2">2</tspan></text>
<line x1="39.3" y1="313.35" x2="40.5" y2="313.35" stroke="#888" stroke-width="0.6"/>
<text x="37.9" y="326.4" font-size="5.3" text-anchor="end" fill="#3a3a3a">10<tspan font-size="3.29" dy="-2">1</tspan></text>
<line x1="39.3" y1="324.7" x2="40.5" y2="324.7" stroke="#888" stroke-width="0.6"/>
<text x="37.9" y="337.75" font-size="5.3" text-anchor="end" fill="#3a3a3a">10<tspan font-size="3.29" dy="-2">0</tspan></text>
<line x1="39.3" y1="336.05" x2="40.5" y2="336.05" stroke="#888" stroke-width="0.6"/>
<line x1="42.5" y1="336.1" x2="42.5" y2="334.9" stroke="#888" stroke-width="0.6"/>
<line x1="53.76" y1="336.1" x2="53.76" y2="334.9" stroke="#888" stroke-width="0.6"/>
<line x1="65.02" y1="336.1" x2="65.02" y2="334.9" stroke="#888" stroke-width="0.6"/>
<line x1="76.28" y1="336.1" x2="76.28" y2="334.9" stroke="#888" stroke-width="0.6"/>
<line x1="87.54" y1="336.1" x2="87.54" y2="334.9" stroke="#888" stroke-width="0.6"/>
<line x1="98.8" y1="336.1" x2="98.8" y2="334.9" stroke="#888" stroke-width="0.6"/>
<text x="43.9" y="344.3" font-size="5.3" text-anchor="end" fill="#3a3a3a">10<tspan font-size="3.29" dy="-2">0</tspan></text>
<text x="54.7" y="344.3" font-size="5.3" text-anchor="end" fill="#3a3a3a">10<tspan font-size="3.29" dy="-2">1</tspan></text>
<text x="65.5" y="344.3" font-size="5.3" text-anchor="end" fill="#3a3a3a">10<tspan font-size="3.29" dy="-2">2</tspan></text>
<text x="76.3" y="344.3" font-size="5.3" text-anchor="end" fill="#3a3a3a">10<tspan font-size="3.29" dy="-2">3</tspan></text>
<text x="87.1" y="344.3" font-size="5.3" text-anchor="end" fill="#3a3a3a">10<tspan font-size="3.29" dy="-2">4</tspan></text>
<text x="97.9" y="344.3" font-size="5.3" text-anchor="end" fill="#3a3a3a">10<tspan font-size="3.29" dy="-2">5</tspan></text>
<polyline points="71.2,305.5 71.2,283.5 98.1,283.5 98.1,296.5" fill="none" stroke="#a4acb4" stroke-width="0.85"/>
<line x1="98.1" y1="296.5" x2="92.1" y2="300" stroke="#a4acb4" stroke-width="0.8"/>
<circle cx="71.2" cy="283.5" r="1.2" fill="#6c747c"/>
<circle cx="98.1" cy="283.5" r="1.2" fill="#6c747c"/>
<circle cx="98.1" cy="296.5" r="1.2" fill="#6c747c"/>
<text x="93.2" y="280.9" font-size="8.2" text-anchor="end" fill="#333">4.9%</text>
<text x="69.5" y="267.3" font-size="8.6" text-anchor="middle" fill="#222" textLength="18.9" lengthAdjust="spacingAndGlyphs" stroke="#222" stroke-width="0.12">HD-1</text>
<clipPath id="cc0"><rect x="40.5" y="272.7" width="60.3" height="63.4"/></clipPath>
<clipPath id="cc0e"><polygon points="37.5,305.5 43.5,306.1 47,309 50.5,307.2 60.2,305.9 70.5,304.2 78.5,301.2 81,299.7 81.8,296.2 84,293.7 87,293.5 89,295.7 89.3,299.2 91.5,301 94.2,303.7 94,307.7 91.5,310.7 85.5,312.5 75.5,314.2 65.5,316.5 55.5,317.2 49.5,315.7 47,315 43.5,318.2 37.5,318.7"/></clipPath>
<g clip-path="url(#cc0)">
<ellipse cx="66.5" cy="302.5" rx="14" ry="4.5" fill="#b0a8e0" opacity="0.4" filter="url(#hz)" transform="rotate(-10 66.5 302.5)"/>
<ellipse cx="68.5" cy="320" rx="16" ry="3.2" fill="#c8c0ec" opacity="0.45" filter="url(#hz)" transform="rotate(-3 68.5 320)"/>
<path d="M79.0 298.4h1.2v1.2h-1.2zM81.9 304.5h1.0v1.0h-1.0zM64.4 300.9h1.0v1.0h-1.0zM60.6 312.2h1.0v1.0h-1.0zM56.2 299.9h1.0v1.0h-1.0zM48.7 305.7h1.1v1.1h-1.1zM52.6 304.6h0.8v0.8h-0.8zM73.5 306.8h1.0v1.0h-1.0zM63.7 299.3h1.2v1.2h-1.2zM86.2 305.2h1.0v1.0h-1.0zM40.8 294.9h0.8v0.8h-0.8zM67.8 302.4h1.1v1.1h-1.1zM77.5 303.0h1.1v1.1h-1.1zM68.7 302.9h1.1v1.1h-1.1zM49.6 303.5h0.7v0.7h-0.7zM84.0 306.6h1.0v1.0h-1.0zM74.7 297.7h1.0v1.0h-1.0zM76.3 301.2h0.7v0.7h-0.7zM83.3 305.2h0.8v0.8h-0.8zM76.2 305.3h1.0v1.0h-1.0zM56.9 303.5h1.2v1.2h-1.2zM58.0 302.8h1.0v1.0h-1.0zM70.9 298.2h1.1v1.1h-1.1zM66.3 300.5h1.0v1.0h-1.0zM70.6 298.7h0.7v0.7h-0.7zM79.2 301.1h0.7v0.7h-0.7z" fill="#8080e0" opacity="0.6"/>
<path d="M66.7 299.6h1.1v1.1h-1.1zM76.1 299.0h1.2v1.2h-1.2zM72.4 308.3h0.7v0.7h-0.7zM90.1 298.6h0.9v0.9h-0.9zM65.2 301.4h1.1v1.1h-1.1zM50.0 301.0h1.2v1.2h-1.2zM72.5 303.9h0.7v0.7h-0.7zM56.2 294.1h0.8v0.8h-0.8zM65.2 300.3h1.0v1.0h-1.0zM53.6 303.4h1.0v1.0h-1.0zM63.2 300.9h0.9v0.9h-0.9zM63.4 305.8h0.8v0.8h-0.8zM62.8 301.0h1.2v1.2h-1.2zM81.6 295.8h0.9v0.9h-0.9zM77.9 296.2h0.9v0.9h-0.9zM81.1 300.4h0.8v0.8h-0.8zM64.3 308.5h1.1v1.1h-1.1zM62.4 301.6h1.0v1.0h-1.0zM74.3 304.7h1.2v1.2h-1.2z" fill="#5a5ad0" opacity="0.4"/>
<path d="M77.6 304.1h0.9v0.9h-0.9zM70.8 296.7h0.8v0.8h-0.8zM64.9 302.1h1.0v1.0h-1.0zM55.2 307.3h1.0v1.0h-1.0zM70.2 303.1h0.9v0.9h-0.9zM64.5 300.4h0.8v0.8h-0.8zM47.5 297.1h1.0v1.0h-1.0zM56.3 305.9h1.1v1.1h-1.1zM61.3 301.8h1.2v1.2h-1.2zM76.6 308.5h0.7v0.7h-0.7zM75.9 295.8h0.7v0.7h-0.7zM67.9 307.4h0.7v0.7h-0.7zM63.3 299.1h0.8v0.8h-0.8zM55.4 297.5h1.1v1.1h-1.1zM56.8 308.1h1.0v1.0h-1.0zM84.7 299.0h0.8v0.8h-0.8zM46.0 307.8h1.2v1.2h-1.2zM83.9 303.4h0.7v0.7h-0.7z" fill="#b0a0e8" opacity="0.6"/>
<path d="M48.9 309.0h0.8v0.8h-0.8zM60.3 305.2h1.1v1.1h-1.1zM71.4 302.0h0.9v0.9h-0.9zM48.6 299.8h1.0v1.0h-1.0zM67.3 308.4h0.8v0.8h-0.8zM74.1 295.4h0.7v0.7h-0.7zM87.1 304.6h1.0v1.0h-1.0zM71.5 299.4h1.2v1.2h-1.2zM72.6 305.8h0.8v0.8h-0.8zM58.6 304.9h0.9v0.9h-0.9zM58.8 304.2h1.1v1.1h-1.1zM55.3 301.6h1.1v1.1h-1.1zM54.2 306.5h0.7v0.7h-0.7zM60.2 300.8h0.9v0.9h-0.9zM71.7 301.6h0.9v0.9h-0.9zM78.9 304.0h1.0v1.0h-1.0zM73.0 302.1h0.8v0.8h-0.8zM61.7 294.7h0.9v0.9h-0.9zM58.5 305.4h0.7v0.7h-0.7zM74.2 302.9h0.9v0.9h-0.9zM60.9 306.0h0.7v0.7h-0.7zM65.8 302.7h1.1v1.1h-1.1zM68.4 301.5h0.7v0.7h-0.7zM81.5 307.8h1.1v1.1h-1.1zM90.2 297.3h1.2v1.2h-1.2z" fill="#8080e0" opacity="0.4"/>
<path d="M80.3 295.9h1.1v1.1h-1.1zM60.0 299.7h0.8v0.8h-0.8zM78.1 302.8h0.8v0.8h-0.8zM60.1 301.2h0.9v0.9h-0.9zM67.5 300.2h1.1v1.1h-1.1zM63.9 301.3h1.1v1.1h-1.1zM69.5 302.6h1.1v1.1h-1.1zM69.1 307.3h0.9v0.9h-0.9zM86.9 298.5h1.0v1.0h-1.0zM61.4 304.0h1.0v1.0h-1.0zM51.6 293.7h0.8v0.8h-0.8zM42.0 301.0h1.1v1.1h-1.1zM74.3 300.5h0.9v0.9h-0.9zM89.0 301.3h0.9v0.9h-0.9zM44.4 308.1h1.1v1.1h-1.1zM62.5 301.2h1.0v1.0h-1.0zM43.3 301.2h1.0v1.0h-1.0zM73.9 304.9h1.0v1.0h-1.0zM63.1 304.0h1.0v1.0h-1.0zM70.5 302.9h0.9v0.9h-0.9z" fill="#5a5ad0" opacity="0.6"/>
<path d="M70.1 306.6h0.9v0.9h-0.9zM43.9 301.5h1.0v1.0h-1.0zM61.0 302.0h0.8v0.8h-0.8zM63.3 299.4h1.0v1.0h-1.0zM67.2 297.7h1.2v1.2h-1.2zM81.0 298.6h1.0v1.0h-1.0zM85.1 303.6h1.0v1.0h-1.0zM62.9 293.8h0.7v0.7h-0.7zM63.7 298.3h1.1v1.1h-1.1zM56.6 302.7h0.8v0.8h-0.8zM84.6 297.6h0.8v0.8h-0.8zM75.2 297.0h1.1v1.1h-1.1zM53.0 308.2h1.0v1.0h-1.0zM70.0 301.4h0.8v0.8h-0.8z" fill="#9090ff" opacity="0.6"/>
<path d="M69.8 304.2h0.9v0.9h-0.9zM41.3 298.2h1.1v1.1h-1.1zM85.5 302.6h1.0v1.0h-1.0zM51.0 303.0h0.7v0.7h-0.7zM74.2 303.6h1.0v1.0h-1.0z" fill="#b0a0e8" opacity="0.2"/>
<path d="M74.6 298.0h0.8v0.8h-0.8zM55.1 303.6h1.1v1.1h-1.1zM60.6 297.9h0.9v0.9h-0.9zM62.2 298.5h1.1v1.1h-1.1z" fill="#9090ff" opacity="0.2"/>
<path d="M39.8 299.8h1.2v1.2h-1.2zM55.9 299.8h0.8v0.8h-0.8zM86.4 302.9h1.1v1.1h-1.1zM75.1 302.9h1.0v1.0h-1.0zM71.7 301.3h0.8v0.8h-0.8zM91.1 303.6h1.1v1.1h-1.1zM75.0 302.6h0.9v0.9h-0.9zM83.1 298.3h0.9v0.9h-0.9zM65.7 307.8h0.8v0.8h-0.8zM73.6 304.4h1.0v1.0h-1.0zM55.8 306.1h1.0v1.0h-1.0zM74.8 305.7h0.7v0.7h-0.7zM71.8 302.0h0.8v0.8h-0.8zM66.9 302.5h1.1v1.1h-1.1zM49.3 307.9h1.0v1.0h-1.0zM74.8 300.3h1.1v1.1h-1.1zM50.0 298.2h1.0v1.0h-1.0zM63.8 298.0h1.1v1.1h-1.1zM86.2 317.1h1.2v1.2h-1.2zM83.2 300.1h0.8v0.8h-0.8zM83.8 299.7h1.1v1.1h-1.1z" fill="#9090ff" opacity="0.4"/>
<path d="M60.5 300.5h0.8v0.8h-0.8zM34.8 294.3h1.1v1.1h-1.1zM52.0 306.1h0.9v0.9h-0.9zM75.6 307.0h0.7v0.7h-0.7zM66.5 303.5h0.9v0.9h-0.9zM77.6 307.5h1.1v1.1h-1.1zM81.2 303.6h0.7v0.7h-0.7zM67.0 301.8h0.8v0.8h-0.8zM81.8 304.9h1.1v1.1h-1.1zM59.8 297.3h1.0v1.0h-1.0zM49.0 300.6h0.8v0.8h-0.8zM55.1 294.1h1.0v1.0h-1.0zM79.8 291.2h1.1v1.1h-1.1zM82.0 305.0h1.0v1.0h-1.0zM80.0 300.9h0.7v0.7h-0.7zM81.6 298.4h1.0v1.0h-1.0zM61.8 298.4h0.8v0.8h-0.8zM70.6 297.1h1.1v1.1h-1.1zM77.8 301.2h0.9v0.9h-0.9z" fill="#b0a0e8" opacity="0.4"/>
<path d="M77.6 310.3h0.8v0.8h-0.8zM70.2 302.4h0.7v0.7h-0.7zM82.5 300.1h0.8v0.8h-0.8zM86.7 299.9h1.0v1.0h-1.0zM76.9 302.6h1.0v1.0h-1.0zM61.8 304.8h1.0v1.0h-1.0zM58.7 306.4h1.0v1.0h-1.0z" fill="#5a5ad0" opacity="0.2"/>
<path d="M81.9 304.0h1.0v1.0h-1.0zM75.0 301.9h1.0v1.0h-1.0z" fill="#8080e0" opacity="0.2"/>
<path d="M55.8 319.7h1.2v1.2h-1.2zM81.0 328.8h0.8v0.8h-0.8zM74.6 323.5h0.7v0.7h-0.7zM61.2 320.6h0.9v0.9h-0.9z" fill="#c0b0f0" opacity="0.6"/>
<path d="M53.9 324.6h0.8v0.8h-0.8zM84.3 321.1h1.0v1.0h-1.0zM66.0 319.3h1.0v1.0h-1.0zM51.9 325.2h1.0v1.0h-1.0zM56.3 323.9h0.9v0.9h-0.9zM93.4 317.9h0.9v0.9h-0.9zM45.9 326.3h0.9v0.9h-0.9zM87.5 318.8h0.9v0.9h-0.9zM65.2 315.2h0.7v0.7h-0.7zM79.7 325.5h0.8v0.8h-0.8z" fill="#a0a0f0" opacity="0.6"/>
<path d="M69.7 321.1h1.1v1.1h-1.1zM55.4 317.9h0.8v0.8h-0.8zM82.3 321.7h1.2v1.2h-1.2zM97.8 320.3h1.2v1.2h-1.2zM77.2 321.7h0.8v0.8h-0.8zM76.0 322.9h1.1v1.1h-1.1zM62.5 323.5h1.2v1.2h-1.2zM74.8 315.4h1.0v1.0h-1.0zM73.2 320.7h0.8v0.8h-0.8zM88.9 320.8h0.8v0.8h-0.8zM32.1 321.3h0.8v0.8h-0.8zM55.3 318.8h0.8v0.8h-0.8zM57.6 322.9h0.8v0.8h-0.8zM60.0 314.9h1.0v1.0h-1.0zM62.7 318.2h1.2v1.2h-1.2zM83.5 315.3h1.0v1.0h-1.0z" fill="#c0b0f0" opacity="0.4"/>
<path d="M71.2 315.4h1.2v1.2h-1.2zM79.8 313.8h0.8v0.8h-0.8zM92.8 322.6h1.1v1.1h-1.1zM74.6 321.0h1.0v1.0h-1.0zM82.1 317.0h1.0v1.0h-1.0zM77.7 320.7h1.2v1.2h-1.2zM87.3 310.0h0.7v0.7h-0.7zM66.3 323.7h0.9v0.9h-0.9z" fill="#e0c0e0" opacity="0.2"/>
<path d="M70.7 322.7h1.1v1.1h-1.1zM60.7 324.0h0.8v0.8h-0.8zM62.3 320.6h1.1v1.1h-1.1zM81.2 323.2h1.2v1.2h-1.2z" fill="#5a50c0" opacity="0.6"/>
<path d="M60.5 315.5h1.1v1.1h-1.1zM80.7 324.1h0.8v0.8h-0.8zM65.8 322.7h1.0v1.0h-1.0zM59.2 321.1h0.8v0.8h-0.8zM112.2 325.6h0.9v0.9h-0.9zM86.0 320.9h0.9v0.9h-0.9zM74.1 320.9h0.9v0.9h-0.9z" fill="#7070d0" opacity="0.2"/>
<path d="M63.7 323.3h0.9v0.9h-0.9zM80.8 315.8h1.0v1.0h-1.0zM75.3 323.8h1.2v1.2h-1.2zM66.1 318.0h1.0v1.0h-1.0zM87.2 325.7h1.1v1.1h-1.1zM54.3 318.5h1.0v1.0h-1.0z" fill="#e0c0e0" opacity="0.6"/>
<path d="M75.3 321.7h1.0v1.0h-1.0zM62.8 323.9h0.9v0.9h-0.9zM88.2 321.1h1.0v1.0h-1.0zM67.1 329.3h0.7v0.7h-0.7zM64.5 317.6h1.0v1.0h-1.0zM74.7 318.8h0.9v0.9h-0.9zM65.2 318.6h1.2v1.2h-1.2zM50.6 318.4h1.0v1.0h-1.0zM81.6 320.8h1.0v1.0h-1.0zM92.3 319.1h0.8v0.8h-0.8zM63.2 318.1h0.9v0.9h-0.9z" fill="#7070d0" opacity="0.4"/>
<path d="M92.5 324.3h0.7v0.7h-0.7zM63.3 316.6h0.8v0.8h-0.8zM78.6 321.4h1.0v1.0h-1.0zM66.3 326.5h1.2v1.2h-1.2zM71.1 324.0h0.8v0.8h-0.8zM55.8 327.0h0.8v0.8h-0.8zM44.8 328.3h0.8v0.8h-0.8zM77.4 328.4h1.1v1.1h-1.1zM70.9 324.4h1.0v1.0h-1.0zM83.9 319.1h0.9v0.9h-0.9zM56.7 316.7h1.1v1.1h-1.1zM60.2 324.1h0.9v0.9h-0.9zM48.8 327.0h0.7v0.7h-0.7zM58.2 320.4h1.2v1.2h-1.2zM98.4 319.3h1.0v1.0h-1.0zM80.3 316.3h0.8v0.8h-0.8zM68.4 320.0h1.1v1.1h-1.1zM55.6 322.6h0.8v0.8h-0.8zM75.7 323.4h0.9v0.9h-0.9z" fill="#a0a0f0" opacity="0.4"/>
<path d="M67.0 318.4h0.9v0.9h-0.9zM66.6 318.3h0.9v0.9h-0.9zM81.3 324.7h1.0v1.0h-1.0zM68.3 320.3h1.1v1.1h-1.1zM54.9 324.5h0.8v0.8h-0.8zM68.9 324.3h0.8v0.8h-0.8zM72.6 324.8h1.0v1.0h-1.0zM82.2 313.7h1.2v1.2h-1.2zM64.8 317.6h0.8v0.8h-0.8zM63.1 317.7h1.1v1.1h-1.1zM77.2 320.0h1.0v1.0h-1.0zM85.8 324.1h1.1v1.1h-1.1zM79.7 317.1h1.0v1.0h-1.0zM54.4 322.9h0.9v0.9h-0.9zM62.2 316.0h0.7v0.7h-0.7z" fill="#5a50c0" opacity="0.4"/>
<path d="M62.8 321.6h1.2v1.2h-1.2zM33.9 322.2h0.9v0.9h-0.9zM74.8 324.1h0.7v0.7h-0.7zM63.8 321.9h0.7v0.7h-0.7zM57.2 322.8h1.0v1.0h-1.0zM70.7 322.4h0.9v0.9h-0.9zM69.5 322.0h0.7v0.7h-0.7zM58.1 326.4h0.9v0.9h-0.9zM64.7 318.9h0.8v0.8h-0.8zM75.6 323.5h0.9v0.9h-0.9z" fill="#5a50c0" opacity="0.2"/>
<path d="M94.9 325.1h0.7v0.7h-0.7zM51.4 322.7h1.0v1.0h-1.0zM72.0 326.2h0.9v0.9h-0.9zM83.7 321.4h0.7v0.7h-0.7zM63.4 313.2h1.2v1.2h-1.2zM58.6 318.5h0.9v0.9h-0.9zM70.3 323.2h1.0v1.0h-1.0zM67.5 321.2h0.9v0.9h-0.9zM81.5 325.7h1.1v1.1h-1.1zM56.8 313.6h1.1v1.1h-1.1zM74.1 317.1h1.2v1.2h-1.2zM63.5 324.1h0.9v0.9h-0.9zM84.5 317.1h1.1v1.1h-1.1zM63.1 321.6h0.8v0.8h-0.8zM80.2 325.2h1.2v1.2h-1.2zM74.6 321.0h1.0v1.0h-1.0zM34.1 321.4h1.1v1.1h-1.1zM67.3 321.0h1.0v1.0h-1.0zM59.2 314.1h0.9v0.9h-0.9zM81.7 326.8h1.0v1.0h-1.0zM72.9 319.3h0.8v0.8h-0.8z" fill="#e0c0e0" opacity="0.4"/>
<path d="M69.5 320.8h0.9v0.9h-0.9zM43.0 323.3h1.1v1.1h-1.1zM72.2 320.0h0.9v0.9h-0.9zM38.2 319.9h1.1v1.1h-1.1zM59.1 318.4h0.9v0.9h-0.9zM66.5 327.4h1.1v1.1h-1.1zM58.1 317.2h0.8v0.8h-0.8zM58.3 322.3h1.0v1.0h-1.0zM83.4 321.4h1.1v1.1h-1.1z" fill="#7070d0" opacity="0.6"/>
<path d="M64.6 317.6h0.8v0.8h-0.8zM42.4 325.3h1.1v1.1h-1.1zM71.4 319.9h0.8v0.8h-0.8zM62.9 323.0h1.0v1.0h-1.0zM72.1 319.4h0.8v0.8h-0.8zM82.7 325.3h0.7v0.7h-0.7zM63.2 318.7h1.1v1.1h-1.1z" fill="#c0b0f0" opacity="0.2"/>
<path d="M95.2 320.6h0.8v0.8h-0.8zM69.6 315.7h0.9v0.9h-0.9zM64.6 320.5h0.9v0.9h-0.9z" fill="#a0a0f0" opacity="0.2"/>
<path d="M84.2 295.2h0.8v0.8h-0.8zM49.0 317.9h0.6v0.6h-0.6zM92.3 301.2h0.9v0.9h-0.9zM74.6 299.1h0.8v0.8h-0.8zM95.5 304.9h0.9v0.9h-0.9zM93.3 309.3h0.9v0.9h-0.9zM57.7 304.9h1.0v1.0h-1.0zM82.0 297.1h1.0v1.0h-1.0zM88.5 293.7h0.6v0.6h-0.6zM67.7 303.7h0.8v0.8h-0.8zM84.9 312.6h0.8v0.8h-0.8zM51.6 316.5h0.7v0.7h-0.7zM94.5 309.3h1.0v1.0h-1.0zM47.8 315.4h1.0v1.0h-1.0zM88.0 293.3h0.9v0.9h-0.9zM41.3 319.3h0.8v0.8h-0.8z" fill="#6a60c8" opacity="0.6"/>
<path d="M83.9 296.1h0.6v0.6h-0.6zM71.3 302.8h0.7v0.7h-0.7zM52.1 305.8h0.8v0.8h-0.8zM41.4 318.4h0.7v0.7h-0.7zM61.3 303.7h0.9v0.9h-0.9zM55.7 317.4h0.8v0.8h-0.8zM62.3 303.4h0.9v0.9h-0.9zM50.7 304.7h1.0v1.0h-1.0z" fill="#8078d8" opacity="0.8"/>
<path d="M90.2 293.0h0.9v0.9h-0.9zM89.4 312.6h0.9v0.9h-0.9zM48.5 304.9h0.9v0.9h-0.9zM94.2 306.5h0.8v0.8h-0.8zM76.2 316.0h0.8v0.8h-0.8zM75.9 299.2h1.0v1.0h-1.0zM77.4 299.3h0.8v0.8h-0.8zM75.7 316.4h0.6v0.6h-0.6zM80.0 313.9h0.7v0.7h-0.7z" fill="#2a1a8a" opacity="0.8"/>
<path d="M58.3 304.5h0.9v0.9h-0.9zM57.5 317.9h0.7v0.7h-0.7zM78.4 314.4h0.8v0.8h-0.8zM81.6 298.5h0.6v0.6h-0.6zM44.9 314.6h0.9v0.9h-0.9zM92.5 296.1h0.7v0.7h-0.7zM92.4 309.7h0.9v0.9h-0.9zM62.2 316.9h0.8v0.8h-0.8zM74.1 300.3h0.7v0.7h-0.7zM78.3 313.5h0.9v0.9h-0.9zM63.2 318.2h0.7v0.7h-0.7zM84.3 291.8h0.8v0.8h-0.8zM66.4 317.3h0.8v0.8h-0.8zM43.7 316.5h0.7v0.7h-0.7z" fill="#5040b0" opacity="0.6"/>
<path d="M53.6 316.9h0.8v0.8h-0.8zM87.3 312.7h0.7v0.7h-0.7zM95.0 304.5h0.7v0.7h-0.7zM58.5 303.0h0.8v0.8h-0.8zM71.1 316.8h0.8v0.8h-0.8zM53.6 317.9h0.9v0.9h-0.9zM64.4 302.9h0.8v0.8h-0.8z" fill="#5040b0" opacity="0.4"/>
<path d="M56.0 319.7h0.7v0.7h-0.7zM87.6 292.3h0.9v0.9h-0.9zM52.8 305.3h1.0v1.0h-1.0zM53.6 305.7h0.7v0.7h-0.7zM90.3 311.1h0.6v0.6h-0.6zM59.6 318.5h0.6v0.6h-0.6zM64.4 317.5h0.9v0.9h-0.9zM97.3 306.3h0.7v0.7h-0.7zM70.5 300.6h1.0v1.0h-1.0zM72.4 315.3h0.8v0.8h-0.8zM64.7 316.8h0.8v0.8h-0.8zM56.0 305.1h0.8v0.8h-0.8zM82.0 298.2h0.9v0.9h-0.9z" fill="#6a60c8" opacity="0.4"/>
<path d="M55.8 320.6h0.8v0.8h-0.8zM58.1 317.5h0.9v0.9h-0.9zM68.1 303.7h0.7v0.7h-0.7zM84.3 313.1h0.9v0.9h-0.9zM78.7 313.9h1.0v1.0h-1.0zM88.6 292.4h0.8v0.8h-0.8zM90.3 296.0h0.9v0.9h-0.9z" fill="#3a2a9a" opacity="0.4"/>
<path d="M62.3 316.9h0.7v0.7h-0.7zM42.2 306.1h0.9v0.9h-0.9zM45.0 313.9h0.9v0.9h-0.9zM74.9 299.1h1.0v1.0h-1.0zM46.6 315.8h0.7v0.7h-0.7zM95.2 307.2h1.0v1.0h-1.0zM46.7 315.3h0.6v0.6h-0.6zM92.2 310.5h0.9v0.9h-0.9z" fill="#3a2a9a" opacity="0.6"/>
<path d="M42.0 315.8h0.9v0.9h-0.9zM80.7 316.2h0.7v0.7h-0.7zM48.9 315.7h1.0v1.0h-1.0zM73.3 302.1h0.9v0.9h-0.9zM58.5 318.0h0.9v0.9h-0.9zM62.8 303.8h0.6v0.6h-0.6zM56.2 318.6h0.7v0.7h-0.7zM59.2 301.8h0.9v0.9h-0.9zM82.7 295.3h1.0v1.0h-1.0zM68.3 317.5h0.6v0.6h-0.6zM51.7 304.9h0.8v0.8h-0.8z" fill="#3a2a9a" opacity="0.8"/>
<path d="M77.3 300.1h0.7v0.7h-0.7zM84.7 313.2h0.6v0.6h-0.6zM46.3 307.8h0.6v0.6h-0.6zM69.6 301.6h0.8v0.8h-0.8zM93.2 299.6h0.9v0.9h-0.9zM57.2 316.9h1.0v1.0h-1.0z" fill="#5040b0" opacity="0.8"/>
<path d="M66.0 303.7h0.8v0.8h-0.8zM42.1 307.2h0.9v0.9h-0.9zM50.2 316.2h0.9v0.9h-0.9zM84.8 312.8h0.8v0.8h-0.8zM94.8 306.7h0.9v0.9h-0.9zM89.3 313.2h0.8v0.8h-0.8zM68.0 316.6h0.8v0.8h-0.8zM87.6 293.0h0.8v0.8h-0.8zM46.5 317.0h0.9v0.9h-0.9zM95.5 305.2h0.7v0.7h-0.7zM42.0 306.1h0.8v0.8h-0.8zM84.3 314.7h0.6v0.6h-0.6zM48.9 306.0h1.0v1.0h-1.0zM72.7 300.5h0.9v0.9h-0.9zM54.2 305.5h1.0v1.0h-1.0zM91.5 297.8h0.9v0.9h-0.9zM85.8 295.8h0.7v0.7h-0.7zM91.7 313.0h0.8v0.8h-0.8zM93.9 310.1h0.9v0.9h-0.9zM88.1 292.0h0.8v0.8h-0.8zM87.3 312.9h0.6v0.6h-0.6zM74.1 301.3h0.8v0.8h-0.8zM51.9 317.0h0.7v0.7h-0.7z" fill="#8078d8" opacity="0.6"/>
<path d="M47.3 316.5h0.7v0.7h-0.7zM43.6 307.8h0.7v0.7h-0.7zM49.5 317.4h0.9v0.9h-0.9zM93.6 312.0h0.9v0.9h-0.9zM52.4 316.6h0.7v0.7h-0.7zM66.1 316.6h0.6v0.6h-0.6zM86.2 312.7h1.0v1.0h-1.0zM49.5 319.4h0.6v0.6h-0.6zM73.0 301.5h1.0v1.0h-1.0zM91.7 299.5h0.9v0.9h-0.9zM83.2 315.0h0.7v0.7h-0.7zM73.0 301.9h0.6v0.6h-0.6z" fill="#6a60c8" opacity="0.8"/>
<path d="M60.7 318.9h1.0v1.0h-1.0zM43.2 317.0h1.0v1.0h-1.0zM68.5 303.2h0.9v0.9h-0.9zM86.8 312.5h0.9v0.9h-0.9zM42.4 306.1h0.8v0.8h-0.8zM77.0 314.4h0.8v0.8h-0.8zM49.7 316.9h1.0v1.0h-1.0zM56.1 304.4h0.7v0.7h-0.7zM47.7 315.3h0.7v0.7h-0.7zM73.3 301.2h1.0v1.0h-1.0zM90.7 311.8h0.8v0.8h-0.8zM52.6 317.1h1.0v1.0h-1.0zM46.7 315.6h1.0v1.0h-1.0z" fill="#2a1a8a" opacity="0.4"/>
<path d="M56.5 303.6h0.9v0.9h-0.9zM83.3 294.1h0.9v0.9h-0.9zM41.5 307.0h0.9v0.9h-0.9zM50.6 317.3h1.0v1.0h-1.0zM90.9 299.1h1.0v1.0h-1.0zM60.3 317.0h0.7v0.7h-0.7zM74.1 299.4h1.0v1.0h-1.0z" fill="#2a1a8a" opacity="0.6"/>
<path d="M42.1 306.0h0.9v0.9h-0.9zM45.8 314.4h0.8v0.8h-0.8zM85.6 292.3h0.7v0.7h-0.7zM71.9 315.3h0.8v0.8h-0.8zM53.8 319.3h0.6v0.6h-0.6zM52.7 304.0h0.9v0.9h-0.9zM48.8 315.7h0.8v0.8h-0.8z" fill="#8078d8" opacity="0.4"/>
<g filter="url(#jet)">
<rect x="36.5" y="268.7" width="68.3" height="71.4" fill="#000"/>
<polygon points="37.5,305.5 43.5,306.1 47,309 50.5,307.2 60.2,305.9 70.5,304.2 78.5,301.2 81,299.7 81.8,296.2 84,293.7 87,293.5 89,295.7 89.3,299.2 91.5,301 94.2,303.7 94,307.7 91.5,310.7 85.5,312.5 75.5,314.2 65.5,316.5 55.5,317.2 49.5,315.7 47,315 43.5,318.2 37.5,318.7" fill="rgb(51,51,51)" stroke="rgb(51,51,51)" stroke-width="1" stroke-linejoin="round"/>
<g clip-path="url(#cc0e)">
<ellipse cx="41" cy="311.5" rx="6.61" ry="7.02" fill="rgb(76,76,76)" transform="rotate(0 41 311.5)"/>
<ellipse cx="60.2" cy="310.4" rx="15.7" ry="6.67" fill="rgb(76,76,76)" transform="rotate(-2 60.2 310.4)"/>
<ellipse cx="72.5" cy="308.9" rx="9.23" ry="3.69" fill="rgb(76,76,76)" transform="rotate(-8 72.5 308.9)"/>
<ellipse cx="84.4" cy="306.3" rx="17.94" ry="7.6" fill="rgb(76,76,76)" transform="rotate(-7 84.4 306.3)"/>
<ellipse cx="41" cy="311.5" rx="5.56" ry="5.91" fill="rgb(107,107,107)" transform="rotate(0 41 311.5)"/>
<ellipse cx="60.2" cy="310.4" rx="12.92" ry="5.49" fill="rgb(107,107,107)" transform="rotate(-2 60.2 310.4)"/>
<ellipse cx="72.5" cy="308.9" rx="4.92" ry="1.97" fill="rgb(107,107,107)" transform="rotate(-8 72.5 308.9)"/>
<ellipse cx="84.4" cy="306.3" rx="15.23" ry="6.45" fill="rgb(107,107,107)" transform="rotate(-7 84.4 306.3)"/>
<ellipse cx="41" cy="311.5" rx="4.55" ry="4.83" fill="rgb(140,140,140)" transform="rotate(0 41 311.5)"/>
<ellipse cx="60.2" cy="310.4" rx="10.15" ry="4.31" fill="rgb(140,140,140)" transform="rotate(-2 60.2 310.4)"/>
<ellipse cx="84.4" cy="306.3" rx="12.64" ry="5.35" fill="rgb(140,140,140)" transform="rotate(-7 84.4 306.3)"/>
<ellipse cx="41" cy="311.5" rx="3.56" ry="3.78" fill="rgb(173,173,173)" transform="rotate(0 41 311.5)"/>
<ellipse cx="60.2" cy="310.4" rx="7.27" ry="3.09" fill="rgb(173,173,173)" transform="rotate(-2 60.2 310.4)"/>
<ellipse cx="84.4" cy="306.3" rx="10.15" ry="4.3" fill="rgb(173,173,173)" transform="rotate(-7 84.4 306.3)"/>
<ellipse cx="41" cy="311.5" rx="2.55" ry="2.71" fill="rgb(204,204,204)" transform="rotate(0 41 311.5)"/>
<ellipse cx="60.2" cy="310.4" rx="3.79" ry="1.61" fill="rgb(204,204,204)" transform="rotate(-2 60.2 310.4)"/>
<ellipse cx="84.4" cy="306.3" rx="7.72" ry="3.27" fill="rgb(204,204,204)" transform="rotate(-7 84.4 306.3)"/>
<ellipse cx="41" cy="311.5" rx="1.1" ry="1.17" fill="rgb(235,235,235)" transform="rotate(0 41 311.5)"/>
<ellipse cx="84.4" cy="306.3" rx="4.72" ry="2" fill="rgb(235,235,235)" transform="rotate(-7 84.4 306.3)"/>
<ellipse cx="41" cy="311.5" rx="1.31" ry="1.39" fill="rgb(242,242,242)" transform="rotate(0 41 311.5)"/>
<ellipse cx="60.2" cy="310.4" rx="3.26" ry="1.39" fill="rgb(217,217,217)" transform="rotate(-2 60.2 310.4)"/>
<ellipse cx="84.4" cy="306.3" rx="3.47" ry="1.47" fill="rgb(255,255,255)" transform="rotate(-7 84.4 306.3)"/>
</g>
</g>
</g>
<rect x="121.2" y="272.7" width="60.3" height="63" fill="none" stroke="#9a9a9a" stroke-width="0.8"/>
<text x="118.6" y="281" font-size="5.3" text-anchor="end" fill="#3a3a3a">10<tspan font-size="3.29" dy="-2">5</tspan></text>
<line x1="120" y1="279.3" x2="121.2" y2="279.3" stroke="#888" stroke-width="0.6"/>
<text x="118.6" y="292.35" font-size="5.3" text-anchor="end" fill="#3a3a3a">10<tspan font-size="3.29" dy="-2">4</tspan></text>
<line x1="120" y1="290.65" x2="121.2" y2="290.65" stroke="#888" stroke-width="0.6"/>
<text x="118.6" y="303.7" font-size="5.3" text-anchor="end" fill="#3a3a3a">10<tspan font-size="3.29" dy="-2">3</tspan></text>
<line x1="120" y1="302" x2="121.2" y2="302" stroke="#888" stroke-width="0.6"/>
<text x="118.6" y="315.05" font-size="5.3" text-anchor="end" fill="#3a3a3a">10<tspan font-size="3.29" dy="-2">2</tspan></text>
<line x1="120" y1="313.35" x2="121.2" y2="313.35" stroke="#888" stroke-width="0.6"/>
<text x="118.6" y="326.4" font-size="5.3" text-anchor="end" fill="#3a3a3a">10<tspan font-size="3.29" dy="-2">1</tspan></text>
<line x1="120" y1="324.7" x2="121.2" y2="324.7" stroke="#888" stroke-width="0.6"/>
<text x="118.6" y="337.75" font-size="5.3" text-anchor="end" fill="#3a3a3a">10<tspan font-size="3.29" dy="-2">0</tspan></text>
<line x1="120" y1="336.05" x2="121.2" y2="336.05" stroke="#888" stroke-width="0.6"/>
<line x1="123.2" y1="335.7" x2="123.2" y2="334.5" stroke="#888" stroke-width="0.6"/>
<line x1="134.46" y1="335.7" x2="134.46" y2="334.5" stroke="#888" stroke-width="0.6"/>
<line x1="145.72" y1="335.7" x2="145.72" y2="334.5" stroke="#888" stroke-width="0.6"/>
<line x1="156.98" y1="335.7" x2="156.98" y2="334.5" stroke="#888" stroke-width="0.6"/>
<line x1="168.24" y1="335.7" x2="168.24" y2="334.5" stroke="#888" stroke-width="0.6"/>
<line x1="179.5" y1="335.7" x2="179.5" y2="334.5" stroke="#888" stroke-width="0.6"/>
<text x="124.6" y="343.9" font-size="5.3" text-anchor="end" fill="#3a3a3a">10<tspan font-size="3.29" dy="-2">0</tspan></text>
<text x="135.4" y="343.9" font-size="5.3" text-anchor="end" fill="#3a3a3a">10<tspan font-size="3.29" dy="-2">1</tspan></text>
<text x="146.2" y="343.9" font-size="5.3" text-anchor="end" fill="#3a3a3a">10<tspan font-size="3.29" dy="-2">2</tspan></text>
<text x="157" y="343.9" font-size="5.3" text-anchor="end" fill="#3a3a3a">10<tspan font-size="3.29" dy="-2">3</tspan></text>
<text x="167.8" y="343.9" font-size="5.3" text-anchor="end" fill="#3a3a3a">10<tspan font-size="3.29" dy="-2">4</tspan></text>
<text x="178.6" y="343.9" font-size="5.3" text-anchor="end" fill="#3a3a3a">10<tspan font-size="3.29" dy="-2">5</tspan></text>
<polyline points="151.9,304.9 151.9,282.9 178.8,282.9 178.8,296.6" fill="none" stroke="#a4acb4" stroke-width="0.85"/>
<line x1="178.8" y1="296.6" x2="172.8" y2="300.1" stroke="#a4acb4" stroke-width="0.8"/>
<circle cx="151.9" cy="282.9" r="1.2" fill="#6c747c"/>
<circle cx="178.8" cy="282.9" r="1.2" fill="#6c747c"/>
<circle cx="178.8" cy="296.6" r="1.2" fill="#6c747c"/>
<text x="174.2" y="280.6" font-size="8.2" text-anchor="end" fill="#333">9.2%</text>
<text x="150" y="267.3" font-size="8.6" text-anchor="middle" fill="#222" textLength="22.4" lengthAdjust="spacingAndGlyphs" stroke="#222" stroke-width="0.12">WM-1</text>
<clipPath id="cc1"><rect x="121.2" y="272.7" width="60.3" height="63"/></clipPath>
<clipPath id="cc1e"><polygon points="118.2,304.2 124.2,304.7 127.7,307.7 130,305.2 140,304.1 150,301.2 160,295.7 165.2,293.2 170,291.5 173.5,292 174.5,295.7 173.5,300.2 174.5,303.7 174.2,308.2 171.2,311.7 165,313.4 156.2,314.2 146.2,315.2 136.2,315.7 130.2,315.2 127.7,313.7 124.2,316.2 118.2,316.7"/></clipPath>
<g clip-path="url(#cc1)">
<ellipse cx="147.2" cy="301.2" rx="14" ry="4.5" fill="#b0a8e0" opacity="0.55" filter="url(#hz)" transform="rotate(-10 147.2 301.2)"/>
<ellipse cx="149.2" cy="318.7" rx="16" ry="3.2" fill="#c8c0ec" opacity="0.45" filter="url(#hz)" transform="rotate(-3 149.2 318.7)"/>
<path d="M184.1 300.7h1.2v1.2h-1.2zM155.7 300.2h0.7v0.7h-0.7zM138.7 306.1h0.8v0.8h-0.8zM143.7 295.1h1.1v1.1h-1.1zM157.6 306.1h0.7v0.7h-0.7zM148.9 300.6h1.0v1.0h-1.0zM144.3 304.8h0.7v0.7h-0.7zM148.2 301.4h0.8v0.8h-0.8zM155.4 299.9h0.9v0.9h-0.9zM137.3 294.4h1.1v1.1h-1.1zM133.4 301.3h0.9v0.9h-0.9zM157.7 306.3h0.7v0.7h-0.7zM163.3 301.5h1.0v1.0h-1.0zM142.5 303.0h1.2v1.2h-1.2zM126.1 301.2h1.1v1.1h-1.1zM132.0 306.3h0.8v0.8h-0.8zM161.1 302.5h0.8v0.8h-0.8zM154.8 298.7h1.2v1.2h-1.2zM126.8 295.9h1.2v1.2h-1.2zM132.7 308.9h0.8v0.8h-0.8zM148.9 308.0h0.8v0.8h-0.8zM150.7 304.9h0.7v0.7h-0.7zM117.8 293.9h1.1v1.1h-1.1zM144.6 302.7h1.2v1.2h-1.2zM146.0 294.5h1.1v1.1h-1.1zM132.0 300.0h1.0v1.0h-1.0zM152.8 299.1h0.7v0.7h-0.7zM176.1 298.5h1.2v1.2h-1.2zM176.9 294.6h1.0v1.0h-1.0zM138.0 303.8h1.0v1.0h-1.0zM148.1 302.1h1.1v1.1h-1.1zM158.2 307.1h0.8v0.8h-0.8zM173.7 300.0h1.0v1.0h-1.0zM147.3 297.1h0.9v0.9h-0.9zM144.0 298.1h1.1v1.1h-1.1zM150.7 303.2h0.7v0.7h-0.7zM143.3 303.3h0.8v0.8h-0.8zM134.2 299.0h0.8v0.8h-0.8zM160.5 297.9h0.7v0.7h-0.7z" fill="#5a5ad0" opacity="0.6"/>
<path d="M142.8 296.4h1.0v1.0h-1.0zM139.7 305.1h1.1v1.1h-1.1zM159.1 302.7h0.8v0.8h-0.8zM137.2 296.1h0.9v0.9h-0.9zM150.1 297.7h1.1v1.1h-1.1zM151.5 299.9h0.8v0.8h-0.8zM134.7 302.1h0.7v0.7h-0.7zM171.1 299.8h0.7v0.7h-0.7zM144.0 297.0h1.1v1.1h-1.1zM152.5 303.5h0.9v0.9h-0.9zM133.1 305.1h1.0v1.0h-1.0zM134.2 305.0h1.1v1.1h-1.1zM136.0 307.6h0.7v0.7h-0.7zM139.8 304.2h1.0v1.0h-1.0zM151.9 299.2h0.9v0.9h-0.9zM138.2 307.5h1.0v1.0h-1.0zM139.7 298.2h1.0v1.0h-1.0zM148.5 303.8h0.8v0.8h-0.8zM159.9 298.4h1.2v1.2h-1.2zM160.6 300.5h0.8v0.8h-0.8zM128.5 307.0h1.0v1.0h-1.0zM156.8 300.3h0.8v0.8h-0.8zM188.5 292.6h1.1v1.1h-1.1zM164.2 303.2h0.9v0.9h-0.9zM156.5 297.8h1.1v1.1h-1.1zM155.1 307.4h1.0v1.0h-1.0zM137.5 301.0h0.9v0.9h-0.9zM154.5 309.5h1.0v1.0h-1.0zM159.7 301.4h0.9v0.9h-0.9zM155.2 302.1h1.0v1.0h-1.0zM147.1 302.3h0.8v0.8h-0.8zM128.4 312.3h0.7v0.7h-0.7zM152.4 297.1h0.8v0.8h-0.8zM155.2 302.2h0.8v0.8h-0.8zM153.0 299.5h0.8v0.8h-0.8zM160.8 304.7h0.9v0.9h-0.9zM132.0 297.4h1.1v1.1h-1.1zM155.1 296.2h0.9v0.9h-0.9zM148.0 290.4h0.8v0.8h-0.8zM154.9 297.2h0.7v0.7h-0.7z" fill="#5a5ad0" opacity="0.4"/>
<path d="M147.4 303.6h1.0v1.0h-1.0zM141.7 301.3h0.9v0.9h-0.9zM158.2 304.4h1.2v1.2h-1.2zM137.8 303.0h0.8v0.8h-0.8zM151.5 304.7h1.2v1.2h-1.2zM145.1 297.4h0.8v0.8h-0.8zM166.0 300.4h1.0v1.0h-1.0zM142.0 297.2h1.1v1.1h-1.1zM157.9 299.3h1.0v1.0h-1.0zM156.4 301.0h0.8v0.8h-0.8zM142.7 302.1h0.8v0.8h-0.8zM167.1 303.6h1.1v1.1h-1.1zM139.1 304.2h1.1v1.1h-1.1zM134.2 300.5h0.8v0.8h-0.8zM148.3 298.3h1.2v1.2h-1.2zM150.1 299.0h0.7v0.7h-0.7zM141.9 307.8h0.9v0.9h-0.9zM149.7 301.2h1.2v1.2h-1.2zM150.4 308.1h1.0v1.0h-1.0zM157.3 298.9h1.1v1.1h-1.1zM135.7 301.8h1.2v1.2h-1.2zM151.1 305.5h1.1v1.1h-1.1zM147.9 300.6h0.7v0.7h-0.7zM119.1 298.6h1.2v1.2h-1.2zM126.9 284.0h1.1v1.1h-1.1zM169.2 307.2h1.1v1.1h-1.1zM145.7 299.7h1.0v1.0h-1.0zM165.8 304.7h0.9v0.9h-0.9zM135.4 293.6h1.2v1.2h-1.2zM142.2 305.9h0.7v0.7h-0.7zM147.5 296.8h0.8v0.8h-0.8zM145.2 303.3h1.1v1.1h-1.1zM153.8 303.3h1.2v1.2h-1.2zM158.0 302.0h0.7v0.7h-0.7zM146.1 298.8h0.9v0.9h-0.9zM140.1 301.5h1.0v1.0h-1.0zM149.9 300.6h0.7v0.7h-0.7zM140.2 301.6h1.2v1.2h-1.2zM148.7 301.6h0.8v0.8h-0.8zM148.8 296.4h0.8v0.8h-0.8zM149.8 302.9h1.1v1.1h-1.1zM159.4 307.1h1.0v1.0h-1.0z" fill="#b0a0e8" opacity="0.6"/>
<path d="M141.1 304.5h1.0v1.0h-1.0zM134.2 302.2h0.8v0.8h-0.8zM153.7 301.2h0.8v0.8h-0.8zM144.9 303.3h0.8v0.8h-0.8zM156.7 304.4h1.0v1.0h-1.0zM131.4 297.3h0.9v0.9h-0.9zM162.7 305.7h1.0v1.0h-1.0zM128.8 308.2h1.2v1.2h-1.2zM153.3 303.2h1.0v1.0h-1.0zM161.2 299.4h0.9v0.9h-0.9zM136.7 299.5h0.9v0.9h-0.9zM142.5 293.7h0.8v0.8h-0.8zM153.1 297.1h1.0v1.0h-1.0zM149.3 298.6h0.8v0.8h-0.8zM147.7 300.4h0.9v0.9h-0.9zM150.5 304.3h1.0v1.0h-1.0zM137.8 300.9h0.7v0.7h-0.7zM154.4 304.1h0.8v0.8h-0.8zM155.7 298.1h0.8v0.8h-0.8zM150.1 298.7h1.1v1.1h-1.1zM139.2 298.8h0.9v0.9h-0.9zM165.5 299.5h0.9v0.9h-0.9zM147.5 305.5h1.2v1.2h-1.2zM155.8 298.7h0.7v0.7h-0.7zM138.3 303.2h1.1v1.1h-1.1zM140.8 297.0h1.2v1.2h-1.2zM175.8 302.1h1.1v1.1h-1.1zM142.1 291.6h1.1v1.1h-1.1zM157.7 307.6h0.8v0.8h-0.8zM142.0 296.5h1.1v1.1h-1.1zM156.8 299.5h1.0v1.0h-1.0zM117.9 298.3h1.0v1.0h-1.0z" fill="#8080e0" opacity="0.4"/>
<path d="M159.2 305.9h0.8v0.8h-0.8zM176.6 301.2h0.8v0.8h-0.8zM144.5 297.4h0.7v0.7h-0.7zM147.4 305.2h0.8v0.8h-0.8zM128.9 299.9h1.1v1.1h-1.1zM151.6 303.8h0.9v0.9h-0.9zM159.2 297.1h1.2v1.2h-1.2zM144.3 307.6h1.2v1.2h-1.2zM155.2 302.7h0.9v0.9h-0.9zM128.2 298.7h0.8v0.8h-0.8zM138.7 297.8h0.9v0.9h-0.9zM145.7 297.8h1.1v1.1h-1.1zM134.7 298.5h0.9v0.9h-0.9zM166.9 297.1h1.1v1.1h-1.1zM133.3 297.7h0.9v0.9h-0.9zM154.8 304.6h1.0v1.0h-1.0zM150.0 299.3h0.8v0.8h-0.8zM136.9 300.9h1.2v1.2h-1.2zM149.1 298.8h0.8v0.8h-0.8zM146.6 294.4h1.1v1.1h-1.1zM164.1 303.6h0.7v0.7h-0.7zM162.4 293.6h0.8v0.8h-0.8zM167.4 302.6h0.9v0.9h-0.9zM169.7 300.7h0.9v0.9h-0.9zM149.4 302.3h1.1v1.1h-1.1zM139.7 300.4h1.0v1.0h-1.0zM165.2 295.7h1.1v1.1h-1.1zM129.6 301.1h1.0v1.0h-1.0zM155.0 295.4h0.9v0.9h-0.9zM158.2 300.0h1.2v1.2h-1.2zM157.6 297.4h0.9v0.9h-0.9zM138.5 303.2h1.0v1.0h-1.0zM138.8 300.1h1.2v1.2h-1.2zM145.3 303.6h0.8v0.8h-0.8zM156.5 308.7h1.0v1.0h-1.0zM156.4 296.0h1.1v1.1h-1.1zM145.3 298.2h0.9v0.9h-0.9z" fill="#9090ff" opacity="0.4"/>
<path d="M141.0 303.6h1.1v1.1h-1.1zM157.8 296.3h1.0v1.0h-1.0zM159.2 298.2h0.9v0.9h-0.9zM158.8 301.3h1.2v1.2h-1.2zM137.4 299.0h1.0v1.0h-1.0zM128.2 303.4h1.0v1.0h-1.0zM149.1 304.2h0.8v0.8h-0.8zM142.5 305.2h0.7v0.7h-0.7zM152.1 297.4h1.0v1.0h-1.0zM139.8 295.8h0.8v0.8h-0.8zM149.3 291.9h0.8v0.8h-0.8zM157.0 300.7h1.1v1.1h-1.1zM128.9 305.7h0.9v0.9h-0.9zM153.5 301.9h0.7v0.7h-0.7zM140.0 302.4h1.1v1.1h-1.1zM152.2 300.3h1.2v1.2h-1.2zM164.8 310.9h0.9v0.9h-0.9zM145.4 305.5h1.1v1.1h-1.1zM154.6 307.2h0.7v0.7h-0.7zM144.3 301.2h0.9v0.9h-0.9zM148.3 297.4h0.8v0.8h-0.8zM146.7 295.7h1.2v1.2h-1.2zM162.0 295.6h1.0v1.0h-1.0zM142.2 302.4h1.1v1.1h-1.1zM150.8 295.5h0.7v0.7h-0.7zM161.5 306.7h1.1v1.1h-1.1zM137.6 300.0h0.9v0.9h-0.9zM148.4 302.4h0.9v0.9h-0.9zM158.7 303.9h0.8v0.8h-0.8zM139.1 299.0h0.8v0.8h-0.8zM146.2 302.8h0.8v0.8h-0.8z" fill="#b0a0e8" opacity="0.4"/>
<path d="M143.3 302.0h1.1v1.1h-1.1zM137.6 310.6h0.8v0.8h-0.8zM122.5 299.2h1.1v1.1h-1.1zM128.5 305.2h1.1v1.1h-1.1zM162.6 305.5h0.8v0.8h-0.8zM165.9 292.4h1.2v1.2h-1.2zM121.5 304.9h1.1v1.1h-1.1zM136.7 303.1h0.9v0.9h-0.9zM179.2 300.9h1.1v1.1h-1.1zM143.2 306.6h1.0v1.0h-1.0zM142.0 295.5h1.1v1.1h-1.1zM177.4 294.9h1.0v1.0h-1.0zM147.5 300.6h1.0v1.0h-1.0zM161.4 294.8h0.7v0.7h-0.7zM172.6 303.7h0.9v0.9h-0.9zM145.1 304.6h1.1v1.1h-1.1zM134.4 295.5h1.1v1.1h-1.1zM144.8 300.5h0.9v0.9h-0.9zM156.2 303.7h0.9v0.9h-0.9zM151.4 305.1h1.1v1.1h-1.1zM147.3 300.5h0.9v0.9h-0.9zM160.2 303.0h0.9v0.9h-0.9zM173.1 295.7h1.1v1.1h-1.1zM141.9 305.4h1.1v1.1h-1.1zM151.6 294.8h0.8v0.8h-0.8zM142.8 307.2h0.8v0.8h-0.8zM130.0 301.2h0.9v0.9h-0.9zM143.8 302.3h1.2v1.2h-1.2zM164.3 288.0h0.7v0.7h-0.7zM148.0 294.9h0.8v0.8h-0.8zM153.5 304.3h1.1v1.1h-1.1zM135.5 300.4h0.9v0.9h-0.9z" fill="#8080e0" opacity="0.6"/>
<path d="M149.6 307.1h0.8v0.8h-0.8zM149.3 309.5h1.0v1.0h-1.0zM151.0 296.9h0.9v0.9h-0.9zM136.9 298.6h0.8v0.8h-0.8zM157.9 298.5h1.1v1.1h-1.1zM154.5 301.4h0.8v0.8h-0.8zM133.2 305.3h1.0v1.0h-1.0zM133.3 297.4h1.0v1.0h-1.0zM164.8 304.3h1.1v1.1h-1.1zM157.0 296.6h0.7v0.7h-0.7zM139.1 302.6h1.1v1.1h-1.1zM152.1 298.1h1.1v1.1h-1.1zM136.5 294.8h0.7v0.7h-0.7zM135.7 297.4h1.0v1.0h-1.0zM126.6 310.9h1.1v1.1h-1.1zM142.9 291.0h0.8v0.8h-0.8zM150.4 305.1h1.1v1.1h-1.1zM142.0 298.6h1.0v1.0h-1.0zM152.8 305.3h1.2v1.2h-1.2zM170.7 297.9h0.8v0.8h-0.8zM125.8 298.0h0.9v0.9h-0.9zM141.3 297.8h1.0v1.0h-1.0zM143.4 306.3h1.1v1.1h-1.1zM143.6 304.8h1.0v1.0h-1.0zM181.0 300.7h0.9v0.9h-0.9zM145.6 293.7h1.0v1.0h-1.0zM133.4 302.7h0.7v0.7h-0.7zM152.1 301.9h0.9v0.9h-0.9zM141.5 301.3h0.9v0.9h-0.9zM160.9 301.2h1.1v1.1h-1.1zM142.1 296.6h1.2v1.2h-1.2z" fill="#9090ff" opacity="0.6"/>
<path d="M143.7 303.4h1.0v1.0h-1.0zM157.9 300.6h0.8v0.8h-0.8zM142.0 299.4h0.9v0.9h-0.9zM142.6 295.4h1.0v1.0h-1.0zM132.9 290.2h1.0v1.0h-1.0zM146.9 299.0h1.2v1.2h-1.2z" fill="#5a5ad0" opacity="0.2"/>
<path d="M141.7 299.4h1.0v1.0h-1.0zM144.4 300.1h1.1v1.1h-1.1zM138.0 299.8h0.8v0.8h-0.8zM132.6 301.4h1.2v1.2h-1.2zM145.8 303.5h0.9v0.9h-0.9zM150.6 300.2h0.9v0.9h-0.9zM158.0 297.2h1.1v1.1h-1.1z" fill="#8080e0" opacity="0.2"/>
<path d="M138.0 306.6h1.0v1.0h-1.0zM155.9 305.2h0.7v0.7h-0.7zM138.7 301.7h0.8v0.8h-0.8zM154.2 303.3h1.1v1.1h-1.1zM154.4 299.9h0.8v0.8h-0.8zM145.5 292.6h1.1v1.1h-1.1zM157.6 305.0h1.1v1.1h-1.1zM165.7 296.8h1.0v1.0h-1.0zM128.8 296.3h1.0v1.0h-1.0zM152.7 304.1h1.2v1.2h-1.2z" fill="#9090ff" opacity="0.2"/>
<path d="M155.9 297.2h1.0v1.0h-1.0zM163.0 299.0h1.1v1.1h-1.1zM152.1 305.1h1.1v1.1h-1.1zM148.1 300.6h0.9v0.9h-0.9zM155.0 303.2h0.9v0.9h-0.9zM132.9 298.1h0.8v0.8h-0.8zM140.5 299.1h0.9v0.9h-0.9zM159.8 299.4h0.9v0.9h-0.9zM133.7 299.6h1.2v1.2h-1.2zM138.1 300.8h1.0v1.0h-1.0zM152.0 298.7h0.8v0.8h-0.8zM140.4 295.3h1.1v1.1h-1.1zM139.6 293.4h1.1v1.1h-1.1z" fill="#b0a0e8" opacity="0.2"/>
<path d="M169.4 314.1h0.9v0.9h-0.9zM136.7 323.5h0.9v0.9h-0.9zM142.6 318.0h0.9v0.9h-0.9zM147.7 316.3h0.8v0.8h-0.8zM132.6 320.4h0.7v0.7h-0.7zM143.0 322.8h1.0v1.0h-1.0zM137.6 324.5h0.8v0.8h-0.8zM154.1 324.9h1.0v1.0h-1.0zM150.3 317.7h1.1v1.1h-1.1zM147.7 318.3h1.1v1.1h-1.1zM124.5 318.0h0.9v0.9h-0.9zM155.8 316.7h0.9v0.9h-0.9zM160.9 316.6h1.1v1.1h-1.1zM154.4 330.7h1.2v1.2h-1.2zM183.7 322.8h1.1v1.1h-1.1zM139.2 316.7h0.8v0.8h-0.8zM133.4 316.6h1.2v1.2h-1.2zM132.1 317.3h0.8v0.8h-0.8zM138.0 318.9h1.0v1.0h-1.0zM143.5 318.0h1.1v1.1h-1.1z" fill="#a0a0f0" opacity="0.6"/>
<path d="M141.0 327.6h1.2v1.2h-1.2zM158.1 320.0h0.8v0.8h-0.8zM156.0 312.8h0.7v0.7h-0.7zM132.4 315.6h0.9v0.9h-0.9zM155.6 313.5h1.1v1.1h-1.1zM173.3 312.6h0.9v0.9h-0.9zM151.4 320.0h0.8v0.8h-0.8zM138.5 319.1h0.8v0.8h-0.8zM148.9 314.9h0.8v0.8h-0.8zM142.1 320.0h0.8v0.8h-0.8zM148.3 324.4h0.8v0.8h-0.8zM155.9 313.7h1.2v1.2h-1.2zM162.9 323.7h1.0v1.0h-1.0z" fill="#7070d0" opacity="0.6"/>
<path d="M152.3 325.9h0.7v0.7h-0.7zM140.8 318.5h1.1v1.1h-1.1zM122.9 322.7h0.8v0.8h-0.8zM155.0 325.7h1.0v1.0h-1.0zM133.2 317.5h0.8v0.8h-0.8zM145.9 330.1h1.1v1.1h-1.1zM145.1 320.6h1.0v1.0h-1.0zM142.5 322.5h0.7v0.7h-0.7zM145.8 325.3h0.9v0.9h-0.9zM134.3 327.1h0.7v0.7h-0.7zM133.7 312.4h0.8v0.8h-0.8zM152.2 316.0h1.0v1.0h-1.0zM161.0 315.4h1.2v1.2h-1.2zM142.6 311.6h0.9v0.9h-0.9zM168.1 315.6h1.0v1.0h-1.0zM138.6 318.8h0.8v0.8h-0.8z" fill="#c0b0f0" opacity="0.6"/>
<path d="M143.5 326.8h0.7v0.7h-0.7zM160.0 323.6h0.7v0.7h-0.7zM145.5 319.5h0.9v0.9h-0.9zM155.1 310.8h0.9v0.9h-0.9zM171.5 328.7h1.0v1.0h-1.0zM152.1 316.3h1.2v1.2h-1.2zM160.4 315.3h0.9v0.9h-0.9zM153.1 308.1h1.1v1.1h-1.1zM146.5 321.5h1.1v1.1h-1.1zM143.7 321.3h0.7v0.7h-0.7zM136.0 322.5h0.8v0.8h-0.8zM139.5 318.5h0.8v0.8h-0.8zM153.5 314.8h1.1v1.1h-1.1zM152.5 319.8h1.0v1.0h-1.0zM132.5 311.2h0.8v0.8h-0.8zM119.7 320.7h1.0v1.0h-1.0zM174.8 322.0h1.0v1.0h-1.0zM148.3 326.3h0.8v0.8h-0.8zM139.2 319.5h1.0v1.0h-1.0zM132.5 321.9h1.1v1.1h-1.1zM126.9 323.5h1.1v1.1h-1.1zM144.9 321.2h1.0v1.0h-1.0zM157.3 322.9h0.9v0.9h-0.9zM123.9 321.7h0.7v0.7h-0.7zM160.4 319.0h1.2v1.2h-1.2zM140.3 319.5h0.9v0.9h-0.9zM143.4 316.7h0.8v0.8h-0.8zM143.9 312.2h1.1v1.1h-1.1zM143.5 320.1h0.8v0.8h-0.8zM133.2 322.1h1.0v1.0h-1.0zM133.0 311.7h1.1v1.1h-1.1zM154.3 318.0h0.7v0.7h-0.7zM140.4 322.1h1.1v1.1h-1.1zM134.7 319.0h1.0v1.0h-1.0zM161.2 319.3h1.0v1.0h-1.0zM158.3 316.9h0.8v0.8h-0.8zM128.3 324.8h1.1v1.1h-1.1zM149.1 323.6h0.7v0.7h-0.7zM140.6 312.5h1.0v1.0h-1.0z" fill="#c0b0f0" opacity="0.4"/>
<path d="M135.2 325.7h0.8v0.8h-0.8zM155.3 318.7h0.8v0.8h-0.8zM131.2 318.7h0.7v0.7h-0.7zM150.7 310.6h1.1v1.1h-1.1zM146.4 316.8h0.8v0.8h-0.8zM141.2 313.6h1.0v1.0h-1.0zM166.4 319.3h1.0v1.0h-1.0zM161.5 311.4h0.9v0.9h-0.9zM144.8 316.6h1.2v1.2h-1.2zM162.9 321.1h1.1v1.1h-1.1zM150.8 315.9h1.1v1.1h-1.1zM136.3 319.8h0.9v0.9h-0.9zM148.4 321.0h1.0v1.0h-1.0zM157.9 318.2h0.9v0.9h-0.9zM129.2 323.4h1.0v1.0h-1.0zM136.4 318.3h1.1v1.1h-1.1zM141.2 310.1h0.9v0.9h-0.9zM136.3 325.1h0.7v0.7h-0.7zM131.5 312.2h0.7v0.7h-0.7zM143.3 321.8h0.9v0.9h-0.9zM135.8 320.8h1.0v1.0h-1.0zM130.3 322.4h1.1v1.1h-1.1zM158.8 332.1h0.8v0.8h-0.8zM144.2 316.2h0.7v0.7h-0.7zM133.8 318.3h1.0v1.0h-1.0zM131.8 321.9h1.1v1.1h-1.1zM140.1 326.7h0.9v0.9h-0.9zM145.2 315.9h0.9v0.9h-0.9zM127.4 314.3h0.7v0.7h-0.7zM148.2 319.9h1.0v1.0h-1.0zM135.5 312.9h1.1v1.1h-1.1zM164.0 318.4h0.9v0.9h-0.9zM164.6 325.1h1.0v1.0h-1.0zM158.0 326.4h1.2v1.2h-1.2zM153.0 317.5h1.1v1.1h-1.1zM156.0 322.6h0.8v0.8h-0.8zM160.3 321.4h0.9v0.9h-0.9zM137.5 310.1h0.9v0.9h-0.9zM167.5 322.5h0.8v0.8h-0.8zM157.3 307.0h0.9v0.9h-0.9z" fill="#5a50c0" opacity="0.4"/>
<path d="M148.0 313.7h0.8v0.8h-0.8zM135.9 326.7h0.9v0.9h-0.9zM130.7 322.7h1.2v1.2h-1.2zM131.7 335.6h0.8v0.8h-0.8zM145.9 315.4h1.1v1.1h-1.1zM141.1 316.6h0.8v0.8h-0.8zM151.4 315.8h1.0v1.0h-1.0zM144.6 326.8h0.9v0.9h-0.9zM144.4 321.6h0.8v0.8h-0.8zM161.9 319.6h1.1v1.1h-1.1zM155.9 318.2h0.9v0.9h-0.9zM150.0 313.9h0.8v0.8h-0.8zM120.8 320.8h0.9v0.9h-0.9zM137.1 313.3h0.8v0.8h-0.8zM131.3 314.5h1.2v1.2h-1.2zM166.5 318.7h1.1v1.1h-1.1zM151.4 320.0h0.9v0.9h-0.9zM141.3 314.1h0.9v0.9h-0.9zM155.8 319.6h1.2v1.2h-1.2zM142.0 319.2h0.8v0.8h-0.8zM141.9 323.7h1.0v1.0h-1.0zM142.3 313.4h1.0v1.0h-1.0zM135.6 326.9h1.1v1.1h-1.1zM159.4 315.7h0.8v0.8h-0.8zM134.8 314.8h0.9v0.9h-0.9zM159.4 321.6h0.9v0.9h-0.9zM148.4 320.7h1.1v1.1h-1.1zM134.8 321.0h0.7v0.7h-0.7zM146.0 319.9h1.0v1.0h-1.0zM141.0 321.4h1.0v1.0h-1.0zM162.1 314.5h1.0v1.0h-1.0zM145.3 318.8h1.2v1.2h-1.2zM159.4 316.2h1.1v1.1h-1.1zM160.3 322.1h1.1v1.1h-1.1zM147.5 316.1h0.9v0.9h-0.9zM154.3 333.9h0.7v0.7h-0.7zM144.5 328.3h1.0v1.0h-1.0zM148.3 323.6h0.9v0.9h-0.9zM158.8 318.4h1.2v1.2h-1.2zM144.5 315.2h0.8v0.8h-0.8zM161.9 314.1h1.2v1.2h-1.2zM161.4 324.3h1.2v1.2h-1.2z" fill="#7070d0" opacity="0.4"/>
<path d="M144.5 317.5h1.1v1.1h-1.1zM164.8 324.3h0.8v0.8h-0.8zM149.5 316.2h0.9v0.9h-0.9zM143.1 323.8h1.1v1.1h-1.1zM145.4 313.5h1.1v1.1h-1.1zM134.8 324.6h0.8v0.8h-0.8zM130.1 318.0h1.1v1.1h-1.1zM149.6 320.9h1.0v1.0h-1.0zM147.8 316.7h1.1v1.1h-1.1zM134.0 312.7h1.0v1.0h-1.0zM139.8 330.3h0.8v0.8h-0.8zM156.7 311.9h1.0v1.0h-1.0zM143.6 324.6h1.1v1.1h-1.1zM148.9 319.8h1.2v1.2h-1.2zM147.7 326.0h0.8v0.8h-0.8zM154.4 319.7h1.1v1.1h-1.1zM146.4 320.5h1.2v1.2h-1.2zM133.5 319.5h0.8v0.8h-0.8zM158.3 324.0h0.8v0.8h-0.8zM144.0 315.3h0.8v0.8h-0.8zM138.6 317.2h1.2v1.2h-1.2zM145.3 321.8h0.7v0.7h-0.7zM150.3 325.1h1.0v1.0h-1.0zM142.0 317.9h1.1v1.1h-1.1zM166.8 324.9h0.9v0.9h-0.9zM152.7 324.5h1.0v1.0h-1.0zM122.4 324.3h0.8v0.8h-0.8zM155.8 317.1h0.8v0.8h-0.8zM150.2 320.3h1.0v1.0h-1.0zM167.8 319.0h0.8v0.8h-0.8zM126.8 318.7h0.8v0.8h-0.8z" fill="#e0c0e0" opacity="0.4"/>
<path d="M145.9 319.3h0.8v0.8h-0.8zM164.9 328.1h1.1v1.1h-1.1zM153.5 319.0h0.8v0.8h-0.8zM137.0 311.2h1.2v1.2h-1.2zM124.1 329.8h0.9v0.9h-0.9zM151.7 313.3h0.7v0.7h-0.7z" fill="#7070d0" opacity="0.2"/>
<path d="M152.3 324.9h0.8v0.8h-0.8zM138.3 322.8h0.9v0.9h-0.9zM163.9 325.8h1.0v1.0h-1.0zM148.1 321.4h1.1v1.1h-1.1zM142.4 322.0h1.1v1.1h-1.1zM152.1 320.2h1.2v1.2h-1.2zM156.3 320.5h0.9v0.9h-0.9zM138.9 323.5h1.0v1.0h-1.0zM162.9 319.2h1.0v1.0h-1.0z" fill="#e0c0e0" opacity="0.2"/>
<path d="M157.9 317.7h0.8v0.8h-0.8zM144.3 316.8h1.0v1.0h-1.0zM152.3 327.4h1.1v1.1h-1.1zM137.1 320.2h1.0v1.0h-1.0zM178.8 320.5h0.9v0.9h-0.9zM151.1 326.0h1.1v1.1h-1.1zM116.2 317.8h0.8v0.8h-0.8zM136.0 328.1h1.0v1.0h-1.0zM154.1 322.5h1.1v1.1h-1.1zM119.7 317.0h0.9v0.9h-0.9zM136.1 321.8h0.9v0.9h-0.9zM138.6 329.0h0.9v0.9h-0.9zM121.8 329.1h0.7v0.7h-0.7zM160.4 318.4h1.1v1.1h-1.1zM151.2 320.5h1.1v1.1h-1.1z" fill="#5a50c0" opacity="0.6"/>
<path d="M168.6 321.2h1.1v1.1h-1.1zM171.2 327.2h1.2v1.2h-1.2zM164.7 323.4h1.0v1.0h-1.0zM158.5 315.5h0.9v0.9h-0.9zM145.7 320.7h1.0v1.0h-1.0zM152.9 317.3h1.0v1.0h-1.0zM146.6 325.0h0.9v0.9h-0.9zM168.5 320.7h1.2v1.2h-1.2zM176.2 323.3h0.7v0.7h-0.7zM145.3 316.0h1.0v1.0h-1.0zM147.5 320.4h0.8v0.8h-0.8zM172.9 323.2h1.0v1.0h-1.0zM141.3 319.9h1.0v1.0h-1.0zM170.0 329.9h0.8v0.8h-0.8zM143.9 323.4h1.2v1.2h-1.2zM170.5 322.0h1.2v1.2h-1.2zM155.9 316.7h1.2v1.2h-1.2zM117.4 320.6h0.8v0.8h-0.8zM136.6 320.0h1.0v1.0h-1.0zM136.7 314.0h0.8v0.8h-0.8zM132.2 319.9h1.0v1.0h-1.0zM131.3 322.2h0.7v0.7h-0.7zM124.9 324.3h1.0v1.0h-1.0zM131.1 320.1h1.2v1.2h-1.2zM157.6 325.1h1.2v1.2h-1.2zM157.4 307.7h0.7v0.7h-0.7zM157.2 314.9h0.8v0.8h-0.8zM174.9 316.7h1.1v1.1h-1.1zM162.9 316.6h0.9v0.9h-0.9zM161.3 313.7h1.1v1.1h-1.1zM150.1 309.1h0.8v0.8h-0.8zM176.2 321.7h1.1v1.1h-1.1zM136.6 323.3h0.8v0.8h-0.8zM149.4 318.5h0.8v0.8h-0.8z" fill="#a0a0f0" opacity="0.4"/>
<path d="M142.0 315.4h0.9v0.9h-0.9zM153.9 323.3h1.2v1.2h-1.2zM124.9 318.6h1.0v1.0h-1.0zM143.1 316.8h0.9v0.9h-0.9zM161.4 319.1h0.7v0.7h-0.7zM151.6 316.7h1.0v1.0h-1.0zM142.5 328.5h0.8v0.8h-0.8zM136.8 317.2h1.0v1.0h-1.0zM138.2 317.1h0.7v0.7h-0.7z" fill="#c0b0f0" opacity="0.2"/>
<path d="M130.5 317.6h1.0v1.0h-1.0zM156.0 319.5h0.8v0.8h-0.8zM116.4 320.7h1.2v1.2h-1.2zM136.7 324.4h0.9v0.9h-0.9zM147.5 313.0h1.0v1.0h-1.0zM173.4 314.1h1.1v1.1h-1.1zM164.8 323.0h0.9v0.9h-0.9zM155.8 319.6h1.0v1.0h-1.0zM144.0 319.1h0.9v0.9h-0.9z" fill="#a0a0f0" opacity="0.2"/>
<path d="M138.3 323.4h1.2v1.2h-1.2zM134.4 315.5h0.8v0.8h-0.8zM144.6 321.3h1.0v1.0h-1.0zM131.7 314.1h0.9v0.9h-0.9zM168.2 319.7h0.8v0.8h-0.8z" fill="#5a50c0" opacity="0.2"/>
<path d="M138.7 322.0h0.8v0.8h-0.8zM139.2 317.6h0.8v0.8h-0.8zM166.2 316.3h1.1v1.1h-1.1zM145.6 316.4h1.0v1.0h-1.0zM160.1 317.3h1.2v1.2h-1.2zM150.7 312.9h1.0v1.0h-1.0zM157.7 320.9h0.8v0.8h-0.8zM157.5 322.6h1.0v1.0h-1.0zM152.3 311.0h0.9v0.9h-0.9zM152.8 317.2h0.9v0.9h-0.9zM159.5 328.6h0.9v0.9h-0.9zM132.3 324.7h1.1v1.1h-1.1z" fill="#e0c0e0" opacity="0.6"/>
<path d="M156.2 295.9h1.0v1.0h-1.0zM143.7 302.1h0.8v0.8h-0.8zM124.2 305.6h0.9v0.9h-0.9zM143.9 300.4h0.9v0.9h-0.9zM141.4 319.5h0.9v0.9h-0.9zM146.7 300.0h1.0v1.0h-1.0zM177.2 307.4h0.6v0.6h-0.6zM130.3 316.3h0.8v0.8h-0.8zM130.0 301.9h0.8v0.8h-0.8zM162.0 314.1h1.0v1.0h-1.0zM157.6 318.3h0.6v0.6h-0.6zM135.2 300.5h0.8v0.8h-0.8zM137.1 303.0h0.6v0.6h-0.6zM174.1 297.8h0.8v0.8h-0.8zM174.7 307.5h0.9v0.9h-0.9zM153.7 297.1h1.0v1.0h-1.0z" fill="#3a2a9a" opacity="0.4"/>
<path d="M149.8 297.5h0.7v0.7h-0.7zM161.4 315.1h0.6v0.6h-0.6zM170.6 289.4h0.7v0.7h-0.7zM156.2 314.2h0.6v0.6h-0.6zM162.5 291.1h0.9v0.9h-0.9zM159.9 316.0h0.6v0.6h-0.6zM130.3 303.0h1.0v1.0h-1.0zM152.5 316.7h0.8v0.8h-0.8zM123.4 305.8h0.7v0.7h-0.7zM167.9 290.3h1.0v1.0h-1.0zM174.8 310.3h0.9v0.9h-0.9zM174.5 300.9h0.7v0.7h-0.7zM151.2 299.3h0.6v0.6h-0.6zM170.2 288.8h0.7v0.7h-0.7zM154.1 294.9h0.6v0.6h-0.6zM139.1 303.1h0.7v0.7h-0.7z" fill="#6a60c8" opacity="0.6"/>
<path d="M176.0 297.5h1.0v1.0h-1.0zM160.8 316.6h0.9v0.9h-0.9zM162.2 288.6h0.7v0.7h-0.7zM124.5 306.4h0.8v0.8h-0.8zM149.1 300.6h0.7v0.7h-0.7zM143.0 300.1h0.6v0.6h-0.6zM166.8 313.6h0.7v0.7h-0.7zM133.6 316.2h0.7v0.7h-0.7zM123.0 305.7h1.0v1.0h-1.0zM126.7 305.4h0.8v0.8h-0.8zM138.3 317.3h0.9v0.9h-0.9z" fill="#2a1a8a" opacity="0.8"/>
<path d="M165.2 289.9h0.7v0.7h-0.7zM171.2 313.5h0.8v0.8h-0.8zM127.0 313.0h0.7v0.7h-0.7zM172.0 289.8h0.9v0.9h-0.9zM160.7 292.7h1.0v1.0h-1.0zM134.3 318.8h0.8v0.8h-0.8zM140.8 300.3h0.7v0.7h-0.7zM144.4 301.1h0.7v0.7h-0.7zM174.3 307.6h0.7v0.7h-0.7zM140.4 302.6h0.7v0.7h-0.7zM156.9 295.0h0.9v0.9h-0.9zM145.3 317.0h0.8v0.8h-0.8zM152.0 295.8h1.0v1.0h-1.0zM171.6 311.5h0.9v0.9h-0.9zM174.7 309.1h0.8v0.8h-0.8zM153.1 314.8h0.6v0.6h-0.6zM128.5 315.3h0.7v0.7h-0.7zM152.7 295.9h0.7v0.7h-0.7z" fill="#8078d8" opacity="0.4"/>
<path d="M156.6 314.5h0.9v0.9h-0.9zM125.5 312.5h0.7v0.7h-0.7zM145.4 317.9h0.9v0.9h-0.9zM138.5 317.2h0.7v0.7h-0.7zM145.7 299.5h0.9v0.9h-0.9zM151.2 316.4h0.8v0.8h-0.8zM123.1 317.6h0.8v0.8h-0.8z" fill="#5040b0" opacity="0.4"/>
<path d="M132.0 301.8h0.9v0.9h-0.9zM161.5 293.2h0.6v0.6h-0.6zM154.8 314.5h0.6v0.6h-0.6zM133.4 316.6h0.9v0.9h-0.9zM162.5 313.6h0.9v0.9h-0.9zM174.6 302.1h0.6v0.6h-0.6zM164.3 314.7h0.9v0.9h-0.9zM126.9 305.7h0.7v0.7h-0.7zM175.6 299.8h0.8v0.8h-0.8zM163.6 292.6h0.7v0.7h-0.7zM141.6 315.9h1.0v1.0h-1.0zM125.2 312.5h0.7v0.7h-0.7zM130.8 316.7h0.9v0.9h-0.9zM126.2 306.1h0.8v0.8h-0.8zM161.7 314.3h0.7v0.7h-0.7zM128.9 304.9h0.6v0.6h-0.6zM125.9 308.8h0.8v0.8h-0.8zM172.7 290.4h0.9v0.9h-0.9z" fill="#8078d8" opacity="0.8"/>
<path d="M165.6 290.5h0.7v0.7h-0.7zM155.0 314.6h0.8v0.8h-0.8zM175.1 301.3h1.0v1.0h-1.0zM149.8 315.1h0.9v0.9h-0.9zM166.5 291.1h0.7v0.7h-0.7zM139.2 316.3h0.9v0.9h-0.9zM174.3 299.5h0.9v0.9h-0.9zM156.3 317.2h0.7v0.7h-0.7zM175.7 291.0h1.0v1.0h-1.0zM173.9 308.2h0.8v0.8h-0.8zM151.2 315.7h0.8v0.8h-0.8zM149.2 299.7h0.7v0.7h-0.7zM133.5 315.7h0.9v0.9h-0.9zM168.9 289.3h0.7v0.7h-0.7zM160.6 292.7h0.7v0.7h-0.7zM167.8 291.4h0.7v0.7h-0.7zM133.6 303.3h0.8v0.8h-0.8zM135.5 301.1h0.9v0.9h-0.9zM125.2 313.9h0.8v0.8h-0.8zM155.8 296.4h0.9v0.9h-0.9zM150.1 299.9h0.7v0.7h-0.7zM159.3 295.2h0.7v0.7h-0.7zM164.3 315.3h0.8v0.8h-0.8z" fill="#2a1a8a" opacity="0.6"/>
<path d="M156.2 295.2h0.7v0.7h-0.7zM149.0 298.6h0.9v0.9h-0.9zM156.2 296.2h0.9v0.9h-0.9zM145.6 300.7h0.8v0.8h-0.8zM138.1 315.5h0.9v0.9h-0.9zM162.4 290.0h0.7v0.7h-0.7zM153.4 296.8h0.9v0.9h-0.9zM166.7 313.5h0.8v0.8h-0.8zM162.3 291.3h0.8v0.8h-0.8zM153.5 316.1h0.7v0.7h-0.7zM171.2 311.6h0.6v0.6h-0.6zM139.1 315.6h0.9v0.9h-0.9zM147.8 300.4h0.9v0.9h-0.9zM163.0 293.2h0.8v0.8h-0.8zM150.3 299.4h0.9v0.9h-0.9zM150.4 296.2h0.9v0.9h-0.9z" fill="#3a2a9a" opacity="0.8"/>
<path d="M171.3 313.6h0.6v0.6h-0.6zM147.6 316.2h0.6v0.6h-0.6zM168.4 291.0h0.8v0.8h-0.8zM123.2 314.8h1.0v1.0h-1.0zM172.2 311.0h0.6v0.6h-0.6zM174.1 293.2h0.8v0.8h-0.8zM149.4 300.5h0.8v0.8h-0.8zM147.2 299.4h0.8v0.8h-0.8zM138.5 301.9h0.7v0.7h-0.7zM168.0 289.5h0.7v0.7h-0.7zM121.9 313.2h0.8v0.8h-0.8zM175.0 302.0h0.9v0.9h-0.9zM165.9 313.1h1.0v1.0h-1.0zM152.2 315.3h1.0v1.0h-1.0zM138.9 302.6h0.9v0.9h-0.9zM175.7 295.7h1.0v1.0h-1.0zM147.3 317.1h0.8v0.8h-0.8zM149.9 315.6h0.9v0.9h-0.9z" fill="#2a1a8a" opacity="0.4"/>
<path d="M167.9 289.8h0.8v0.8h-0.8zM133.0 315.6h0.7v0.7h-0.7zM144.8 300.8h0.8v0.8h-0.8zM152.0 299.0h0.9v0.9h-0.9zM140.7 300.0h0.7v0.7h-0.7zM170.1 290.3h0.8v0.8h-0.8zM174.5 292.5h0.9v0.9h-0.9zM127.7 305.0h0.9v0.9h-0.9zM139.4 302.6h0.9v0.9h-0.9zM143.3 302.3h0.8v0.8h-0.8zM141.7 302.7h0.6v0.6h-0.6z" fill="#6a60c8" opacity="0.8"/>
<path d="M133.1 304.1h0.8v0.8h-0.8zM127.8 314.1h0.7v0.7h-0.7zM172.0 311.4h0.8v0.8h-0.8zM132.7 303.6h0.8v0.8h-0.8zM126.3 315.1h0.9v0.9h-0.9zM123.9 317.7h0.7v0.7h-0.7zM155.1 294.8h0.8v0.8h-0.8zM153.0 314.5h0.7v0.7h-0.7zM130.6 303.4h0.9v0.9h-0.9zM147.6 315.4h0.9v0.9h-0.9zM123.6 305.2h0.7v0.7h-0.7zM143.5 317.9h0.8v0.8h-0.8z" fill="#5040b0" opacity="0.6"/>
<path d="M128.7 315.4h0.7v0.7h-0.7zM178.5 293.8h0.8v0.8h-0.8zM132.6 315.5h0.8v0.8h-0.8zM176.3 301.3h0.8v0.8h-0.8zM135.3 302.9h0.6v0.6h-0.6zM175.3 293.0h0.7v0.7h-0.7zM136.8 316.3h0.6v0.6h-0.6zM129.6 315.1h0.8v0.8h-0.8zM164.5 314.4h0.8v0.8h-0.8z" fill="#6a60c8" opacity="0.4"/>
<path d="M173.8 299.8h0.6v0.6h-0.6zM154.4 297.7h0.7v0.7h-0.7zM136.5 317.0h1.0v1.0h-1.0zM160.7 294.3h0.7v0.7h-0.7zM163.6 292.0h1.0v1.0h-1.0zM168.9 289.6h0.7v0.7h-0.7zM171.5 289.0h0.8v0.8h-0.8zM166.6 314.8h1.0v1.0h-1.0zM151.7 315.8h0.7v0.7h-0.7zM160.6 291.3h0.9v0.9h-0.9zM137.0 299.0h0.8v0.8h-0.8zM163.2 314.5h0.8v0.8h-0.8zM143.7 315.6h0.7v0.7h-0.7zM127.9 315.0h0.8v0.8h-0.8zM141.8 300.7h0.8v0.8h-0.8zM171.7 315.4h0.8v0.8h-0.8zM162.8 293.3h0.9v0.9h-0.9z" fill="#3a2a9a" opacity="0.6"/>
<path d="M122.4 304.8h0.9v0.9h-0.9zM176.3 305.0h0.6v0.6h-0.6zM174.9 303.0h0.8v0.8h-0.8zM175.3 298.8h0.8v0.8h-0.8zM123.8 316.4h0.7v0.7h-0.7zM125.0 308.9h0.9v0.9h-0.9zM174.6 309.3h0.8v0.8h-0.8zM129.9 318.1h0.8v0.8h-0.8zM170.3 290.9h0.7v0.7h-0.7zM147.1 315.2h0.9v0.9h-0.9zM163.3 291.6h0.9v0.9h-0.9zM147.9 316.7h0.7v0.7h-0.7zM155.9 314.3h0.7v0.7h-0.7zM129.7 316.5h0.8v0.8h-0.8zM124.4 305.8h0.9v0.9h-0.9zM127.9 315.5h0.6v0.6h-0.6zM130.2 303.4h0.7v0.7h-0.7zM133.9 316.6h0.8v0.8h-0.8zM148.1 315.4h0.9v0.9h-0.9zM157.8 295.2h0.8v0.8h-0.8zM142.3 298.0h0.9v0.9h-0.9z" fill="#8078d8" opacity="0.6"/>
<path d="M154.7 294.8h0.9v0.9h-0.9zM159.2 314.7h0.8v0.8h-0.8zM145.5 315.1h0.8v0.8h-0.8zM148.2 299.5h0.7v0.7h-0.7zM126.4 316.0h0.9v0.9h-0.9zM123.2 316.7h0.9v0.9h-0.9zM167.9 290.5h0.8v0.8h-0.8zM149.1 315.1h0.9v0.9h-0.9zM128.9 315.2h0.6v0.6h-0.6zM152.6 314.5h0.7v0.7h-0.7z" fill="#5040b0" opacity="0.8"/>
<g filter="url(#jet)">
<rect x="117.2" y="268.7" width="68.3" height="71" fill="#000"/>
<polygon points="118.2,304.2 124.2,304.7 127.7,307.7 130,305.2 140,304.1 150,301.2 160,295.7 165.2,293.2 170,291.5 173.5,292 174.5,295.7 173.5,300.2 174.5,303.7 174.2,308.2 171.2,311.7 165,313.4 156.2,314.2 146.2,315.2 136.2,315.7 130.2,315.2 127.7,313.7 124.2,316.2 118.2,316.7" fill="rgb(51,51,51)" stroke="rgb(51,51,51)" stroke-width="1" stroke-linejoin="round"/>
<g clip-path="url(#cc1e)">
<ellipse cx="121.5" cy="310.2" rx="6.75" ry="6.96" fill="rgb(76,76,76)" transform="rotate(0 121.5 310.2)"/>
<ellipse cx="139.6" cy="310.2" rx="14.79" ry="6.09" fill="rgb(76,76,76)" transform="rotate(-2 139.6 310.2)"/>
<ellipse cx="152.2" cy="308.7" rx="11.98" ry="4.79" fill="rgb(76,76,76)" transform="rotate(-5 152.2 308.7)"/>
<ellipse cx="165" cy="307.1" rx="17.31" ry="8.02" fill="rgb(76,76,76)" transform="rotate(-6 165 307.1)"/>
<ellipse cx="167.2" cy="297.7" rx="5.75" ry="3.28" fill="rgb(76,76,76)" transform="rotate(-25 167.2 297.7)"/>
<ellipse cx="121.5" cy="310.2" rx="5.73" ry="5.91" fill="rgb(107,107,107)" transform="rotate(0 121.5 310.2)"/>
<ellipse cx="139.6" cy="310.2" rx="11.35" ry="4.67" fill="rgb(107,107,107)" transform="rotate(-2 139.6 310.2)"/>
<ellipse cx="152.2" cy="308.7" rx="7.99" ry="3.2" fill="rgb(107,107,107)" transform="rotate(-5 152.2 308.7)"/>
<ellipse cx="165" cy="307.1" rx="14.69" ry="6.81" fill="rgb(107,107,107)" transform="rotate(-6 165 307.1)"/>
<ellipse cx="121.5" cy="310.2" rx="4.76" ry="4.91" fill="rgb(140,140,140)" transform="rotate(0 121.5 310.2)"/>
<ellipse cx="139.6" cy="310.2" rx="7.53" ry="3.1" fill="rgb(140,140,140)" transform="rotate(-2 139.6 310.2)"/>
<ellipse cx="165" cy="307.1" rx="12.19" ry="5.65" fill="rgb(140,140,140)" transform="rotate(-6 165 307.1)"/>
<ellipse cx="121.5" cy="310.2" rx="3.82" ry="3.94" fill="rgb(173,173,173)" transform="rotate(0 121.5 310.2)"/>
<ellipse cx="165" cy="307.1" rx="9.79" ry="4.54" fill="rgb(173,173,173)" transform="rotate(-6 165 307.1)"/>
<ellipse cx="121.5" cy="310.2" rx="2.91" ry="3" fill="rgb(204,204,204)" transform="rotate(0 121.5 310.2)"/>
<ellipse cx="165" cy="307.1" rx="7.45" ry="3.45" fill="rgb(204,204,204)" transform="rotate(-6 165 307.1)"/>
<ellipse cx="121.5" cy="310.2" rx="1.78" ry="1.83" fill="rgb(235,235,235)" transform="rotate(0 121.5 310.2)"/>
<ellipse cx="165" cy="307.1" rx="4.55" ry="2.11" fill="rgb(235,235,235)" transform="rotate(-6 165 307.1)"/>
<ellipse cx="121.5" cy="310.2" rx="1.31" ry="1.35" fill="rgb(255,255,255)" transform="rotate(0 121.5 310.2)"/>
<ellipse cx="139.6" cy="310.2" rx="3.47" ry="1.43" fill="rgb(173,173,173)" transform="rotate(-2 139.6 310.2)"/>
<ellipse cx="152.2" cy="308.7" rx="3.26" ry="1.31" fill="rgb(140,140,140)" transform="rotate(-5 152.2 308.7)"/>
<ellipse cx="165" cy="307.1" rx="3.35" ry="1.55" fill="rgb(255,255,255)" transform="rotate(-6 165 307.1)"/>
</g>
</g>
</g>
<rect x="224.6" y="271" width="62.3" height="63.6" fill="none" stroke="#9a9a9a" stroke-width="0.8"/>
<text x="222" y="279.3" font-size="5.3" text-anchor="end" fill="#3a3a3a">10<tspan font-size="3.29" dy="-2">5</tspan></text>
<line x1="223.4" y1="277.6" x2="224.6" y2="277.6" stroke="#888" stroke-width="0.6"/>
<text x="222" y="290.65" font-size="5.3" text-anchor="end" fill="#3a3a3a">10<tspan font-size="3.29" dy="-2">4</tspan></text>
<line x1="223.4" y1="288.95" x2="224.6" y2="288.95" stroke="#888" stroke-width="0.6"/>
<text x="222" y="302" font-size="5.3" text-anchor="end" fill="#3a3a3a">10<tspan font-size="3.29" dy="-2">3</tspan></text>
<line x1="223.4" y1="300.3" x2="224.6" y2="300.3" stroke="#888" stroke-width="0.6"/>
<text x="222" y="313.35" font-size="5.3" text-anchor="end" fill="#3a3a3a">10<tspan font-size="3.29" dy="-2">2</tspan></text>
<line x1="223.4" y1="311.65" x2="224.6" y2="311.65" stroke="#888" stroke-width="0.6"/>
<text x="222" y="324.7" font-size="5.3" text-anchor="end" fill="#3a3a3a">10<tspan font-size="3.29" dy="-2">1</tspan></text>
<line x1="223.4" y1="323" x2="224.6" y2="323" stroke="#888" stroke-width="0.6"/>
<text x="222" y="336.05" font-size="5.3" text-anchor="end" fill="#3a3a3a">10<tspan font-size="3.29" dy="-2">0</tspan></text>
<line x1="223.4" y1="334.35" x2="224.6" y2="334.35" stroke="#888" stroke-width="0.6"/>
<line x1="226.6" y1="334.6" x2="226.6" y2="333.4" stroke="#888" stroke-width="0.6"/>
<line x1="238.26" y1="334.6" x2="238.26" y2="333.4" stroke="#888" stroke-width="0.6"/>
<line x1="249.92" y1="334.6" x2="249.92" y2="333.4" stroke="#888" stroke-width="0.6"/>
<line x1="261.58" y1="334.6" x2="261.58" y2="333.4" stroke="#888" stroke-width="0.6"/>
<line x1="273.24" y1="334.6" x2="273.24" y2="333.4" stroke="#888" stroke-width="0.6"/>
<line x1="284.9" y1="334.6" x2="284.9" y2="333.4" stroke="#888" stroke-width="0.6"/>
<text x="228" y="342.8" font-size="5.3" text-anchor="end" fill="#3a3a3a">10<tspan font-size="3.29" dy="-2">0</tspan></text>
<text x="239.2" y="342.8" font-size="5.3" text-anchor="end" fill="#3a3a3a">10<tspan font-size="3.29" dy="-2">1</tspan></text>
<text x="250.4" y="342.8" font-size="5.3" text-anchor="end" fill="#3a3a3a">10<tspan font-size="3.29" dy="-2">2</tspan></text>
<text x="261.6" y="342.8" font-size="5.3" text-anchor="end" fill="#3a3a3a">10<tspan font-size="3.29" dy="-2">3</tspan></text>
<text x="272.8" y="342.8" font-size="5.3" text-anchor="end" fill="#3a3a3a">10<tspan font-size="3.29" dy="-2">4</tspan></text>
<text x="284" y="342.8" font-size="5.3" text-anchor="end" fill="#3a3a3a">10<tspan font-size="3.29" dy="-2">5</tspan></text>
<polyline points="256.5,303.9 256.5,281.9 284.6,281.9 284.6,295.3" fill="none" stroke="#a4acb4" stroke-width="0.85"/>
<line x1="284.6" y1="295.3" x2="278.6" y2="298.8" stroke="#a4acb4" stroke-width="0.8"/>
<circle cx="256.5" cy="281.9" r="1.2" fill="#6c747c"/>
<circle cx="284.6" cy="281.9" r="1.2" fill="#6c747c"/>
<circle cx="284.6" cy="295.3" r="1.2" fill="#6c747c"/>
<text x="279.4" y="279.7" font-size="8.2" text-anchor="end" fill="#333">4.5%</text>
<text x="255.4" y="265.5" font-size="8.6" text-anchor="middle" fill="#222" textLength="20" lengthAdjust="spacingAndGlyphs" stroke="#222" stroke-width="0.12">HD-2</text>
<clipPath id="cc2"><rect x="224.6" y="271" width="62.3" height="63.6"/></clipPath>
<clipPath id="cc2e"><polygon points="221.6,302.5 227.6,303.3 231.1,306.5 235,305.2 245,304.6 255,303.4 262,300.3 264.6,299.5 266.1,296 268.1,293 271.1,291.5 274.1,292.5 275.6,295.5 275.8,299 277.6,300.8 279.1,301.5 280.6,305 279.6,308.5 277.1,311 269.6,312.5 260.1,313.8 249.6,316.5 239.6,317 233.6,315.5 231.1,314 227.6,317.5 221.6,318"/></clipPath>
<g clip-path="url(#cc2)">
<ellipse cx="250.6" cy="300.5" rx="14" ry="4.5" fill="#b0a8e0" opacity="0.4" filter="url(#hz)" transform="rotate(-10 250.6 300.5)"/>
<ellipse cx="252.6" cy="318" rx="16" ry="3.2" fill="#c8c0ec" opacity="0.45" filter="url(#hz)" transform="rotate(-3 252.6 318)"/>
<path d="M272.4 285.1h0.8v0.8h-0.8zM254.2 301.9h0.9v0.9h-0.9zM251.5 306.1h1.1v1.1h-1.1zM258.6 299.3h1.1v1.1h-1.1zM247.0 298.3h0.7v0.7h-0.7zM256.4 298.7h0.9v0.9h-0.9zM258.1 297.0h1.0v1.0h-1.0zM248.8 299.0h0.8v0.8h-0.8zM247.5 302.9h1.1v1.1h-1.1z" fill="#5a5ad0" opacity="0.2"/>
<path d="M248.9 302.0h0.9v0.9h-0.9zM253.7 301.6h0.7v0.7h-0.7zM240.4 301.7h1.2v1.2h-1.2zM260.6 300.8h1.1v1.1h-1.1zM246.2 299.0h0.7v0.7h-0.7zM248.1 295.7h1.2v1.2h-1.2zM268.5 299.4h0.7v0.7h-0.7zM233.9 306.8h1.1v1.1h-1.1zM240.1 305.4h0.8v0.8h-0.8zM248.9 297.7h1.2v1.2h-1.2zM240.2 299.6h1.0v1.0h-1.0zM245.4 312.4h1.0v1.0h-1.0zM250.1 295.1h1.1v1.1h-1.1zM264.1 303.8h0.7v0.7h-0.7zM235.7 302.6h1.2v1.2h-1.2zM262.8 303.0h0.8v0.8h-0.8zM241.3 299.7h1.0v1.0h-1.0zM255.6 300.8h1.0v1.0h-1.0zM233.3 301.2h0.9v0.9h-0.9z" fill="#9090ff" opacity="0.6"/>
<path d="M242.7 305.2h1.1v1.1h-1.1zM241.6 305.4h1.0v1.0h-1.0zM257.7 299.4h1.1v1.1h-1.1zM253.0 297.8h1.1v1.1h-1.1zM271.8 300.5h0.8v0.8h-0.8zM228.7 300.0h1.0v1.0h-1.0zM255.2 295.7h0.9v0.9h-0.9zM244.8 299.9h0.7v0.7h-0.7zM258.7 295.4h0.9v0.9h-0.9zM252.8 297.3h0.9v0.9h-0.9zM262.1 298.4h0.8v0.8h-0.8zM255.8 295.2h0.7v0.7h-0.7zM239.7 299.7h0.9v0.9h-0.9zM252.2 296.8h1.0v1.0h-1.0zM264.7 295.0h0.8v0.8h-0.8zM245.0 300.5h1.1v1.1h-1.1zM256.9 299.4h1.1v1.1h-1.1zM263.8 294.4h1.1v1.1h-1.1zM214.4 295.0h1.0v1.0h-1.0zM249.2 294.0h1.2v1.2h-1.2zM260.2 298.2h1.0v1.0h-1.0zM245.3 300.6h1.1v1.1h-1.1z" fill="#5a5ad0" opacity="0.4"/>
<path d="M266.3 297.9h1.0v1.0h-1.0zM265.6 301.2h0.8v0.8h-0.8zM258.5 302.7h1.0v1.0h-1.0zM245.9 299.6h0.7v0.7h-0.7zM263.5 304.9h0.8v0.8h-0.8zM255.7 301.5h0.9v0.9h-0.9zM238.4 298.8h1.0v1.0h-1.0zM250.9 301.1h0.8v0.8h-0.8zM247.2 303.6h0.9v0.9h-0.9zM252.3 301.2h0.9v0.9h-0.9zM252.9 299.9h0.8v0.8h-0.8zM257.8 302.5h1.0v1.0h-1.0zM238.0 296.0h0.7v0.7h-0.7zM238.1 297.3h0.9v0.9h-0.9zM250.3 298.1h0.8v0.8h-0.8zM258.0 299.5h1.1v1.1h-1.1zM262.8 304.3h0.9v0.9h-0.9zM267.3 295.4h0.9v0.9h-0.9zM258.4 302.9h1.0v1.0h-1.0z" fill="#b0a0e8" opacity="0.6"/>
<path d="M232.1 300.4h1.0v1.0h-1.0zM235.9 301.4h0.9v0.9h-0.9zM246.0 300.8h1.0v1.0h-1.0zM251.7 298.3h1.0v1.0h-1.0zM229.3 302.7h0.8v0.8h-0.8zM257.2 299.1h1.0v1.0h-1.0zM275.2 292.2h0.8v0.8h-0.8zM258.9 301.8h0.9v0.9h-0.9zM257.2 296.8h1.1v1.1h-1.1zM258.0 298.9h1.0v1.0h-1.0zM264.4 301.2h1.1v1.1h-1.1zM269.2 299.9h0.8v0.8h-0.8zM227.5 303.3h0.8v0.8h-0.8zM243.2 294.4h1.0v1.0h-1.0zM279.9 297.6h1.2v1.2h-1.2zM252.6 305.4h1.1v1.1h-1.1zM235.7 307.2h0.7v0.7h-0.7zM236.2 298.4h1.1v1.1h-1.1zM245.1 298.8h0.8v0.8h-0.8zM240.6 303.1h0.9v0.9h-0.9zM247.7 298.3h0.7v0.7h-0.7zM250.9 299.9h0.8v0.8h-0.8zM269.9 300.8h0.8v0.8h-0.8zM264.1 303.8h1.0v1.0h-1.0zM249.3 295.4h1.1v1.1h-1.1zM250.4 299.6h0.8v0.8h-0.8zM252.5 296.2h0.7v0.7h-0.7z" fill="#8080e0" opacity="0.4"/>
<path d="M239.4 304.8h1.2v1.2h-1.2zM265.2 301.3h0.7v0.7h-0.7zM250.4 300.8h1.1v1.1h-1.1zM246.1 295.6h0.9v0.9h-0.9zM253.7 296.5h1.1v1.1h-1.1zM243.2 303.8h1.2v1.2h-1.2zM234.2 299.8h1.2v1.2h-1.2zM261.1 301.8h1.0v1.0h-1.0zM251.5 303.3h0.9v0.9h-0.9zM239.5 296.2h0.9v0.9h-0.9zM253.5 304.1h1.0v1.0h-1.0zM269.5 298.2h0.8v0.8h-0.8zM236.1 295.0h1.1v1.1h-1.1zM249.1 299.1h1.0v1.0h-1.0zM245.5 305.2h0.7v0.7h-0.7zM267.7 304.0h0.9v0.9h-0.9zM242.5 301.8h1.0v1.0h-1.0z" fill="#9090ff" opacity="0.4"/>
<path d="M255.7 299.7h1.0v1.0h-1.0zM253.4 300.6h0.9v0.9h-0.9zM253.7 300.1h1.1v1.1h-1.1zM230.5 299.8h1.1v1.1h-1.1zM264.3 301.0h0.9v0.9h-0.9zM243.6 298.6h1.1v1.1h-1.1zM251.1 306.9h1.0v1.0h-1.0zM256.2 299.8h0.7v0.7h-0.7zM262.1 304.0h0.8v0.8h-0.8zM265.5 306.1h0.8v0.8h-0.8zM256.6 305.6h1.0v1.0h-1.0zM249.4 295.0h1.0v1.0h-1.0zM242.3 299.6h1.0v1.0h-1.0zM265.0 302.9h1.0v1.0h-1.0z" fill="#8080e0" opacity="0.6"/>
<path d="M257.7 301.6h0.8v0.8h-0.8zM236.0 299.3h0.8v0.8h-0.8zM229.9 294.0h1.2v1.2h-1.2zM271.6 299.1h1.2v1.2h-1.2zM232.9 300.0h0.9v0.9h-0.9zM247.5 299.0h0.8v0.8h-0.8zM242.5 298.6h0.8v0.8h-0.8zM253.0 300.7h1.2v1.2h-1.2zM254.5 292.1h1.1v1.1h-1.1zM257.6 299.0h1.2v1.2h-1.2zM219.7 307.2h0.8v0.8h-0.8zM259.7 302.5h0.8v0.8h-0.8zM249.2 300.2h0.9v0.9h-0.9zM249.4 297.6h1.1v1.1h-1.1zM276.3 302.7h1.0v1.0h-1.0zM252.7 295.4h0.7v0.7h-0.7zM261.5 300.5h1.2v1.2h-1.2zM233.8 304.7h1.1v1.1h-1.1zM251.4 310.1h1.2v1.2h-1.2zM247.5 298.8h0.9v0.9h-0.9z" fill="#b0a0e8" opacity="0.4"/>
<path d="M264.2 302.5h1.0v1.0h-1.0zM241.1 303.4h0.8v0.8h-0.8zM241.6 304.8h0.8v0.8h-0.8zM248.7 298.2h1.2v1.2h-1.2zM248.6 301.3h0.8v0.8h-0.8z" fill="#8080e0" opacity="0.2"/>
<path d="M265.1 305.6h1.0v1.0h-1.0zM238.5 304.3h1.0v1.0h-1.0zM270.4 300.7h0.9v0.9h-0.9zM258.5 302.0h0.9v0.9h-0.9zM258.1 300.6h0.8v0.8h-0.8zM241.9 296.0h1.2v1.2h-1.2zM244.8 306.0h1.0v1.0h-1.0zM233.1 300.0h0.8v0.8h-0.8zM265.9 308.7h1.0v1.0h-1.0zM255.5 300.7h1.0v1.0h-1.0zM261.5 300.5h1.0v1.0h-1.0zM262.6 297.4h1.1v1.1h-1.1zM237.9 297.5h0.7v0.7h-0.7zM243.8 298.3h0.9v0.9h-0.9zM249.1 298.7h1.1v1.1h-1.1zM256.2 306.3h0.7v0.7h-0.7zM263.5 305.8h1.1v1.1h-1.1z" fill="#5a5ad0" opacity="0.6"/>
<path d="M244.0 309.4h0.9v0.9h-0.9zM239.1 300.5h0.7v0.7h-0.7zM260.8 299.8h1.0v1.0h-1.0zM257.9 296.2h1.2v1.2h-1.2zM259.8 300.9h0.8v0.8h-0.8zM239.4 296.5h0.7v0.7h-0.7z" fill="#9090ff" opacity="0.2"/>
<path d="M254.5 296.7h0.7v0.7h-0.7zM267.2 292.5h1.1v1.1h-1.1zM253.7 297.3h0.9v0.9h-0.9zM254.3 297.8h0.7v0.7h-0.7zM245.2 294.5h1.2v1.2h-1.2z" fill="#b0a0e8" opacity="0.2"/>
<path d="M244.0 319.2h0.7v0.7h-0.7zM253.2 320.7h1.0v1.0h-1.0zM253.1 313.7h1.1v1.1h-1.1zM225.5 314.9h1.0v1.0h-1.0zM262.3 320.4h0.9v0.9h-0.9zM277.5 318.8h0.7v0.7h-0.7zM256.3 313.4h0.9v0.9h-0.9z" fill="#5a50c0" opacity="0.6"/>
<path d="M260.3 310.9h0.7v0.7h-0.7zM260.8 319.7h0.8v0.8h-0.8zM284.6 321.7h0.9v0.9h-0.9zM242.5 312.7h0.9v0.9h-0.9zM254.4 326.1h0.7v0.7h-0.7zM256.3 324.1h0.7v0.7h-0.7zM256.0 315.2h0.8v0.8h-0.8zM236.5 316.9h0.9v0.9h-0.9zM248.8 325.1h1.0v1.0h-1.0zM247.1 318.9h1.1v1.1h-1.1zM250.3 316.3h0.7v0.7h-0.7zM244.4 323.3h1.1v1.1h-1.1zM268.5 313.8h1.1v1.1h-1.1zM235.0 317.7h0.9v0.9h-0.9zM267.3 315.6h0.8v0.8h-0.8zM242.5 321.8h0.7v0.7h-0.7zM245.4 321.0h1.0v1.0h-1.0z" fill="#c0b0f0" opacity="0.4"/>
<path d="M275.5 320.3h1.1v1.1h-1.1zM259.6 320.2h0.8v0.8h-0.8zM265.9 319.5h1.0v1.0h-1.0zM240.8 317.8h0.9v0.9h-0.9zM282.0 319.3h0.9v0.9h-0.9zM276.0 318.0h1.0v1.0h-1.0zM244.4 316.3h0.7v0.7h-0.7zM258.3 319.6h1.0v1.0h-1.0zM253.5 315.9h0.8v0.8h-0.8zM250.5 318.2h0.9v0.9h-0.9zM249.6 322.0h0.7v0.7h-0.7zM239.0 319.8h1.0v1.0h-1.0zM247.7 320.9h0.8v0.8h-0.8zM242.5 323.7h0.9v0.9h-0.9zM250.3 319.7h1.1v1.1h-1.1z" fill="#e0c0e0" opacity="0.6"/>
<path d="M257.3 316.8h0.9v0.9h-0.9zM233.7 320.9h1.1v1.1h-1.1zM265.7 319.3h0.8v0.8h-0.8zM258.1 322.3h1.1v1.1h-1.1zM240.4 315.1h0.9v0.9h-0.9zM253.5 319.3h0.8v0.8h-0.8zM262.0 320.8h0.7v0.7h-0.7zM261.0 326.8h1.2v1.2h-1.2zM254.4 314.1h0.9v0.9h-0.9zM238.2 317.1h1.0v1.0h-1.0zM260.2 320.7h1.0v1.0h-1.0z" fill="#c0b0f0" opacity="0.6"/>
<path d="M252.6 315.8h1.1v1.1h-1.1zM234.4 320.7h1.0v1.0h-1.0zM224.9 317.0h1.0v1.0h-1.0zM254.1 315.3h1.1v1.1h-1.1zM261.9 317.4h1.1v1.1h-1.1zM231.5 317.4h1.1v1.1h-1.1zM261.4 312.1h0.9v0.9h-0.9zM238.2 315.3h1.0v1.0h-1.0zM262.5 326.0h0.9v0.9h-0.9zM230.6 315.8h1.0v1.0h-1.0zM233.1 317.9h1.1v1.1h-1.1zM247.5 319.9h1.0v1.0h-1.0zM241.5 309.2h0.7v0.7h-0.7zM254.2 318.0h1.0v1.0h-1.0zM230.5 321.8h0.7v0.7h-0.7zM271.8 320.9h1.1v1.1h-1.1zM253.9 318.7h1.0v1.0h-1.0zM252.8 317.4h0.9v0.9h-0.9zM262.9 314.5h1.2v1.2h-1.2zM261.9 320.3h1.2v1.2h-1.2zM256.4 319.1h0.9v0.9h-0.9zM285.7 321.7h0.8v0.8h-0.8z" fill="#a0a0f0" opacity="0.4"/>
<path d="M255.5 312.8h0.8v0.8h-0.8zM254.7 320.2h1.0v1.0h-1.0zM241.8 313.1h1.1v1.1h-1.1zM246.2 321.2h0.9v0.9h-0.9zM272.6 317.5h1.0v1.0h-1.0zM259.2 321.3h0.7v0.7h-0.7zM239.4 312.5h0.9v0.9h-0.9zM251.2 319.2h1.1v1.1h-1.1zM261.8 320.2h0.8v0.8h-0.8zM257.0 315.0h1.2v1.2h-1.2zM245.7 318.0h1.0v1.0h-1.0zM261.2 320.7h1.0v1.0h-1.0zM279.9 317.3h1.0v1.0h-1.0zM246.8 314.5h1.1v1.1h-1.1zM253.8 316.1h1.0v1.0h-1.0zM241.1 315.1h0.9v0.9h-0.9zM249.1 319.6h1.1v1.1h-1.1zM239.6 319.9h0.9v0.9h-0.9zM224.8 312.9h0.8v0.8h-0.8z" fill="#e0c0e0" opacity="0.4"/>
<path d="M265.8 322.4h0.8v0.8h-0.8zM241.7 321.2h1.2v1.2h-1.2zM245.2 313.5h1.0v1.0h-1.0zM256.4 315.5h1.2v1.2h-1.2zM264.9 315.2h0.7v0.7h-0.7zM234.2 315.0h0.7v0.7h-0.7z" fill="#a0a0f0" opacity="0.2"/>
<path d="M257.7 320.3h1.0v1.0h-1.0zM260.0 315.1h1.0v1.0h-1.0zM235.9 318.0h1.0v1.0h-1.0zM252.4 318.2h0.7v0.7h-0.7z" fill="#7070d0" opacity="0.2"/>
<path d="M259.8 320.3h0.7v0.7h-0.7zM224.9 321.3h0.9v0.9h-0.9zM237.7 319.6h1.2v1.2h-1.2zM255.4 323.3h0.8v0.8h-0.8zM287.2 320.5h1.2v1.2h-1.2zM263.4 323.4h1.1v1.1h-1.1zM282.3 317.1h0.9v0.9h-0.9zM267.0 316.4h1.2v1.2h-1.2zM238.0 322.5h0.9v0.9h-0.9zM238.1 323.8h1.1v1.1h-1.1zM255.1 319.0h0.9v0.9h-0.9zM250.5 318.3h1.2v1.2h-1.2zM236.2 321.8h0.8v0.8h-0.8zM250.2 320.8h0.7v0.7h-0.7zM266.5 321.4h1.0v1.0h-1.0z" fill="#7070d0" opacity="0.4"/>
<path d="M237.0 311.8h1.0v1.0h-1.0zM249.7 313.6h0.7v0.7h-0.7zM240.4 322.8h1.1v1.1h-1.1zM259.5 319.6h0.9v0.9h-0.9zM258.6 322.4h1.0v1.0h-1.0z" fill="#a0a0f0" opacity="0.6"/>
<path d="M255.8 318.2h1.1v1.1h-1.1z" fill="#e0c0e0" opacity="0.2"/>
<path d="M252.6 325.9h0.9v0.9h-0.9zM258.3 322.0h0.9v0.9h-0.9zM249.6 315.7h1.1v1.1h-1.1zM260.1 319.6h0.7v0.7h-0.7zM246.3 319.5h1.0v1.0h-1.0zM247.0 319.0h1.1v1.1h-1.1zM252.8 321.0h1.2v1.2h-1.2zM282.2 322.0h0.9v0.9h-0.9zM222.3 318.2h0.8v0.8h-0.8zM260.2 322.3h0.8v0.8h-0.8zM267.7 319.3h1.2v1.2h-1.2zM252.2 320.0h1.1v1.1h-1.1zM232.9 318.8h1.0v1.0h-1.0zM251.5 320.2h0.8v0.8h-0.8zM247.5 317.2h1.2v1.2h-1.2z" fill="#5a50c0" opacity="0.4"/>
<path d="M268.5 318.2h1.1v1.1h-1.1zM262.5 316.5h0.8v0.8h-0.8zM257.5 315.1h0.7v0.7h-0.7zM243.9 315.4h0.9v0.9h-0.9zM246.5 318.9h0.7v0.7h-0.7zM240.9 322.0h0.9v0.9h-0.9z" fill="#7070d0" opacity="0.6"/>
<path d="M237.6 322.8h1.0v1.0h-1.0zM244.5 318.7h0.9v0.9h-0.9zM253.1 321.6h1.0v1.0h-1.0zM236.0 320.3h1.1v1.1h-1.1zM266.8 321.5h1.0v1.0h-1.0z" fill="#5a50c0" opacity="0.2"/>
<path d="M256.5 320.8h1.1v1.1h-1.1zM241.0 318.9h0.8v0.8h-0.8z" fill="#c0b0f0" opacity="0.2"/>
<path d="M260.0 314.6h0.9v0.9h-0.9zM244.7 317.5h0.9v0.9h-0.9zM257.0 300.9h0.6v0.6h-0.6zM275.2 312.8h0.9v0.9h-0.9zM234.5 316.9h0.9v0.9h-0.9zM255.3 315.2h0.8v0.8h-0.8zM254.9 302.5h0.7v0.7h-0.7zM279.2 298.3h0.8v0.8h-0.8zM280.5 304.2h0.7v0.7h-0.7zM272.2 290.5h0.9v0.9h-0.9zM277.9 298.6h0.7v0.7h-0.7z" fill="#8078d8" opacity="0.6"/>
<path d="M256.7 314.9h0.9v0.9h-0.9zM275.1 311.8h0.9v0.9h-0.9zM225.2 303.5h0.6v0.6h-0.6zM235.8 303.9h0.8v0.8h-0.8zM255.7 301.5h1.0v1.0h-1.0zM254.7 315.9h0.9v0.9h-0.9zM279.9 302.3h1.0v1.0h-1.0zM235.7 301.9h0.9v0.9h-0.9zM279.1 298.7h0.7v0.7h-0.7zM256.7 301.0h0.7v0.7h-0.7zM245.3 303.3h1.0v1.0h-1.0z" fill="#3a2a9a" opacity="0.6"/>
<path d="M229.1 306.3h0.9v0.9h-0.9zM242.0 303.7h0.7v0.7h-0.7zM264.9 313.5h0.7v0.7h-0.7zM279.0 299.0h0.9v0.9h-0.9zM228.6 307.6h0.7v0.7h-0.7zM242.6 302.6h1.0v1.0h-1.0zM231.9 316.5h1.0v1.0h-1.0zM253.2 302.5h0.6v0.6h-0.6zM230.6 314.6h0.8v0.8h-0.8zM244.6 303.9h0.6v0.6h-0.6zM251.0 317.4h0.7v0.7h-0.7zM267.4 295.4h1.0v1.0h-1.0zM239.9 304.1h0.8v0.8h-0.8zM229.7 312.7h0.8v0.8h-0.8zM260.1 314.0h0.9v0.9h-0.9zM271.2 290.9h0.7v0.7h-0.7zM278.0 297.6h0.7v0.7h-0.7z" fill="#6a60c8" opacity="0.6"/>
<path d="M266.1 314.8h0.6v0.6h-0.6zM252.2 316.2h0.7v0.7h-0.7zM250.2 316.6h0.9v0.9h-0.9zM252.6 301.2h1.0v1.0h-1.0zM262.2 314.4h0.8v0.8h-0.8zM275.9 298.6h0.7v0.7h-0.7zM258.9 315.1h1.0v1.0h-1.0zM226.6 305.2h0.7v0.7h-0.7zM236.7 317.2h0.7v0.7h-0.7zM244.5 317.3h0.9v0.9h-0.9zM273.5 313.5h0.6v0.6h-0.6z" fill="#8078d8" opacity="0.8"/>
<path d="M257.8 301.1h1.0v1.0h-1.0zM275.1 311.2h0.9v0.9h-0.9zM238.3 303.1h0.8v0.8h-0.8zM244.7 303.9h0.7v0.7h-0.7zM274.7 293.3h1.0v1.0h-1.0zM261.2 299.1h0.6v0.6h-0.6zM234.0 317.4h0.9v0.9h-0.9zM260.3 314.8h0.8v0.8h-0.8zM234.7 318.0h0.7v0.7h-0.7zM243.6 300.1h0.7v0.7h-0.7zM266.1 296.4h0.7v0.7h-0.7zM238.7 302.7h0.8v0.8h-0.8z" fill="#6a60c8" opacity="0.8"/>
<path d="M254.2 302.2h0.9v0.9h-0.9zM273.9 312.3h0.6v0.6h-0.6zM267.5 312.7h0.9v0.9h-0.9zM249.6 303.2h0.8v0.8h-0.8zM279.8 309.7h0.6v0.6h-0.6zM226.1 314.0h0.8v0.8h-0.8zM268.6 294.2h0.6v0.6h-0.6zM234.4 317.1h1.0v1.0h-1.0zM268.6 314.1h1.0v1.0h-1.0zM269.4 290.4h0.9v0.9h-0.9zM227.0 314.7h0.8v0.8h-0.8zM275.8 313.0h0.7v0.7h-0.7z" fill="#2a1a8a" opacity="0.4"/>
<path d="M234.6 304.4h0.9v0.9h-0.9zM271.9 313.9h0.9v0.9h-0.9zM251.1 302.9h0.7v0.7h-0.7zM249.5 302.7h0.7v0.7h-0.7zM229.2 314.1h0.9v0.9h-0.9zM245.9 303.0h1.0v1.0h-1.0zM269.5 312.9h0.7v0.7h-0.7zM276.3 311.3h0.9v0.9h-0.9z" fill="#5040b0" opacity="0.8"/>
<path d="M275.9 311.6h0.7v0.7h-0.7zM261.7 298.5h0.8v0.8h-0.8zM257.8 299.5h0.9v0.9h-0.9zM267.2 313.1h0.6v0.6h-0.6zM252.8 302.3h1.0v1.0h-1.0zM267.4 314.0h0.7v0.7h-0.7zM242.9 303.3h0.8v0.8h-0.8zM225.4 304.8h0.9v0.9h-0.9zM271.5 314.9h0.8v0.8h-0.8zM281.9 302.5h0.9v0.9h-0.9zM279.7 311.0h0.8v0.8h-0.8zM233.1 316.4h1.0v1.0h-1.0zM235.7 303.2h0.7v0.7h-0.7z" fill="#3a2a9a" opacity="0.8"/>
<path d="M225.0 319.4h0.9v0.9h-0.9zM249.8 317.8h1.0v1.0h-1.0zM228.4 313.2h0.8v0.8h-0.8zM231.2 315.3h0.7v0.7h-0.7zM251.8 317.1h0.9v0.9h-0.9zM251.7 315.8h0.8v0.8h-0.8zM234.3 304.2h1.0v1.0h-1.0zM273.6 290.3h0.9v0.9h-0.9z" fill="#6a60c8" opacity="0.4"/>
<path d="M266.9 297.4h1.0v1.0h-1.0zM243.3 303.2h0.8v0.8h-0.8zM233.5 303.3h0.7v0.7h-0.7zM281.8 303.7h0.9v0.9h-0.9zM233.3 315.6h0.9v0.9h-0.9zM227.7 315.2h0.8v0.8h-0.8zM265.6 297.0h0.6v0.6h-0.6zM225.0 305.6h0.7v0.7h-0.7zM246.2 317.4h0.9v0.9h-0.9z" fill="#2a1a8a" opacity="0.6"/>
<path d="M282.0 305.7h0.9v0.9h-0.9zM224.6 307.4h0.8v0.8h-0.8zM244.2 303.7h0.7v0.7h-0.7zM273.9 312.6h0.6v0.6h-0.6zM249.7 302.4h0.7v0.7h-0.7zM265.0 299.1h0.8v0.8h-0.8zM279.3 309.2h0.9v0.9h-0.9zM238.2 302.7h0.9v0.9h-0.9zM264.1 314.7h0.7v0.7h-0.7z" fill="#5040b0" opacity="0.4"/>
<path d="M278.3 309.4h0.9v0.9h-0.9zM253.3 315.4h0.7v0.7h-0.7zM247.0 316.9h0.7v0.7h-0.7zM229.5 312.9h0.7v0.7h-0.7zM246.3 302.9h0.8v0.8h-0.8zM232.0 305.0h0.7v0.7h-0.7zM267.0 296.5h0.8v0.8h-0.8zM241.9 319.1h0.6v0.6h-0.6zM247.7 316.5h0.8v0.8h-0.8z" fill="#2a1a8a" opacity="0.8"/>
<path d="M246.6 317.5h0.9v0.9h-0.9zM241.9 303.5h0.6v0.6h-0.6zM230.7 305.3h0.8v0.8h-0.8zM275.7 296.6h0.7v0.7h-0.7zM280.3 303.6h0.8v0.8h-0.8zM279.8 307.9h0.6v0.6h-0.6zM260.3 313.8h0.9v0.9h-0.9zM248.1 303.4h0.8v0.8h-0.8zM252.7 302.8h0.7v0.7h-0.7z" fill="#5040b0" opacity="0.6"/>
<path d="M250.3 302.9h0.7v0.7h-0.7zM267.3 294.5h0.8v0.8h-0.8zM249.9 317.0h0.7v0.7h-0.7zM256.2 316.4h0.8v0.8h-0.8zM261.6 298.0h0.8v0.8h-0.8zM275.7 311.6h0.7v0.7h-0.7zM276.2 293.3h0.8v0.8h-0.8zM248.8 302.1h1.0v1.0h-1.0z" fill="#8078d8" opacity="0.4"/>
<path d="M225.5 319.2h0.6v0.6h-0.6zM257.0 316.3h1.0v1.0h-1.0zM265.4 314.9h0.8v0.8h-0.8zM263.2 296.9h0.6v0.6h-0.6zM272.2 314.5h0.9v0.9h-0.9z" fill="#3a2a9a" opacity="0.4"/>
<g filter="url(#jet)">
<rect x="220.6" y="267" width="70.3" height="71.6" fill="#000"/>
<polygon points="221.6,302.5 227.6,303.3 231.1,306.5 235,305.2 245,304.6 255,303.4 262,300.3 264.6,299.5 266.1,296 268.1,293 271.1,291.5 274.1,292.5 275.6,295.5 275.8,299 277.6,300.8 279.1,301.5 280.6,305 279.6,308.5 277.1,311 269.6,312.5 260.1,313.8 249.6,316.5 239.6,317 233.6,315.5 231.1,314 227.6,317.5 221.6,318" fill="rgb(51,51,51)" stroke="rgb(51,51,51)" stroke-width="1" stroke-linejoin="round"/>
<g clip-path="url(#cc2e)">
<ellipse cx="225.2" cy="309.5" rx="6.61" ry="7.23" fill="rgb(76,76,76)" transform="rotate(0 225.2 309.5)"/>
<ellipse cx="244.9" cy="310.2" rx="15.7" ry="7.07" fill="rgb(76,76,76)" transform="rotate(-2 244.9 310.2)"/>
<ellipse cx="257.6" cy="308" rx="8.57" ry="3.43" fill="rgb(76,76,76)" transform="rotate(-10 257.6 308)"/>
<ellipse cx="269.5" cy="305.6" rx="18.57" ry="7.81" fill="rgb(76,76,76)" transform="rotate(-7 269.5 305.6)"/>
<ellipse cx="225.2" cy="309.5" rx="5.56" ry="6.08" fill="rgb(107,107,107)" transform="rotate(0 225.2 309.5)"/>
<ellipse cx="244.9" cy="310.2" rx="12.92" ry="5.81" fill="rgb(107,107,107)" transform="rotate(-2 244.9 310.2)"/>
<ellipse cx="257.6" cy="308" rx="3.54" ry="1.41" fill="rgb(107,107,107)" transform="rotate(-10 257.6 308)"/>
<ellipse cx="269.5" cy="305.6" rx="15.76" ry="6.63" fill="rgb(107,107,107)" transform="rotate(-7 269.5 305.6)"/>
<ellipse cx="225.2" cy="309.5" rx="4.55" ry="4.98" fill="rgb(140,140,140)" transform="rotate(0 225.2 309.5)"/>
<ellipse cx="244.9" cy="310.2" rx="10.15" ry="4.57" fill="rgb(140,140,140)" transform="rotate(-2 244.9 310.2)"/>
<ellipse cx="269.5" cy="305.6" rx="13.09" ry="5.5" fill="rgb(140,140,140)" transform="rotate(-7 269.5 305.6)"/>
<ellipse cx="225.2" cy="309.5" rx="3.56" ry="3.89" fill="rgb(173,173,173)" transform="rotate(0 225.2 309.5)"/>
<ellipse cx="244.9" cy="310.2" rx="7.27" ry="3.27" fill="rgb(173,173,173)" transform="rotate(-2 244.9 310.2)"/>
<ellipse cx="269.5" cy="305.6" rx="10.51" ry="4.42" fill="rgb(173,173,173)" transform="rotate(-7 269.5 305.6)"/>
<ellipse cx="225.2" cy="309.5" rx="2.55" ry="2.79" fill="rgb(204,204,204)" transform="rotate(0 225.2 309.5)"/>
<ellipse cx="244.9" cy="310.2" rx="3.79" ry="1.7" fill="rgb(204,204,204)" transform="rotate(-2 244.9 310.2)"/>
<ellipse cx="269.5" cy="305.6" rx="8" ry="3.36" fill="rgb(204,204,204)" transform="rotate(-7 269.5 305.6)"/>
<ellipse cx="225.2" cy="309.5" rx="1.1" ry="1.21" fill="rgb(235,235,235)" transform="rotate(0 225.2 309.5)"/>
<ellipse cx="269.5" cy="305.6" rx="4.89" ry="2.05" fill="rgb(235,235,235)" transform="rotate(-7 269.5 305.6)"/>
<ellipse cx="225.2" cy="309.5" rx="1.31" ry="1.43" fill="rgb(242,242,242)" transform="rotate(0 225.2 309.5)"/>
<ellipse cx="244.9" cy="310.2" rx="3.26" ry="1.47" fill="rgb(217,217,217)" transform="rotate(-2 244.9 310.2)"/>
<ellipse cx="269.5" cy="305.6" rx="3.59" ry="1.51" fill="rgb(255,255,255)" transform="rotate(-7 269.5 305.6)"/>
</g>
</g>
</g>
<rect x="307.6" y="270.8" width="62.4" height="64.4" fill="none" stroke="#9a9a9a" stroke-width="0.8"/>
<text x="305" y="279.1" font-size="5.3" text-anchor="end" fill="#3a3a3a">10<tspan font-size="3.29" dy="-2">5</tspan></text>
<line x1="306.4" y1="277.4" x2="307.6" y2="277.4" stroke="#888" stroke-width="0.6"/>
<text x="305" y="290.45" font-size="5.3" text-anchor="end" fill="#3a3a3a">10<tspan font-size="3.29" dy="-2">4</tspan></text>
<line x1="306.4" y1="288.75" x2="307.6" y2="288.75" stroke="#888" stroke-width="0.6"/>
<text x="305" y="301.8" font-size="5.3" text-anchor="end" fill="#3a3a3a">10<tspan font-size="3.29" dy="-2">3</tspan></text>
<line x1="306.4" y1="300.1" x2="307.6" y2="300.1" stroke="#888" stroke-width="0.6"/>
<text x="305" y="313.15" font-size="5.3" text-anchor="end" fill="#3a3a3a">10<tspan font-size="3.29" dy="-2">2</tspan></text>
<line x1="306.4" y1="311.45" x2="307.6" y2="311.45" stroke="#888" stroke-width="0.6"/>
<text x="305" y="324.5" font-size="5.3" text-anchor="end" fill="#3a3a3a">10<tspan font-size="3.29" dy="-2">1</tspan></text>
<line x1="306.4" y1="322.8" x2="307.6" y2="322.8" stroke="#888" stroke-width="0.6"/>
<text x="305" y="335.85" font-size="5.3" text-anchor="end" fill="#3a3a3a">10<tspan font-size="3.29" dy="-2">0</tspan></text>
<line x1="306.4" y1="334.15" x2="307.6" y2="334.15" stroke="#888" stroke-width="0.6"/>
<line x1="309.6" y1="335.2" x2="309.6" y2="334" stroke="#888" stroke-width="0.6"/>
<line x1="321.28" y1="335.2" x2="321.28" y2="334" stroke="#888" stroke-width="0.6"/>
<line x1="332.96" y1="335.2" x2="332.96" y2="334" stroke="#888" stroke-width="0.6"/>
<line x1="344.64" y1="335.2" x2="344.64" y2="334" stroke="#888" stroke-width="0.6"/>
<line x1="356.32" y1="335.2" x2="356.32" y2="334" stroke="#888" stroke-width="0.6"/>
<line x1="368" y1="335.2" x2="368" y2="334" stroke="#888" stroke-width="0.6"/>
<text x="311" y="343.4" font-size="5.3" text-anchor="end" fill="#3a3a3a">10<tspan font-size="3.29" dy="-2">0</tspan></text>
<text x="322.22" y="343.4" font-size="5.3" text-anchor="end" fill="#3a3a3a">10<tspan font-size="3.29" dy="-2">1</tspan></text>
<text x="333.44" y="343.4" font-size="5.3" text-anchor="end" fill="#3a3a3a">10<tspan font-size="3.29" dy="-2">2</tspan></text>
<text x="344.66" y="343.4" font-size="5.3" text-anchor="end" fill="#3a3a3a">10<tspan font-size="3.29" dy="-2">3</tspan></text>
<text x="355.88" y="343.4" font-size="5.3" text-anchor="end" fill="#3a3a3a">10<tspan font-size="3.29" dy="-2">4</tspan></text>
<text x="367.1" y="343.4" font-size="5.3" text-anchor="end" fill="#3a3a3a">10<tspan font-size="3.29" dy="-2">5</tspan></text>
<polyline points="339.7,302.8 339.7,280.8 367.7,280.8 367.7,295.4" fill="none" stroke="#a4acb4" stroke-width="0.85"/>
<line x1="367.7" y1="295.4" x2="361.7" y2="298.9" stroke="#a4acb4" stroke-width="0.8"/>
<circle cx="339.7" cy="280.8" r="1.2" fill="#6c747c"/>
<circle cx="367.7" cy="280.8" r="1.2" fill="#6c747c"/>
<circle cx="367.7" cy="295.4" r="1.2" fill="#6c747c"/>
<text x="363.2" y="280.1" font-size="8.2" text-anchor="end" fill="#333">8.4%</text>
<text x="338.5" y="265.7" font-size="8.6" text-anchor="middle" fill="#222" textLength="23.1" lengthAdjust="spacingAndGlyphs" stroke="#222" stroke-width="0.12">WM-2</text>
<clipPath id="cc3"><rect x="307.6" y="270.8" width="62.4" height="64.4"/></clipPath>
<clipPath id="cc3e"><polygon points="304.6,302.8 310.6,303.3 314.1,306.8 315,306.5 325,305.2 335,304 341,299.7 348,294.8 356,291.3 362,292.3 364,296.8 363.1,301.3 364.4,305.3 363.1,310.3 359.6,313.3 353.6,314.8 342.6,315.4 332.6,315.8 322.6,316.2 316.6,315.6 314.1,314.3 310.6,317.3 304.6,317.8"/></clipPath>
<g clip-path="url(#cc3)">
<ellipse cx="333.6" cy="301.2" rx="14" ry="4.5" fill="#b0a8e0" opacity="0.55" filter="url(#hz)" transform="rotate(-10 333.6 301.2)"/>
<ellipse cx="335.6" cy="318.7" rx="16" ry="3.2" fill="#c8c0ec" opacity="0.45" filter="url(#hz)" transform="rotate(-3 335.6 318.7)"/>
<path d="M315.8 298.8h0.9v0.9h-0.9zM336.5 300.0h1.1v1.1h-1.1zM340.2 302.3h0.9v0.9h-0.9zM338.2 303.7h0.9v0.9h-0.9zM338.4 296.8h0.8v0.8h-0.8zM343.5 303.4h1.0v1.0h-1.0zM332.4 297.6h1.0v1.0h-1.0zM341.0 292.7h1.1v1.1h-1.1zM332.5 299.2h1.2v1.2h-1.2zM354.8 299.2h1.2v1.2h-1.2zM325.4 304.1h1.1v1.1h-1.1zM325.2 294.2h0.7v0.7h-0.7zM336.6 303.0h1.1v1.1h-1.1zM321.6 301.3h1.0v1.0h-1.0zM343.4 301.5h0.8v0.8h-0.8zM342.3 296.2h0.9v0.9h-0.9zM345.6 304.8h0.8v0.8h-0.8zM360.4 305.7h0.9v0.9h-0.9zM352.1 299.5h0.8v0.8h-0.8zM347.1 303.6h1.0v1.0h-1.0zM322.2 301.7h0.8v0.8h-0.8zM331.8 306.7h1.2v1.2h-1.2zM327.2 297.6h1.0v1.0h-1.0zM334.3 290.6h1.1v1.1h-1.1zM338.1 308.1h0.8v0.8h-0.8zM336.4 297.6h1.0v1.0h-1.0zM325.9 297.3h0.8v0.8h-0.8zM337.2 299.4h0.9v0.9h-0.9zM333.2 306.1h0.7v0.7h-0.7zM329.5 295.4h0.8v0.8h-0.8zM345.5 301.0h0.7v0.7h-0.7z" fill="#9090ff" opacity="0.4"/>
<path d="M339.5 297.6h1.1v1.1h-1.1zM331.4 306.8h0.8v0.8h-0.8zM337.1 296.1h1.2v1.2h-1.2zM349.1 302.3h0.7v0.7h-0.7zM316.7 298.9h1.0v1.0h-1.0zM340.5 300.4h1.1v1.1h-1.1zM322.5 292.8h1.1v1.1h-1.1zM344.6 294.4h0.8v0.8h-0.8zM340.2 297.6h1.0v1.0h-1.0zM342.0 304.5h1.1v1.1h-1.1zM325.6 299.0h1.1v1.1h-1.1zM335.1 292.6h0.7v0.7h-0.7zM343.1 304.8h0.9v0.9h-0.9zM320.9 300.1h0.8v0.8h-0.8zM345.1 303.0h0.7v0.7h-0.7zM329.9 299.6h0.7v0.7h-0.7zM341.1 307.3h1.0v1.0h-1.0zM331.6 300.1h1.1v1.1h-1.1zM345.6 303.7h0.9v0.9h-0.9zM339.9 306.1h0.9v0.9h-0.9zM354.9 302.7h0.8v0.8h-0.8zM326.8 301.2h0.8v0.8h-0.8zM340.7 304.9h0.9v0.9h-0.9zM361.1 304.9h1.1v1.1h-1.1zM326.5 303.6h0.8v0.8h-0.8zM324.6 307.1h0.7v0.7h-0.7zM316.3 297.1h0.8v0.8h-0.8zM336.0 300.1h1.1v1.1h-1.1zM321.8 294.7h0.7v0.7h-0.7zM345.7 298.0h0.9v0.9h-0.9zM355.6 297.2h1.1v1.1h-1.1zM335.4 299.2h0.8v0.8h-0.8zM346.4 305.0h1.0v1.0h-1.0zM350.4 300.1h0.9v0.9h-0.9zM326.1 294.8h0.8v0.8h-0.8zM343.1 307.6h1.1v1.1h-1.1zM335.7 305.3h1.0v1.0h-1.0zM352.4 299.7h0.8v0.8h-0.8zM324.2 303.4h0.7v0.7h-0.7zM340.1 301.2h0.9v0.9h-0.9zM358.6 301.8h1.2v1.2h-1.2zM308.5 308.2h1.0v1.0h-1.0z" fill="#b0a0e8" opacity="0.6"/>
<path d="M320.3 295.4h0.8v0.8h-0.8zM352.4 300.6h0.8v0.8h-0.8zM322.6 314.4h0.9v0.9h-0.9zM343.4 304.9h0.8v0.8h-0.8zM334.8 301.1h1.1v1.1h-1.1zM321.1 303.3h0.8v0.8h-0.8zM337.8 297.6h1.2v1.2h-1.2zM334.8 303.1h1.0v1.0h-1.0zM338.2 305.3h0.7v0.7h-0.7zM348.1 296.1h0.8v0.8h-0.8zM350.8 299.4h1.2v1.2h-1.2zM348.3 306.4h0.8v0.8h-0.8zM339.9 304.8h1.0v1.0h-1.0zM331.1 294.0h1.2v1.2h-1.2zM340.7 312.0h1.0v1.0h-1.0zM327.6 305.7h0.9v0.9h-0.9zM344.5 302.6h0.9v0.9h-0.9zM341.6 299.0h0.8v0.8h-0.8zM345.7 295.0h1.1v1.1h-1.1zM326.4 299.0h0.9v0.9h-0.9zM340.1 302.2h1.0v1.0h-1.0zM332.9 303.0h0.9v0.9h-0.9zM342.1 296.1h0.9v0.9h-0.9zM332.5 311.6h1.1v1.1h-1.1zM323.8 298.6h0.8v0.8h-0.8zM337.0 301.8h1.0v1.0h-1.0zM342.4 301.2h0.8v0.8h-0.8zM329.4 299.6h0.7v0.7h-0.7zM322.8 302.9h1.2v1.2h-1.2zM342.5 293.0h0.9v0.9h-0.9zM342.7 302.0h1.0v1.0h-1.0zM356.5 294.6h1.0v1.0h-1.0zM334.5 294.3h0.8v0.8h-0.8zM324.8 298.9h1.1v1.1h-1.1zM348.1 292.4h0.8v0.8h-0.8zM322.2 300.2h0.9v0.9h-0.9zM343.9 298.7h1.0v1.0h-1.0zM339.3 299.9h0.7v0.7h-0.7zM340.7 295.0h1.0v1.0h-1.0zM360.8 292.8h1.1v1.1h-1.1zM357.9 297.4h1.0v1.0h-1.0zM324.7 302.7h1.0v1.0h-1.0z" fill="#8080e0" opacity="0.6"/>
<path d="M319.5 302.4h0.9v0.9h-0.9zM358.8 306.7h1.2v1.2h-1.2zM343.8 297.2h0.7v0.7h-0.7zM336.1 301.0h1.0v1.0h-1.0zM335.1 300.8h0.8v0.8h-0.8zM324.3 301.6h1.1v1.1h-1.1zM324.7 302.3h0.9v0.9h-0.9zM314.5 304.8h1.0v1.0h-1.0zM331.3 297.5h1.2v1.2h-1.2zM330.0 298.2h1.2v1.2h-1.2zM321.7 296.8h0.7v0.7h-0.7z" fill="#9090ff" opacity="0.2"/>
<path d="M332.7 301.3h1.1v1.1h-1.1zM326.1 302.2h0.9v0.9h-0.9zM341.3 302.1h0.8v0.8h-0.8zM330.8 300.0h1.2v1.2h-1.2zM339.0 298.0h0.9v0.9h-0.9zM324.7 290.4h0.9v0.9h-0.9zM313.6 305.1h1.1v1.1h-1.1zM318.5 298.0h0.7v0.7h-0.7zM292.4 304.9h1.2v1.2h-1.2zM330.7 293.3h0.8v0.8h-0.8zM336.0 304.8h0.7v0.7h-0.7zM334.6 299.2h1.2v1.2h-1.2zM336.3 296.4h0.7v0.7h-0.7zM337.2 303.6h1.0v1.0h-1.0zM360.2 302.3h1.0v1.0h-1.0zM319.5 303.2h1.2v1.2h-1.2zM341.1 305.4h1.1v1.1h-1.1zM323.1 299.8h0.8v0.8h-0.8zM333.2 302.9h0.8v0.8h-0.8zM326.1 307.0h0.8v0.8h-0.8zM337.7 300.9h1.2v1.2h-1.2zM308.6 302.1h1.0v1.0h-1.0zM347.5 303.0h0.7v0.7h-0.7zM332.1 296.6h0.9v0.9h-0.9zM339.3 299.3h0.9v0.9h-0.9zM323.0 300.7h1.0v1.0h-1.0zM340.8 298.4h0.7v0.7h-0.7zM343.2 299.6h1.0v1.0h-1.0zM327.2 305.2h0.9v0.9h-0.9zM335.3 305.5h0.7v0.7h-0.7zM318.5 304.5h0.8v0.8h-0.8zM334.8 305.8h1.0v1.0h-1.0zM330.4 302.2h1.2v1.2h-1.2zM346.1 302.3h0.8v0.8h-0.8zM338.5 304.9h1.1v1.1h-1.1zM334.1 302.5h0.9v0.9h-0.9zM359.1 303.2h0.7v0.7h-0.7zM336.6 300.4h1.0v1.0h-1.0zM341.0 295.7h0.9v0.9h-0.9zM330.0 300.9h1.1v1.1h-1.1zM323.8 298.9h1.0v1.0h-1.0zM347.7 299.2h0.8v0.8h-0.8z" fill="#5a5ad0" opacity="0.6"/>
<path d="M325.0 307.5h1.1v1.1h-1.1zM339.3 301.2h1.1v1.1h-1.1zM346.7 295.9h0.8v0.8h-0.8zM351.3 300.5h1.1v1.1h-1.1zM336.3 298.4h1.0v1.0h-1.0zM339.8 301.8h0.9v0.9h-0.9zM359.8 297.0h0.9v0.9h-0.9zM351.2 300.2h0.7v0.7h-0.7zM339.9 295.8h1.2v1.2h-1.2zM330.5 303.5h1.0v1.0h-1.0zM347.5 306.6h1.1v1.1h-1.1zM345.4 300.0h0.8v0.8h-0.8zM331.5 298.9h1.0v1.0h-1.0zM342.8 303.7h0.9v0.9h-0.9zM328.8 305.7h1.1v1.1h-1.1zM348.1 300.8h0.8v0.8h-0.8zM351.8 298.4h0.9v0.9h-0.9zM344.9 296.9h0.8v0.8h-0.8zM340.3 300.0h0.9v0.9h-0.9zM339.8 293.4h1.0v1.0h-1.0zM337.7 303.0h0.8v0.8h-0.8zM322.4 299.9h1.1v1.1h-1.1zM332.2 301.8h1.2v1.2h-1.2zM312.9 303.6h0.9v0.9h-0.9zM344.6 297.9h0.9v0.9h-0.9zM348.3 303.6h1.0v1.0h-1.0zM330.9 298.9h0.8v0.8h-0.8zM337.0 306.6h0.9v0.9h-0.9z" fill="#5a5ad0" opacity="0.4"/>
<path d="M346.0 297.7h0.8v0.8h-0.8zM346.0 301.1h0.8v0.8h-0.8zM350.3 302.9h0.8v0.8h-0.8zM336.9 299.2h0.8v0.8h-0.8zM343.4 301.2h0.8v0.8h-0.8zM319.1 296.6h1.0v1.0h-1.0zM333.8 300.9h1.2v1.2h-1.2zM328.9 300.0h1.0v1.0h-1.0zM323.3 306.6h0.7v0.7h-0.7zM325.8 304.7h0.9v0.9h-0.9zM340.2 307.6h1.0v1.0h-1.0zM334.5 303.2h1.1v1.1h-1.1zM321.9 297.8h0.9v0.9h-0.9zM349.1 294.1h1.1v1.1h-1.1zM310.7 294.1h0.8v0.8h-0.8zM312.3 301.5h0.8v0.8h-0.8zM335.6 299.3h1.1v1.1h-1.1zM353.5 297.6h1.0v1.0h-1.0zM323.1 306.5h1.1v1.1h-1.1zM351.9 300.2h0.9v0.9h-0.9zM342.0 301.2h1.1v1.1h-1.1zM315.1 303.2h1.0v1.0h-1.0zM354.9 305.5h0.8v0.8h-0.8zM347.8 301.4h1.0v1.0h-1.0zM316.2 297.9h1.1v1.1h-1.1zM347.2 303.1h1.0v1.0h-1.0zM337.7 309.9h0.7v0.7h-0.7zM330.4 304.9h0.9v0.9h-0.9zM353.0 303.0h1.1v1.1h-1.1zM339.5 301.1h1.0v1.0h-1.0zM324.0 298.0h1.0v1.0h-1.0zM336.0 302.3h1.1v1.1h-1.1zM337.9 299.4h1.2v1.2h-1.2zM343.0 303.5h1.2v1.2h-1.2zM327.0 300.8h0.9v0.9h-0.9z" fill="#b0a0e8" opacity="0.4"/>
<path d="M344.9 303.3h0.9v0.9h-0.9zM341.4 299.2h1.0v1.0h-1.0zM313.3 302.5h0.9v0.9h-0.9zM336.5 303.2h1.1v1.1h-1.1zM339.1 304.5h1.1v1.1h-1.1zM351.1 300.6h1.1v1.1h-1.1zM341.8 306.0h0.8v0.8h-0.8zM331.2 304.4h0.8v0.8h-0.8zM340.4 292.9h0.9v0.9h-0.9zM334.5 301.7h0.7v0.7h-0.7zM342.9 302.3h0.8v0.8h-0.8zM323.7 300.6h1.2v1.2h-1.2zM325.1 296.2h0.9v0.9h-0.9zM338.2 298.5h1.1v1.1h-1.1zM347.3 294.1h1.0v1.0h-1.0zM330.6 296.1h0.8v0.8h-0.8zM351.2 307.4h1.0v1.0h-1.0zM340.1 301.4h1.1v1.1h-1.1zM349.5 296.6h1.1v1.1h-1.1zM317.7 301.7h0.8v0.8h-0.8zM349.8 309.3h0.9v0.9h-0.9zM355.7 299.8h1.1v1.1h-1.1zM349.8 301.9h1.2v1.2h-1.2zM334.1 292.4h1.1v1.1h-1.1zM333.8 299.4h1.0v1.0h-1.0zM349.2 296.2h0.8v0.8h-0.8zM321.3 302.9h0.7v0.7h-0.7zM327.9 302.4h0.7v0.7h-0.7zM352.1 298.6h0.9v0.9h-0.9zM338.0 301.6h1.0v1.0h-1.0zM337.3 298.8h1.1v1.1h-1.1zM330.6 299.9h0.7v0.7h-0.7z" fill="#8080e0" opacity="0.4"/>
<path d="M331.1 301.6h1.0v1.0h-1.0zM348.0 298.5h1.0v1.0h-1.0zM341.3 304.4h1.1v1.1h-1.1zM333.7 299.5h0.9v0.9h-0.9zM334.3 299.2h1.0v1.0h-1.0zM329.2 304.0h1.0v1.0h-1.0zM327.6 297.4h1.0v1.0h-1.0zM315.0 306.3h1.2v1.2h-1.2zM341.6 296.9h0.7v0.7h-0.7zM319.7 296.2h1.0v1.0h-1.0zM344.0 303.2h1.2v1.2h-1.2zM343.0 301.6h1.0v1.0h-1.0zM312.0 301.9h0.7v0.7h-0.7zM346.0 297.0h1.1v1.1h-1.1zM329.3 306.1h1.1v1.1h-1.1zM333.0 300.8h0.9v0.9h-0.9zM315.1 301.1h0.9v0.9h-0.9zM344.4 296.7h0.7v0.7h-0.7zM342.3 296.0h1.2v1.2h-1.2zM344.9 301.0h1.1v1.1h-1.1zM331.3 298.9h1.0v1.0h-1.0zM323.2 298.6h1.1v1.1h-1.1zM336.7 301.6h0.8v0.8h-0.8zM315.7 302.0h0.8v0.8h-0.8zM329.3 297.0h1.0v1.0h-1.0zM338.3 303.0h0.9v0.9h-0.9zM333.1 307.1h0.8v0.8h-0.8zM344.1 299.6h0.9v0.9h-0.9zM318.4 304.4h1.0v1.0h-1.0zM336.4 299.7h0.8v0.8h-0.8zM332.3 301.1h0.8v0.8h-0.8zM331.2 298.4h0.9v0.9h-0.9zM337.3 310.1h0.8v0.8h-0.8zM335.7 295.7h1.2v1.2h-1.2zM342.3 300.6h0.9v0.9h-0.9zM333.9 303.0h1.1v1.1h-1.1zM340.7 303.2h0.9v0.9h-0.9z" fill="#9090ff" opacity="0.6"/>
<path d="M344.1 302.0h0.7v0.7h-0.7zM326.8 296.6h0.8v0.8h-0.8zM340.4 294.4h1.2v1.2h-1.2zM326.6 300.8h1.0v1.0h-1.0zM340.7 300.6h1.0v1.0h-1.0zM322.0 301.3h0.9v0.9h-0.9z" fill="#5a5ad0" opacity="0.2"/>
<path d="M331.7 300.1h1.2v1.2h-1.2zM329.4 301.3h0.9v0.9h-0.9zM336.7 303.7h0.8v0.8h-0.8zM322.7 296.0h1.2v1.2h-1.2zM352.5 301.9h0.9v0.9h-0.9zM344.3 293.8h1.0v1.0h-1.0zM329.6 296.5h1.1v1.1h-1.1zM349.7 301.5h0.9v0.9h-0.9z" fill="#b0a0e8" opacity="0.2"/>
<path d="M339.2 295.6h0.8v0.8h-0.8zM327.6 307.5h0.8v0.8h-0.8zM327.9 303.5h1.1v1.1h-1.1zM334.7 303.3h0.8v0.8h-0.8zM315.7 298.9h0.8v0.8h-0.8zM331.5 304.9h1.1v1.1h-1.1z" fill="#8080e0" opacity="0.2"/>
<path d="M319.1 315.5h1.0v1.0h-1.0zM344.6 315.9h0.8v0.8h-0.8zM359.5 321.0h1.1v1.1h-1.1zM316.9 322.3h1.0v1.0h-1.0zM359.0 323.5h1.2v1.2h-1.2zM354.6 322.6h1.1v1.1h-1.1zM357.9 314.4h1.1v1.1h-1.1zM349.2 322.3h1.0v1.0h-1.0zM346.6 322.8h0.9v0.9h-0.9zM329.9 323.8h0.7v0.7h-0.7zM331.2 317.7h1.0v1.0h-1.0zM329.3 313.6h0.8v0.8h-0.8zM344.7 322.5h0.9v0.9h-0.9zM343.5 319.6h0.7v0.7h-0.7zM334.4 316.6h0.9v0.9h-0.9z" fill="#5a50c0" opacity="0.6"/>
<path d="M340.0 319.1h0.9v0.9h-0.9zM337.1 326.0h0.7v0.7h-0.7zM325.6 312.0h0.8v0.8h-0.8zM340.5 329.1h0.7v0.7h-0.7zM367.9 313.6h1.0v1.0h-1.0zM326.0 314.0h1.1v1.1h-1.1zM318.2 311.4h1.0v1.0h-1.0zM321.8 323.3h1.1v1.1h-1.1zM330.9 316.5h0.8v0.8h-0.8zM327.0 320.9h1.1v1.1h-1.1zM325.8 314.0h0.8v0.8h-0.8zM322.5 315.9h0.8v0.8h-0.8zM331.6 321.7h1.0v1.0h-1.0zM323.9 320.7h0.8v0.8h-0.8zM345.9 316.7h0.8v0.8h-0.8zM350.6 327.7h0.8v0.8h-0.8zM342.0 327.7h0.9v0.9h-0.9zM327.5 323.2h0.9v0.9h-0.9zM340.0 325.9h0.7v0.7h-0.7zM343.7 314.6h0.8v0.8h-0.8zM339.9 316.7h1.2v1.2h-1.2zM328.6 320.2h1.0v1.0h-1.0zM337.5 323.9h1.1v1.1h-1.1zM345.6 322.2h0.7v0.7h-0.7zM302.6 314.0h0.8v0.8h-0.8zM316.6 316.0h1.1v1.1h-1.1zM343.0 312.0h0.9v0.9h-0.9zM332.3 324.0h1.0v1.0h-1.0zM326.0 326.5h1.0v1.0h-1.0zM319.2 318.6h1.1v1.1h-1.1zM333.6 317.9h1.1v1.1h-1.1zM322.1 318.4h1.0v1.0h-1.0zM340.1 321.5h1.1v1.1h-1.1zM325.2 317.5h1.2v1.2h-1.2zM344.8 312.7h1.1v1.1h-1.1zM308.5 311.3h1.1v1.1h-1.1zM345.1 329.5h0.7v0.7h-0.7z" fill="#7070d0" opacity="0.4"/>
<path d="M331.1 319.5h1.0v1.0h-1.0zM335.4 317.5h1.0v1.0h-1.0zM337.2 318.5h1.1v1.1h-1.1zM317.2 316.4h0.7v0.7h-0.7zM324.3 315.4h0.8v0.8h-0.8zM344.6 320.9h1.1v1.1h-1.1zM339.2 325.5h1.2v1.2h-1.2zM333.2 318.1h1.1v1.1h-1.1zM335.4 315.6h0.8v0.8h-0.8zM349.2 325.2h0.7v0.7h-0.7zM335.5 318.6h1.0v1.0h-1.0zM341.0 317.5h1.1v1.1h-1.1zM311.1 318.3h0.8v0.8h-0.8zM348.4 326.6h0.9v0.9h-0.9zM340.2 317.4h0.9v0.9h-0.9zM329.7 313.9h1.1v1.1h-1.1zM342.7 318.6h1.0v1.0h-1.0zM356.9 320.1h1.0v1.0h-1.0zM319.2 316.7h0.7v0.7h-0.7zM341.4 329.3h0.9v0.9h-0.9zM321.6 317.6h0.7v0.7h-0.7zM360.5 317.3h0.9v0.9h-0.9zM338.3 319.4h0.8v0.8h-0.8zM329.4 319.9h0.8v0.8h-0.8zM344.2 325.2h0.9v0.9h-0.9zM322.9 324.5h0.8v0.8h-0.8zM322.9 320.2h0.9v0.9h-0.9zM329.0 324.9h0.8v0.8h-0.8zM331.5 317.5h1.1v1.1h-1.1zM321.3 321.1h0.9v0.9h-0.9zM318.1 321.7h1.1v1.1h-1.1zM348.0 321.4h1.1v1.1h-1.1zM321.3 319.0h0.8v0.8h-0.8zM354.5 315.0h1.0v1.0h-1.0zM336.5 321.2h1.1v1.1h-1.1zM339.7 317.2h0.7v0.7h-0.7z" fill="#5a50c0" opacity="0.4"/>
<path d="M336.6 322.9h0.8v0.8h-0.8zM330.0 319.9h0.8v0.8h-0.8zM320.5 320.9h0.7v0.7h-0.7zM330.9 325.4h1.0v1.0h-1.0zM337.2 316.0h0.8v0.8h-0.8zM336.4 312.7h0.9v0.9h-0.9zM342.2 309.9h0.7v0.7h-0.7zM341.5 320.9h1.0v1.0h-1.0zM343.5 318.4h0.8v0.8h-0.8zM343.0 318.6h1.0v1.0h-1.0zM329.1 314.1h0.7v0.7h-0.7zM353.9 326.8h0.7v0.7h-0.7zM374.7 320.9h1.2v1.2h-1.2zM338.1 322.3h1.2v1.2h-1.2zM333.2 322.9h1.0v1.0h-1.0zM351.4 321.2h0.8v0.8h-0.8zM347.2 322.5h0.7v0.7h-0.7zM335.1 317.0h0.8v0.8h-0.8zM315.9 324.7h1.1v1.1h-1.1zM340.2 317.3h0.9v0.9h-0.9zM300.0 309.1h0.7v0.7h-0.7zM341.2 326.1h1.1v1.1h-1.1zM350.5 318.2h0.8v0.8h-0.8zM363.5 323.5h0.8v0.8h-0.8zM332.4 317.6h1.0v1.0h-1.0zM328.3 320.4h1.1v1.1h-1.1zM335.5 313.0h1.2v1.2h-1.2zM333.4 317.2h1.0v1.0h-1.0zM327.1 319.3h1.2v1.2h-1.2zM312.2 327.8h1.2v1.2h-1.2zM325.0 315.6h1.1v1.1h-1.1zM338.1 319.7h0.7v0.7h-0.7zM306.4 320.8h0.9v0.9h-0.9zM316.5 316.9h0.8v0.8h-0.8zM348.4 321.0h1.2v1.2h-1.2zM353.2 318.6h0.8v0.8h-0.8zM336.7 321.7h1.0v1.0h-1.0zM343.5 319.5h1.0v1.0h-1.0zM336.7 324.7h1.1v1.1h-1.1z" fill="#e0c0e0" opacity="0.4"/>
<path d="M334.5 316.8h1.1v1.1h-1.1zM326.9 308.5h0.7v0.7h-0.7zM323.3 321.6h0.9v0.9h-0.9zM366.8 322.4h1.1v1.1h-1.1zM342.3 317.5h1.1v1.1h-1.1zM324.2 316.2h1.1v1.1h-1.1zM323.5 319.9h1.1v1.1h-1.1zM334.6 315.9h1.1v1.1h-1.1zM314.3 325.7h0.8v0.8h-0.8zM344.3 317.5h1.0v1.0h-1.0zM330.5 319.5h1.1v1.1h-1.1zM362.4 310.5h0.9v0.9h-0.9zM339.8 314.0h0.9v0.9h-0.9zM334.6 319.3h1.0v1.0h-1.0zM327.8 321.1h0.9v0.9h-0.9zM339.8 317.6h1.2v1.2h-1.2zM340.8 313.8h1.0v1.0h-1.0zM332.2 319.0h1.2v1.2h-1.2zM350.4 326.6h1.2v1.2h-1.2zM345.3 323.3h1.1v1.1h-1.1zM337.2 323.2h1.1v1.1h-1.1zM332.9 320.7h1.0v1.0h-1.0zM344.3 325.8h0.9v0.9h-0.9zM323.7 311.6h1.0v1.0h-1.0zM363.3 318.0h1.1v1.1h-1.1zM337.7 317.2h1.1v1.1h-1.1zM356.1 319.0h1.2v1.2h-1.2zM340.9 322.8h0.8v0.8h-0.8zM349.5 321.5h1.1v1.1h-1.1zM351.7 322.1h1.1v1.1h-1.1zM345.5 315.9h0.7v0.7h-0.7zM333.2 318.3h1.1v1.1h-1.1zM339.3 315.3h0.9v0.9h-0.9zM320.8 320.6h0.8v0.8h-0.8zM364.7 318.2h0.9v0.9h-0.9zM334.4 318.7h1.0v1.0h-1.0zM334.4 322.7h0.7v0.7h-0.7zM343.8 317.0h1.0v1.0h-1.0zM332.8 321.2h1.0v1.0h-1.0z" fill="#a0a0f0" opacity="0.4"/>
<path d="M324.0 321.8h1.0v1.0h-1.0zM313.3 323.7h0.8v0.8h-0.8zM343.4 314.1h0.9v0.9h-0.9zM342.4 321.8h0.8v0.8h-0.8zM320.3 320.7h1.2v1.2h-1.2zM345.8 318.0h1.1v1.1h-1.1zM342.4 325.0h1.0v1.0h-1.0zM325.2 319.6h0.9v0.9h-0.9zM323.7 328.6h1.1v1.1h-1.1zM342.2 319.3h1.0v1.0h-1.0zM348.6 324.4h0.8v0.8h-0.8zM312.9 323.1h0.9v0.9h-0.9zM344.2 309.6h1.1v1.1h-1.1zM347.1 319.4h0.8v0.8h-0.8zM346.3 316.1h1.2v1.2h-1.2z" fill="#c0b0f0" opacity="0.6"/>
<path d="M346.9 316.6h1.1v1.1h-1.1zM323.7 318.7h1.0v1.0h-1.0zM350.7 321.0h1.1v1.1h-1.1zM355.7 317.8h0.8v0.8h-0.8zM334.5 318.4h0.8v0.8h-0.8zM344.0 319.8h1.0v1.0h-1.0zM359.0 316.8h0.8v0.8h-0.8zM323.5 322.9h0.8v0.8h-0.8z" fill="#5a50c0" opacity="0.2"/>
<path d="M363.3 321.9h1.0v1.0h-1.0zM325.5 324.0h1.0v1.0h-1.0zM347.9 314.6h0.9v0.9h-0.9zM344.1 324.0h1.1v1.1h-1.1z" fill="#7070d0" opacity="0.2"/>
<path d="M323.7 314.5h1.1v1.1h-1.1zM334.3 315.5h0.9v0.9h-0.9zM318.2 320.9h1.0v1.0h-1.0zM335.0 324.1h1.0v1.0h-1.0zM347.2 320.4h0.8v0.8h-0.8zM335.3 322.5h1.0v1.0h-1.0zM322.5 322.4h1.1v1.1h-1.1zM337.1 320.5h0.9v0.9h-0.9zM348.7 314.1h0.7v0.7h-0.7zM325.0 323.7h1.1v1.1h-1.1zM332.5 316.3h0.9v0.9h-0.9zM333.1 319.4h1.1v1.1h-1.1zM367.2 322.1h1.0v1.0h-1.0zM328.7 318.5h0.9v0.9h-0.9zM344.7 319.0h1.1v1.1h-1.1zM310.0 315.8h1.0v1.0h-1.0zM355.7 320.7h0.8v0.8h-0.8zM334.1 320.3h1.1v1.1h-1.1zM353.4 324.1h1.1v1.1h-1.1zM333.2 314.6h0.8v0.8h-0.8zM322.0 317.2h0.8v0.8h-0.8zM323.4 324.8h1.1v1.1h-1.1zM320.0 318.5h1.1v1.1h-1.1zM327.2 315.0h1.1v1.1h-1.1zM337.8 318.3h1.1v1.1h-1.1zM345.1 317.6h1.1v1.1h-1.1zM339.8 318.1h0.8v0.8h-0.8zM341.2 322.4h1.0v1.0h-1.0zM339.1 321.3h0.7v0.7h-0.7zM354.9 325.1h1.1v1.1h-1.1zM333.1 325.1h0.8v0.8h-0.8zM317.5 320.1h1.1v1.1h-1.1zM327.2 325.1h0.9v0.9h-0.9zM317.2 319.0h1.1v1.1h-1.1zM318.0 314.6h1.1v1.1h-1.1z" fill="#c0b0f0" opacity="0.4"/>
<path d="M336.0 319.0h1.1v1.1h-1.1zM338.6 321.4h1.0v1.0h-1.0zM317.1 316.6h0.9v0.9h-0.9zM331.5 322.1h0.8v0.8h-0.8zM330.4 315.4h0.9v0.9h-0.9zM348.0 321.7h0.7v0.7h-0.7zM335.5 330.3h0.7v0.7h-0.7zM339.7 319.0h1.1v1.1h-1.1zM333.5 321.1h1.0v1.0h-1.0zM331.1 325.0h1.1v1.1h-1.1zM325.9 317.9h0.8v0.8h-0.8zM325.8 316.9h0.9v0.9h-0.9zM348.9 317.0h0.8v0.8h-0.8zM340.2 320.3h0.8v0.8h-0.8zM328.6 328.2h1.0v1.0h-1.0zM340.9 330.8h0.8v0.8h-0.8zM323.9 320.9h0.7v0.7h-0.7zM317.5 315.4h0.8v0.8h-0.8zM321.1 320.6h1.0v1.0h-1.0z" fill="#e0c0e0" opacity="0.6"/>
<path d="M333.9 313.7h1.0v1.0h-1.0zM345.9 313.7h0.7v0.7h-0.7zM327.7 315.0h0.7v0.7h-0.7zM328.9 320.2h1.2v1.2h-1.2zM346.6 323.8h1.0v1.0h-1.0zM338.2 314.4h1.1v1.1h-1.1zM343.3 323.5h0.8v0.8h-0.8zM325.8 316.1h0.7v0.7h-0.7zM323.5 324.4h1.2v1.2h-1.2zM335.6 319.3h1.2v1.2h-1.2z" fill="#a0a0f0" opacity="0.2"/>
<path d="M349.5 326.1h0.9v0.9h-0.9zM328.5 317.0h1.1v1.1h-1.1zM327.9 334.4h0.9v0.9h-0.9zM339.2 319.2h0.8v0.8h-0.8zM362.8 322.0h1.2v1.2h-1.2zM340.4 316.7h0.9v0.9h-0.9zM335.1 315.9h0.8v0.8h-0.8z" fill="#c0b0f0" opacity="0.2"/>
<path d="M320.0 315.4h0.7v0.7h-0.7zM329.2 316.0h0.8v0.8h-0.8zM335.5 312.9h0.9v0.9h-0.9zM340.0 317.2h1.1v1.1h-1.1zM338.5 320.2h1.2v1.2h-1.2zM321.5 321.7h0.7v0.7h-0.7zM366.6 325.8h1.2v1.2h-1.2zM330.5 315.9h0.8v0.8h-0.8zM337.9 323.1h0.9v0.9h-0.9zM343.9 318.8h1.2v1.2h-1.2zM314.9 314.9h1.0v1.0h-1.0zM335.5 326.8h0.9v0.9h-0.9zM312.5 318.3h0.9v0.9h-0.9zM329.2 313.4h0.9v0.9h-0.9zM341.8 317.1h0.9v0.9h-0.9zM337.5 317.6h0.8v0.8h-0.8z" fill="#a0a0f0" opacity="0.6"/>
<path d="M351.9 321.9h1.0v1.0h-1.0zM335.6 319.9h1.1v1.1h-1.1zM334.9 320.6h0.7v0.7h-0.7zM333.8 316.5h0.9v0.9h-0.9zM343.3 323.3h1.0v1.0h-1.0zM352.4 321.8h1.0v1.0h-1.0zM359.5 324.6h0.8v0.8h-0.8zM303.8 316.2h1.2v1.2h-1.2zM345.7 325.5h0.9v0.9h-0.9zM340.5 320.8h0.7v0.7h-0.7zM331.8 317.3h1.1v1.1h-1.1zM328.7 316.8h1.1v1.1h-1.1z" fill="#e0c0e0" opacity="0.2"/>
<path d="M324.7 318.7h1.0v1.0h-1.0zM336.2 322.1h1.1v1.1h-1.1zM315.7 314.7h0.7v0.7h-0.7zM335.9 319.7h0.9v0.9h-0.9zM333.1 319.4h1.2v1.2h-1.2zM332.0 313.0h1.1v1.1h-1.1zM337.0 319.4h0.9v0.9h-0.9zM335.1 325.3h0.9v0.9h-0.9z" fill="#7070d0" opacity="0.6"/>
<path d="M341.0 297.1h0.6v0.6h-0.6zM316.2 316.1h0.7v0.7h-0.7zM329.9 303.6h1.0v1.0h-1.0zM334.1 316.8h0.8v0.8h-0.8zM309.6 314.0h0.7v0.7h-0.7zM365.5 307.8h0.7v0.7h-0.7zM322.6 304.1h0.9v0.9h-0.9zM325.5 316.6h0.8v0.8h-0.8zM311.3 306.7h1.0v1.0h-1.0zM346.3 316.6h1.0v1.0h-1.0zM364.3 303.4h0.6v0.6h-0.6z" fill="#6a60c8" opacity="0.4"/>
<path d="M363.4 300.0h0.6v0.6h-0.6zM319.4 304.1h0.7v0.7h-0.7zM334.0 301.1h1.0v1.0h-1.0zM322.1 302.5h0.9v0.9h-0.9zM315.4 301.9h1.0v1.0h-1.0zM363.2 300.3h1.0v1.0h-1.0zM312.0 307.8h0.9v0.9h-0.9zM309.8 315.9h1.0v1.0h-1.0zM360.9 291.3h0.7v0.7h-0.7zM309.5 315.8h0.9v0.9h-0.9zM354.9 315.1h0.7v0.7h-0.7zM367.4 299.0h0.6v0.6h-0.6zM355.3 316.2h0.9v0.9h-0.9zM310.1 303.6h0.8v0.8h-0.8zM338.2 317.7h0.9v0.9h-0.9z" fill="#3a2a9a" opacity="0.6"/>
<path d="M353.4 290.3h0.9v0.9h-0.9zM323.8 316.2h0.7v0.7h-0.7zM365.1 306.3h0.7v0.7h-0.7zM325.7 303.3h0.7v0.7h-0.7zM357.8 290.2h0.8v0.8h-0.8zM336.8 316.7h0.7v0.7h-0.7zM316.6 318.1h1.0v1.0h-1.0zM334.3 303.0h0.8v0.8h-0.8zM364.0 299.8h0.8v0.8h-0.8zM357.3 288.6h0.9v0.9h-0.9z" fill="#2a1a8a" opacity="0.6"/>
<path d="M338.4 316.6h0.6v0.6h-0.6zM361.1 314.0h0.9v0.9h-0.9zM343.1 317.2h0.8v0.8h-0.8zM337.8 317.2h0.9v0.9h-0.9zM310.3 319.1h0.9v0.9h-0.9zM324.0 303.1h0.8v0.8h-0.8zM348.4 315.9h0.8v0.8h-0.8zM316.9 302.3h0.8v0.8h-0.8zM355.2 290.6h0.9v0.9h-0.9zM317.8 303.8h0.7v0.7h-0.7zM357.8 289.4h1.0v1.0h-1.0zM343.6 316.5h0.6v0.6h-0.6zM352.2 316.7h0.8v0.8h-0.8zM313.1 315.9h0.9v0.9h-0.9zM348.0 315.3h0.9v0.9h-0.9zM317.1 303.7h0.6v0.6h-0.6zM351.7 290.3h1.0v1.0h-1.0zM359.7 291.1h0.8v0.8h-0.8zM341.0 317.0h0.7v0.7h-0.7zM310.4 315.2h0.8v0.8h-0.8zM330.9 316.6h0.7v0.7h-0.7zM342.5 295.4h0.6v0.6h-0.6zM310.1 303.7h0.7v0.7h-0.7zM349.4 293.2h0.7v0.7h-0.7z" fill="#5040b0" opacity="0.6"/>
<path d="M338.5 299.2h1.0v1.0h-1.0zM329.7 301.9h0.9v0.9h-0.9zM350.9 288.1h0.8v0.8h-0.8zM313.9 304.1h0.7v0.7h-0.7zM322.4 303.6h0.7v0.7h-0.7zM356.2 289.0h0.7v0.7h-0.7zM332.1 302.4h0.8v0.8h-0.8zM360.7 291.4h0.7v0.7h-0.7zM358.2 314.0h0.8v0.8h-0.8zM364.9 305.7h0.7v0.7h-0.7zM349.2 316.0h0.9v0.9h-0.9zM341.8 318.1h0.7v0.7h-0.7zM311.3 306.0h0.7v0.7h-0.7zM365.0 294.9h0.7v0.7h-0.7zM343.4 295.7h0.9v0.9h-0.9zM341.4 296.6h0.9v0.9h-0.9zM324.3 317.0h0.8v0.8h-0.8zM360.7 290.9h0.7v0.7h-0.7zM337.0 316.4h0.8v0.8h-0.8zM316.4 316.6h0.6v0.6h-0.6zM359.1 289.2h0.9v0.9h-0.9zM354.3 291.2h0.7v0.7h-0.7z" fill="#8078d8" opacity="0.6"/>
<path d="M315.4 304.8h1.0v1.0h-1.0zM361.2 291.3h0.8v0.8h-0.8zM323.1 300.8h0.6v0.6h-0.6zM346.7 293.9h0.7v0.7h-0.7zM312.6 306.3h0.8v0.8h-0.8zM342.4 295.5h0.7v0.7h-0.7zM357.0 287.5h0.8v0.8h-0.8zM334.0 318.4h0.6v0.6h-0.6zM357.8 290.7h0.6v0.6h-0.6zM341.6 315.2h1.0v1.0h-1.0zM361.9 289.3h0.9v0.9h-0.9zM314.1 304.8h0.7v0.7h-0.7z" fill="#8078d8" opacity="0.4"/>
<path d="M312.0 306.2h0.9v0.9h-0.9zM319.4 304.0h0.7v0.7h-0.7zM312.9 306.6h0.7v0.7h-0.7zM324.0 316.7h0.6v0.6h-0.6zM325.8 316.1h0.7v0.7h-0.7zM338.2 300.2h1.0v1.0h-1.0zM362.3 311.7h0.8v0.8h-0.8zM357.9 315.8h0.7v0.7h-0.7zM324.0 300.7h0.7v0.7h-0.7zM364.4 296.6h0.9v0.9h-0.9zM340.3 296.9h0.9v0.9h-0.9zM315.5 316.5h0.8v0.8h-0.8zM334.9 302.7h0.9v0.9h-0.9zM325.3 316.6h0.9v0.9h-0.9zM358.3 289.5h0.9v0.9h-0.9zM365.4 303.6h0.9v0.9h-0.9zM363.8 295.3h1.0v1.0h-1.0zM327.2 303.8h0.9v0.9h-0.9zM340.1 315.7h0.7v0.7h-0.7zM341.6 316.4h0.9v0.9h-0.9zM336.7 299.7h0.9v0.9h-0.9z" fill="#6a60c8" opacity="0.6"/>
<path d="M364.0 297.5h0.9v0.9h-0.9zM310.1 304.6h0.7v0.7h-0.7zM333.5 300.1h0.9v0.9h-0.9zM311.7 314.9h0.9v0.9h-0.9zM314.7 304.9h0.9v0.9h-0.9zM347.3 293.4h0.7v0.7h-0.7zM308.6 300.7h1.0v1.0h-1.0zM316.1 317.7h0.8v0.8h-0.8zM365.5 292.0h0.9v0.9h-0.9zM308.9 318.8h0.7v0.7h-0.7z" fill="#8078d8" opacity="0.8"/>
<path d="M336.8 316.1h0.9v0.9h-0.9zM321.5 317.5h0.6v0.6h-0.6zM315.9 315.5h0.9v0.9h-0.9zM310.1 317.8h0.9v0.9h-0.9zM342.8 297.2h0.8v0.8h-0.8zM336.8 316.0h0.8v0.8h-0.8zM339.2 316.5h0.8v0.8h-0.8zM345.0 316.0h0.7v0.7h-0.7zM330.7 303.0h0.9v0.9h-0.9zM319.3 302.6h0.9v0.9h-0.9zM339.6 315.9h0.7v0.7h-0.7z" fill="#2a1a8a" opacity="0.8"/>
<path d="M356.9 313.9h0.8v0.8h-0.8zM318.6 304.2h0.9v0.9h-0.9zM322.6 301.8h0.9v0.9h-0.9zM335.8 301.7h0.9v0.9h-0.9zM337.0 299.9h0.7v0.7h-0.7zM336.3 300.1h0.8v0.8h-0.8zM320.2 304.2h0.8v0.8h-0.8zM325.6 316.2h0.7v0.7h-0.7zM310.1 317.9h0.7v0.7h-0.7zM342.4 296.8h1.0v1.0h-1.0zM365.1 309.1h0.7v0.7h-0.7zM314.1 315.5h0.9v0.9h-0.9zM311.2 305.6h0.7v0.7h-0.7zM360.7 288.9h0.9v0.9h-0.9zM317.4 303.8h0.7v0.7h-0.7zM361.5 290.2h0.8v0.8h-0.8z" fill="#3a2a9a" opacity="0.4"/>
<path d="M323.3 316.7h0.8v0.8h-0.8zM359.0 314.1h0.7v0.7h-0.7zM349.0 291.9h0.8v0.8h-0.8zM341.3 317.6h0.9v0.9h-0.9zM326.8 300.6h0.7v0.7h-0.7zM330.9 302.0h0.8v0.8h-0.8zM365.0 300.7h0.8v0.8h-0.8zM316.0 317.9h0.8v0.8h-0.8zM350.5 319.5h1.0v1.0h-1.0zM322.8 317.6h0.8v0.8h-0.8zM329.9 302.8h0.8v0.8h-0.8zM337.8 298.7h0.8v0.8h-0.8zM364.0 311.8h0.6v0.6h-0.6zM336.6 298.0h0.6v0.6h-0.6zM364.1 312.1h0.8v0.8h-0.8zM337.6 298.9h0.9v0.9h-0.9zM365.6 300.6h0.7v0.7h-0.7z" fill="#5040b0" opacity="0.4"/>
<path d="M365.8 301.1h0.8v0.8h-0.8zM363.2 312.4h0.8v0.8h-0.8zM349.8 292.7h0.6v0.6h-0.6zM350.5 290.9h0.8v0.8h-0.8zM340.4 296.3h1.0v1.0h-1.0zM352.6 290.8h0.7v0.7h-0.7zM345.5 315.5h0.7v0.7h-0.7zM338.7 300.1h0.8v0.8h-0.8zM328.7 302.0h0.6v0.6h-0.6zM361.6 312.4h0.7v0.7h-0.7zM317.0 316.6h0.8v0.8h-0.8zM367.1 306.5h0.8v0.8h-0.8zM317.7 316.1h0.9v0.9h-0.9z" fill="#6a60c8" opacity="0.8"/>
<path d="M363.3 301.4h0.7v0.7h-0.7zM330.1 301.0h1.0v1.0h-1.0zM336.6 300.2h0.9v0.9h-0.9zM360.9 312.3h0.8v0.8h-0.8zM346.9 294.2h0.7v0.7h-0.7zM328.2 301.7h0.7v0.7h-0.7zM324.8 303.7h0.9v0.9h-0.9zM346.7 315.3h0.7v0.7h-0.7zM329.3 317.6h0.9v0.9h-0.9zM350.6 316.1h0.9v0.9h-0.9zM334.9 302.1h0.6v0.6h-0.6zM343.3 296.2h0.6v0.6h-0.6zM350.7 291.6h0.6v0.6h-0.6zM313.7 316.7h0.9v0.9h-0.9zM352.5 315.1h0.7v0.7h-0.7z" fill="#2a1a8a" opacity="0.4"/>
<path d="M326.5 318.1h1.0v1.0h-1.0zM363.9 294.6h0.7v0.7h-0.7zM353.7 315.0h0.7v0.7h-0.7zM363.8 294.8h0.8v0.8h-0.8zM310.4 307.1h0.9v0.9h-0.9zM347.8 316.1h0.9v0.9h-0.9zM350.5 315.6h0.9v0.9h-0.9zM364.6 298.2h0.9v0.9h-0.9zM321.1 299.1h0.8v0.8h-0.8zM327.3 303.9h0.7v0.7h-0.7zM344.8 295.5h0.6v0.6h-0.6zM313.1 313.9h0.8v0.8h-0.8zM313.7 304.9h1.0v1.0h-1.0zM320.1 318.3h0.7v0.7h-0.7zM357.9 314.8h0.7v0.7h-0.7zM339.1 299.4h0.7v0.7h-0.7zM309.8 301.8h0.9v0.9h-0.9zM309.9 305.1h0.7v0.7h-0.7zM355.5 315.3h0.8v0.8h-0.8zM366.3 302.8h0.8v0.8h-0.8z" fill="#5040b0" opacity="0.8"/>
<path d="M363.1 309.2h1.0v1.0h-1.0zM310.3 304.9h0.8v0.8h-0.8zM361.8 288.9h0.8v0.8h-0.8zM322.8 303.7h0.8v0.8h-0.8zM308.2 312.8h1.0v1.0h-1.0zM317.4 305.4h0.6v0.6h-0.6zM358.0 290.6h0.9v0.9h-0.9zM346.5 294.4h0.9v0.9h-0.9z" fill="#3a2a9a" opacity="0.8"/>
<g filter="url(#jet)">
<rect x="303.6" y="266.8" width="70.4" height="72.4" fill="#000"/>
<polygon points="304.6,302.8 310.6,303.3 314.1,306.8 315,306.5 325,305.2 335,304 341,299.7 348,294.8 356,291.3 362,292.3 364,296.8 363.1,301.3 364.4,305.3 363.1,310.3 359.6,313.3 353.6,314.8 342.6,315.4 332.6,315.8 322.6,316.2 316.6,315.6 314.1,314.3 310.6,317.3 304.6,317.8" fill="rgb(51,51,51)" stroke="rgb(51,51,51)" stroke-width="1" stroke-linejoin="round"/>
<g clip-path="url(#cc3e)">
<ellipse cx="307.8" cy="310.2" rx="6.75" ry="7.39" fill="rgb(76,76,76)" transform="rotate(0 307.8 310.2)"/>
<ellipse cx="328.2" cy="310.2" rx="15.7" ry="7.07" fill="rgb(76,76,76)" transform="rotate(-2 328.2 310.2)"/>
<ellipse cx="341.1" cy="308.8" rx="10.7" ry="4.28" fill="rgb(76,76,76)" transform="rotate(-6 341.1 308.8)"/>
<ellipse cx="354" cy="307.7" rx="18.15" ry="8.23" fill="rgb(76,76,76)" transform="rotate(-6 354 307.7)"/>
<ellipse cx="354.6" cy="297.8" rx="5.75" ry="3.7" fill="rgb(76,76,76)" transform="rotate(-25 354.6 297.8)"/>
<ellipse cx="307.8" cy="310.2" rx="5.73" ry="6.27" fill="rgb(107,107,107)" transform="rotate(0 307.8 310.2)"/>
<ellipse cx="328.2" cy="310.2" rx="12.92" ry="5.81" fill="rgb(107,107,107)" transform="rotate(-2 328.2 310.2)"/>
<ellipse cx="341.1" cy="308.8" rx="6.67" ry="2.67" fill="rgb(107,107,107)" transform="rotate(-6 341.1 308.8)"/>
<ellipse cx="354" cy="307.7" rx="15.41" ry="6.99" fill="rgb(107,107,107)" transform="rotate(-6 354 307.7)"/>
<ellipse cx="307.8" cy="310.2" rx="4.76" ry="5.2" fill="rgb(140,140,140)" transform="rotate(0 307.8 310.2)"/>
<ellipse cx="328.2" cy="310.2" rx="10.15" ry="4.57" fill="rgb(140,140,140)" transform="rotate(-2 328.2 310.2)"/>
<ellipse cx="354" cy="307.7" rx="12.79" ry="5.8" fill="rgb(140,140,140)" transform="rotate(-6 354 307.7)"/>
<ellipse cx="307.8" cy="310.2" rx="3.82" ry="4.18" fill="rgb(173,173,173)" transform="rotate(0 307.8 310.2)"/>
<ellipse cx="328.2" cy="310.2" rx="7.27" ry="3.27" fill="rgb(173,173,173)" transform="rotate(-2 328.2 310.2)"/>
<ellipse cx="354" cy="307.7" rx="10.27" ry="4.66" fill="rgb(173,173,173)" transform="rotate(-6 354 307.7)"/>
<ellipse cx="307.8" cy="310.2" rx="2.91" ry="3.18" fill="rgb(204,204,204)" transform="rotate(0 307.8 310.2)"/>
<ellipse cx="328.2" cy="310.2" rx="3.79" ry="1.7" fill="rgb(204,204,204)" transform="rotate(-2 328.2 310.2)"/>
<ellipse cx="354" cy="307.7" rx="7.81" ry="3.54" fill="rgb(204,204,204)" transform="rotate(-6 354 307.7)"/>
<ellipse cx="307.8" cy="310.2" rx="1.78" ry="1.94" fill="rgb(235,235,235)" transform="rotate(0 307.8 310.2)"/>
<ellipse cx="354" cy="307.7" rx="4.78" ry="2.17" fill="rgb(235,235,235)" transform="rotate(-6 354 307.7)"/>
<ellipse cx="307.8" cy="310.2" rx="1.31" ry="1.43" fill="rgb(255,255,255)" transform="rotate(0 307.8 310.2)"/>
<ellipse cx="328.2" cy="310.2" rx="3.26" ry="1.47" fill="rgb(217,217,217)" transform="rotate(-2 328.2 310.2)"/>
<ellipse cx="341.1" cy="308.8" rx="3.06" ry="1.22" fill="rgb(133,133,133)" transform="rotate(-6 341.1 308.8)"/>
<ellipse cx="354" cy="307.7" rx="3.51" ry="1.59" fill="rgb(255,255,255)" transform="rotate(-6 354 307.7)"/>
</g>
</g>
</g>
<line x1="414.8" y1="287.6" x2="414.8" y2="354.8" stroke="#222" stroke-width="1.2"/>
<line x1="414.2" y1="354.2" x2="513.2" y2="354.2" stroke="#222" stroke-width="1.2"/>
<line x1="412.2" y1="354.2" x2="414.8" y2="354.2" stroke="#222" stroke-width="1"/>
<text x="410.8" y="356.7" font-size="7" text-anchor="end" fill="#444">0</text>
<line x1="412.2" y1="341.1" x2="414.8" y2="341.1" stroke="#222" stroke-width="1"/>
<text x="410.8" y="343.6" font-size="7" text-anchor="end" fill="#444">2</text>
<line x1="412.2" y1="328" x2="414.8" y2="328" stroke="#222" stroke-width="1"/>
<text x="410.8" y="330.5" font-size="7" text-anchor="end" fill="#444">4</text>
<line x1="412.2" y1="314.9" x2="414.8" y2="314.9" stroke="#222" stroke-width="1"/>
<text x="410.8" y="317.4" font-size="7" text-anchor="end" fill="#444">6</text>
<line x1="412.2" y1="301.8" x2="414.8" y2="301.8" stroke="#222" stroke-width="1"/>
<text x="410.8" y="304.3" font-size="7" text-anchor="end" fill="#444">8</text>
<line x1="412.2" y1="288.7" x2="414.8" y2="288.7" stroke="#222" stroke-width="1"/>
<text x="410.8" y="291.2" font-size="7" text-anchor="end" fill="#444">10</text>
<rect x="422.9" y="322.11" width="14.2" height="32.09" fill="#c8c8cc" stroke="none" stroke-width="1"/>
<line x1="430" y1="321.71" x2="430" y2="322.5" stroke="#222" stroke-width="0.9"/>
<line x1="427.8" y1="321.71" x2="432.2" y2="321.71" stroke="#222" stroke-width="0.9"/>
<line x1="427.8" y1="322.5" x2="432.2" y2="322.5" stroke="#222" stroke-width="0.9"/>
<line x1="430" y1="354.2" x2="430" y2="356.8" stroke="#222" stroke-width="1"/>
<rect x="445.2" y="326.36" width="14.2" height="27.84" fill="#c8c8cc" stroke="none" stroke-width="1"/>
<line x1="452.3" y1="324.4" x2="452.3" y2="328.33" stroke="#222" stroke-width="0.9"/>
<line x1="450.1" y1="324.4" x2="454.5" y2="324.4" stroke="#222" stroke-width="0.9"/>
<line x1="450.1" y1="328.33" x2="454.5" y2="328.33" stroke="#222" stroke-width="0.9"/>
<line x1="452.3" y1="354.2" x2="452.3" y2="356.8" stroke="#222" stroke-width="1"/>
<rect x="467.8" y="295.25" width="14.2" height="58.95" fill="#c50a2c" stroke="none" stroke-width="1"/>
<line x1="474.9" y1="290.99" x2="474.9" y2="299.51" stroke="#222" stroke-width="0.9"/>
<line x1="472.7" y1="290.99" x2="477.1" y2="290.99" stroke="#222" stroke-width="0.9"/>
<line x1="472.7" y1="299.51" x2="477.1" y2="299.51" stroke="#222" stroke-width="0.9"/>
<line x1="474.9" y1="354.2" x2="474.9" y2="356.8" stroke="#222" stroke-width="1"/>
<rect x="489.9" y="300.16" width="14.2" height="54.04" fill="#c50a2c" stroke="none" stroke-width="1"/>
<line x1="497" y1="298.2" x2="497" y2="302.13" stroke="#222" stroke-width="0.9"/>
<line x1="494.8" y1="298.2" x2="499.2" y2="298.2" stroke="#222" stroke-width="0.9"/>
<line x1="494.8" y1="302.13" x2="499.2" y2="302.13" stroke="#222" stroke-width="0.9"/>
<line x1="497" y1="354.2" x2="497" y2="356.8" stroke="#222" stroke-width="1"/>
<line x1="427.5" y1="257.2" x2="498.8" y2="257.2" stroke="#383838" stroke-width="1.2"/>
<text x="463" y="254.3" font-size="6.6" text-anchor="middle" fill="#333"><tspan font-style="italic">P</tspan> &lt; .0001</text>
<line x1="427.5" y1="266.5" x2="476.3" y2="266.5" stroke="#383838" stroke-width="1.2"/>
<text x="452" y="263.7" font-size="6.6" text-anchor="middle" fill="#333"><tspan font-style="italic">P</tspan> &lt; .0001</text>
<line x1="453.5" y1="276" x2="503.4" y2="276" stroke="#383838" stroke-width="1.2"/>
<text x="478.4" y="273.1" font-size="6.6" text-anchor="middle" fill="#333"><tspan font-style="italic">P</tspan> &lt; .0001</text>
<line x1="453.5" y1="285.2" x2="476.3" y2="285.2" stroke="#383838" stroke-width="1.2"/>
<text x="465.4" y="282.4" font-size="6.6" text-anchor="middle" fill="#333"><tspan font-style="italic">P</tspan> &lt; .0001</text>
<text x="397.5" y="320.2" font-size="8" text-anchor="middle" fill="#333" transform="rotate(-90 397.5 320.2)" textLength="59" lengthAdjust="spacingAndGlyphs">CD25<tspan font-size="5" dy="-3">+</tspan><tspan dy="3"> FOXP3+ (%)</tspan></text>
<text x="430.4" y="365.8" font-size="6.2" text-anchor="middle" fill="#333" textLength="6" lengthAdjust="spacingAndGlyphs">#1</text>
<text x="452.5" y="365.8" font-size="6.2" text-anchor="middle" fill="#333" textLength="6" lengthAdjust="spacingAndGlyphs">#2</text>
<text x="475" y="365.8" font-size="6.2" text-anchor="middle" fill="#333" textLength="6" lengthAdjust="spacingAndGlyphs">#1</text>
<text x="497.2" y="365.8" font-size="6.2" text-anchor="middle" fill="#333" textLength="6" lengthAdjust="spacingAndGlyphs">#2</text>
<line x1="419.6" y1="370.2" x2="462.8" y2="370.2" stroke="#222" stroke-width="1.2"/>
<line x1="470.4" y1="370.2" x2="512.5" y2="370.2" stroke="#222" stroke-width="1.2"/>
<text x="441.2" y="381" font-size="9.4" text-anchor="middle" fill="#333" textLength="9.8" lengthAdjust="spacingAndGlyphs" stroke="#333" stroke-width="0.12">HD</text>
<text x="491.3" y="381" font-size="9.4" text-anchor="middle" fill="#333" textLength="12.6" lengthAdjust="spacingAndGlyphs" stroke="#333" stroke-width="0.12">WM</text>
<text x="7" y="404.7" font-size="12" text-anchor="start" fill="#111" font-weight="bold">D</text>
<line x1="32.2" y1="497" x2="32.2" y2="420" stroke="#222" stroke-width="1.3"/>
<polygon points="32.2,415 29.6,420.5 34.8,420.5" fill="#222"/>
<line x1="31.55" y1="497" x2="180.1" y2="497" stroke="#222" stroke-width="1.3"/>
<polygon points="185.1,497 179.6,494.4 179.6,499.6" fill="#222"/>
<line x1="216.9" y1="497" x2="216.9" y2="419.4" stroke="#222" stroke-width="1.3"/>
<polygon points="216.9,414.4 214.3,419.9 219.5,419.9" fill="#222"/>
<line x1="216.25" y1="496.8" x2="363.7" y2="496.8" stroke="#222" stroke-width="1.3"/>
<polygon points="368.7,496.8 363.2,494.2 363.2,499.4" fill="#222"/>
<text x="26.8" y="456.7" font-size="8.6" text-anchor="middle" fill="#333" transform="rotate(-90 26.8 456.7)" textLength="35.5" lengthAdjust="spacingAndGlyphs" stroke="#333" stroke-width="0.12">Celll count</text>
<text x="210.8" y="456.7" font-size="8.6" text-anchor="middle" fill="#333" transform="rotate(-90 210.8 456.7)" textLength="35.5" lengthAdjust="spacingAndGlyphs" stroke="#333" stroke-width="0.12">Celll count</text>
<text x="107" y="507.9" font-size="9.7" text-anchor="middle" fill="#333" textLength="14.6" lengthAdjust="spacingAndGlyphs" stroke="#333" stroke-width="0.12">Ki67</text>
<text x="293.5" y="507.9" font-size="9.7" text-anchor="middle" fill="#333" textLength="15.2" lengthAdjust="spacingAndGlyphs" stroke="#333" stroke-width="0.12">Ki67</text>
<polygon points="43.5,475.8 43.5,473.4 43.84,473.58 44.18,474.1 44.53,474.54 44.87,474.85 45.21,475.17 45.55,474.89 45.9,474.84 46.24,474.81 46.58,475.36 46.92,475.18 47.26,475.39 47.61,474.9 47.95,474.65 48.29,474.71 48.63,475.12 48.98,475.15 49.32,475.36 49.66,475.05 50,475.05 50.34,475.27 50.69,475.18 51.03,475.18 51.37,474.6 51.71,474.48 52.06,474.12 52.4,474.4 52.74,473.95 53.08,473.53 53.42,472.71 53.77,471.81 54.11,471.4 54.45,470.3 54.79,469.42 55.14,468.75 55.48,467.79 55.82,467.43 56.16,466.22 56.5,465.83 56.85,465.3 57.19,464.46 57.53,463.89 57.87,463.48 58.22,463.31 58.56,463.29 58.9,462.75 59.24,462.65 59.58,462.87 59.93,462.55 60.27,462.23 60.61,461.64 60.95,460.8 61.3,460.09 61.64,459.5 61.98,458.13 62.32,457.39 62.66,455.48 63.01,454.11 63.35,452.17 63.69,450.6 64.03,448.35 64.38,446.13 64.72,443.69 65.06,441.07 65.4,438.78 65.74,436.43 66.09,433.94 66.43,432.16 66.77,430.32 67.11,428.75 67.46,427.49 67.8,425.99 68.14,425.38 68.48,425.28 68.82,425.37 69.17,426.26 69.51,426.97 69.85,428.28 70.19,429.89 70.54,432.3 70.88,434.16 71.22,436.71 71.56,438.83 71.9,441.89 72.25,444.11 72.59,446.67 72.93,449.45 73.27,451.73 73.62,454.11 73.96,456.34 74.3,457.85 74.64,459.58 74.98,461.22 75.33,462.99 75.67,464.1 76.01,465.09 76.35,465.98 76.7,466.74 77.04,467.41 77.38,468.28 77.72,468.81 78.06,469.5 78.41,469.79 78.75,470.92 79.09,471.01 79.43,471.89 79.78,472.41 80.12,472.43 80.46,473.31 80.8,473.52 81.14,473.68 81.49,474.36 81.83,474.53 82.17,474.69 82.51,474.9 82.86,474.39 83.2,474.68 83.54,474.43 83.88,474.31 84.22,473.59 84.57,473.27 84.91,472.57 85.25,471.9 85.59,471.55 85.94,470.67 86.28,470 86.62,469.49 86.96,469.15 87.3,468.86 87.65,468.83 87.99,468.46 88.33,468.04 88.67,468.4 89.02,468.04 89.36,468.3 89.7,468.08 90.04,468.07 90.38,467.66 90.73,467.33 91.07,467.42 91.41,466.87 91.75,466.7 92.1,465.99 92.44,466 92.78,465.49 93.12,465.61 93.46,465.65 93.81,465.55 94.15,466.07 94.49,466.11 94.83,466.88 95.18,467.1 95.52,467.57 95.86,467.8 96.2,468.37 96.54,469.23 96.89,469.98 97.23,470.76 97.57,471.31 97.91,472.15 98.26,473.11 98.6,473.33 98.94,474.06 99.28,474.82 99.62,475 99.97,474.82 100.31,475.31 100.65,475.55 100.99,475.59 101.34,475.54 101.68,475.69 102.02,475.3 102.36,475.22 102.7,475.49 103.05,475.71 103.39,475.62 103.73,475.67 104.07,475.79 104.42,475.41 104.76,475.27 105.1,475.65 105.1,475.8" fill="#485669"/>
<polyline points="105.1,475.8 43.5,475.8 43.5,413.6 105.1,413.6" fill="none" stroke="#333" stroke-width="1"/>
<line x1="82.6" y1="413.6" x2="82.6" y2="475.8" stroke="#4aaed8" stroke-width="0.95"/>
<line x1="105.1" y1="413.6" x2="105.1" y2="475.8" stroke="#4aaed8" stroke-width="0.95"/>
<line x1="82.6" y1="455.4" x2="105.1" y2="455.4" stroke="#62b4d6" stroke-width="0.75"/>
<circle cx="82.6" cy="455.4" r="0.9" fill="#4aaed8"/><circle cx="105.1" cy="455.4" r="0.9" fill="#4aaed8"/>
<text x="102.1" y="423" font-size="8" text-anchor="end" fill="#333">16%</text>
<text x="73.2" y="408.6" font-size="8.6" text-anchor="middle" fill="#222" textLength="19" lengthAdjust="spacingAndGlyphs" stroke="#222" stroke-width="0.12">HD-1</text>
<line x1="44.7" y1="475.8" x2="44.7" y2="477.3" stroke="#555" stroke-width="0.5"/>
<text x="46.2" y="479.8" font-size="3.8" text-anchor="end" fill="#777" transform="rotate(-60 46.2 479.8)">10<tspan font-size="2.5" dy="-1">3</tspan></text>
<line x1="49.4" y1="475.8" x2="49.4" y2="477.3" stroke="#555" stroke-width="0.5"/>
<text x="50.9" y="479.8" font-size="3.8" text-anchor="end" fill="#777" transform="rotate(-60 50.9 479.8)">10<tspan font-size="2.5" dy="-1">3</tspan></text>
<line x1="54.8" y1="475.8" x2="54.8" y2="477.3" stroke="#555" stroke-width="0.5"/>
<text x="56.3" y="479.8" font-size="3.8" text-anchor="end" fill="#777" transform="rotate(-60 56.3 479.8)">10<tspan font-size="2.5" dy="-1">3</tspan></text>
<line x1="67.6" y1="475.8" x2="67.6" y2="477.3" stroke="#555" stroke-width="0.5"/>
<text x="69.1" y="479.8" font-size="3.8" text-anchor="end" fill="#777" transform="rotate(-60 69.1 479.8)">10<tspan font-size="2.5" dy="-1">3</tspan></text>
<line x1="82.8" y1="475.8" x2="82.8" y2="477.3" stroke="#555" stroke-width="0.5"/>
<text x="84.3" y="479.8" font-size="3.8" text-anchor="end" fill="#777" transform="rotate(-60 84.3 479.8)">10<tspan font-size="2.5" dy="-1">3</tspan></text>
<line x1="98.5" y1="475.8" x2="98.5" y2="477.3" stroke="#555" stroke-width="0.5"/>
<text x="100" y="479.8" font-size="3.8" text-anchor="end" fill="#777" transform="rotate(-60 100 479.8)">10<tspan font-size="2.5" dy="-1">3</tspan></text>
<polygon points="120.5,475.8 120.5,473.19 120.85,473.36 121.21,473.56 121.56,474.49 121.91,475 122.27,474.58 122.62,475.32 122.97,474.66 123.33,474.64 123.68,474.67 124.03,474.73 124.39,475.37 124.74,474.74 125.09,474.69 125.45,474.94 125.8,475.13 126.15,474.98 126.51,474.98 126.86,474.47 127.21,474.68 127.57,474.25 127.92,474.47 128.27,474.58 128.63,474.57 128.98,474.42 129.33,473.45 129.69,473.92 130.04,473.34 130.39,472.82 130.75,472.83 131.1,471.72 131.45,471.87 131.81,471.09 132.16,470.31 132.51,470.65 132.87,470.04 133.22,469.27 133.57,469.08 133.93,468.08 134.28,467.71 134.63,467.19 134.99,466.54 135.34,466.01 135.69,465.79 136.05,465.22 136.4,464.62 136.75,463.68 137.11,463.22 137.46,462.38 137.81,461.22 138.17,460.5 138.52,459.23 138.87,458.47 139.23,457.03 139.58,455.45 139.93,453.98 140.29,452.51 140.64,450.54 140.99,448.32 141.35,446.32 141.7,444.13 142.05,441.77 142.41,439.3 142.76,436.84 143.11,434.58 143.47,432.64 143.82,430.49 144.17,428.9 144.53,427.62 144.88,426.08 145.23,425.81 145.59,425.41 145.94,424.95 146.29,425.76 146.65,426.73 147,427.44 147.35,429.53 147.71,431.24 148.06,433.4 148.41,435.41 148.77,438.06 149.12,440.64 149.47,443.17 149.83,445.75 150.18,447.82 150.53,450.27 150.89,452.62 151.24,455.04 151.59,456.98 151.95,458.59 152.3,460.16 152.65,461.96 153.01,463.16 153.36,464.82 153.71,465.85 154.07,467.01 154.42,467.88 154.77,469.06 155.13,469.86 155.48,470.56 155.83,471.12 156.19,472.18 156.54,472.54 156.89,473.12 157.25,473.42 157.6,474.11 157.95,474.21 158.31,474.32 158.66,474.61 159.01,474.49 159.37,474.57 159.72,474.46 160.07,473.87 160.43,473.94 160.78,473.47 161.13,473.27 161.49,473.29 161.84,472.66 162.19,472.17 162.55,471.78 162.9,471.17 163.25,471.23 163.61,470.33 163.96,469.96 164.31,469.79 164.67,469.7 165.02,469.77 165.37,469.26 165.73,469.49 166.08,469.42 166.43,469.58 166.79,469.79 167.14,469.55 167.49,469.87 167.85,469.91 168.2,469.95 168.55,469.63 168.91,469.38 169.26,469.32 169.61,468.68 169.97,468 170.32,467.19 170.67,466.64 171.03,465.88 171.38,464.76 171.73,464.41 172.09,463.91 172.44,464.27 172.79,464.55 173.15,464.44 173.5,465.66 173.85,466.43 174.21,467.46 174.56,468.41 174.91,469.6 175.27,470.56 175.62,471.67 175.97,472.11 176.33,473.22 176.68,473.79 177.03,473.97 177.39,474.67 177.74,474.8 178.09,474.94 178.45,475.04 178.8,475.38 179.15,475.47 179.51,475.55 179.86,475.3 180.21,475.21 180.57,475.75 180.92,475.34 181.27,475.52 181.63,475.37 181.98,475.63 182.33,475.66 182.69,475.73 183.04,475.31 183.39,475.36 183.75,475.64 184.1,475.38 184.1,475.8" fill="#485669"/>
<polyline points="184.1,475.8 120.5,475.8 120.5,413.6 184.1,413.6" fill="none" stroke="#333" stroke-width="1"/>
<line x1="161.3" y1="413.6" x2="161.3" y2="475.8" stroke="#4aaed8" stroke-width="0.95"/>
<line x1="184.1" y1="413.6" x2="184.1" y2="475.8" stroke="#4aaed8" stroke-width="0.95"/>
<line x1="161.3" y1="456.4" x2="184.1" y2="456.4" stroke="#62b4d6" stroke-width="0.75"/>
<circle cx="161.3" cy="456.4" r="0.9" fill="#4aaed8"/><circle cx="184.1" cy="456.4" r="0.9" fill="#4aaed8"/>
<text x="179.1" y="423" font-size="8" text-anchor="end" fill="#333">22%</text>
<text x="152.2" y="408.6" font-size="8.6" text-anchor="middle" fill="#222" textLength="22" lengthAdjust="spacingAndGlyphs" stroke="#222" stroke-width="0.12">WM-1</text>
<line x1="121.7" y1="475.8" x2="121.7" y2="477.3" stroke="#555" stroke-width="0.5"/>
<text x="123.2" y="479.8" font-size="3.8" text-anchor="end" fill="#777" transform="rotate(-60 123.2 479.8)">10<tspan font-size="2.5" dy="-1">3</tspan></text>
<line x1="126.4" y1="475.8" x2="126.4" y2="477.3" stroke="#555" stroke-width="0.5"/>
<text x="127.9" y="479.8" font-size="3.8" text-anchor="end" fill="#777" transform="rotate(-60 127.9 479.8)">10<tspan font-size="2.5" dy="-1">3</tspan></text>
<line x1="131.8" y1="475.8" x2="131.8" y2="477.3" stroke="#555" stroke-width="0.5"/>
<text x="133.3" y="479.8" font-size="3.8" text-anchor="end" fill="#777" transform="rotate(-60 133.3 479.8)">10<tspan font-size="2.5" dy="-1">3</tspan></text>
<line x1="144.6" y1="475.8" x2="144.6" y2="477.3" stroke="#555" stroke-width="0.5"/>
<text x="146.1" y="479.8" font-size="3.8" text-anchor="end" fill="#777" transform="rotate(-60 146.1 479.8)">10<tspan font-size="2.5" dy="-1">3</tspan></text>
<line x1="159.8" y1="475.8" x2="159.8" y2="477.3" stroke="#555" stroke-width="0.5"/>
<text x="161.3" y="479.8" font-size="3.8" text-anchor="end" fill="#777" transform="rotate(-60 161.3 479.8)">10<tspan font-size="2.5" dy="-1">3</tspan></text>
<line x1="175.5" y1="475.8" x2="175.5" y2="477.3" stroke="#555" stroke-width="0.5"/>
<text x="177" y="479.8" font-size="3.8" text-anchor="end" fill="#777" transform="rotate(-60 177 479.8)">10<tspan font-size="2.5" dy="-1">3</tspan></text>
<polygon points="226.9,475.8 226.9,473.14 227.25,473.13 227.6,473.45 227.95,474.27 228.3,474.39 228.65,474.86 229,474.71 229.35,475.31 229.7,474.7 230.06,475.39 230.41,475.03 230.76,475.07 231.11,475.12 231.46,475.09 231.81,474.95 232.16,475.18 232.51,474.74 232.86,474.69 233.21,474.85 233.56,475 233.91,474.65 234.26,474.56 234.61,474.53 234.96,474.76 235.31,474.07 235.66,474.47 236.01,474.48 236.37,473.96 236.72,473.48 237.07,473.52 237.42,472.99 237.77,472.55 238.12,472.43 238.47,471.42 238.82,471.01 239.17,470.77 239.52,470.46 239.87,469.71 240.22,469.46 240.57,468.66 240.92,468.37 241.27,467.31 241.62,467.03 241.97,466.22 242.32,466.13 242.68,465.67 243.03,465.35 243.38,464.6 243.73,464.08 244.08,463.93 244.43,463.39 244.78,462.91 245.13,462.23 245.48,461.27 245.83,460.97 246.18,459.66 246.53,459.18 246.88,457.93 247.23,456.28 247.58,454.99 247.93,453.25 248.28,451.57 248.63,449.82 248.99,447.75 249.34,445.25 249.69,443.47 250.04,440.87 250.39,438.55 250.74,435.85 251.09,433.97 251.44,431.9 251.79,430.1 252.14,428.17 252.49,426.73 252.84,425.97 253.19,425.62 253.54,424.98 253.89,425.63 254.24,425.71 254.59,426.96 254.94,428.45 255.3,429.69 255.65,431.98 256,433.88 256.35,436.1 256.7,438.85 257.05,441.18 257.4,443.89 257.75,446.31 258.1,448.3 258.45,450.6 258.8,452.95 259.15,455.09 259.5,456.83 259.85,458.92 260.2,460.55 260.55,462.04 260.9,463.63 261.25,464.95 261.61,465.79 261.96,466.93 262.31,467.62 262.66,468.7 263.01,469.05 263.36,469.31 263.71,469.43 264.06,470.14 264.41,470.13 264.76,470.81 265.11,471 265.46,471.72 265.81,472.4 266.16,472.84 266.51,473.41 266.86,473.73 267.21,474.46 267.56,474.94 267.92,475.25 268.27,475.4 268.62,475.4 268.97,475.57 269.32,475.26 269.67,475.41 270.02,475.15 270.37,475.18 270.72,475.32 271.07,475.25 271.42,475.32 271.77,475.41 272.12,475.06 272.47,474.96 272.82,474.61 273.17,474.48 273.52,473.85 273.87,473.38 274.23,473.01 274.58,472.48 274.93,471.55 275.28,471.11 275.63,470.67 275.98,469.66 276.33,469.31 276.68,468.56 277.03,468.15 277.38,468 277.73,467.74 278.08,468 278.43,467.91 278.78,467.86 279.13,467.95 279.48,467.52 279.83,467.87 280.18,468.08 280.54,468.27 280.89,469.13 281.24,469.7 281.59,469.9 281.94,470.82 282.29,471.8 282.64,472.29 282.99,473.33 283.34,473.45 283.69,473.93 284.04,474.64 284.39,474.99 284.74,475.27 285.09,475.44 285.44,475.59 285.79,475.47 286.14,475.33 286.49,475.59 286.85,475.26 287.2,475.24 287.55,475.45 287.9,475.41 288.25,475.44 288.6,475.37 288.95,475.68 289.3,475.34 289.65,475.52 290,475.79 290,475.8" fill="#485669"/>
<polyline points="290,475.8 226.9,475.8 226.9,413.6 290,413.6" fill="none" stroke="#333" stroke-width="1"/>
<line x1="267.5" y1="413.6" x2="267.5" y2="475.8" stroke="#4aaed8" stroke-width="0.95"/>
<line x1="290" y1="413.6" x2="290" y2="475.8" stroke="#4aaed8" stroke-width="0.95"/>
<line x1="267.5" y1="456.1" x2="290" y2="456.1" stroke="#62b4d6" stroke-width="0.75"/>
<circle cx="267.5" cy="456.1" r="0.9" fill="#4aaed8"/><circle cx="290" cy="456.1" r="0.9" fill="#4aaed8"/>
<text x="290.3" y="423" font-size="8" text-anchor="end" fill="#333">15.5%</text>
<text x="258.6" y="408.6" font-size="8.6" text-anchor="middle" fill="#222" textLength="19.3" lengthAdjust="spacingAndGlyphs" stroke="#222" stroke-width="0.12">HD-2</text>
<line x1="228.1" y1="475.8" x2="228.1" y2="477.3" stroke="#555" stroke-width="0.5"/>
<text x="229.6" y="479.8" font-size="3.8" text-anchor="end" fill="#777" transform="rotate(-60 229.6 479.8)">10<tspan font-size="2.5" dy="-1">3</tspan></text>
<line x1="232.8" y1="475.8" x2="232.8" y2="477.3" stroke="#555" stroke-width="0.5"/>
<text x="234.3" y="479.8" font-size="3.8" text-anchor="end" fill="#777" transform="rotate(-60 234.3 479.8)">10<tspan font-size="2.5" dy="-1">3</tspan></text>
<line x1="238.2" y1="475.8" x2="238.2" y2="477.3" stroke="#555" stroke-width="0.5"/>
<text x="239.7" y="479.8" font-size="3.8" text-anchor="end" fill="#777" transform="rotate(-60 239.7 479.8)">10<tspan font-size="2.5" dy="-1">3</tspan></text>
<line x1="251" y1="475.8" x2="251" y2="477.3" stroke="#555" stroke-width="0.5"/>
<text x="252.5" y="479.8" font-size="3.8" text-anchor="end" fill="#777" transform="rotate(-60 252.5 479.8)">10<tspan font-size="2.5" dy="-1">3</tspan></text>
<line x1="266.2" y1="475.8" x2="266.2" y2="477.3" stroke="#555" stroke-width="0.5"/>
<text x="267.7" y="479.8" font-size="3.8" text-anchor="end" fill="#777" transform="rotate(-60 267.7 479.8)">10<tspan font-size="2.5" dy="-1">3</tspan></text>
<line x1="281.9" y1="475.8" x2="281.9" y2="477.3" stroke="#555" stroke-width="0.5"/>
<text x="283.4" y="479.8" font-size="3.8" text-anchor="end" fill="#777" transform="rotate(-60 283.4 479.8)">10<tspan font-size="2.5" dy="-1">3</tspan></text>
<polygon points="306.4,475.8 306.4,472.97 306.74,473.39 307.08,473.67 307.42,474.62 307.76,474.72 308.1,475.03 308.44,475.08 308.78,475.25 309.12,475.3 309.45,474.94 309.79,474.55 310.13,475.07 310.47,474.72 310.81,474.46 311.15,474.43 311.49,474.88 311.83,474.77 312.17,474.32 312.51,474.04 312.85,474.21 313.19,473.8 313.53,473.83 313.87,473.14 314.21,472.65 314.55,472.78 314.89,472.07 315.23,471.66 315.56,471.5 315.9,470.8 316.24,470 316.58,470.07 316.92,469.44 317.26,468.8 317.6,468.23 317.94,467.63 318.28,467.28 318.62,467.16 318.96,466.41 319.3,466.29 319.64,465.73 319.98,464.88 320.32,464.68 320.66,463.62 321,463.17 321.34,462.73 321.67,461.86 322.01,461.11 322.35,460.23 322.69,459 323.03,457.72 323.37,456.71 323.71,455.21 324.05,453.38 324.39,451.56 324.73,450.11 325.07,448.08 325.41,446.16 325.75,443.85 326.09,441.51 326.43,439.28 326.77,437 327.11,434.48 327.45,432.79 327.78,430.92 328.12,429.28 328.46,427.44 328.8,426.67 329.14,425.76 329.48,424.92 329.82,424.9 330.16,425.42 330.5,425.9 330.84,426.86 331.18,428.14 331.52,429.39 331.86,431.04 332.2,433.25 332.54,435.04 332.88,437.82 333.22,439.89 333.56,442.11 333.89,444.7 334.23,446.82 334.57,448.86 334.91,451.07 335.25,452.89 335.59,454.87 335.93,456.52 336.27,458.37 336.61,459.5 336.95,461.03 337.29,462.41 337.63,463.71 337.97,464.93 338.31,465.67 338.65,466.71 338.99,467.56 339.33,468.54 339.67,469.07 340,469.99 340.34,470.83 340.68,471.4 341.02,472.07 341.36,472.61 341.7,472.87 342.04,473.28 342.38,473.62 342.72,473.56 343.06,473.84 343.4,473.93 343.74,473.64 344.08,473.78 344.42,472.98 344.76,472.74 345.1,472.12 345.44,471.1 345.78,469.87 346.11,468.83 346.45,467.49 346.79,466.15 347.13,464.3 347.47,462.28 347.81,460.01 348.15,458.39 348.49,456.44 348.83,454.43 349.17,452.08 349.51,450.74 349.85,449.63 350.19,448.64 350.53,447.94 350.87,447.62 351.21,447.62 351.55,448.28 351.89,449.35 352.22,450.18 352.56,452.14 352.9,454.01 353.24,455.93 353.58,457.67 353.92,459.71 354.26,461.88 354.6,464.02 354.94,465.52 355.28,467.41 355.62,468.46 355.96,469.82 356.3,471.08 356.64,471.84 356.98,472.97 357.32,473.34 357.66,474.25 358,474.29 358.33,474.55 358.67,475.02 359.01,475.2 359.35,475 359.69,475.43 360.03,475.51 360.37,475.23 360.71,475.2 361.05,475.67 361.39,475.49 361.73,475.42 362.07,475.61 362.41,475.53 362.75,475.59 363.09,475.77 363.43,475.2 363.77,475.74 364.11,475.26 364.44,475.42 364.78,475.59 365.12,475.48 365.46,475.36 365.8,475.6 366.14,475.6 366.48,475.8 366.82,475.73 367.16,475.55 367.5,475.6 367.5,475.8" fill="#485669"/>
<polyline points="367.5,475.8 306.4,475.8 306.4,413.6 367.5,413.6" fill="none" stroke="#333" stroke-width="1"/>
<line x1="345" y1="413.6" x2="345" y2="475.8" stroke="#4aaed8" stroke-width="0.95"/>
<line x1="367.5" y1="413.6" x2="367.5" y2="475.8" stroke="#4aaed8" stroke-width="0.95"/>
<line x1="345" y1="454.7" x2="367.5" y2="454.7" stroke="#62b4d6" stroke-width="0.75"/>
<circle cx="345" cy="454.7" r="0.9" fill="#4aaed8"/><circle cx="367.5" cy="454.7" r="0.9" fill="#4aaed8"/>
<text x="365" y="423" font-size="8" text-anchor="end" fill="#333">26%</text>
<text x="336.7" y="408.6" font-size="8.6" text-anchor="middle" fill="#222" textLength="22.5" lengthAdjust="spacingAndGlyphs" stroke="#222" stroke-width="0.12">WM-2</text>
<line x1="307.6" y1="475.8" x2="307.6" y2="477.3" stroke="#555" stroke-width="0.5"/>
<text x="309.1" y="479.8" font-size="3.8" text-anchor="end" fill="#777" transform="rotate(-60 309.1 479.8)">10<tspan font-size="2.5" dy="-1">3</tspan></text>
<line x1="312.3" y1="475.8" x2="312.3" y2="477.3" stroke="#555" stroke-width="0.5"/>
<text x="313.8" y="479.8" font-size="3.8" text-anchor="end" fill="#777" transform="rotate(-60 313.8 479.8)">10<tspan font-size="2.5" dy="-1">3</tspan></text>
<line x1="317.7" y1="475.8" x2="317.7" y2="477.3" stroke="#555" stroke-width="0.5"/>
<text x="319.2" y="479.8" font-size="3.8" text-anchor="end" fill="#777" transform="rotate(-60 319.2 479.8)">10<tspan font-size="2.5" dy="-1">3</tspan></text>
<line x1="330.5" y1="475.8" x2="330.5" y2="477.3" stroke="#555" stroke-width="0.5"/>
<text x="332" y="479.8" font-size="3.8" text-anchor="end" fill="#777" transform="rotate(-60 332 479.8)">10<tspan font-size="2.5" dy="-1">3</tspan></text>
<line x1="345.7" y1="475.8" x2="345.7" y2="477.3" stroke="#555" stroke-width="0.5"/>
<text x="347.2" y="479.8" font-size="3.8" text-anchor="end" fill="#777" transform="rotate(-60 347.2 479.8)">10<tspan font-size="2.5" dy="-1">3</tspan></text>
<line x1="361.4" y1="475.8" x2="361.4" y2="477.3" stroke="#555" stroke-width="0.5"/>
<text x="362.9" y="479.8" font-size="3.8" text-anchor="end" fill="#777" transform="rotate(-60 362.9 479.8)">10<tspan font-size="2.5" dy="-1">3</tspan></text>
<line x1="414.9" y1="428" x2="414.9" y2="496.4" stroke="#222" stroke-width="1.2"/>
<line x1="414.3" y1="495.8" x2="513.6" y2="495.8" stroke="#222" stroke-width="1.2"/>
<line x1="412.3" y1="495.8" x2="414.9" y2="495.8" stroke="#222" stroke-width="1"/>
<text x="410.9" y="498.3" font-size="7" text-anchor="end" fill="#444">0</text>
<line x1="412.3" y1="474.13" x2="414.9" y2="474.13" stroke="#222" stroke-width="1"/>
<text x="410.9" y="476.63" font-size="7" text-anchor="end" fill="#444">10</text>
<line x1="412.3" y1="452.47" x2="414.9" y2="452.47" stroke="#222" stroke-width="1"/>
<text x="410.9" y="454.97" font-size="7" text-anchor="end" fill="#444">20</text>
<line x1="412.3" y1="430.8" x2="414.9" y2="430.8" stroke="#222" stroke-width="1"/>
<text x="410.9" y="433.3" font-size="7" text-anchor="end" fill="#444">30</text>
<rect x="422.8" y="463.73" width="14.2" height="32.07" fill="#c8c8cc" stroke="none" stroke-width="1"/>
<line x1="429.9" y1="460.05" x2="429.9" y2="467.42" stroke="#222" stroke-width="0.9"/>
<line x1="427.7" y1="460.05" x2="432.1" y2="460.05" stroke="#222" stroke-width="0.9"/>
<line x1="427.7" y1="467.42" x2="432.1" y2="467.42" stroke="#222" stroke-width="0.9"/>
<line x1="429.9" y1="495.8" x2="429.9" y2="498.4" stroke="#222" stroke-width="1"/>
<rect x="445.4" y="462.87" width="14.2" height="32.93" fill="#c8c8cc" stroke="none" stroke-width="1"/>
<line x1="452.5" y1="462" x2="452.5" y2="463.73" stroke="#222" stroke-width="0.9"/>
<line x1="450.3" y1="462" x2="454.7" y2="462" stroke="#222" stroke-width="0.9"/>
<line x1="450.3" y1="463.73" x2="454.7" y2="463.73" stroke="#222" stroke-width="0.9"/>
<line x1="452.5" y1="495.8" x2="452.5" y2="498.4" stroke="#222" stroke-width="1"/>
<rect x="468.1" y="448.57" width="14.2" height="47.23" fill="#c50a2c" stroke="none" stroke-width="1"/>
<line x1="475.2" y1="447.81" x2="475.2" y2="449.33" stroke="#222" stroke-width="0.9"/>
<line x1="473" y1="447.81" x2="477.4" y2="447.81" stroke="#222" stroke-width="0.9"/>
<line x1="473" y1="449.33" x2="477.4" y2="449.33" stroke="#222" stroke-width="0.9"/>
<line x1="475.2" y1="495.8" x2="475.2" y2="498.4" stroke="#222" stroke-width="1"/>
<rect x="490.9" y="445.53" width="14.2" height="50.27" fill="#c50a2c" stroke="none" stroke-width="1"/>
<line x1="498" y1="439.25" x2="498" y2="451.82" stroke="#222" stroke-width="0.9"/>
<line x1="495.8" y1="439.25" x2="500.2" y2="439.25" stroke="#222" stroke-width="0.9"/>
<line x1="495.8" y1="451.82" x2="500.2" y2="451.82" stroke="#222" stroke-width="0.9"/>
<line x1="498" y1="495.8" x2="498" y2="498.4" stroke="#222" stroke-width="1"/>
<line x1="429.6" y1="410.5" x2="501.2" y2="410.5" stroke="#383838" stroke-width="1.2"/>
<text x="465.1" y="407.7" font-size="6.6" text-anchor="middle" fill="#333"><tspan font-style="italic">P</tspan> &lt; .001</text>
<line x1="429.6" y1="419.2" x2="478.5" y2="419.2" stroke="#383838" stroke-width="1.2"/>
<text x="454.3" y="416.5" font-size="6.6" text-anchor="middle" fill="#333"><tspan font-style="italic">P</tspan> &lt; .01</text>
<line x1="455" y1="428.5" x2="504" y2="428.5" stroke="#383838" stroke-width="1.2"/>
<text x="479" y="425.7" font-size="6.6" text-anchor="middle" fill="#333"><tspan font-style="italic">P</tspan> &lt; .01</text>
<line x1="455" y1="437.3" x2="478.5" y2="437.3" stroke="#383838" stroke-width="1.2"/>
<text x="467.4" y="434.6" font-size="6.6" text-anchor="middle" fill="#333"><tspan font-style="italic">P</tspan> &lt; .01</text>
<text x="397.2" y="461.9" font-size="8" text-anchor="middle" fill="#333" transform="rotate(-90 397.2 461.9)" textLength="48" lengthAdjust="spacingAndGlyphs">Ki67 + Tregs (%)</text>
<text x="430.1" y="508.2" font-size="7" text-anchor="middle" fill="#333" textLength="6.6" lengthAdjust="spacingAndGlyphs">#1</text>
<text x="452.5" y="508.2" font-size="7" text-anchor="middle" fill="#333" textLength="6.6" lengthAdjust="spacingAndGlyphs">#2</text>
<text x="475.2" y="508.2" font-size="7" text-anchor="middle" fill="#333" textLength="6.6" lengthAdjust="spacingAndGlyphs">#1</text>
<text x="497.9" y="508.2" font-size="7" text-anchor="middle" fill="#333" textLength="6.6" lengthAdjust="spacingAndGlyphs">#2</text>
<line x1="423" y1="512.3" x2="459.6" y2="512.3" stroke="#222" stroke-width="1.2"/>
<line x1="468.8" y1="512.3" x2="512.1" y2="512.3" stroke="#222" stroke-width="1.2"/>
<text x="441.4" y="523" font-size="8.2" text-anchor="middle" fill="#333" textLength="9.2" lengthAdjust="spacingAndGlyphs">HD</text>
<text x="491" y="523" font-size="8.2" text-anchor="middle" fill="#333" textLength="13.1" lengthAdjust="spacingAndGlyphs">WM</text>
<text x="6.6" y="546.8" font-size="12" text-anchor="start" fill="#111" font-weight="bold" textLength="7.2" lengthAdjust="spacingAndGlyphs">E</text>
<text x="100.3" y="543.2" font-size="8" text-anchor="middle" fill="#222" textLength="54.8" lengthAdjust="spacingAndGlyphs">Enrichment plot:</text>
<text x="100.3" y="552.3" font-size="8" text-anchor="middle" fill="#222" textLength="141.6" lengthAdjust="spacingAndGlyphs">REACTOME_MAPK_FAMILY_SIGNALING_</text>
<text x="100.3" y="560.9" font-size="8" text-anchor="middle" fill="#222" textLength="39" lengthAdjust="spacingAndGlyphs">CASCADES</text>
<rect x="46.5" y="566.4" width="119.5" height="50.8" fill="#fff" stroke="#333" stroke-width="1"/>
<line x1="46.5" y1="606.3" x2="164.5" y2="606.3" stroke="#cfcfcf" stroke-width="0.8"/>
<line x1="44.3" y1="566.96" x2="46.5" y2="566.96" stroke="#333" stroke-width="0.8"/>
<text x="42.9" y="569.23" font-size="6.3" text-anchor="end" fill="#333" textLength="11.68" lengthAdjust="spacingAndGlyphs">0.35</text>
<line x1="44.3" y1="572.58" x2="46.5" y2="572.58" stroke="#333" stroke-width="0.8"/>
<text x="42.9" y="574.85" font-size="6.3" text-anchor="end" fill="#333" textLength="11.68" lengthAdjust="spacingAndGlyphs">0.30</text>
<line x1="44.3" y1="578.2" x2="46.5" y2="578.2" stroke="#333" stroke-width="0.8"/>
<text x="42.9" y="580.47" font-size="6.3" text-anchor="end" fill="#333" textLength="11.68" lengthAdjust="spacingAndGlyphs">0.25</text>
<line x1="44.3" y1="583.82" x2="46.5" y2="583.82" stroke="#333" stroke-width="0.8"/>
<text x="42.9" y="586.09" font-size="6.3" text-anchor="end" fill="#333" textLength="11.68" lengthAdjust="spacingAndGlyphs">0.20</text>
<line x1="44.3" y1="589.44" x2="46.5" y2="589.44" stroke="#333" stroke-width="0.8"/>
<text x="42.9" y="591.71" font-size="6.3" text-anchor="end" fill="#333" textLength="11.68" lengthAdjust="spacingAndGlyphs">0.15</text>
<line x1="44.3" y1="595.06" x2="46.5" y2="595.06" stroke="#333" stroke-width="0.8"/>
<text x="42.9" y="597.33" font-size="6.3" text-anchor="end" fill="#333" textLength="11.68" lengthAdjust="spacingAndGlyphs">0.10</text>
<line x1="44.3" y1="600.68" x2="46.5" y2="600.68" stroke="#333" stroke-width="0.8"/>
<text x="42.9" y="602.95" font-size="6.3" text-anchor="end" fill="#333" textLength="11.68" lengthAdjust="spacingAndGlyphs">0.05</text>
<line x1="44.3" y1="606.3" x2="46.5" y2="606.3" stroke="#333" stroke-width="0.8"/>
<text x="42.9" y="608.57" font-size="6.3" text-anchor="end" fill="#333" textLength="11.68" lengthAdjust="spacingAndGlyphs">0.00</text>
<line x1="44.3" y1="611.92" x2="46.5" y2="611.92" stroke="#333" stroke-width="0.8"/>
<text x="42.9" y="614.19" font-size="6.3" text-anchor="end" fill="#333" textLength="14.3" lengthAdjust="spacingAndGlyphs">-0.05</text>
<polyline points="46.4,606.38 46.41,603.06 46.8,598.94 47.38,597.75 48.18,596.74 49.04,595.46 49.8,594.09 50.6,591.85 51.31,588.62 52.1,586.08 52.81,585.09 53.59,583.82 54.35,583.13 55,582.19 55.92,581.12 56.7,579.75 57.55,577.94 58.4,575.96 59.17,574.23 60.1,573.11 60.75,572.67 61.51,572.13 62.29,572.2 63,571.84 63.79,571.21 64.51,570.55 65.3,570.46 65.95,570.04 66.64,569.95 67.38,569.85 68.2,569.59 68.82,569.53 69.48,569.11 70.18,569.09 70.9,568.78 71.61,568.9 72.3,568.87 72.95,568.61 73.57,568.79 74.19,569.04 74.84,569.65 75.53,569.73 76.3,570.16 76.95,570.32 77.65,570.78 78.4,571.13 79.16,571.54 79.93,572.06 80.69,572.45 81.42,572.92 82.1,573.08 82.92,573.39 83.68,573.43 84.41,573.5 85.13,573.36 85.88,573.19 86.7,573.66 87.36,573.9 88.05,574.11 88.75,574.23 89.48,574.59 90.21,574.69 90.94,575.29 91.68,575.5 92.4,575.71 93.14,575.95 93.91,576.68 94.7,577.13 95.48,577.13 96.24,577.84 96.96,578.03 97.62,578.26 98.2,578.61 99.04,579.19 99.61,579.43 100.17,579.31 101,580.05 101.57,580.17 102.2,580.9 102.88,581.2 103.6,581.97 104.35,582.57 105.13,582.95 105.92,583.78 106.7,584.12 107.34,584.54 107.99,585.33 108.66,585.67 109.35,586.34 110.04,587.05 110.73,587.77 111.43,588.21 112.13,588.81 112.82,589.82 113.5,590.22 114.17,591.15 114.85,591.79 115.52,592.23 116.19,592.95 116.86,593.67 117.52,594.4 118.19,595.06 118.86,595.72 119.53,596.41 120.2,597.19 120.87,597.64 121.54,598.23 122.21,598.99 122.88,599.39 123.55,600.03 124.22,600.93 124.89,601.32 125.56,601.91 126.23,602.24 126.9,602.96 127.57,603.57 128.24,603.84 128.91,604.61 129.58,605.12 130.24,605.35 130.91,606.07 131.58,606.46 132.25,607.01 132.93,607.31 133.6,607.89 134.28,608.33 134.98,608.43 135.68,608.86 136.38,609.54 137.08,610.05 137.78,610.11 138.46,610.56 139.13,610.95 139.78,611.14 140.4,611.44 141.14,611.72 141.85,611.99 142.53,612.3 143.19,612.36 143.84,612.55 144.49,612.88 145.14,612.72 145.8,613.13 146.57,613.44 147.36,613.53 148.14,613.77 148.92,614.28 149.68,614.24 150.41,614.34 151.1,614.47 151.85,614.5 152.56,614.06 153.23,613.89 153.89,613.52 154.54,613.26 155.2,612.47 155.92,611.81 156.69,610.4 157.46,609.25 158.17,608.2 158.77,607.28 159.2,606.4" fill="none" stroke="#249046" stroke-width="1.2" stroke-linejoin="round"/>
<rect x="46.5" y="617.2" width="113.2" height="17.1" fill="#62666f" stroke="none" stroke-width="1"/>
<rect x="46.8" y="617.2" width="0.6" height="17.1" fill="#161616" stroke="none" stroke-width="1"/>
<rect x="47.4" y="617.2" width="0.6" height="17.1" fill="#161616" stroke="none" stroke-width="1"/>
<rect x="48" y="617.2" width="0.8" height="17.1" fill="#8a8e98" stroke="none" stroke-width="1"/>
<rect x="49.1" y="617.2" width="0.5" height="17.1" fill="#161616" stroke="none" stroke-width="1"/>
<rect x="49.6" y="617.2" width="0.8" height="17.1" fill="#161616" stroke="none" stroke-width="1"/>
<rect x="51.2" y="617.2" width="0.8" height="17.1" fill="#484c54" stroke="none" stroke-width="1"/>
<rect x="52" y="617.2" width="1" height="17.1" fill="#484c54" stroke="none" stroke-width="1"/>
<rect x="53.5" y="617.2" width="0.8" height="17.1" fill="#8a8e98" stroke="none" stroke-width="1"/>
<rect x="55.1" y="617.2" width="1" height="17.1" fill="#161616" stroke="none" stroke-width="1"/>
<rect x="56.6" y="617.2" width="1.2" height="17.1" fill="#161616" stroke="none" stroke-width="1"/>
<rect x="57.8" y="617.2" width="0.6" height="17.1" fill="#c8ccd4" stroke="none" stroke-width="1"/>
<rect x="59.2" y="617.2" width="1.2" height="17.1" fill="#8a8e98" stroke="none" stroke-width="1"/>
<rect x="61.2" y="617.2" width="0.8" height="17.1" fill="#c8ccd4" stroke="none" stroke-width="1"/>
<rect x="62.5" y="617.2" width="1" height="17.1" fill="#8a8e98" stroke="none" stroke-width="1"/>
<rect x="64.3" y="617.2" width="0.6" height="17.1" fill="#484c54" stroke="none" stroke-width="1"/>
<rect x="64.9" y="617.2" width="0.6" height="17.1" fill="#161616" stroke="none" stroke-width="1"/>
<rect x="66" y="617.2" width="0.6" height="17.1" fill="#8a8e98" stroke="none" stroke-width="1"/>
<rect x="66.6" y="617.2" width="1" height="17.1" fill="#8a8e98" stroke="none" stroke-width="1"/>
<rect x="68.4" y="617.2" width="1.2" height="17.1" fill="#161616" stroke="none" stroke-width="1"/>
<rect x="69.6" y="617.2" width="0.5" height="17.1" fill="#8a8e98" stroke="none" stroke-width="1"/>
<rect x="70.9" y="617.2" width="0.5" height="17.1" fill="#c8ccd4" stroke="none" stroke-width="1"/>
<rect x="72.2" y="617.2" width="0.6" height="17.1" fill="#c8ccd4" stroke="none" stroke-width="1"/>
<rect x="73.1" y="617.2" width="0.5" height="17.1" fill="#484c54" stroke="none" stroke-width="1"/>
<rect x="73.9" y="617.2" width="1.2" height="17.1" fill="#c8ccd4" stroke="none" stroke-width="1"/>
<rect x="75.4" y="617.2" width="0.6" height="17.1" fill="#161616" stroke="none" stroke-width="1"/>
<rect x="76" y="617.2" width="1.2" height="17.1" fill="#8a8e98" stroke="none" stroke-width="1"/>
<rect x="77.7" y="617.2" width="1.2" height="17.1" fill="#161616" stroke="none" stroke-width="1"/>
<rect x="79.2" y="617.2" width="1.2" height="17.1" fill="#c8ccd4" stroke="none" stroke-width="1"/>
<rect x="80.7" y="617.2" width="0.6" height="17.1" fill="#c8ccd4" stroke="none" stroke-width="1"/>
<rect x="81.8" y="617.2" width="0.8" height="17.1" fill="#161616" stroke="none" stroke-width="1"/>
<rect x="82.6" y="617.2" width="0.5" height="17.1" fill="#161616" stroke="none" stroke-width="1"/>
<rect x="83.1" y="617.2" width="0.6" height="17.1" fill="#161616" stroke="none" stroke-width="1"/>
<rect x="83.7" y="617.2" width="0.5" height="17.1" fill="#c8ccd4" stroke="none" stroke-width="1"/>
<rect x="85" y="617.2" width="1.2" height="17.1" fill="#484c54" stroke="none" stroke-width="1"/>
<rect x="86.7" y="617.2" width="0.8" height="17.1" fill="#8a8e98" stroke="none" stroke-width="1"/>
<rect x="87.8" y="617.2" width="0.8" height="17.1" fill="#161616" stroke="none" stroke-width="1"/>
<rect x="88.6" y="617.2" width="0.5" height="17.1" fill="#484c54" stroke="none" stroke-width="1"/>
<rect x="89.6" y="617.2" width="0.5" height="17.1" fill="#484c54" stroke="none" stroke-width="1"/>
<rect x="90.4" y="617.2" width="0.6" height="17.1" fill="#484c54" stroke="none" stroke-width="1"/>
<rect x="91.8" y="617.2" width="0.6" height="17.1" fill="#161616" stroke="none" stroke-width="1"/>
<rect x="92.7" y="617.2" width="0.6" height="17.1" fill="#484c54" stroke="none" stroke-width="1"/>
<rect x="93.6" y="617.2" width="0.8" height="17.1" fill="#161616" stroke="none" stroke-width="1"/>
<rect x="95.2" y="617.2" width="0.8" height="17.1" fill="#8a8e98" stroke="none" stroke-width="1"/>
<rect x="96" y="617.2" width="1" height="17.1" fill="#161616" stroke="none" stroke-width="1"/>
<rect x="97.5" y="617.2" width="0.5" height="17.1" fill="#484c54" stroke="none" stroke-width="1"/>
<rect x="98" y="617.2" width="0.8" height="17.1" fill="#8a8e98" stroke="none" stroke-width="1"/>
<rect x="98.8" y="617.2" width="1.2" height="17.1" fill="#c8ccd4" stroke="none" stroke-width="1"/>
<rect x="100.5" y="617.2" width="0.5" height="17.1" fill="#484c54" stroke="none" stroke-width="1"/>
<rect x="101.3" y="617.2" width="0.5" height="17.1" fill="#484c54" stroke="none" stroke-width="1"/>
<rect x="101.8" y="617.2" width="0.6" height="17.1" fill="#484c54" stroke="none" stroke-width="1"/>
<rect x="102.4" y="617.2" width="0.8" height="17.1" fill="#c8ccd4" stroke="none" stroke-width="1"/>
<rect x="103.2" y="617.2" width="1" height="17.1" fill="#8a8e98" stroke="none" stroke-width="1"/>
<rect x="104.2" y="617.2" width="0.5" height="17.1" fill="#161616" stroke="none" stroke-width="1"/>
<rect x="105.2" y="617.2" width="0.6" height="17.1" fill="#161616" stroke="none" stroke-width="1"/>
<rect x="105.8" y="617.2" width="0.8" height="17.1" fill="#c8ccd4" stroke="none" stroke-width="1"/>
<rect x="107.4" y="617.2" width="0.5" height="17.1" fill="#161616" stroke="none" stroke-width="1"/>
<rect x="107.9" y="617.2" width="0.8" height="17.1" fill="#161616" stroke="none" stroke-width="1"/>
<rect x="109" y="617.2" width="0.6" height="17.1" fill="#161616" stroke="none" stroke-width="1"/>
<rect x="109.6" y="617.2" width="1.2" height="17.1" fill="#161616" stroke="none" stroke-width="1"/>
<rect x="110.8" y="617.2" width="1.2" height="17.1" fill="#161616" stroke="none" stroke-width="1"/>
<rect x="112.8" y="617.2" width="0.6" height="17.1" fill="#484c54" stroke="none" stroke-width="1"/>
<rect x="113.7" y="617.2" width="1" height="17.1" fill="#c8ccd4" stroke="none" stroke-width="1"/>
<rect x="115" y="617.2" width="0.8" height="17.1" fill="#484c54" stroke="none" stroke-width="1"/>
<rect x="116.6" y="617.2" width="0.8" height="17.1" fill="#484c54" stroke="none" stroke-width="1"/>
<rect x="117.4" y="617.2" width="1" height="17.1" fill="#484c54" stroke="none" stroke-width="1"/>
<rect x="118.4" y="617.2" width="0.5" height="17.1" fill="#c8ccd4" stroke="none" stroke-width="1"/>
<rect x="119.7" y="617.2" width="1" height="17.1" fill="#484c54" stroke="none" stroke-width="1"/>
<rect x="121.5" y="617.2" width="0.5" height="17.1" fill="#484c54" stroke="none" stroke-width="1"/>
<rect x="122.8" y="617.2" width="0.6" height="17.1" fill="#484c54" stroke="none" stroke-width="1"/>
<rect x="124.2" y="617.2" width="0.5" height="17.1" fill="#161616" stroke="none" stroke-width="1"/>
<rect x="125.2" y="617.2" width="1.2" height="17.1" fill="#8a8e98" stroke="none" stroke-width="1"/>
<rect x="126.4" y="617.2" width="1.2" height="17.1" fill="#484c54" stroke="none" stroke-width="1"/>
<rect x="127.9" y="617.2" width="1" height="17.1" fill="#c8ccd4" stroke="none" stroke-width="1"/>
<rect x="129.4" y="617.2" width="0.8" height="17.1" fill="#8a8e98" stroke="none" stroke-width="1"/>
<rect x="130.2" y="617.2" width="0.5" height="17.1" fill="#c8ccd4" stroke="none" stroke-width="1"/>
<rect x="131" y="617.2" width="1.2" height="17.1" fill="#161616" stroke="none" stroke-width="1"/>
<rect x="133" y="617.2" width="0.6" height="17.1" fill="#484c54" stroke="none" stroke-width="1"/>
<rect x="133.6" y="617.2" width="0.6" height="17.1" fill="#484c54" stroke="none" stroke-width="1"/>
<rect x="135" y="617.2" width="0.5" height="17.1" fill="#161616" stroke="none" stroke-width="1"/>
<rect x="136.3" y="617.2" width="0.6" height="17.1" fill="#484c54" stroke="none" stroke-width="1"/>
<rect x="137.4" y="617.2" width="1" height="17.1" fill="#c8ccd4" stroke="none" stroke-width="1"/>
<rect x="139.2" y="617.2" width="1.2" height="17.1" fill="#8a8e98" stroke="none" stroke-width="1"/>
<rect x="140.4" y="617.2" width="1" height="17.1" fill="#8a8e98" stroke="none" stroke-width="1"/>
<rect x="142.2" y="617.2" width="0.5" height="17.1" fill="#c8ccd4" stroke="none" stroke-width="1"/>
<rect x="143" y="617.2" width="1" height="17.1" fill="#161616" stroke="none" stroke-width="1"/>
<rect x="144.5" y="617.2" width="1.2" height="17.1" fill="#484c54" stroke="none" stroke-width="1"/>
<rect x="145.7" y="617.2" width="0.6" height="17.1" fill="#161616" stroke="none" stroke-width="1"/>
<rect x="146.6" y="617.2" width="0.5" height="17.1" fill="#c8ccd4" stroke="none" stroke-width="1"/>
<rect x="147.4" y="617.2" width="0.5" height="17.1" fill="#8a8e98" stroke="none" stroke-width="1"/>
<rect x="148.4" y="617.2" width="1.2" height="17.1" fill="#161616" stroke="none" stroke-width="1"/>
<rect x="150.1" y="617.2" width="1.2" height="17.1" fill="#161616" stroke="none" stroke-width="1"/>
<rect x="151.6" y="617.2" width="0.5" height="17.1" fill="#161616" stroke="none" stroke-width="1"/>
<rect x="152.9" y="617.2" width="0.6" height="17.1" fill="#161616" stroke="none" stroke-width="1"/>
<rect x="153.5" y="617.2" width="1" height="17.1" fill="#484c54" stroke="none" stroke-width="1"/>
<rect x="154.5" y="617.2" width="1" height="17.1" fill="#161616" stroke="none" stroke-width="1"/>
<rect x="155.5" y="617.2" width="0.5" height="17.1" fill="#484c54" stroke="none" stroke-width="1"/>
<rect x="156" y="617.2" width="0.8" height="17.1" fill="#8a8e98" stroke="none" stroke-width="1"/>
<rect x="156.8" y="617.2" width="0.6" height="17.1" fill="#161616" stroke="none" stroke-width="1"/>
<rect x="157.9" y="617.2" width="1" height="17.1" fill="#484c54" stroke="none" stroke-width="1"/>
<rect x="158.9" y="617.2" width="0.5" height="17.1" fill="#c8ccd4" stroke="none" stroke-width="1"/>
<rect x="159.7" y="617.2" width="6.3" height="21.5" fill="none" stroke="#e4e4e4" stroke-width="0.6"/>
<rect x="46.5" y="634.3" width="113.2" height="4.4" fill="url(#rb)" stroke="none" stroke-width="1"/>
<text x="24.3" y="591.9" font-size="8.2" text-anchor="middle" fill="#333" transform="rotate(-90 24.3 591.9)" textLength="63.5" lengthAdjust="spacingAndGlyphs">Enrichment score (ES)</text>
<text x="105.6" y="648.6" font-size="8.2" text-anchor="middle" fill="#222" textLength="68.7" lengthAdjust="spacingAndGlyphs">FDR: 0.03 - <tspan font-style="italic">P</tspan>: &lt; .001</text>
<text x="105.4" y="657.7" font-size="8.2" text-anchor="middle" fill="#222" textLength="33.5" lengthAdjust="spacingAndGlyphs">NES: 1.69</text>
<text x="275.2" y="552.3" font-size="8" text-anchor="middle" fill="#222" textLength="54.8" lengthAdjust="spacingAndGlyphs">Enrichment plot:</text>
<text x="275.2" y="561.5" font-size="8" text-anchor="middle" fill="#222" textLength="117.5" lengthAdjust="spacingAndGlyphs">WP_MAPK_SIGNALING_PATHWAY</text>
<rect x="215.3" y="566.6" width="119.2" height="53.6" fill="#fff" stroke="#333" stroke-width="1"/>
<line x1="215.3" y1="611.7" x2="333" y2="611.7" stroke="#cfcfcf" stroke-width="0.8"/>
<line x1="213.1" y1="572.4" x2="215.3" y2="572.4" stroke="#333" stroke-width="0.8"/>
<text x="211.7" y="574.85" font-size="6.8" text-anchor="end" fill="#333" textLength="11.4" lengthAdjust="spacingAndGlyphs">0.30</text>
<line x1="213.1" y1="578.95" x2="215.3" y2="578.95" stroke="#333" stroke-width="0.8"/>
<text x="211.7" y="581.4" font-size="6.8" text-anchor="end" fill="#333" textLength="11.4" lengthAdjust="spacingAndGlyphs">0.25</text>
<line x1="213.1" y1="585.5" x2="215.3" y2="585.5" stroke="#333" stroke-width="0.8"/>
<text x="211.7" y="587.95" font-size="6.8" text-anchor="end" fill="#333" textLength="11.4" lengthAdjust="spacingAndGlyphs">0.20</text>
<line x1="213.1" y1="592.05" x2="215.3" y2="592.05" stroke="#333" stroke-width="0.8"/>
<text x="211.7" y="594.5" font-size="6.8" text-anchor="end" fill="#333" textLength="11.4" lengthAdjust="spacingAndGlyphs">0.15</text>
<line x1="213.1" y1="598.6" x2="215.3" y2="598.6" stroke="#333" stroke-width="0.8"/>
<text x="211.7" y="601.05" font-size="6.8" text-anchor="end" fill="#333" textLength="11.4" lengthAdjust="spacingAndGlyphs">0.10</text>
<line x1="213.1" y1="605.15" x2="215.3" y2="605.15" stroke="#333" stroke-width="0.8"/>
<text x="211.7" y="607.6" font-size="6.8" text-anchor="end" fill="#333" textLength="11.4" lengthAdjust="spacingAndGlyphs">0.05</text>
<line x1="213.1" y1="611.7" x2="215.3" y2="611.7" stroke="#333" stroke-width="0.8"/>
<text x="211.7" y="614.15" font-size="6.8" text-anchor="end" fill="#333" textLength="11.4" lengthAdjust="spacingAndGlyphs">0.00</text>
<line x1="213.1" y1="618.25" x2="215.3" y2="618.25" stroke="#333" stroke-width="0.8"/>
<text x="211.7" y="620.7" font-size="6.8" text-anchor="end" fill="#333" textLength="13.95" lengthAdjust="spacingAndGlyphs">-0.05</text>
<polyline points="215.6,608.05 215.59,606.23 215.8,603.43 216.63,599.81 217.6,595.91 218.29,592.9 218.9,589.89 219.46,588.07 220.1,586.6 221.01,585.04 222,583.48 222.95,580.12 223.9,577.59 224.86,576.87 225.8,577.02 226.7,576.85 227.6,576.19 228.54,575.23 229.5,573.8 230.45,572.1 231.4,570.22 232.31,569.04 233.3,569.03 234.09,568.94 234.94,569.61 235.8,569.94 236.66,570.6 237.52,571.79 238.3,571.87 239.16,571.04 240.1,570.31 240.79,570.09 241.58,569.78 242.43,570.14 243.3,570.12 244.03,570.45 244.8,570.66 245.58,571.43 246.33,571.69 247,572.01 247.87,571.76 248.61,570.98 249.5,570.74 250.18,570.76 250.93,570.99 251.72,571.27 252.53,571.68 253.3,572.05 254,571.87 254.66,572.15 255.34,572 256.1,572.12 257,572.74 257.59,572.97 258.23,573.38 258.91,574.03 259.63,574.75 260.36,575.11 261.11,576.16 261.86,576.36 262.59,577.24 263.3,577.75 264.01,577.78 264.76,578.46 265.51,578.58 266.27,578.95 267,578.95 267.71,579.2 268.37,579.49 268.97,580.06 269.5,579.97 270.51,580.8 271.12,581.39 272,582.19 272.59,582.45 273.28,583.07 274.03,583.82 274.81,584.64 275.59,585.04 276.33,585.96 277,586.53 277.84,587.16 278.61,587.28 279.34,588.1 280.07,588.17 280.8,588.83 281.53,589.58 282.22,590.38 282.93,590.85 283.68,591.9 284.5,592.62 285.15,593.23 285.83,594.02 286.55,594.8 287.29,595.62 288.03,596.51 288.77,597.59 289.5,598.52 290.21,598.9 290.93,599.58 291.64,600.71 292.36,601.21 293.07,601.85 293.79,602.48 294.5,603.34 295.21,604.17 295.93,604.74 296.64,605.46 297.36,606.03 298.07,607.13 298.79,607.43 299.5,608.3 300.21,609.09 300.93,609.42 301.64,610.31 302.36,611 303.07,611.42 303.79,611.99 304.5,612.13 305.21,612.63 305.93,612.79 306.64,613.33 307.36,613.28 308.07,613.52 308.79,613.93 309.5,614.05 310.21,614.3 310.93,614.23 311.64,614.4 312.36,614.66 313.07,614.71 313.79,614.8 314.5,615.06 315.23,615.21 315.98,615.65 316.74,616.28 317.49,616.62 318.21,616.77 318.89,616.92 319.5,616.93 320.42,616.55 321.21,616.02 321.91,615.61 322.6,615.26 323.43,615.27 324.19,615.97 325.1,615.92 325.84,615.26 326.71,614.27 327.59,613.2 328.36,612.02 328.9,611.4" fill="none" stroke="#249046" stroke-width="1.2" stroke-linejoin="round"/>
<rect x="215.3" y="620.2" width="113.9" height="18.3" fill="#62666f" stroke="none" stroke-width="1"/>
<rect x="215.6" y="620.2" width="1" height="18.3" fill="#161616" stroke="none" stroke-width="1"/>
<rect x="216.9" y="620.2" width="1" height="18.3" fill="#484c54" stroke="none" stroke-width="1"/>
<rect x="218.7" y="620.2" width="1.2" height="18.3" fill="#c8ccd4" stroke="none" stroke-width="1"/>
<rect x="220.7" y="620.2" width="0.6" height="18.3" fill="#161616" stroke="none" stroke-width="1"/>
<rect x="222.1" y="620.2" width="0.8" height="18.3" fill="#161616" stroke="none" stroke-width="1"/>
<rect x="223.7" y="620.2" width="1.2" height="18.3" fill="#8a8e98" stroke="none" stroke-width="1"/>
<rect x="225.4" y="620.2" width="0.5" height="18.3" fill="#161616" stroke="none" stroke-width="1"/>
<rect x="226.2" y="620.2" width="0.5" height="18.3" fill="#161616" stroke="none" stroke-width="1"/>
<rect x="227.2" y="620.2" width="0.8" height="18.3" fill="#484c54" stroke="none" stroke-width="1"/>
<rect x="228.5" y="620.2" width="1.2" height="18.3" fill="#161616" stroke="none" stroke-width="1"/>
<rect x="230" y="620.2" width="1" height="18.3" fill="#484c54" stroke="none" stroke-width="1"/>
<rect x="231" y="620.2" width="0.6" height="18.3" fill="#8a8e98" stroke="none" stroke-width="1"/>
<rect x="232.1" y="620.2" width="0.8" height="18.3" fill="#c8ccd4" stroke="none" stroke-width="1"/>
<rect x="233.4" y="620.2" width="0.5" height="18.3" fill="#161616" stroke="none" stroke-width="1"/>
<rect x="234.7" y="620.2" width="0.5" height="18.3" fill="#161616" stroke="none" stroke-width="1"/>
<rect x="235.2" y="620.2" width="0.6" height="18.3" fill="#8a8e98" stroke="none" stroke-width="1"/>
<rect x="236.1" y="620.2" width="1.2" height="18.3" fill="#8a8e98" stroke="none" stroke-width="1"/>
<rect x="238.1" y="620.2" width="1" height="18.3" fill="#161616" stroke="none" stroke-width="1"/>
<rect x="239.9" y="620.2" width="0.8" height="18.3" fill="#161616" stroke="none" stroke-width="1"/>
<rect x="241.2" y="620.2" width="1.2" height="18.3" fill="#161616" stroke="none" stroke-width="1"/>
<rect x="242.9" y="620.2" width="1.2" height="18.3" fill="#484c54" stroke="none" stroke-width="1"/>
<rect x="244.1" y="620.2" width="0.8" height="18.3" fill="#8a8e98" stroke="none" stroke-width="1"/>
<rect x="245.4" y="620.2" width="0.8" height="18.3" fill="#484c54" stroke="none" stroke-width="1"/>
<rect x="246.5" y="620.2" width="0.6" height="18.3" fill="#161616" stroke="none" stroke-width="1"/>
<rect x="247.6" y="620.2" width="1" height="18.3" fill="#484c54" stroke="none" stroke-width="1"/>
<rect x="249.4" y="620.2" width="0.8" height="18.3" fill="#c8ccd4" stroke="none" stroke-width="1"/>
<rect x="250.2" y="620.2" width="1.2" height="18.3" fill="#8a8e98" stroke="none" stroke-width="1"/>
<rect x="251.7" y="620.2" width="0.6" height="18.3" fill="#c8ccd4" stroke="none" stroke-width="1"/>
<rect x="253.1" y="620.2" width="1" height="18.3" fill="#484c54" stroke="none" stroke-width="1"/>
<rect x="254.9" y="620.2" width="0.8" height="18.3" fill="#8a8e98" stroke="none" stroke-width="1"/>
<rect x="256.2" y="620.2" width="0.6" height="18.3" fill="#8a8e98" stroke="none" stroke-width="1"/>
<rect x="257.6" y="620.2" width="1.2" height="18.3" fill="#161616" stroke="none" stroke-width="1"/>
<rect x="258.8" y="620.2" width="0.6" height="18.3" fill="#484c54" stroke="none" stroke-width="1"/>
<rect x="259.9" y="620.2" width="1.2" height="18.3" fill="#8a8e98" stroke="none" stroke-width="1"/>
<rect x="261.4" y="620.2" width="0.8" height="18.3" fill="#8a8e98" stroke="none" stroke-width="1"/>
<rect x="262.5" y="620.2" width="0.6" height="18.3" fill="#161616" stroke="none" stroke-width="1"/>
<rect x="263.6" y="620.2" width="0.6" height="18.3" fill="#161616" stroke="none" stroke-width="1"/>
<rect x="265" y="620.2" width="0.6" height="18.3" fill="#484c54" stroke="none" stroke-width="1"/>
<rect x="266.1" y="620.2" width="0.5" height="18.3" fill="#484c54" stroke="none" stroke-width="1"/>
<rect x="267.4" y="620.2" width="0.8" height="18.3" fill="#161616" stroke="none" stroke-width="1"/>
<rect x="268.5" y="620.2" width="1.2" height="18.3" fill="#484c54" stroke="none" stroke-width="1"/>
<rect x="270.5" y="620.2" width="0.8" height="18.3" fill="#161616" stroke="none" stroke-width="1"/>
<rect x="271.6" y="620.2" width="0.8" height="18.3" fill="#161616" stroke="none" stroke-width="1"/>
<rect x="272.9" y="620.2" width="0.8" height="18.3" fill="#161616" stroke="none" stroke-width="1"/>
<rect x="274.5" y="620.2" width="1.2" height="18.3" fill="#161616" stroke="none" stroke-width="1"/>
<rect x="276.2" y="620.2" width="0.5" height="18.3" fill="#161616" stroke="none" stroke-width="1"/>
<rect x="277" y="620.2" width="1" height="18.3" fill="#161616" stroke="none" stroke-width="1"/>
<rect x="278.5" y="620.2" width="1.2" height="18.3" fill="#c8ccd4" stroke="none" stroke-width="1"/>
<rect x="280" y="620.2" width="0.5" height="18.3" fill="#161616" stroke="none" stroke-width="1"/>
<rect x="280.5" y="620.2" width="0.6" height="18.3" fill="#8a8e98" stroke="none" stroke-width="1"/>
<rect x="281.9" y="620.2" width="0.6" height="18.3" fill="#484c54" stroke="none" stroke-width="1"/>
<rect x="283.3" y="620.2" width="0.8" height="18.3" fill="#c8ccd4" stroke="none" stroke-width="1"/>
<rect x="284.9" y="620.2" width="0.8" height="18.3" fill="#c8ccd4" stroke="none" stroke-width="1"/>
<rect x="286" y="620.2" width="0.6" height="18.3" fill="#8a8e98" stroke="none" stroke-width="1"/>
<rect x="286.9" y="620.2" width="1" height="18.3" fill="#8a8e98" stroke="none" stroke-width="1"/>
<rect x="288.2" y="620.2" width="1.2" height="18.3" fill="#484c54" stroke="none" stroke-width="1"/>
<rect x="289.7" y="620.2" width="0.5" height="18.3" fill="#161616" stroke="none" stroke-width="1"/>
<rect x="291" y="620.2" width="1.2" height="18.3" fill="#161616" stroke="none" stroke-width="1"/>
<rect x="292.2" y="620.2" width="0.5" height="18.3" fill="#8a8e98" stroke="none" stroke-width="1"/>
<rect x="292.7" y="620.2" width="0.5" height="18.3" fill="#8a8e98" stroke="none" stroke-width="1"/>
<rect x="293.7" y="620.2" width="1.2" height="18.3" fill="#c8ccd4" stroke="none" stroke-width="1"/>
<rect x="295.4" y="620.2" width="0.5" height="18.3" fill="#8a8e98" stroke="none" stroke-width="1"/>
<rect x="296.2" y="620.2" width="0.5" height="18.3" fill="#484c54" stroke="none" stroke-width="1"/>
<rect x="297" y="620.2" width="0.5" height="18.3" fill="#8a8e98" stroke="none" stroke-width="1"/>
<rect x="297.5" y="620.2" width="0.5" height="18.3" fill="#c8ccd4" stroke="none" stroke-width="1"/>
<rect x="298.5" y="620.2" width="1" height="18.3" fill="#161616" stroke="none" stroke-width="1"/>
<rect x="299.5" y="620.2" width="0.6" height="18.3" fill="#484c54" stroke="none" stroke-width="1"/>
<rect x="300.4" y="620.2" width="1.2" height="18.3" fill="#484c54" stroke="none" stroke-width="1"/>
<rect x="301.9" y="620.2" width="0.5" height="18.3" fill="#484c54" stroke="none" stroke-width="1"/>
<rect x="303.2" y="620.2" width="1" height="18.3" fill="#484c54" stroke="none" stroke-width="1"/>
<rect x="304.7" y="620.2" width="0.5" height="18.3" fill="#161616" stroke="none" stroke-width="1"/>
<rect x="305.7" y="620.2" width="1.2" height="18.3" fill="#8a8e98" stroke="none" stroke-width="1"/>
<rect x="306.9" y="620.2" width="0.5" height="18.3" fill="#c8ccd4" stroke="none" stroke-width="1"/>
<rect x="308.2" y="620.2" width="0.8" height="18.3" fill="#c8ccd4" stroke="none" stroke-width="1"/>
<rect x="309" y="620.2" width="0.8" height="18.3" fill="#484c54" stroke="none" stroke-width="1"/>
<rect x="310.3" y="620.2" width="1.2" height="18.3" fill="#8a8e98" stroke="none" stroke-width="1"/>
<rect x="311.5" y="620.2" width="0.8" height="18.3" fill="#484c54" stroke="none" stroke-width="1"/>
<rect x="312.3" y="620.2" width="1" height="18.3" fill="#8a8e98" stroke="none" stroke-width="1"/>
<rect x="313.3" y="620.2" width="1" height="18.3" fill="#161616" stroke="none" stroke-width="1"/>
<rect x="314.3" y="620.2" width="0.8" height="18.3" fill="#c8ccd4" stroke="none" stroke-width="1"/>
<rect x="315.6" y="620.2" width="1" height="18.3" fill="#161616" stroke="none" stroke-width="1"/>
<rect x="317.4" y="620.2" width="0.5" height="18.3" fill="#c8ccd4" stroke="none" stroke-width="1"/>
<rect x="317.9" y="620.2" width="1.2" height="18.3" fill="#161616" stroke="none" stroke-width="1"/>
<rect x="319.4" y="620.2" width="0.6" height="18.3" fill="#161616" stroke="none" stroke-width="1"/>
<rect x="320.3" y="620.2" width="1" height="18.3" fill="#161616" stroke="none" stroke-width="1"/>
<rect x="321.6" y="620.2" width="0.8" height="18.3" fill="#484c54" stroke="none" stroke-width="1"/>
<rect x="322.4" y="620.2" width="1" height="18.3" fill="#484c54" stroke="none" stroke-width="1"/>
<rect x="323.9" y="620.2" width="0.6" height="18.3" fill="#c8ccd4" stroke="none" stroke-width="1"/>
<rect x="325.3" y="620.2" width="0.6" height="18.3" fill="#484c54" stroke="none" stroke-width="1"/>
<rect x="325.9" y="620.2" width="0.5" height="18.3" fill="#484c54" stroke="none" stroke-width="1"/>
<rect x="327.2" y="620.2" width="1" height="18.3" fill="#484c54" stroke="none" stroke-width="1"/>
<rect x="328.2" y="620.2" width="0.8" height="18.3" fill="#484c54" stroke="none" stroke-width="1"/>
<rect x="329.2" y="620.2" width="5.3" height="22.3" fill="none" stroke="#e4e4e4" stroke-width="0.6"/>
<rect x="215.3" y="638.5" width="113.9" height="4" fill="url(#rb)" stroke="none" stroke-width="1"/>
<text x="193.6" y="593.7" font-size="8.2" text-anchor="middle" fill="#333" transform="rotate(-90 193.6 593.7)" textLength="64" lengthAdjust="spacingAndGlyphs">Enrichment score (ES)</text>
<text x="274.7" y="650" font-size="8.2" text-anchor="middle" fill="#222" textLength="58.7" lengthAdjust="spacingAndGlyphs">FDR: 0.05 - <tspan font-style="italic">P</tspan>: .01</text>
<text x="271.9" y="659.8" font-size="8.2" text-anchor="middle" fill="#222" textLength="33.7" lengthAdjust="spacingAndGlyphs">NES: 1.56</text>
<text x="440" y="552.3" font-size="8" text-anchor="middle" fill="#222" textLength="54.8" lengthAdjust="spacingAndGlyphs">Enrichment plot:</text>
<text x="440" y="561.5" font-size="8" text-anchor="middle" fill="#222" textLength="125.2" lengthAdjust="spacingAndGlyphs">WT_PI3KAKT_SIGNALING_PATHWAY</text>
<rect x="379.4" y="566.6" width="121.4" height="54.8" fill="#fff" stroke="#333" stroke-width="1"/>
<line x1="379.4" y1="613" x2="499.3" y2="613" stroke="#cfcfcf" stroke-width="0.8"/>
<line x1="377.2" y1="571.3" x2="379.4" y2="571.3" stroke="#333" stroke-width="0.8"/>
<text x="375.8" y="573.75" font-size="6.8" text-anchor="end" fill="#333" textLength="11.4" lengthAdjust="spacingAndGlyphs">0.30</text>
<line x1="377.2" y1="578.25" x2="379.4" y2="578.25" stroke="#333" stroke-width="0.8"/>
<text x="375.8" y="580.7" font-size="6.8" text-anchor="end" fill="#333" textLength="11.4" lengthAdjust="spacingAndGlyphs">0.25</text>
<line x1="377.2" y1="585.2" x2="379.4" y2="585.2" stroke="#333" stroke-width="0.8"/>
<text x="375.8" y="587.65" font-size="6.8" text-anchor="end" fill="#333" textLength="11.4" lengthAdjust="spacingAndGlyphs">0.20</text>
<line x1="377.2" y1="592.15" x2="379.4" y2="592.15" stroke="#333" stroke-width="0.8"/>
<text x="375.8" y="594.6" font-size="6.8" text-anchor="end" fill="#333" textLength="11.4" lengthAdjust="spacingAndGlyphs">0.15</text>
<line x1="377.2" y1="599.1" x2="379.4" y2="599.1" stroke="#333" stroke-width="0.8"/>
<text x="375.8" y="601.55" font-size="6.8" text-anchor="end" fill="#333" textLength="11.4" lengthAdjust="spacingAndGlyphs">0.10</text>
<line x1="377.2" y1="606.05" x2="379.4" y2="606.05" stroke="#333" stroke-width="0.8"/>
<text x="375.8" y="608.5" font-size="6.8" text-anchor="end" fill="#333" textLength="11.4" lengthAdjust="spacingAndGlyphs">0.05</text>
<line x1="377.2" y1="613" x2="379.4" y2="613" stroke="#333" stroke-width="0.8"/>
<text x="375.8" y="615.45" font-size="6.8" text-anchor="end" fill="#333" textLength="11.4" lengthAdjust="spacingAndGlyphs">0.00</text>
<line x1="377.2" y1="619.95" x2="379.4" y2="619.95" stroke="#333" stroke-width="0.8"/>
<text x="375.8" y="622.4" font-size="6.8" text-anchor="end" fill="#333" textLength="13.95" lengthAdjust="spacingAndGlyphs">-0.05</text>
<polyline points="379.6,611.98 380.18,607.99 381,603.14 381.92,600.12 382.9,596.78 383.89,594.08 384.8,591.58 385.4,588.74 386,587.02 386.91,586.3 387.9,585.6 388.81,584.68 389.8,583.99 390.64,584.05 391.54,584.62 392.3,584.35 392.9,582.88 393.5,580.63 394.28,579.08 395.21,577.41 396,575.84 396.69,575.01 397.3,574.75 398.13,575.76 399.1,576.22 399.86,575.84 400.69,575.15 401.6,574.6 402.35,574.56 403.16,574.79 403.99,575.15 404.8,574.97 405.6,574.12 406.39,573 407.17,571.34 407.9,570.67 408.78,570.24 409.59,569.91 410.4,570.05 411.21,569.77 412.02,569.2 412.9,569.27 413.59,569.67 414.29,569.67 415.08,570.34 416,570.63 416.62,571.16 417.31,571.67 418.04,571.77 418.8,572.09 419.56,572.51 420.3,573.05 421,573.09 421.75,573.28 422.47,573.5 423.16,573.67 423.87,573.45 424.6,573.56 425.4,573.96 426.05,574.09 426.73,574.78 427.44,575.16 428.16,575.95 428.89,576.74 429.61,576.96 430.32,577.78 431,578.35 431.75,578.72 432.47,579.32 433.18,580.18 433.89,580.71 434.59,580.84 435.29,581.6 436,582.2 436.71,582.34 437.43,582.92 438.14,583.07 438.86,583.61 439.57,584.17 440.29,584.6 441,585.22 441.71,585.53 442.43,586.32 443.14,587.27 443.86,587.89 444.57,588.59 445.29,589.33 446,590.31 446.71,590.84 447.43,591.3 448.14,592.34 448.86,592.83 449.57,593.59 450.29,594.22 451,595.08 451.71,595.81 452.43,596.52 453.14,597.59 453.86,598.19 454.57,599.33 455.29,599.81 456,600.92 456.71,601.69 457.43,602.28 458.14,603.08 458.86,603.58 459.57,604.5 460.29,605.06 461,605.68 461.71,606.73 462.43,607.22 463.14,607.96 463.86,608.91 464.57,609.41 465.29,610.23 466,610.66 466.71,611.56 467.43,611.89 468.14,612.35 468.86,613.29 469.57,613.44 470.29,614.25 471,614.71 471.72,614.96 472.46,615.08 473.21,615.45 473.94,615.84 474.66,616.21 475.35,616.59 476,617.01 476.85,617.09 477.64,617.34 478.39,617.8 479.1,617.8 479.8,617.82 480.62,617.77 481.39,617.34 482.14,616.53 482.9,616.38 483.69,616.45 484.49,616.6 485.27,616.62 486,616.97 486.88,616.72 487.69,617.01 488.5,617.12 489.38,617.5 490.26,617.7 491,617.42 491.71,615.67 492.3,613.91 493.13,612.88 493.8,612.6" fill="none" stroke="#249046" stroke-width="1.2" stroke-linejoin="round"/>
<rect x="379.4" y="621.4" width="115.4" height="18" fill="#62666f" stroke="none" stroke-width="1"/>
<rect x="379.7" y="621.4" width="0.6" height="18" fill="#161616" stroke="none" stroke-width="1"/>
<rect x="380.6" y="621.4" width="1" height="18" fill="#8a8e98" stroke="none" stroke-width="1"/>
<rect x="382.4" y="621.4" width="0.5" height="18" fill="#8a8e98" stroke="none" stroke-width="1"/>
<rect x="383.4" y="621.4" width="0.8" height="18" fill="#484c54" stroke="none" stroke-width="1"/>
<rect x="384.2" y="621.4" width="0.6" height="18" fill="#c8ccd4" stroke="none" stroke-width="1"/>
<rect x="385.6" y="621.4" width="0.5" height="18" fill="#161616" stroke="none" stroke-width="1"/>
<rect x="386.9" y="621.4" width="1" height="18" fill="#484c54" stroke="none" stroke-width="1"/>
<rect x="388.2" y="621.4" width="1" height="18" fill="#8a8e98" stroke="none" stroke-width="1"/>
<rect x="389.5" y="621.4" width="1" height="18" fill="#8a8e98" stroke="none" stroke-width="1"/>
<rect x="391.3" y="621.4" width="1" height="18" fill="#c8ccd4" stroke="none" stroke-width="1"/>
<rect x="392.6" y="621.4" width="0.8" height="18" fill="#161616" stroke="none" stroke-width="1"/>
<rect x="393.4" y="621.4" width="1.2" height="18" fill="#484c54" stroke="none" stroke-width="1"/>
<rect x="394.6" y="621.4" width="0.6" height="18" fill="#c8ccd4" stroke="none" stroke-width="1"/>
<rect x="395.7" y="621.4" width="1" height="18" fill="#8a8e98" stroke="none" stroke-width="1"/>
<rect x="397.2" y="621.4" width="0.8" height="18" fill="#484c54" stroke="none" stroke-width="1"/>
<rect x="398.5" y="621.4" width="0.6" height="18" fill="#8a8e98" stroke="none" stroke-width="1"/>
<rect x="399.6" y="621.4" width="0.5" height="18" fill="#161616" stroke="none" stroke-width="1"/>
<rect x="400.1" y="621.4" width="1.2" height="18" fill="#484c54" stroke="none" stroke-width="1"/>
<rect x="401.3" y="621.4" width="0.8" height="18" fill="#484c54" stroke="none" stroke-width="1"/>
<rect x="402.1" y="621.4" width="1" height="18" fill="#8a8e98" stroke="none" stroke-width="1"/>
<rect x="403.1" y="621.4" width="1" height="18" fill="#484c54" stroke="none" stroke-width="1"/>
<rect x="404.9" y="621.4" width="1.2" height="18" fill="#c8ccd4" stroke="none" stroke-width="1"/>
<rect x="406.6" y="621.4" width="1.2" height="18" fill="#484c54" stroke="none" stroke-width="1"/>
<rect x="407.8" y="621.4" width="0.5" height="18" fill="#c8ccd4" stroke="none" stroke-width="1"/>
<rect x="408.6" y="621.4" width="1.2" height="18" fill="#484c54" stroke="none" stroke-width="1"/>
<rect x="409.8" y="621.4" width="1" height="18" fill="#c8ccd4" stroke="none" stroke-width="1"/>
<rect x="411.3" y="621.4" width="0.8" height="18" fill="#161616" stroke="none" stroke-width="1"/>
<rect x="412.4" y="621.4" width="0.8" height="18" fill="#484c54" stroke="none" stroke-width="1"/>
<rect x="414" y="621.4" width="0.6" height="18" fill="#8a8e98" stroke="none" stroke-width="1"/>
<rect x="415.4" y="621.4" width="0.5" height="18" fill="#8a8e98" stroke="none" stroke-width="1"/>
<rect x="416.4" y="621.4" width="1" height="18" fill="#161616" stroke="none" stroke-width="1"/>
<rect x="417.9" y="621.4" width="1" height="18" fill="#8a8e98" stroke="none" stroke-width="1"/>
<rect x="419.4" y="621.4" width="0.6" height="18" fill="#484c54" stroke="none" stroke-width="1"/>
<rect x="420.3" y="621.4" width="0.5" height="18" fill="#161616" stroke="none" stroke-width="1"/>
<rect x="420.8" y="621.4" width="0.5" height="18" fill="#484c54" stroke="none" stroke-width="1"/>
<rect x="422.1" y="621.4" width="1.2" height="18" fill="#484c54" stroke="none" stroke-width="1"/>
<rect x="423.8" y="621.4" width="0.5" height="18" fill="#484c54" stroke="none" stroke-width="1"/>
<rect x="424.8" y="621.4" width="1" height="18" fill="#161616" stroke="none" stroke-width="1"/>
<rect x="425.8" y="621.4" width="0.5" height="18" fill="#161616" stroke="none" stroke-width="1"/>
<rect x="426.3" y="621.4" width="1" height="18" fill="#484c54" stroke="none" stroke-width="1"/>
<rect x="427.6" y="621.4" width="0.5" height="18" fill="#161616" stroke="none" stroke-width="1"/>
<rect x="428.4" y="621.4" width="1" height="18" fill="#484c54" stroke="none" stroke-width="1"/>
<rect x="430.2" y="621.4" width="1.2" height="18" fill="#c8ccd4" stroke="none" stroke-width="1"/>
<rect x="431.4" y="621.4" width="0.6" height="18" fill="#484c54" stroke="none" stroke-width="1"/>
<rect x="432.5" y="621.4" width="0.6" height="18" fill="#161616" stroke="none" stroke-width="1"/>
<rect x="433.4" y="621.4" width="1.2" height="18" fill="#484c54" stroke="none" stroke-width="1"/>
<rect x="434.6" y="621.4" width="0.8" height="18" fill="#484c54" stroke="none" stroke-width="1"/>
<rect x="436.2" y="621.4" width="0.8" height="18" fill="#161616" stroke="none" stroke-width="1"/>
<rect x="437.8" y="621.4" width="0.8" height="18" fill="#484c54" stroke="none" stroke-width="1"/>
<rect x="439.4" y="621.4" width="0.5" height="18" fill="#484c54" stroke="none" stroke-width="1"/>
<rect x="439.9" y="621.4" width="0.5" height="18" fill="#484c54" stroke="none" stroke-width="1"/>
<rect x="440.4" y="621.4" width="1" height="18" fill="#c8ccd4" stroke="none" stroke-width="1"/>
<rect x="441.9" y="621.4" width="0.5" height="18" fill="#484c54" stroke="none" stroke-width="1"/>
<rect x="443.2" y="621.4" width="1.2" height="18" fill="#484c54" stroke="none" stroke-width="1"/>
<rect x="444.4" y="621.4" width="1.2" height="18" fill="#484c54" stroke="none" stroke-width="1"/>
<rect x="446.1" y="621.4" width="0.5" height="18" fill="#c8ccd4" stroke="none" stroke-width="1"/>
<rect x="447.4" y="621.4" width="1" height="18" fill="#161616" stroke="none" stroke-width="1"/>
<rect x="448.4" y="621.4" width="1.2" height="18" fill="#8a8e98" stroke="none" stroke-width="1"/>
<rect x="449.9" y="621.4" width="1" height="18" fill="#484c54" stroke="none" stroke-width="1"/>
<rect x="450.9" y="621.4" width="1.2" height="18" fill="#8a8e98" stroke="none" stroke-width="1"/>
<rect x="452.6" y="621.4" width="0.8" height="18" fill="#8a8e98" stroke="none" stroke-width="1"/>
<rect x="453.4" y="621.4" width="0.8" height="18" fill="#8a8e98" stroke="none" stroke-width="1"/>
<rect x="454.2" y="621.4" width="1" height="18" fill="#c8ccd4" stroke="none" stroke-width="1"/>
<rect x="455.2" y="621.4" width="0.6" height="18" fill="#484c54" stroke="none" stroke-width="1"/>
<rect x="456.1" y="621.4" width="0.6" height="18" fill="#8a8e98" stroke="none" stroke-width="1"/>
<rect x="457.2" y="621.4" width="1.2" height="18" fill="#161616" stroke="none" stroke-width="1"/>
<rect x="458.4" y="621.4" width="0.5" height="18" fill="#484c54" stroke="none" stroke-width="1"/>
<rect x="459.4" y="621.4" width="0.5" height="18" fill="#161616" stroke="none" stroke-width="1"/>
<rect x="460.4" y="621.4" width="0.5" height="18" fill="#161616" stroke="none" stroke-width="1"/>
<rect x="461.4" y="621.4" width="1" height="18" fill="#484c54" stroke="none" stroke-width="1"/>
<rect x="462.7" y="621.4" width="1.2" height="18" fill="#8a8e98" stroke="none" stroke-width="1"/>
<rect x="464.2" y="621.4" width="1" height="18" fill="#484c54" stroke="none" stroke-width="1"/>
<rect x="465.7" y="621.4" width="0.6" height="18" fill="#161616" stroke="none" stroke-width="1"/>
<rect x="466.8" y="621.4" width="0.5" height="18" fill="#161616" stroke="none" stroke-width="1"/>
<rect x="467.8" y="621.4" width="0.5" height="18" fill="#484c54" stroke="none" stroke-width="1"/>
<rect x="469.1" y="621.4" width="0.8" height="18" fill="#161616" stroke="none" stroke-width="1"/>
<rect x="470.4" y="621.4" width="1" height="18" fill="#c8ccd4" stroke="none" stroke-width="1"/>
<rect x="471.9" y="621.4" width="0.8" height="18" fill="#484c54" stroke="none" stroke-width="1"/>
<rect x="473.2" y="621.4" width="1" height="18" fill="#8a8e98" stroke="none" stroke-width="1"/>
<rect x="474.7" y="621.4" width="1.2" height="18" fill="#c8ccd4" stroke="none" stroke-width="1"/>
<rect x="475.9" y="621.4" width="1" height="18" fill="#161616" stroke="none" stroke-width="1"/>
<rect x="477.2" y="621.4" width="0.5" height="18" fill="#c8ccd4" stroke="none" stroke-width="1"/>
<rect x="478.5" y="621.4" width="0.5" height="18" fill="#484c54" stroke="none" stroke-width="1"/>
<rect x="479.3" y="621.4" width="1" height="18" fill="#161616" stroke="none" stroke-width="1"/>
<rect x="481.1" y="621.4" width="1.2" height="18" fill="#161616" stroke="none" stroke-width="1"/>
<rect x="483.1" y="621.4" width="0.5" height="18" fill="#8a8e98" stroke="none" stroke-width="1"/>
<rect x="484.4" y="621.4" width="0.6" height="18" fill="#c8ccd4" stroke="none" stroke-width="1"/>
<rect x="485.3" y="621.4" width="1" height="18" fill="#161616" stroke="none" stroke-width="1"/>
<rect x="486.6" y="621.4" width="0.5" height="18" fill="#161616" stroke="none" stroke-width="1"/>
<rect x="487.1" y="621.4" width="0.5" height="18" fill="#161616" stroke="none" stroke-width="1"/>
<rect x="487.9" y="621.4" width="0.8" height="18" fill="#8a8e98" stroke="none" stroke-width="1"/>
<rect x="489" y="621.4" width="1.2" height="18" fill="#484c54" stroke="none" stroke-width="1"/>
<rect x="490.5" y="621.4" width="1.2" height="18" fill="#161616" stroke="none" stroke-width="1"/>
<rect x="492" y="621.4" width="0.8" height="18" fill="#8a8e98" stroke="none" stroke-width="1"/>
<rect x="493.6" y="621.4" width="1" height="18" fill="#161616" stroke="none" stroke-width="1"/>
<rect x="494.8" y="621.4" width="6" height="22" fill="none" stroke="#e4e4e4" stroke-width="0.6"/>
<rect x="379.4" y="639.4" width="115.4" height="4" fill="url(#rb)" stroke="none" stroke-width="1"/>
<text x="358.3" y="593.8" font-size="8.2" text-anchor="middle" fill="#333" transform="rotate(-90 358.3 593.8)" textLength="64.3" lengthAdjust="spacingAndGlyphs">Enrichment score (ES)</text>
<text x="439.8" y="651.6" font-size="8.2" text-anchor="middle" fill="#222" textLength="62.1" lengthAdjust="spacingAndGlyphs">FDR: 0.05 - <tspan font-style="italic">P</tspan>: .009</text>
<text x="439.2" y="661.4" font-size="8.2" text-anchor="middle" fill="#222" textLength="32.7" lengthAdjust="spacingAndGlyphs">NES: 1.47</text>
<rect x="0.5" y="0.5" width="519" height="670" fill="none" stroke="#4a4a4a" stroke-width="1"/>
</svg>
</body></html>
